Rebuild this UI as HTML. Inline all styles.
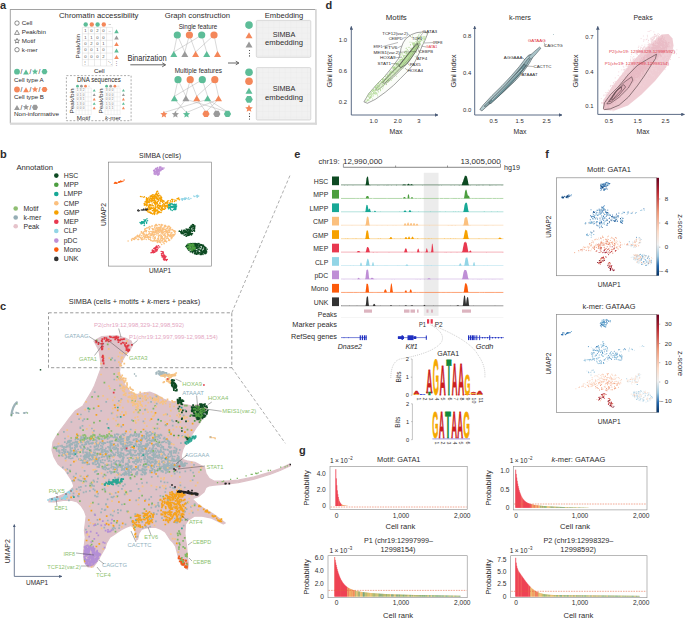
<!DOCTYPE html>
<html><head><meta charset="utf-8"><title>SIMBA figure</title>
<style>
html,body{margin:0;padding:0;background:#fff;}
body{width:685px;height:619px;overflow:hidden;}
svg{display:block;font-family:"Liberation Sans",sans-serif;}
</style></head><body>
<svg width="685" height="619" viewBox="0 0 685 619" fill="#2e2c2d">
<defs>
<marker id="ah" viewBox="0 0 10 10" refX="9" refY="5" markerWidth="4" markerHeight="4" orient="auto"><path d="M0 0L10 5L0 10z" fill="#4a5b78"/></marker>
<marker id="ahg" viewBox="0 0 10 10" refX="9" refY="5" markerWidth="4" markerHeight="4" orient="auto"><path d="M0 0L10 5L0 10z" fill="#555"/></marker>
<marker id="ahs" viewBox="0 0 10 10" refX="9" refY="5" markerWidth="5" markerHeight="5" orient="auto"><path d="M0 1L10 5L0 9z" fill="#333"/></marker>
<pattern id="grid" width="5.6" height="5.6" patternUnits="userSpaceOnUse"><path d="M5.6 0V5.6H0" fill="none" stroke="#e2e2e2" stroke-width="0.4"/></pattern>
</defs>
<text x="0.0" y="9.0" font-size="11" font-weight="bold">a</text>
<line x1="10.3" y1="9.5" x2="316.0" y2="9.5" stroke="#8a8a8a" stroke-width="0.8"/>
<line x1="10.3" y1="9.1" x2="10.3" y2="123.5" stroke="#8a8a8a" stroke-width="0.8"/>
<rect x="315.0" y="9.1" width="1.8" height="115.6" fill="#d8d8d8"/>
<rect x="10.0" y="122.6" width="306.8" height="2.2" fill="#d8d8d8"/>
<circle cx="17.0" cy="23.1" r="2.2" fill="none" stroke="#333" stroke-width="0.55"/>
<text x="21.8" y="25.2" font-size="6.2">Cell</text>
<polygon points="17.0,30.2 19.4,34.4 14.6,34.4" fill="none" stroke="#333" stroke-width="0.55" stroke-linejoin="round"/>
<text x="21.8" y="34.2" font-size="6.2">Peak/bin</text>
<polygon points="17.0,38.4 17.7,40.1 19.5,40.2 18.1,41.4 18.5,43.1 17.0,42.2 15.5,43.1 15.9,41.4 14.5,40.2 16.3,40.1" fill="none" stroke="#333" stroke-width="0.55" stroke-linejoin="round"/>
<text x="21.8" y="43.0" font-size="6.2">Motif</text>
<circle cx="17.0" cy="49.7" r="2.2" fill="none" stroke="#333" stroke-width="0.55"/>
<text x="21.8" y="51.8" font-size="6.2">k-mer</text>
<circle cx="17.0" cy="71.7" r="2.9" fill="#5dbd98"/>
<text x="20.6" y="74.3" font-size="6.5">/</text>
<polygon points="26.0,69.4 28.9,74.4 23.1,74.4" fill="#5dbd98"/>
<text x="29.6" y="74.3" font-size="6.5">/</text>
<polygon points="35.0,68.4 35.9,70.5 38.1,70.7 36.4,72.2 36.9,74.4 35.0,73.2 33.1,74.4 33.6,72.2 31.9,70.7 34.1,70.5" fill="#5dbd98"/>
<text x="38.6" y="74.3" font-size="6.5">/</text>
<polygon points="47.5,71.7 46.0,74.3 43.0,74.3 41.5,71.7 43.0,69.1 46.0,69.1" fill="#5dbd98"/>
<text x="14.0" y="81.6" font-size="6.2">Cell type A</text>
<circle cx="17.0" cy="89.5" r="2.9" fill="#f4875a"/>
<text x="20.6" y="92.1" font-size="6.5">/</text>
<polygon points="26.0,87.2 28.9,92.2 23.1,92.2" fill="#f4875a"/>
<text x="29.6" y="92.1" font-size="6.5">/</text>
<polygon points="35.0,86.2 35.9,88.3 38.1,88.5 36.4,90.0 36.9,92.2 35.0,91.0 33.1,92.2 33.6,90.0 31.9,88.5 34.1,88.3" fill="#f4875a"/>
<text x="38.6" y="92.1" font-size="6.5">/</text>
<polygon points="47.5,89.5 46.0,92.1 43.0,92.1 41.5,89.5 43.0,86.9 46.0,86.9" fill="#f4875a"/>
<text x="14.0" y="98.5" font-size="6.2">Cell type B</text>
<polygon points="17.0,105.0 19.9,110.0 14.1,110.0" fill="#9a9a9a"/>
<text x="20.6" y="109.9" font-size="6.5">/</text>
<polygon points="26.0,104.0 26.9,106.1 29.1,106.3 27.4,107.8 27.9,110.0 26.0,108.8 24.1,110.0 24.6,107.8 22.9,106.3 25.1,106.1" fill="#9a9a9a"/>
<text x="29.6" y="109.9" font-size="6.5">/</text>
<polygon points="38.0,107.3 36.5,109.9 33.5,109.9 32.0,107.3 33.5,104.7 36.5,104.7" fill="#9a9a9a"/>
<text x="14.0" y="116.1" font-size="6.2" textLength="45.0" lengthAdjust="spacingAndGlyphs">Non-informative</text>
<text x="59.0" y="17.5" font-size="8.1" textLength="79.5" lengthAdjust="spacingAndGlyphs">Chromatin accessibility</text>
<line x1="82.4" y1="27.4" x2="82.4" y2="66.0" stroke="#cfcfcf" stroke-width="0.4"/>
<line x1="88.4" y1="27.4" x2="88.4" y2="66.0" stroke="#cfcfcf" stroke-width="0.4"/>
<line x1="94.5" y1="27.4" x2="94.5" y2="66.0" stroke="#cfcfcf" stroke-width="0.4"/>
<line x1="100.5" y1="27.4" x2="100.5" y2="66.0" stroke="#cfcfcf" stroke-width="0.4"/>
<line x1="106.6" y1="27.4" x2="106.6" y2="66.0" stroke="#cfcfcf" stroke-width="0.4"/>
<line x1="112.6" y1="27.4" x2="112.6" y2="66.0" stroke="#cfcfcf" stroke-width="0.4"/>
<line x1="82.4" y1="27.4" x2="112.6" y2="27.4" stroke="#cfcfcf" stroke-width="0.4"/>
<line x1="82.4" y1="33.8" x2="112.6" y2="33.8" stroke="#cfcfcf" stroke-width="0.4"/>
<line x1="82.4" y1="40.3" x2="112.6" y2="40.3" stroke="#cfcfcf" stroke-width="0.4"/>
<line x1="82.4" y1="46.7" x2="112.6" y2="46.7" stroke="#cfcfcf" stroke-width="0.4"/>
<line x1="82.4" y1="53.1" x2="112.6" y2="53.1" stroke="#cfcfcf" stroke-width="0.4"/>
<line x1="82.4" y1="59.6" x2="112.6" y2="59.6" stroke="#cfcfcf" stroke-width="0.4"/>
<line x1="82.4" y1="66.0" x2="112.6" y2="66.0" stroke="#cfcfcf" stroke-width="0.4"/>
<text x="85.4" y="32.1" font-size="4.2" text-anchor="middle" fill="#555">1</text>
<text x="91.5" y="32.1" font-size="4.2" text-anchor="middle" fill="#555">0</text>
<text x="97.5" y="32.1" font-size="4.2" text-anchor="middle" fill="#555">2</text>
<text x="103.5" y="32.1" font-size="4.2" text-anchor="middle" fill="#555">0</text>
<text x="85.4" y="38.5" font-size="4.2" text-anchor="middle" fill="#555">1</text>
<text x="91.5" y="38.5" font-size="4.2" text-anchor="middle" fill="#555">1</text>
<text x="97.5" y="38.5" font-size="4.2" text-anchor="middle" fill="#555">0</text>
<text x="103.5" y="38.5" font-size="4.2" text-anchor="middle" fill="#555">0</text>
<text x="85.4" y="45.0" font-size="4.2" text-anchor="middle" fill="#555">0</text>
<text x="91.5" y="45.0" font-size="4.2" text-anchor="middle" fill="#555">2</text>
<text x="97.5" y="45.0" font-size="4.2" text-anchor="middle" fill="#555">0</text>
<text x="103.5" y="45.0" font-size="4.2" text-anchor="middle" fill="#555">1</text>
<text x="85.4" y="51.4" font-size="4.2" text-anchor="middle" fill="#555">0</text>
<text x="91.5" y="51.4" font-size="4.2" text-anchor="middle" fill="#555">0</text>
<text x="97.5" y="51.4" font-size="4.2" text-anchor="middle" fill="#555">1</text>
<text x="103.5" y="51.4" font-size="4.2" text-anchor="middle" fill="#555">0</text>
<text x="85.4" y="57.9" font-size="4.2" text-anchor="middle" fill="#555">0</text>
<text x="91.5" y="57.9" font-size="4.2" text-anchor="middle" fill="#555">0</text>
<text x="97.5" y="57.9" font-size="4.2" text-anchor="middle" fill="#555">0</text>
<text x="103.5" y="57.9" font-size="4.2" text-anchor="middle" fill="#555">2</text>
<text x="109.6" y="32.1" font-size="4.2" text-anchor="middle" fill="#777">–</text>
<text x="85.4" y="64.3" font-size="4.2" text-anchor="middle" fill="#777">⋮</text>
<text x="109.6" y="64.3" font-size="4.2" text-anchor="middle" fill="#777">⋱</text>
<circle cx="85.7" cy="24.5" r="2.2" fill="#5dbd98"/>
<circle cx="91.8" cy="24.5" r="2.2" fill="#f4875a"/>
<circle cx="97.6" cy="24.5" r="2.2" fill="#5dbd98"/>
<circle cx="103.8" cy="24.5" r="2.2" fill="#f4875a"/>
<line x1="108.5" y1="24.5" x2="111.0" y2="24.5" stroke="#888" stroke-width="0.4"/>
<polygon points="116.5,29.3 118.8,33.3 114.2,33.3" fill="#5dbd98"/>
<polygon points="116.5,35.6 118.8,39.6 114.2,39.6" fill="#9a9a9a"/>
<polygon points="116.5,42.1 118.8,46.1 114.2,46.1" fill="#f4875a"/>
<polygon points="116.5,48.5 118.8,52.5 114.2,52.5" fill="#5dbd98"/>
<polygon points="116.5,55.0 118.8,59.0 114.2,59.0" fill="#f4875a"/>
<text x="116.5" y="64.5" font-size="5" text-anchor="middle" fill="#777">⋮</text>
<text x="80.5" y="46.2" font-size="6.2" text-anchor="middle" textLength="24.5" lengthAdjust="spacingAndGlyphs" transform="rotate(-90 80.5 46.2)">Peak/bin</text>
<text x="99.3" y="72.6" font-size="6.2" text-anchor="middle">Cell</text>
<text x="127.4" y="60.7" font-size="8.2" textLength="39.2" lengthAdjust="spacingAndGlyphs">Binarization</text>
<line x1="130.3" y1="64.8" x2="165.3" y2="64.8" stroke="#555" stroke-width="0.9"/>
<path d="M162.2 62.8L165.6 64.8L162.2 66.8" fill="none" stroke="#555" stroke-width="0.9"/>
<rect x="66.4" y="75.6" width="64.7" height="45.1" fill="none" stroke="#777" stroke-width="0.6" stroke-dasharray="2,1.6"/>
<text x="98.8" y="81.8" font-size="6.4" text-anchor="middle" textLength="43.8" lengthAdjust="spacingAndGlyphs">DNA sequences</text>
<line x1="76.0" y1="88.0" x2="76.0" y2="114.6" stroke="#d5d5d5" stroke-width="0.3"/>
<line x1="79.1" y1="88.0" x2="79.1" y2="114.6" stroke="#d5d5d5" stroke-width="0.3"/>
<line x1="82.1" y1="88.0" x2="82.1" y2="114.6" stroke="#d5d5d5" stroke-width="0.3"/>
<line x1="85.2" y1="88.0" x2="85.2" y2="114.6" stroke="#d5d5d5" stroke-width="0.3"/>
<line x1="88.2" y1="88.0" x2="88.2" y2="114.6" stroke="#d5d5d5" stroke-width="0.3"/>
<line x1="91.3" y1="88.0" x2="91.3" y2="114.6" stroke="#d5d5d5" stroke-width="0.3"/>
<line x1="76.0" y1="88.0" x2="91.3" y2="88.0" stroke="#d5d5d5" stroke-width="0.3"/>
<line x1="76.0" y1="92.4" x2="91.3" y2="92.4" stroke="#d5d5d5" stroke-width="0.3"/>
<line x1="76.0" y1="96.9" x2="91.3" y2="96.9" stroke="#d5d5d5" stroke-width="0.3"/>
<line x1="76.0" y1="101.3" x2="91.3" y2="101.3" stroke="#d5d5d5" stroke-width="0.3"/>
<line x1="76.0" y1="105.7" x2="91.3" y2="105.7" stroke="#d5d5d5" stroke-width="0.3"/>
<line x1="76.0" y1="110.2" x2="91.3" y2="110.2" stroke="#d5d5d5" stroke-width="0.3"/>
<line x1="76.0" y1="114.6" x2="91.3" y2="114.6" stroke="#d5d5d5" stroke-width="0.3"/>
<text x="77.5" y="91.3" font-size="3.0" text-anchor="middle" fill="#777">1</text>
<text x="80.6" y="91.3" font-size="3.0" text-anchor="middle" fill="#777">3</text>
<text x="83.7" y="91.3" font-size="3.0" text-anchor="middle" fill="#777">2</text>
<text x="77.5" y="95.8" font-size="3.0" text-anchor="middle" fill="#777">0</text>
<text x="80.6" y="95.8" font-size="3.0" text-anchor="middle" fill="#777">1</text>
<text x="83.7" y="95.8" font-size="3.0" text-anchor="middle" fill="#777">0</text>
<text x="77.5" y="100.2" font-size="3.0" text-anchor="middle" fill="#777">0</text>
<text x="80.6" y="100.2" font-size="3.0" text-anchor="middle" fill="#777">3</text>
<text x="83.7" y="100.2" font-size="3.0" text-anchor="middle" fill="#777">1</text>
<text x="77.5" y="104.6" font-size="3.0" text-anchor="middle" fill="#777">1</text>
<text x="80.6" y="104.6" font-size="3.0" text-anchor="middle" fill="#777">3</text>
<text x="83.7" y="104.6" font-size="3.0" text-anchor="middle" fill="#777">0</text>
<text x="77.5" y="109.0" font-size="3.0" text-anchor="middle" fill="#777">0</text>
<text x="80.6" y="109.0" font-size="3.0" text-anchor="middle" fill="#777">0</text>
<text x="83.7" y="109.0" font-size="3.0" text-anchor="middle" fill="#777">0</text>
<circle cx="77.5" cy="86.2" r="1.4" fill="#5dbd98"/>
<circle cx="81.4" cy="86.2" r="1.4" fill="#9a9a9a"/>
<circle cx="85.5" cy="86.2" r="1.4" fill="#f4875a"/>
<line x1="88.0" y1="86.2" x2="90.0" y2="86.2" stroke="#999" stroke-width="0.3"/>
<polygon points="94.2,88.9 95.7,91.5 92.7,91.5" fill="#5dbd98"/>
<polygon points="94.2,93.3 95.7,96.0 92.7,96.0" fill="#9a9a9a"/>
<polygon points="94.2,97.8 95.7,100.4 92.7,100.4" fill="#f4875a"/>
<polygon points="94.2,102.2 95.7,104.8 92.7,104.8" fill="#5dbd98"/>
<polygon points="94.2,106.6 95.7,109.3 92.7,109.3" fill="#f4875a"/>
<line x1="105.0" y1="88.0" x2="105.0" y2="114.6" stroke="#d5d5d5" stroke-width="0.3"/>
<line x1="108.0" y1="88.0" x2="108.0" y2="114.6" stroke="#d5d5d5" stroke-width="0.3"/>
<line x1="111.1" y1="88.0" x2="111.1" y2="114.6" stroke="#d5d5d5" stroke-width="0.3"/>
<line x1="114.1" y1="88.0" x2="114.1" y2="114.6" stroke="#d5d5d5" stroke-width="0.3"/>
<line x1="117.2" y1="88.0" x2="117.2" y2="114.6" stroke="#d5d5d5" stroke-width="0.3"/>
<line x1="120.2" y1="88.0" x2="120.2" y2="114.6" stroke="#d5d5d5" stroke-width="0.3"/>
<line x1="105.0" y1="88.0" x2="120.2" y2="88.0" stroke="#d5d5d5" stroke-width="0.3"/>
<line x1="105.0" y1="92.4" x2="120.2" y2="92.4" stroke="#d5d5d5" stroke-width="0.3"/>
<line x1="105.0" y1="96.9" x2="120.2" y2="96.9" stroke="#d5d5d5" stroke-width="0.3"/>
<line x1="105.0" y1="101.3" x2="120.2" y2="101.3" stroke="#d5d5d5" stroke-width="0.3"/>
<line x1="105.0" y1="105.7" x2="120.2" y2="105.7" stroke="#d5d5d5" stroke-width="0.3"/>
<line x1="105.0" y1="110.2" x2="120.2" y2="110.2" stroke="#d5d5d5" stroke-width="0.3"/>
<line x1="105.0" y1="114.6" x2="120.2" y2="114.6" stroke="#d5d5d5" stroke-width="0.3"/>
<text x="106.5" y="91.3" font-size="3.0" text-anchor="middle" fill="#777">3</text>
<text x="109.6" y="91.3" font-size="3.0" text-anchor="middle" fill="#777">0</text>
<text x="112.6" y="91.3" font-size="3.0" text-anchor="middle" fill="#777">0</text>
<text x="106.5" y="95.8" font-size="3.0" text-anchor="middle" fill="#777">3</text>
<text x="109.6" y="95.8" font-size="3.0" text-anchor="middle" fill="#777">0</text>
<text x="112.6" y="95.8" font-size="3.0" text-anchor="middle" fill="#777">0</text>
<text x="106.5" y="100.2" font-size="3.0" text-anchor="middle" fill="#777">0</text>
<text x="109.6" y="100.2" font-size="3.0" text-anchor="middle" fill="#777">0</text>
<text x="112.6" y="100.2" font-size="3.0" text-anchor="middle" fill="#777">2</text>
<text x="106.5" y="104.6" font-size="3.0" text-anchor="middle" fill="#777">1</text>
<text x="109.6" y="104.6" font-size="3.0" text-anchor="middle" fill="#777">5</text>
<text x="112.6" y="104.6" font-size="3.0" text-anchor="middle" fill="#777">0</text>
<text x="106.5" y="109.0" font-size="3.0" text-anchor="middle" fill="#777">0</text>
<text x="109.6" y="109.0" font-size="3.0" text-anchor="middle" fill="#777">1</text>
<text x="112.6" y="109.0" font-size="3.0" text-anchor="middle" fill="#777">1</text>
<circle cx="106.6" cy="86.2" r="1.4" fill="#5dbd98"/>
<circle cx="110.7" cy="86.2" r="1.4" fill="#9a9a9a"/>
<circle cx="114.9" cy="86.2" r="1.4" fill="#f4875a"/>
<line x1="117.4" y1="86.2" x2="119.4" y2="86.2" stroke="#999" stroke-width="0.3"/>
<polygon points="123.4,88.9 124.9,91.5 121.9,91.5" fill="#5dbd98"/>
<polygon points="123.4,93.3 124.9,96.0 121.9,96.0" fill="#9a9a9a"/>
<polygon points="123.4,97.8 124.9,100.4 121.9,100.4" fill="#f4875a"/>
<polygon points="123.4,102.2 124.9,104.8 121.9,104.8" fill="#5dbd98"/>
<polygon points="123.4,106.6 124.9,109.3 121.9,109.3" fill="#f4875a"/>
<text x="73.8" y="101.0" font-size="6.2" text-anchor="middle" textLength="25.0" lengthAdjust="spacingAndGlyphs" transform="rotate(-90 73.8 101.0)">Peak/bin</text>
<text x="103.0" y="101.0" font-size="6.2" text-anchor="middle" textLength="25.0" lengthAdjust="spacingAndGlyphs" transform="rotate(-90 103.0 101.0)">Peak/bin</text>
<text x="83.5" y="119.8" font-size="6.2" text-anchor="middle">Motif</text>
<text x="113" y="119.8" font-size="6.2" text-anchor="middle"><tspan font-style="italic">k</tspan>-mer</text>
<text x="164.7" y="17.5" font-size="8.1" textLength="65.3" lengthAdjust="spacingAndGlyphs">Graph construction</text>
<text x="178.7" y="28.6" font-size="6.4" textLength="38.5" lengthAdjust="spacingAndGlyphs">Single feature</text>
<line x1="177.3" y1="35.0" x2="173.8" y2="52.0" stroke="#aaa" stroke-width="0.45"/>
<line x1="177.3" y1="35.0" x2="184.8" y2="52.0" stroke="#aaa" stroke-width="0.45"/>
<line x1="189.4" y1="35.0" x2="184.8" y2="52.0" stroke="#aaa" stroke-width="0.45"/>
<line x1="189.4" y1="35.0" x2="195.6" y2="52.0" stroke="#aaa" stroke-width="0.45"/>
<line x1="201.7" y1="35.0" x2="173.8" y2="52.0" stroke="#aaa" stroke-width="0.45"/>
<line x1="201.7" y1="35.0" x2="206.7" y2="52.0" stroke="#aaa" stroke-width="0.45"/>
<line x1="214.0" y1="35.0" x2="195.6" y2="52.0" stroke="#aaa" stroke-width="0.45"/>
<line x1="214.0" y1="35.0" x2="217.5" y2="52.0" stroke="#aaa" stroke-width="0.45"/>
<circle cx="177.3" cy="35.0" r="3.6" fill="#5dbd98"/>
<circle cx="189.4" cy="35.0" r="3.6" fill="#f4875a"/>
<circle cx="201.7" cy="35.0" r="3.6" fill="#5dbd98"/>
<circle cx="214.0" cy="35.0" r="3.6" fill="#f4875a"/>
<polygon points="173.8,51.0 177.3,57.0 170.3,57.0" fill="#5dbd98"/>
<polygon points="184.8,51.0 188.3,57.0 181.3,57.0" fill="#9a9a9a"/>
<polygon points="195.6,51.0 199.1,57.0 192.1,57.0" fill="#f4875a"/>
<polygon points="206.7,51.0 210.2,57.0 203.2,57.0" fill="#5dbd98"/>
<polygon points="217.5,51.0 221.0,57.0 214.0,57.0" fill="#f4875a"/>
<text x="174.7" y="72.5" font-size="6.4" textLength="47.3" lengthAdjust="spacingAndGlyphs">Multiple features</text>
<line x1="178.0" y1="79.7" x2="174.4" y2="96.3" stroke="#aaa" stroke-width="0.45"/>
<line x1="178.0" y1="79.7" x2="185.9" y2="96.3" stroke="#aaa" stroke-width="0.45"/>
<line x1="190.2" y1="79.7" x2="185.9" y2="96.3" stroke="#aaa" stroke-width="0.45"/>
<line x1="190.2" y1="79.7" x2="196.8" y2="96.3" stroke="#aaa" stroke-width="0.45"/>
<line x1="202.3" y1="79.7" x2="174.4" y2="96.3" stroke="#aaa" stroke-width="0.45"/>
<line x1="202.3" y1="79.7" x2="207.6" y2="96.3" stroke="#aaa" stroke-width="0.45"/>
<line x1="214.8" y1="79.7" x2="196.8" y2="96.3" stroke="#aaa" stroke-width="0.45"/>
<line x1="214.8" y1="79.7" x2="218.5" y2="96.3" stroke="#aaa" stroke-width="0.45"/>
<line x1="207.6" y1="99.3" x2="163.9" y2="112.5" stroke="#aaa" stroke-width="0.45"/>
<line x1="185.9" y1="99.3" x2="175.4" y2="112.5" stroke="#aaa" stroke-width="0.45"/>
<line x1="174.4" y1="99.3" x2="186.5" y2="112.5" stroke="#aaa" stroke-width="0.45"/>
<line x1="218.5" y1="99.3" x2="186.5" y2="112.5" stroke="#aaa" stroke-width="0.45"/>
<line x1="196.8" y1="99.3" x2="206.0" y2="111.9" stroke="#aaa" stroke-width="0.45"/>
<line x1="207.6" y1="99.3" x2="216.8" y2="111.9" stroke="#aaa" stroke-width="0.45"/>
<line x1="207.6" y1="99.3" x2="227.5" y2="111.9" stroke="#aaa" stroke-width="0.45"/>
<line x1="218.5" y1="99.3" x2="206.0" y2="111.9" stroke="#aaa" stroke-width="0.45"/>
<line x1="185.9" y1="99.3" x2="227.5" y2="111.9" stroke="#aaa" stroke-width="0.45"/>
<circle cx="178.0" cy="79.7" r="3.6" fill="#5dbd98"/>
<circle cx="190.2" cy="79.7" r="3.6" fill="#f4875a"/>
<circle cx="202.3" cy="79.7" r="3.6" fill="#5dbd98"/>
<circle cx="214.8" cy="79.7" r="3.6" fill="#f4875a"/>
<polygon points="174.4,95.3 177.9,101.3 170.9,101.3" fill="#5dbd98"/>
<polygon points="185.9,95.3 189.4,101.3 182.4,101.3" fill="#9a9a9a"/>
<polygon points="196.8,95.3 200.3,101.3 193.3,101.3" fill="#f4875a"/>
<polygon points="207.6,95.3 211.1,101.3 204.1,101.3" fill="#5dbd98"/>
<polygon points="218.5,95.3 222.0,101.3 215.0,101.3" fill="#f4875a"/>
<polygon points="163.9,110.7 164.9,113.1 167.5,113.3 165.5,115.0 166.1,117.6 163.9,116.2 161.7,117.6 162.3,115.0 160.3,113.3 162.9,113.1" fill="#f4875a"/>
<polygon points="175.4,110.7 176.4,113.1 179.0,113.3 177.0,115.0 177.6,117.6 175.4,116.2 173.2,117.6 173.8,115.0 171.8,113.3 174.4,113.1" fill="#9a9a9a"/>
<polygon points="186.5,110.7 187.5,113.1 190.1,113.3 188.1,115.0 188.7,117.6 186.5,116.2 184.3,117.6 184.9,115.0 182.9,113.3 185.5,113.1" fill="#5dbd98"/>
<polygon points="209.6,113.9 207.8,117.0 204.2,117.0 202.4,113.9 204.2,110.8 207.8,110.8" fill="#f4875a"/>
<polygon points="220.4,113.9 218.6,117.0 215.0,117.0 213.2,113.9 215.0,110.8 218.6,110.8" fill="#9a9a9a"/>
<polygon points="231.1,113.9 229.3,117.0 225.7,117.0 223.9,113.9 225.7,110.8 229.3,110.8" fill="#5dbd98"/>
<line x1="228.0" y1="63.0" x2="238.6" y2="63.0" stroke="#555" stroke-width="0.9"/>
<path d="M235.8 61.2L238.9 63.0L235.8 64.8" fill="none" stroke="#555" stroke-width="0.9"/>
<text x="264.8" y="17.5" font-size="8.1" textLength="38.5" lengthAdjust="spacingAndGlyphs">Embedding</text>
<rect x="256.3" y="20.4" width="54.5" height="36.9" rx="1.2" fill="#f1f1f1" stroke="#c4c4c4" stroke-width="0.6"/>
<rect x="256.6" y="20.7" width="53.9" height="36.3" fill="url(#grid)"/>
<rect x="256.3" y="67.6" width="54.5" height="52.4" rx="1.2" fill="#f1f1f1" stroke="#c4c4c4" stroke-width="0.6"/>
<rect x="256.6" y="67.9" width="53.9" height="51.8" fill="url(#grid)"/>
<text x="284.0" y="36.7" font-size="7.4" text-anchor="middle" textLength="22.5" lengthAdjust="spacingAndGlyphs">SIMBA</text>
<text x="284.0" y="45.3" font-size="7.4" text-anchor="middle" textLength="38.0" lengthAdjust="spacingAndGlyphs">embedding</text>
<text x="284.0" y="91.3" font-size="7.4" text-anchor="middle" textLength="22.5" lengthAdjust="spacingAndGlyphs">SIMBA</text>
<text x="284.0" y="99.9" font-size="7.4" text-anchor="middle" textLength="38.0" lengthAdjust="spacingAndGlyphs">embedding</text>
<circle cx="249.0" cy="25.1" r="3.8" fill="#5dbd98"/>
<polygon points="249.0,32.2 252.5,38.2 245.5,38.2" fill="#f4875a"/>
<polygon points="249.0,41.6 252.5,47.6 245.5,47.6" fill="#9a9a9a"/>
<circle cx="249.5" cy="50.5" r="0.55" fill="#333"/>
<circle cx="249.5" cy="53.2" r="0.55" fill="#333"/>
<circle cx="249.5" cy="55.9" r="0.55" fill="#333"/>
<circle cx="249.0" cy="72.3" r="3.8" fill="#5dbd98"/>
<circle cx="249.0" cy="81.3" r="3.8" fill="#f4875a"/>
<polygon points="249.0,87.8 252.5,93.8 245.5,93.8" fill="#5dbd98"/>
<polygon points="252.8,99.4 250.9,102.7 247.1,102.7 245.2,99.4 247.1,96.1 250.9,96.1" fill="#5dbd98"/>
<polygon points="249.0,104.6 250.1,107.1 252.8,107.4 250.7,109.2 251.4,111.8 249.0,110.4 246.6,111.8 247.3,109.2 245.2,107.4 247.9,107.1" fill="#f4875a"/>
<circle cx="249.5" cy="113.8" r="0.55" fill="#333"/>
<circle cx="249.5" cy="116.4" r="0.55" fill="#333"/>
<circle cx="249.5" cy="119.0" r="0.55" fill="#333"/>
<text x="0.0" y="157.6" font-size="11" font-weight="bold">b</text>
<text x="16.4" y="169.6" font-size="6.9" textLength="36.6" lengthAdjust="spacingAndGlyphs">Annotation</text>
<circle cx="56.3" cy="175.6" r="2.3" fill="#0d4a22"/>
<text x="63.7" y="178.0" font-size="6.9">HSC</text>
<circle cx="56.3" cy="184.8" r="2.3" fill="#4c9e3f"/>
<text x="63.7" y="187.2" font-size="6.9">MPP</text>
<circle cx="56.3" cy="194.0" r="2.3" fill="#17a896"/>
<text x="63.7" y="196.4" font-size="6.9">LMPP</text>
<circle cx="56.3" cy="203.3" r="2.3" fill="#fbc07e"/>
<text x="63.7" y="205.7" font-size="6.9">CMP</text>
<circle cx="56.3" cy="212.5" r="2.3" fill="#f6a100"/>
<text x="63.7" y="214.9" font-size="6.9">GMP</text>
<circle cx="56.3" cy="221.8" r="2.3" fill="#e8384f"/>
<text x="63.7" y="224.2" font-size="6.9">MEP</text>
<circle cx="56.3" cy="231.0" r="2.3" fill="#92d5e6"/>
<text x="63.7" y="233.4" font-size="6.9">CLP</text>
<circle cx="56.3" cy="240.6" r="2.3" fill="#bf8fd6"/>
<text x="63.7" y="243.0" font-size="6.9">pDC</text>
<circle cx="56.3" cy="249.6" r="2.3" fill="#fc5a0a"/>
<text x="63.7" y="252.0" font-size="6.9">Mono</text>
<circle cx="56.3" cy="258.9" r="2.3" fill="#333333"/>
<text x="63.7" y="261.3" font-size="6.9">UNK</text>
<circle cx="15.7" cy="208.5" r="2.3" fill="#8fbe72"/>
<text x="23.6" y="210.9" font-size="6.9">Motif</text>
<circle cx="15.7" cy="217.5" r="2.3" fill="#95adb5"/>
<text x="23.6" y="219.9" font-size="6.9">k-mer</text>
<circle cx="15.7" cy="226.3" r="2.3" fill="#e6c3cb"/>
<text x="23.6" y="228.7" font-size="6.9">Peak</text>
<text x="160.0" y="157.7" font-size="6.9" text-anchor="middle" textLength="42.0" lengthAdjust="spacingAndGlyphs">SIMBA (cells)</text>
<rect x="108.6" y="162.1" width="102.8" height="104.0" fill="none" stroke="#777" stroke-width="0.6"/>
<text x="160.0" y="273.0" font-size="6.9" text-anchor="middle" textLength="22.0" lengthAdjust="spacingAndGlyphs">UMAP1</text>
<text x="105.6" y="214.6" font-size="6.9" text-anchor="middle" textLength="23.0" lengthAdjust="spacingAndGlyphs" transform="rotate(-90 105.6 214.6)">UMAP2</text>
<path d="M157.1 167.9h0M160.7 167.1h0M159.4 170.0h0M154.2 171.4h0M154.0 170.6h0M158.2 174.4h0M159.9 170.3h0M162.9 169.2h0M156.9 174.3h0M155.5 172.1h0M160.5 170.0h0M159.5 167.1h0M161.0 170.6h0M157.0 172.1h0M158.5 169.3h0M156.2 172.0h0M161.5 169.2h0M158.1 173.8h0M155.2 171.2h0M154.0 172.9h0M159.9 170.9h0M158.7 172.9h0M154.2 173.2h0M162.5 169.2h0M157.8 172.9h0M153.8 170.9h0M154.2 173.9h0M157.8 174.9h0M154.5 170.8h0M156.6 170.5h0M157.5 175.0h0M164.0 167.9h0M155.5 168.7h0M156.1 171.1h0M160.0 169.0h0M153.6 170.5h0M157.6 171.9h0M159.2 172.4h0M160.9 167.0h0M157.8 170.3h0M154.7 172.6h0M154.7 170.0h0M160.3 167.9h0M156.3 169.8h0M157.5 167.6h0M158.6 171.1h0M157.3 169.0h0M162.6 168.0h0M159.3 167.9h0M156.4 170.0h0M155.4 173.9h0M159.4 174.0h0M157.2 168.6h0M156.0 171.5h0M156.4 173.1h0M156.0 168.6h0M155.7 168.4h0M154.5 172.8h0M155.5 174.1h0M157.2 174.2h0M161.5 168.1h0M155.2 174.4h0M157.4 171.8h0M158.3 174.9h0M162.6 168.5h0M156.3 169.3h0M156.2 172.1h0M156.4 170.5h0M157.4 170.9h0M159.0 171.6h0" stroke="#bf8fd6" stroke-width="1.5" stroke-linecap="round"/>
<path d="M119.4 182.1h0M116.1 182.9h0M114.7 183.0h0M119.1 182.4h0M119.4 181.8h0M119.4 182.3h0M121.1 181.5h0M121.8 181.3h0M119.5 181.9h0M120.3 181.9h0M119.1 182.0h0M123.0 181.2h0M120.1 181.7h0M115.3 183.3h0M114.3 183.3h0M120.7 180.9h0M115.0 182.4h0M115.8 182.3h0M116.2 182.7h0M119.4 182.1h0M114.8 183.1h0M117.2 182.9h0M121.6 181.7h0M118.5 182.3h0M119.9 181.9h0M124.1 180.0h0M114.6 183.2h0M121.7 181.7h0M118.6 181.9h0M116.7 183.4h0" stroke="#fc5a0a" stroke-width="1.3" stroke-linecap="round"/>
<path d="M159.2 207.3h0M162.4 200.6h0M161.0 209.8h0M156.1 198.5h0M158.8 212.8h0M158.1 196.0h0M152.2 197.6h0M157.3 194.5h0M163.6 203.7h0M148.9 201.8h0M157.2 210.6h0M154.4 202.6h0M153.1 210.5h0M162.9 205.7h0M154.7 198.7h0M145.7 208.3h0M167.4 206.6h0M151.4 196.1h0M151.7 201.4h0M148.0 201.1h0M170.1 203.6h0M152.2 198.9h0M156.6 202.5h0M149.2 202.5h0M146.2 200.0h0M152.0 195.9h0M159.6 203.1h0M164.1 206.3h0M154.3 198.2h0M163.4 205.9h0M168.0 205.5h0M147.5 203.0h0M157.4 210.6h0M159.6 212.0h0M162.3 207.1h0M147.4 199.0h0M146.6 210.6h0M158.9 205.5h0M160.7 206.8h0M165.4 208.5h0M157.4 203.3h0M157.2 199.5h0M156.8 206.9h0M164.6 205.3h0M162.0 207.1h0M157.8 201.5h0M156.4 193.1h0M155.9 196.8h0M149.5 204.4h0M147.6 203.0h0M166.0 202.6h0M167.8 207.4h0M150.0 212.1h0M156.0 197.6h0M147.6 198.6h0M152.3 210.7h0M153.9 199.8h0M153.5 200.7h0M146.5 210.6h0M151.5 213.0h0M150.5 196.7h0M157.6 194.8h0M153.9 213.6h0M160.9 212.5h0M169.3 203.6h0M163.6 201.2h0M164.2 205.9h0M156.6 198.6h0M151.8 208.2h0M161.6 197.5h0M158.9 199.8h0M149.4 212.3h0M157.2 195.6h0M156.0 193.6h0M150.2 196.5h0M159.2 211.9h0M155.0 203.0h0M154.0 198.5h0M157.4 205.6h0M151.1 196.3h0M154.6 201.1h0M154.4 212.8h0M157.9 206.9h0M161.3 208.9h0M156.2 203.7h0M150.1 212.7h0M161.3 197.6h0M161.0 207.3h0M158.0 204.4h0M154.3 195.7h0M151.9 201.4h0M169.8 205.9h0M150.1 196.2h0M157.3 206.7h0M155.1 196.5h0M152.9 200.5h0M165.4 208.3h0M157.5 195.2h0M149.8 208.8h0M151.8 213.4h0M157.2 194.8h0M149.8 200.4h0M147.7 199.8h0M161.8 199.4h0M153.9 198.3h0M151.3 198.8h0M153.4 210.3h0M145.1 201.8h0M153.9 212.7h0M149.0 199.1h0M154.9 210.0h0M153.0 196.8h0M169.7 205.3h0M150.9 207.7h0M152.3 196.9h0M168.6 205.7h0M150.1 201.8h0M154.2 196.3h0M155.4 202.2h0M165.5 208.2h0M160.2 198.2h0M152.4 199.0h0M149.1 208.6h0M144.7 203.7h0M152.6 214.1h0M146.4 202.4h0M163.0 201.1h0M150.1 200.4h0M160.6 206.7h0M159.1 199.3h0M150.5 196.2h0M147.9 211.8h0M159.4 198.2h0M154.5 214.4h0M157.5 195.8h0M165.7 206.2h0M156.6 210.2h0M170.2 204.4h0M150.8 209.2h0M159.9 205.3h0M149.7 199.2h0M150.7 204.8h0M152.2 195.2h0M165.3 203.6h0M154.5 203.6h0M148.2 207.2h0M154.9 197.1h0M152.1 213.5h0M152.2 204.0h0M153.4 200.4h0M153.6 195.0h0M155.3 210.2h0M154.8 211.8h0M156.3 194.2h0M144.2 203.7h0M161.1 212.4h0M146.2 205.4h0M153.8 202.5h0M157.9 212.8h0M146.7 202.2h0M156.9 191.5h0M168.3 205.3h0M154.7 210.9h0M149.7 200.0h0M157.8 199.6h0M144.9 203.9h0M160.0 203.6h0M160.8 197.7h0M155.2 204.4h0M155.3 206.3h0M155.9 200.9h0M144.4 205.3h0M157.0 195.9h0M164.5 209.2h0M156.2 194.6h0M156.6 192.8h0M147.2 200.7h0M146.2 201.0h0M157.6 191.2h0M163.7 209.2h0M157.6 191.5h0M157.4 199.4h0M157.1 213.6h0M157.4 212.7h0M157.5 198.0h0M148.3 209.4h0M146.9 203.2h0M161.0 199.0h0M167.4 203.8h0M159.5 211.8h0M160.8 199.8h0M153.5 208.9h0M155.8 194.5h0M159.7 206.4h0M160.5 200.8h0M157.7 212.1h0M146.6 198.9h0M149.8 204.5h0M159.7 195.2h0M160.7 201.8h0M146.3 205.8h0M154.7 196.6h0M159.0 198.8h0M161.3 201.0h0M150.5 212.3h0M144.9 203.2h0M154.8 196.0h0M144.1 203.7h0M149.2 205.0h0M157.5 205.9h0M152.1 197.5h0M165.0 207.7h0M164.0 201.6h0M163.9 201.2h0M152.9 208.5h0M158.8 200.8h0M165.1 203.0h0M150.9 205.9h0M150.8 196.0h0M150.2 212.4h0M160.9 207.1h0M156.5 210.7h0M155.6 207.9h0M159.2 197.7h0M149.5 205.4h0M162.5 205.7h0M162.7 208.2h0M145.5 204.6h0M153.6 210.2h0M161.0 210.3h0M160.9 197.2h0M152.4 200.5h0M151.4 207.7h0M153.7 198.0h0M166.9 205.3h0M155.6 209.1h0M153.2 207.4h0M158.3 195.5h0M157.1 209.7h0M148.8 202.3h0M153.2 210.5h0M150.8 213.3h0M151.4 195.4h0M162.7 202.4h0M146.7 205.7h0M145.9 209.4h0M162.7 209.4h0M160.8 198.9h0M154.6 199.8h0M154.0 211.8h0M150.1 201.5h0M158.2 208.6h0M164.2 206.0h0M153.2 198.2h0M148.0 210.8h0M161.7 208.3h0M148.4 200.9h0M164.7 204.3h0M147.2 201.5h0M148.9 197.6h0M150.5 198.2h0M157.9 194.1h0M152.7 194.8h0M146.5 199.6h0M163.7 200.8h0M149.1 205.8h0M154.6 209.5h0M162.6 202.4h0M160.9 201.5h0M147.6 204.9h0M154.7 208.3h0M159.3 208.5h0M155.2 195.8h0M164.8 207.3h0M166.9 206.8h0M161.2 201.3h0M152.2 205.5h0M146.4 200.4h0M165.0 207.6h0M160.8 196.3h0M155.2 201.3h0M160.6 200.2h0M148.7 206.2h0M157.0 214.0h0M144.8 203.5h0M148.1 209.3h0M169.3 202.9h0M146.5 204.2h0M158.4 207.7h0M157.7 205.8h0M166.2 202.9h0M154.9 213.4h0M149.5 206.9h0M154.4 208.8h0M151.2 200.0h0M155.2 207.3h0M153.3 196.7h0M149.8 208.3h0M169.3 203.1h0M149.7 209.8h0M154.4 195.4h0M147.3 209.2h0M165.7 205.7h0M156.5 203.9h0M153.3 205.8h0M156.5 197.4h0M158.6 193.3h0M154.0 196.4h0M155.3 194.7h0M151.4 196.2h0M151.9 201.9h0M155.4 205.8h0M161.6 199.0h0M147.6 210.5h0M150.1 209.2h0M148.3 212.0h0M160.3 209.3h0M149.1 207.1h0M158.2 208.3h0M155.7 211.8h0M158.8 196.7h0M157.1 191.6h0M156.4 193.7h0M157.1 202.4h0M158.4 211.3h0M156.5 203.9h0M161.8 210.7h0M153.9 200.4h0M161.0 205.7h0M144.5 205.1h0M174.9 200.0h0M178.8 199.0h0M179.4 199.7h0M172.4 201.8h0M167.6 201.7h0M176.1 200.7h0M168.2 200.8h0M167.7 201.1h0M170.9 201.9h0M178.7 197.9h0M167.7 202.3h0M171.6 199.6h0M162.4 201.2h0M172.5 201.0h0M162.8 204.7h0M172.2 199.4h0M177.5 198.6h0M172.9 199.5h0M174.5 201.4h0M170.3 200.8h0M166.6 202.6h0M178.0 198.7h0M177.0 198.7h0M166.4 202.8h0M166.7 202.2h0M146.4 198.1h0M142.0 196.8h0M144.4 196.8h0M140.5 196.6h0M146.4 197.8h0M143.8 197.3h0" stroke="#f6a100" stroke-width="1.5" stroke-linecap="round"/>
<path d="M170.3 204.4h0M174.5 204.2h0M176.2 204.2h0M168.5 208.7h0M170.5 208.9h0M175.3 208.7h0M176.0 208.8h0M169.1 208.1h0M174.7 206.8h0M174.2 209.5h0M169.1 205.6h0M174.9 204.5h0M176.1 207.0h0M168.9 206.1h0M173.5 206.6h0M174.4 204.4h0M175.5 206.0h0M174.1 208.1h0M172.1 206.2h0M175.4 207.6h0M171.0 203.7h0M175.8 205.8h0M175.8 207.8h0M171.1 206.5h0M176.3 206.1h0M174.5 207.9h0M170.7 206.5h0M173.6 209.5h0M175.8 209.5h0M176.1 207.6h0M170.8 209.8h0M175.6 208.5h0M176.6 205.9h0M169.1 207.5h0M175.5 204.8h0M170.5 207.9h0M174.4 206.8h0M170.2 205.2h0M175.1 209.3h0M172.5 203.9h0M175.6 209.2h0M170.4 207.7h0M173.0 206.9h0M173.6 204.7h0M170.1 204.6h0M174.6 206.0h0M173.4 206.3h0M173.0 204.4h0M171.7 204.1h0M174.0 209.3h0M169.7 207.8h0M171.4 207.2h0M172.7 207.6h0M170.7 209.2h0M172.2 210.5h0M175.2 209.5h0M168.7 204.8h0M168.8 207.5h0M176.2 206.8h0M168.9 207.8h0" stroke="#17a896" stroke-width="1.5" stroke-linecap="round"/>
<path d="M188.7 199.1h0M184.5 198.3h0M196.5 195.6h0M189.2 199.2h0M197.4 196.2h0M184.4 199.6h0M196.0 196.2h0M193.8 195.9h0M197.6 196.2h0M194.3 196.5h0M185.1 197.9h0M182.5 199.5h0M182.7 199.1h0M185.5 199.4h0M181.1 199.1h0M182.0 199.2h0M197.3 195.3h0M183.0 199.1h0M196.8 195.5h0M187.9 198.9h0M188.6 197.6h0M185.5 199.1h0M190.9 198.5h0M185.1 198.8h0M185.8 198.1h0M183.2 198.9h0M197.2 197.4h0M182.6 198.8h0M184.0 198.8h0M185.4 199.1h0M198.7 196.0h0M182.3 200.4h0M181.9 198.8h0M198.2 196.2h0M186.6 198.3h0" stroke="#92d5e6" stroke-width="1.4" stroke-linecap="round"/>
<path d="M146.3 209.2h0M142.3 209.8h0M143.8 210.0h0M145.8 209.1h0M138.5 211.0h0M142.6 210.2h0M143.8 208.8h0M143.8 209.9h0M144.8 209.9h0M137.8 210.3h0M147.1 208.8h0M137.7 210.5h0M147.0 209.5h0M146.4 209.5h0M141.2 210.1h0M142.4 210.1h0M138.2 209.7h0M146.6 210.0h0M141.4 209.9h0M147.6 209.1h0M142.3 209.8h0M137.6 210.7h0M139.4 210.7h0M146.6 209.4h0M145.1 209.6h0M143.4 209.4h0M145.9 210.1h0M145.5 209.6h0M142.3 209.9h0M138.2 210.7h0" stroke="#333333" stroke-width="1.3" stroke-linecap="round"/>
<path d="M144.5 225.1h0M140.8 222.9h0M145.8 219.8h0M142.8 221.7h0M146.6 222.5h0M146.1 221.1h0M140.0 222.5h0M141.6 221.7h0M144.9 221.3h0M143.2 222.4h0M147.0 218.8h0M144.9 220.6h0M145.3 220.6h0M144.1 225.6h0M144.8 220.4h0M143.9 221.8h0M147.6 220.7h0M142.1 223.5h0M140.5 223.1h0M141.8 222.1h0M144.0 219.7h0M142.0 221.6h0M140.3 222.7h0M146.6 223.2h0M144.3 223.5h0M141.2 223.9h0M143.4 222.7h0M144.7 222.1h0M141.4 222.4h0M142.8 223.0h0" stroke="#17a896" stroke-width="1.4" stroke-linecap="round"/>
<path d="M170.5 228.7h0M154.7 234.0h0M171.0 232.9h0M148.7 239.2h0M144.2 237.9h0M157.8 241.6h0M168.4 234.6h0M164.2 239.4h0M165.2 233.7h0M166.5 238.6h0M165.6 236.0h0M155.5 232.5h0M166.5 242.1h0M157.4 231.7h0M149.3 233.3h0M163.3 229.8h0M146.2 235.4h0M145.8 230.4h0M166.7 241.6h0M151.8 233.0h0M156.0 225.5h0M173.5 230.5h0M155.2 234.2h0M152.7 234.6h0M161.4 231.9h0M144.4 236.2h0M160.9 234.8h0M146.7 235.5h0M148.7 236.9h0M153.4 240.9h0M152.5 226.0h0M171.9 232.5h0M152.4 234.3h0M158.5 236.4h0M158.9 224.5h0M141.8 238.3h0M169.5 236.0h0M160.5 227.8h0M151.7 235.3h0M139.7 237.3h0M155.7 232.3h0M165.2 225.9h0M153.0 241.1h0M157.7 240.7h0M165.8 230.5h0M163.0 231.1h0M156.1 231.0h0M149.2 231.8h0M148.7 236.8h0M168.2 230.1h0M163.1 228.3h0M151.0 240.4h0M155.0 226.0h0M153.6 231.8h0M160.3 230.9h0M134.0 238.6h0M169.1 226.3h0M167.6 227.0h0M144.2 238.9h0M152.1 228.4h0M149.4 226.4h0M162.5 229.1h0M172.5 236.1h0M145.0 228.8h0M157.4 228.1h0M152.5 235.1h0M145.8 237.6h0M155.3 230.2h0M142.5 237.7h0M144.6 234.2h0M132.5 238.8h0M160.3 231.1h0M147.3 237.6h0M162.1 228.9h0M169.7 231.1h0M158.5 227.5h0M163.9 238.7h0M141.6 231.7h0M159.0 227.4h0M169.4 235.7h0M163.0 229.0h0M148.4 238.1h0M169.1 240.1h0M170.1 236.5h0M131.7 240.4h0M164.7 225.4h0M161.9 232.0h0M164.6 241.2h0M174.9 232.6h0M164.2 241.2h0M158.4 233.2h0M148.1 234.5h0M162.3 240.7h0M139.5 235.2h0M154.1 228.9h0M147.2 227.9h0M162.5 237.8h0M152.6 233.0h0M174.4 231.1h0M154.3 239.7h0M134.7 237.7h0M156.9 233.4h0M165.6 241.2h0M136.1 238.5h0M142.7 233.6h0M148.4 227.6h0M159.7 228.9h0M169.4 229.9h0M135.5 237.1h0M168.9 239.4h0M168.6 230.4h0M145.0 235.3h0M155.3 236.9h0M168.3 238.6h0M151.5 234.2h0M156.0 225.3h0M161.5 227.1h0M148.7 227.7h0M166.7 232.6h0M140.6 237.6h0M152.6 232.5h0M143.5 232.9h0M160.4 241.1h0M141.2 233.0h0M155.1 231.0h0M142.7 233.4h0M160.9 236.5h0M141.3 235.7h0M175.2 233.8h0M159.4 230.0h0M161.1 233.1h0M145.2 235.9h0M147.5 234.9h0M155.2 232.0h0M172.0 235.2h0M153.4 228.9h0M151.3 235.4h0M137.7 235.8h0M156.4 225.3h0M154.4 238.8h0M165.1 226.0h0M166.0 226.5h0M162.5 232.6h0M171.9 236.8h0M171.1 235.6h0M134.6 239.4h0M161.1 241.1h0M164.1 243.7h0M157.2 225.7h0M154.3 240.6h0M160.9 229.0h0M169.3 235.9h0M131.7 240.6h0M140.9 238.2h0M171.2 235.0h0M161.6 240.8h0M161.1 231.9h0M150.6 227.0h0M169.7 232.0h0M171.1 236.6h0M156.4 224.5h0M150.1 235.8h0M146.0 231.1h0M160.7 229.4h0M140.1 234.2h0M139.5 235.7h0M154.9 240.0h0M158.7 237.1h0M144.7 229.6h0M141.7 239.8h0M164.2 234.4h0M158.8 231.0h0M154.4 232.2h0M150.8 231.4h0M149.4 233.1h0M155.4 230.0h0M163.5 235.3h0M174.4 230.8h0M173.6 236.0h0M172.5 229.5h0M162.4 228.2h0M146.6 227.9h0M157.1 241.9h0M159.5 227.8h0M157.0 225.3h0M171.2 237.2h0M142.8 239.5h0M159.5 232.2h0M161.1 230.8h0M143.2 234.1h0M156.9 229.1h0M173.8 235.6h0M157.7 239.0h0M165.6 225.5h0M168.1 232.6h0M153.8 236.1h0M154.7 237.6h0M157.1 230.6h0M164.3 229.1h0M162.7 239.8h0M166.1 230.2h0M149.4 229.5h0M150.6 237.5h0M166.0 231.3h0M165.1 225.5h0M154.7 227.5h0M174.6 231.4h0M164.1 243.2h0M166.2 228.8h0M158.8 230.9h0M167.4 233.4h0M131.5 239.2h0M165.2 237.2h0M137.1 235.7h0M170.9 229.3h0M164.8 241.1h0M134.3 238.1h0M156.9 233.2h0M170.6 227.5h0M133.7 239.2h0M161.3 225.5h0M163.0 242.3h0M161.6 224.4h0M152.1 228.5h0M135.2 238.1h0M133.6 239.3h0M151.8 226.0h0M144.2 234.1h0M173.5 231.0h0M147.1 235.4h0M161.5 237.5h0M154.1 235.3h0M161.7 244.4h0M171.2 238.8h0M146.6 230.4h0M146.0 231.8h0M139.1 236.6h0M145.4 228.7h0M169.6 240.2h0M161.9 230.5h0M159.4 235.3h0M170.1 234.4h0M138.1 237.0h0M164.4 231.6h0M162.8 232.0h0M153.2 236.6h0M161.0 230.4h0M158.5 235.1h0M137.5 236.6h0M150.4 238.9h0M152.9 233.7h0M173.9 234.8h0M153.0 234.8h0M168.0 228.7h0M149.8 237.2h0M168.2 226.2h0M167.5 234.7h0M161.9 233.1h0M150.7 240.5h0M165.2 226.8h0M161.1 231.4h0M152.9 228.7h0M145.1 230.8h0M163.1 229.4h0M158.9 241.8h0M166.9 236.7h0M148.8 231.4h0M162.8 229.9h0M147.0 237.4h0M167.9 231.1h0M145.9 235.9h0M145.2 237.7h0M165.1 231.7h0M153.1 234.1h0M149.9 233.4h0M169.4 232.4h0M148.7 234.0h0M152.4 241.1h0M160.6 239.3h0M161.1 235.4h0M165.7 239.9h0M164.9 235.6h0M162.7 233.9h0M147.6 236.0h0M143.2 234.6h0M170.4 235.4h0M152.4 232.5h0M170.3 229.1h0M153.7 231.5h0M150.0 234.0h0M156.1 231.4h0M167.4 227.9h0M173.5 235.4h0M153.5 232.3h0M155.2 230.5h0M141.0 238.7h0M167.5 236.2h0M159.0 224.7h0M156.8 227.4h0M173.7 235.5h0M167.4 234.2h0M160.8 237.9h0M169.3 226.7h0M147.4 237.6h0M161.4 226.9h0M156.1 230.4h0M154.9 226.9h0M173.1 230.5h0M169.5 226.8h0M145.6 237.2h0M137.5 235.2h0M163.6 232.7h0M161.1 226.0h0M168.8 226.2h0M174.5 234.8h0M164.8 234.1h0M156.9 235.1h0M169.7 228.4h0M159.9 224.7h0M143.2 233.1h0M138.7 239.4h0M154.9 225.6h0M154.5 240.3h0M156.8 233.4h0M144.2 231.6h0M160.2 227.1h0M171.1 233.8h0M151.6 235.0h0M152.2 231.4h0M151.2 240.4h0M155.4 238.2h0M137.8 239.5h0M152.7 229.8h0M155.9 228.6h0M156.7 240.2h0M162.7 224.9h0M138.7 236.3h0M157.9 238.3h0M168.1 230.9h0M167.9 233.4h0M174.6 232.3h0M138.6 239.2h0M161.1 226.8h0M150.8 234.2h0M164.8 237.1h0M136.2 236.9h0M169.7 240.3h0M164.5 226.5h0M169.0 240.6h0M156.5 232.8h0M168.6 240.2h0M171.0 230.0h0M149.6 228.6h0M161.4 238.7h0M167.0 238.1h0M159.7 241.3h0M143.5 236.2h0M169.2 240.4h0M168.0 232.5h0M157.2 233.3h0M158.0 229.8h0M162.2 233.0h0M160.1 240.7h0M128.1 241.1h0M175.5 231.3h0M157.5 242.6h0M146.3 234.2h0M168.9 227.1h0M170.5 234.5h0M172.2 237.7h0M144.7 237.6h0M158.6 231.6h0M153.0 238.0h0M172.9 234.2h0M161.3 235.4h0M149.1 239.5h0M155.8 224.6h0M146.2 239.5h0M159.1 229.6h0M165.4 229.8h0M154.1 232.5h0M167.6 238.0h0M162.7 238.3h0M155.7 241.1h0M167.0 231.0h0M164.1 227.2h0M141.3 231.7h0M142.5 232.9h0M146.3 231.8h0M158.9 240.1h0M165.1 233.6h0M154.8 237.8h0M164.9 229.5h0M153.3 229.7h0M158.5 229.1h0M168.7 235.6h0M164.9 238.0h0M158.7 238.3h0M166.0 232.0h0M143.6 231.9h0M167.6 231.0h0M153.5 234.7h0M160.6 242.7h0M160.5 235.9h0M146.8 235.8h0M166.7 241.4h0M165.0 234.2h0M164.4 241.0h0M159.5 242.2h0M132.7 238.5h0M162.3 236.6h0M157.2 241.1h0M167.4 231.2h0M162.1 225.1h0M169.3 230.5h0M154.6 240.7h0M158.5 230.8h0M143.1 235.7h0M167.8 235.0h0M158.5 239.0h0" stroke="#fbc07e" stroke-width="1.5" stroke-linecap="round"/>
<path d="M188.1 229.0h0M186.8 231.3h0M194.8 228.1h0M185.8 232.5h0M190.3 229.7h0M181.1 233.1h0M186.9 229.5h0M181.2 232.7h0M187.7 232.7h0M190.5 232.9h0M190.5 231.8h0M180.6 231.8h0M184.0 235.1h0M192.0 229.7h0M186.1 236.2h0M186.2 234.2h0M187.7 230.3h0M190.7 228.8h0M181.5 231.3h0M192.5 233.7h0M193.5 230.6h0M188.8 234.9h0M186.3 231.9h0M193.8 228.8h0M179.5 231.3h0M185.8 231.3h0M189.0 232.8h0M186.1 229.0h0M189.7 232.8h0M181.9 232.1h0M190.0 229.9h0M191.7 234.2h0M189.0 233.2h0M181.6 232.3h0M194.0 227.3h0M191.2 225.4h0M187.6 234.2h0M186.6 231.7h0M188.3 233.9h0M190.7 234.5h0M192.8 225.4h0M191.3 225.9h0M190.0 231.4h0M186.9 229.7h0M184.9 231.6h0M189.2 235.3h0M190.7 233.9h0M189.8 234.5h0M185.3 234.8h0M185.5 232.8h0M191.1 227.5h0M183.5 233.5h0M191.5 235.0h0M191.8 230.6h0M183.3 231.8h0M184.2 230.7h0M194.9 226.1h0M187.1 232.1h0M187.3 235.6h0M184.9 235.3h0M189.9 232.6h0M191.0 233.3h0M188.2 232.1h0M188.3 232.6h0M182.5 233.5h0M190.0 229.6h0M194.3 228.3h0M192.5 224.5h0M192.4 226.9h0M189.6 227.5h0M193.8 226.1h0M189.4 231.3h0M189.3 231.1h0M184.2 232.9h0M182.1 233.8h0M191.3 226.9h0M189.1 229.9h0M193.2 224.7h0M189.5 234.3h0M185.9 232.8h0M184.1 229.9h0M194.4 230.9h0M190.9 231.0h0M193.0 225.5h0M194.5 230.5h0M193.1 226.7h0M194.1 229.8h0M181.3 232.2h0M189.3 230.4h0M190.9 230.7h0M181.8 230.2h0M188.5 232.1h0M192.9 228.6h0M193.8 226.3h0M181.7 231.4h0M193.7 225.1h0M181.1 233.3h0M188.1 235.6h0M184.8 232.4h0M186.8 235.7h0M186.4 236.2h0M192.5 226.6h0M183.8 232.3h0M187.7 232.8h0M187.0 231.2h0M193.5 224.8h0M188.1 229.6h0M185.0 235.0h0M189.5 234.6h0M194.7 227.4h0M194.5 229.1h0M185.2 230.6h0M189.3 230.4h0M189.4 231.3h0M194.8 226.5h0M190.0 227.2h0M187.0 232.4h0M188.8 229.9h0M189.6 233.9h0M189.8 232.8h0M194.7 226.7h0M193.7 227.0h0M190.8 228.5h0M189.5 233.5h0M179.1 231.2h0M194.5 231.2h0M184.0 232.7h0M191.3 234.3h0M189.1 231.9h0M181.2 233.5h0M192.3 231.5h0M190.6 227.4h0M180.8 232.6h0M182.4 232.8h0M195.0 225.9h0M183.6 230.5h0M188.8 232.6h0M182.4 233.8h0M190.7 228.3h0M194.2 231.0h0M190.0 228.8h0M190.4 226.9h0M191.9 233.9h0M179.4 231.3h0M181.1 232.8h0M192.0 233.8h0M189.5 231.0h0M187.2 233.0h0M189.1 232.6h0M188.6 235.1h0" stroke="#0d4a22" stroke-width="1.5" stroke-linecap="round"/>
<path d="M189.8 246.2h0M199.9 245.6h0M188.8 245.2h0M202.3 252.8h0M201.1 254.5h0M202.8 246.2h0M192.3 251.4h0M196.6 244.2h0M205.9 253.4h0M195.5 244.8h0M187.9 248.7h0M196.8 246.9h0M201.1 249.0h0M186.9 247.2h0M196.0 245.5h0M200.1 245.1h0M192.3 248.3h0M201.0 252.1h0M193.5 248.0h0M199.0 243.6h0M195.4 250.4h0M188.2 248.2h0M199.0 246.1h0M202.3 247.8h0M187.2 247.3h0M186.4 245.9h0M188.9 249.0h0M194.7 246.6h0M188.0 245.4h0M191.0 251.7h0M205.0 253.8h0M198.6 245.9h0M195.6 251.4h0M192.8 245.4h0M190.9 248.2h0M204.2 246.4h0M192.8 244.7h0M194.5 252.7h0M204.3 249.6h0M198.7 253.7h0M204.0 252.7h0M191.2 246.9h0M193.6 246.8h0M193.7 243.7h0M194.4 250.4h0M204.9 251.9h0M201.4 251.9h0M203.2 245.5h0M199.8 247.1h0M197.2 246.6h0M203.4 246.7h0M203.9 253.1h0M206.0 251.7h0M200.2 250.6h0M197.4 248.1h0M192.8 252.2h0M202.6 253.3h0M190.0 246.6h0M190.8 243.6h0M202.9 245.2h0M201.7 244.8h0M195.5 247.4h0M203.0 254.4h0M192.1 250.3h0M205.0 248.3h0M205.1 251.6h0M198.0 243.6h0M198.3 252.8h0M196.7 248.4h0M194.5 253.5h0M200.0 244.9h0M193.3 246.9h0M206.5 251.1h0M194.8 251.4h0M194.8 243.4h0M196.9 252.7h0M202.7 246.8h0M190.2 251.7h0M203.0 245.1h0M194.9 247.1h0M201.0 254.1h0M189.8 246.1h0M192.6 251.6h0M189.4 249.2h0M196.3 250.8h0M205.4 249.3h0M202.1 253.3h0M196.4 253.7h0M196.6 254.1h0M197.7 244.1h0M199.2 252.5h0M194.7 249.9h0M191.0 245.8h0M194.6 248.8h0M195.6 243.4h0M201.1 251.8h0M190.5 245.5h0M196.7 244.5h0M198.6 253.8h0M189.8 249.7h0M201.2 251.8h0M201.0 251.3h0M206.1 247.9h0M202.9 250.9h0M188.4 248.1h0M192.7 252.0h0M190.7 244.8h0M188.9 247.5h0M198.9 246.1h0M188.9 245.1h0M187.2 244.7h0M192.3 248.7h0M189.4 248.4h0M196.0 254.3h0M195.7 244.8h0M198.4 244.1h0M200.8 254.6h0M194.2 246.8h0M194.7 246.8h0M200.5 247.3h0M204.0 251.5h0M193.1 250.3h0M205.6 247.4h0M194.8 246.1h0M197.5 250.7h0M201.5 254.4h0M188.5 246.9h0M204.1 252.3h0M198.3 250.9h0M197.4 247.4h0M189.3 243.7h0M205.1 252.5h0M185.9 246.4h0M195.9 248.6h0M193.0 249.0h0M205.8 250.4h0M195.8 246.5h0M193.8 250.0h0M202.6 245.6h0M193.5 247.2h0M197.2 245.8h0M192.6 252.7h0M188.5 245.2h0M186.6 245.6h0M201.5 251.4h0M197.5 254.0h0M194.9 244.7h0M201.8 253.2h0M193.8 243.5h0M204.6 251.9h0M200.9 250.3h0M187.8 244.3h0M189.3 250.0h0M200.1 254.6h0M194.9 247.2h0M190.9 245.2h0M200.9 244.5h0M189.3 244.2h0M193.1 251.7h0M195.0 252.3h0M198.0 248.0h0M204.7 249.9h0M192.7 247.3h0M206.1 253.2h0M205.5 249.4h0M188.5 244.5h0M193.8 251.1h0M202.6 248.8h0M194.4 250.8h0M197.9 251.5h0M198.9 246.3h0M193.6 245.7h0M205.2 252.4h0M202.7 252.7h0M192.3 251.9h0M191.1 250.0h0M196.1 245.8h0M205.8 251.9h0M198.0 253.8h0M198.2 247.7h0M191.4 243.7h0M204.5 247.9h0M201.3 245.5h0M201.4 250.5h0M187.5 248.6h0M201.2 245.0h0M199.7 245.8h0M194.7 249.5h0M203.1 251.9h0M195.4 253.3h0M195.7 243.8h0M207.1 249.2h0M199.4 247.1h0M195.6 248.2h0M201.2 251.5h0M189.4 244.0h0M189.4 248.6h0M192.7 244.4h0M205.8 248.3h0M202.6 245.5h0M205.3 250.1h0M206.7 252.1h0M199.2 249.1h0M204.2 247.9h0M203.1 250.9h0M201.7 245.2h0M195.5 252.7h0M197.5 247.4h0M189.0 244.0h0M195.7 248.5h0M191.2 247.0h0M197.5 252.0h0M198.3 244.3h0M204.8 247.0h0M188.4 249.7h0M197.4 246.3h0M188.0 245.9h0M199.2 249.4h0M206.2 251.0h0M199.3 249.2h0M204.3 250.8h0M193.3 250.0h0M197.5 244.9h0M196.5 243.8h0M203.8 250.8h0M200.4 254.1h0M194.5 253.8h0M198.3 252.8h0M196.7 246.4h0M191.3 244.2h0M193.3 250.7h0M199.7 244.3h0M201.3 249.3h0M190.9 244.1h0M188.8 244.2h0M198.3 252.5h0M188.8 248.7h0M198.0 249.4h0M194.4 249.2h0M194.6 245.3h0M202.0 245.4h0M203.5 245.3h0M187.4 248.3h0M193.9 246.5h0M202.2 245.1h0M200.1 252.9h0M195.3 248.7h0M205.7 250.0h0M187.1 246.5h0M194.7 246.2h0M196.6 254.2h0M190.7 244.2h0M192.0 246.4h0M205.4 251.3h0M194.8 244.4h0M204.0 250.5h0M188.8 250.2h0M192.7 243.6h0M201.7 251.4h0M196.6 244.4h0" stroke="#0d4a22" stroke-width="1.5" stroke-linecap="round"/>
<path d="M192.4 246.6h0M192.3 244.1h0M188.2 246.4h0M189.3 245.4h0M192.4 245.1h0M189.9 248.5h0M190.2 244.6h0M187.1 247.1h0M190.7 244.9h0M192.4 247.1h0M193.7 245.6h0M190.6 244.5h0M190.7 244.4h0M192.6 248.5h0M191.6 250.6h0M193.6 244.3h0M189.2 243.9h0M191.6 248.7h0M189.4 248.5h0M189.6 248.7h0M194.2 248.1h0M192.8 244.3h0M189.7 248.4h0M189.5 249.8h0M194.6 249.2h0M194.2 247.8h0M195.2 248.2h0M195.0 247.6h0M188.0 247.2h0M190.7 245.9h0M189.6 247.2h0M191.6 245.1h0M188.7 247.1h0M190.9 246.5h0M192.4 244.8h0M191.1 245.5h0M193.3 248.6h0M193.4 247.2h0M190.9 246.2h0M188.9 246.4h0M192.8 249.4h0M190.7 248.8h0M188.1 246.8h0M189.5 245.7h0M189.5 249.0h0M193.0 245.0h0M188.3 249.2h0M192.3 248.4h0M192.1 248.5h0M189.5 243.7h0M195.1 247.3h0M193.7 245.1h0M189.3 244.3h0M193.6 248.8h0M190.7 246.2h0M188.7 247.0h0M192.8 250.0h0M190.3 246.5h0M187.9 244.6h0M194.1 245.9h0" stroke="#4c9e3f" stroke-width="1.5" stroke-linecap="round"/>
<path d="M158.2 248.1h0M151.0 252.8h0M154.5 248.3h0M156.2 247.1h0M153.8 251.5h0M153.4 250.8h0M156.6 246.5h0M156.4 247.4h0M151.9 252.4h0M159.7 246.9h0M156.1 249.9h0M153.3 250.5h0M156.3 249.3h0M153.7 252.8h0M152.3 252.4h0M152.4 250.0h0M152.7 251.7h0M152.2 250.3h0M155.7 248.2h0M158.5 245.7h0M152.6 251.5h0M153.8 248.6h0M155.3 247.4h0M157.4 249.4h0M155.3 249.2h0M153.8 252.4h0M152.0 252.6h0M156.5 249.8h0M155.6 247.7h0M153.3 252.3h0M157.0 250.7h0M154.6 248.4h0M152.3 251.8h0M154.7 252.2h0M153.8 251.3h0M157.1 249.2h0M157.3 247.1h0M156.8 246.0h0M156.4 246.3h0M155.3 247.6h0M155.0 250.3h0M157.2 249.6h0M156.0 246.8h0M154.6 252.1h0M155.9 251.5h0" stroke="#e8384f" stroke-width="1.5" stroke-linecap="round"/>
<path d="M163.5 255.7h0M164.1 259.9h0M166.0 256.6h0M161.2 251.6h0M161.9 254.0h0M164.9 257.5h0M162.4 253.2h0M164.6 256.3h0M166.4 260.4h0M163.4 253.1h0M163.4 258.8h0M164.6 259.4h0M161.4 253.8h0M163.6 257.1h0M162.4 255.6h0M164.9 257.4h0M167.3 259.4h0M165.9 259.7h0M164.0 258.2h0M161.5 255.3h0M162.1 257.1h0M162.2 256.0h0M164.8 255.6h0M164.6 260.0h0M165.1 257.9h0M163.5 256.0h0M164.9 258.8h0M162.6 251.7h0M162.6 251.7h0M163.0 255.8h0M163.5 259.4h0M163.2 251.9h0M166.0 259.4h0M163.7 254.2h0M164.6 255.6h0M164.0 259.2h0M162.1 255.2h0M165.8 256.9h0M164.2 257.1h0M162.6 256.9h0" stroke="#e8384f" stroke-width="1.5" stroke-linecap="round"/>
<text x="0.0" y="309.5" font-size="11" font-weight="bold">c</text>
<text x="68.8" y="303.7" font-size="6.9" textLength="131.5" lengthAdjust="spacingAndGlyphs">SIMBA (cells + motifs + <tspan font-style="italic">k</tspan>-mers + peaks)</text>
<path d="M93.9 341.0L101.9 336.6L109.2 336.1L117.2 335.8L125.3 338.0L131.1 341.0L132.6 345.3L129.6 350.4L125.3 355.5L122.3 360.7L120.1 366.5L119.4 372.3L121.6 379.6L125.3 385.5L129.6 391.3L135.5 395.0L140.0 393.7L149.7 392.1L156.2 394.5L164.2 399.4L172.3 402.6L177.2 401.0L182.0 404.2L191.7 405.8L201.4 404.2L207.0 407.5L206.2 414.0L202.2 418.8L199.8 422.8L195.7 428.5L191.7 435.0L188.5 439.8L185.2 444.6L182.8 449.5L181.2 455.9L182.0 459.2L186.8 460.8L194.9 462.4L199.6 464.9L204.5 467.3L206.0 473.7L209.3 478.5L214.0 481.0L226.0 481.2L238.2 480.2L254.2 476.9L270.3 472.1L280.0 468.5L289.6 464.0L290.5 465.8L280.0 470.5L270.3 474.3L254.2 479.1L238.2 482.6L226.0 484.2L214.0 485.2L209.3 485.8L206.0 487.4L204.0 492.0L198.1 496.8L192.3 498.8L198.1 504.6L204.0 508.4L213.6 514.3L225.3 523.0L223.3 524.0L211.7 518.1L202.0 516.2L194.3 516.2L188.4 520.0L185.5 524.2L184.9 533.4L185.6 540.0L186.5 545.3L187.5 556.9L188.4 564.7L187.5 569.5L184.6 566.6L178.8 558.8L175.7 546.5L173.1 542.6L170.4 539.9L167.8 536.0L165.2 532.0L161.2 529.4L156.0 527.4L150.7 527.4L145.5 528.1L141.5 529.4L138.9 533.4L137.6 539.3L136.3 540.0L135.6 533.4L134.3 528.1L131.0 525.5L125.8 527.4L121.8 529.4L117.9 532.0L113.9 534.7L110.0 537.3L106.6 542.9L104.9 548.2L101.3 554.4L97.8 560.6L93.3 566.9L88.0 566.9L84.4 562.4L83.5 553.5L84.4 544.6L85.3 537.5L84.4 530.4L85.3 523.3L86.2 516.2L84.4 510.9L80.9 505.5L77.3 502.0L72.0 500.5L63.1 500.5L54.2 502.0L48.9 502.0L48.9 499.3L57.8 496.7L66.7 493.1L72.9 487.8L73.8 486.0L72.0 480.7L68.4 475.3L64.9 470.0L58.0 464.0L54.0 457.0L52.0 450.0L53.0 442.0L57.0 435.0L60.4 430.0L65.0 424.0L69.2 418.4L75.0 411.0L82.9 405.9L87.3 398.6L91.7 391.3L94.6 385.5L96.8 379.6L99.0 373.8L101.2 368.0L100.4 359.2L99.0 350.4L96.0 344.6Z" fill="#dec2c8" stroke="#dec2c8" stroke-width="1.2" stroke-linejoin="round"/>
<rect x="48.5" y="312.8" width="183.3" height="54.9" fill="none" stroke="#707070" stroke-width="0.7" stroke-dasharray="3.2,2.2"/>
<line x1="231.8" y1="312.8" x2="290.5" y2="174.2" stroke="#777" stroke-width="0.6" stroke-dasharray="3.2,2.2"/>
<line x1="231.8" y1="367.7" x2="285.3" y2="443.3" stroke="#777" stroke-width="0.6" stroke-dasharray="3.2,2.2"/>
<path d="M135.5 459.4h0M163.6 452.1h0M71.0 444.5h0M146.7 463.8h0M80.6 459.9h0M139.4 460.6h0M56.8 450.9h0M96.2 457.9h0M97.8 436.8h0M141.1 443.9h0M156.8 444.8h0M125.0 467.4h0M101.9 439.1h0M105.3 453.6h0M107.9 436.5h0M122.0 444.5h0M110.6 441.3h0M138.0 468.5h0M105.1 465.0h0M59.5 451.2h0M167.6 440.1h0M111.3 465.3h0M89.9 437.9h0M121.5 450.1h0M84.9 456.2h0M111.8 472.2h0M93.4 457.4h0M146.3 433.8h0M93.2 463.2h0M56.5 447.9h0M70.5 452.3h0M121.3 437.2h0M160.7 449.8h0M86.7 441.8h0M150.5 435.4h0M176.8 449.4h0M131.7 469.8h0M144.2 457.4h0M147.7 443.5h0M118.6 439.4h0M110.8 443.7h0M130.1 444.5h0M89.7 459.9h0M118.4 441.3h0M68.9 453.9h0M119.5 463.4h0M102.6 449.6h0M170.0 443.3h0M133.5 440.2h0M159.3 456.1h0M76.8 442.7h0M134.1 439.7h0M114.1 463.1h0M67.6 452.4h0M138.4 461.9h0M109.2 447.9h0M144.5 464.3h0M138.5 449.1h0M128.0 454.2h0M179.4 466.0h0M163.1 441.8h0M150.6 463.2h0M168.3 443.0h0M156.4 452.4h0M94.6 447.6h0M157.9 468.9h0M163.8 461.1h0M76.1 438.0h0M127.8 440.5h0M93.3 443.0h0M110.6 448.1h0M129.7 453.7h0M86.0 443.9h0M159.2 462.3h0M125.5 467.6h0M74.1 455.3h0M88.6 449.0h0M128.5 466.1h0M135.7 458.0h0M173.8 467.6h0M127.7 445.7h0M174.6 447.7h0M67.3 446.0h0M145.8 472.9h0M137.9 460.8h0M175.9 466.0h0M111.9 451.8h0M152.8 445.3h0M159.2 442.2h0M142.9 471.2h0M118.1 446.0h0M111.9 466.7h0M136.1 438.8h0M63.9 451.4h0M107.8 469.2h0M155.4 457.4h0M84.9 444.7h0M117.9 448.8h0M137.9 453.7h0M96.0 458.3h0M109.0 468.6h0M144.7 474.5h0M162.8 457.4h0M103.9 442.8h0M134.7 433.9h0M124.5 447.9h0M118.0 449.2h0M158.0 457.9h0M69.1 458.0h0M152.6 433.1h0M168.2 460.9h0M161.4 471.3h0M86.2 457.0h0M103.3 444.3h0M153.0 458.7h0M97.1 455.4h0M174.7 456.5h0M172.8 456.5h0M113.8 455.9h0M135.0 452.5h0M136.5 455.0h0M145.6 473.6h0M138.3 467.0h0M85.0 448.2h0M83.4 462.7h0M122.7 458.3h0M96.3 457.4h0M178.1 466.1h0M121.1 448.4h0M99.0 467.2h0M76.7 456.1h0M118.1 473.1h0M105.6 455.7h0M96.8 438.0h0M71.4 444.7h0M145.1 457.1h0M119.9 437.4h0M160.7 467.9h0M159.3 441.3h0M161.4 435.4h0M153.6 465.8h0M136.4 468.5h0M94.8 461.8h0M143.0 469.2h0M127.7 443.4h0M86.7 455.4h0M169.6 441.9h0M144.6 461.3h0M153.6 444.8h0M66.8 443.7h0M154.3 452.0h0M160.0 438.2h0M67.8 446.7h0M64.8 442.1h0M140.3 470.3h0M107.2 451.2h0M58.0 446.3h0M146.9 466.3h0M123.1 462.5h0M70.5 448.3h0M92.1 443.7h0M150.1 440.6h0M96.3 443.7h0M166.3 459.7h0M116.5 448.1h0M112.5 456.5h0M166.1 442.5h0M119.3 465.6h0M74.4 450.5h0M103.7 468.8h0M170.0 447.9h0M150.3 472.5h0M139.8 444.8h0M120.9 443.9h0M112.0 452.1h0M174.4 452.5h0M173.7 459.8h0M167.4 449.6h0M164.2 467.9h0M102.6 468.3h0M114.9 449.5h0M149.0 435.0h0M102.8 449.7h0M128.9 471.1h0M176.9 459.5h0M101.5 435.8h0M62.9 454.3h0M129.8 451.1h0M99.6 449.8h0M130.8 455.4h0M109.4 442.3h0M95.0 453.2h0M127.2 440.3h0M99.0 466.2h0M169.6 441.6h0M155.4 450.9h0M123.9 455.0h0M140.8 462.0h0M160.6 444.6h0M62.7 455.9h0M139.1 441.1h0M59.7 452.9h0M135.3 443.6h0M111.9 441.5h0M78.2 439.2h0M160.0 451.4h0M147.0 446.6h0M158.9 457.8h0M139.0 448.7h0M127.0 439.6h0M180.6 461.2h0M123.2 459.7h0M67.0 446.0h0M166.9 466.2h0M147.4 444.6h0M84.2 462.7h0M92.8 463.5h0M99.5 465.2h0M128.5 467.7h0M124.9 448.5h0M154.1 445.2h0M125.5 465.0h0M154.3 440.8h0M87.7 461.0h0M153.3 459.6h0M111.6 464.0h0M141.0 440.3h0M123.6 457.9h0M148.7 439.9h0M94.4 446.4h0M66.5 446.7h0M148.8 457.0h0M86.7 454.2h0M151.5 462.3h0M126.9 442.5h0M95.7 439.9h0M109.9 471.4h0M171.0 443.3h0M101.7 436.4h0M77.4 442.3h0M129.2 451.1h0M93.7 454.7h0M154.6 463.6h0M156.9 456.3h0M115.8 445.8h0M133.1 435.4h0M85.0 455.1h0M162.4 446.8h0M118.8 460.9h0M79.0 459.2h0M122.7 438.9h0M157.3 435.3h0M135.0 469.7h0M70.5 440.8h0M153.4 452.2h0M125.0 473.4h0M154.6 464.7h0M132.1 435.5h0M155.9 463.5h0M95.3 461.8h0M107.4 464.8h0M104.0 467.1h0M115.3 467.6h0M93.1 455.5h0M142.0 450.1h0M145.5 463.7h0M174.1 450.7h0M131.4 467.7h0M183.3 464.3h0M81.3 437.6h0M170.7 460.9h0M129.8 436.9h0M163.4 463.9h0M118.1 453.1h0M72.9 454.1h0M158.3 436.9h0M167.9 449.9h0M88.6 441.8h0M113.8 460.1h0M128.1 471.1h0M120.5 454.1h0M94.7 436.6h0M173.7 452.8h0M168.2 462.4h0M148.9 465.1h0M93.2 463.8h0M80.8 456.0h0M131.4 465.9h0M75.8 446.5h0M161.2 467.2h0M148.1 464.5h0M138.3 466.1h0M121.1 456.3h0M173.7 460.2h0M139.3 457.5h0M118.2 465.1h0M128.4 436.8h0M109.4 450.0h0M110.2 456.2h0M101.0 448.6h0M109.5 447.7h0M105.4 451.2h0M130.9 447.5h0M91.2 451.9h0M170.0 468.6h0M85.3 442.5h0M144.8 466.9h0M115.1 448.4h0M166.3 469.6h0M68.9 457.7h0M182.1 463.2h0M113.7 437.5h0M140.5 452.3h0M134.2 435.5h0M130.5 449.9h0M148.9 436.5h0M83.8 446.4h0M128.5 445.6h0M111.1 467.6h0M132.8 436.0h0M107.4 459.0h0M137.0 446.4h0M126.9 438.7h0M93.8 458.8h0M171.1 454.2h0M87.1 457.4h0M74.3 442.8h0M111.0 471.9h0M75.5 439.7h0M71.1 440.6h0M97.2 448.8h0M152.8 449.2h0M115.8 448.8h0M154.6 471.6h0M122.3 461.7h0M103.6 443.2h0M100.7 462.4h0M113.9 454.7h0M80.9 439.0h0M97.7 461.7h0M146.4 450.5h0M125.5 445.7h0M86.3 444.1h0M90.4 446.6h0M156.8 466.5h0M144.8 470.8h0M139.0 436.1h0M87.6 454.8h0M160.9 457.4h0M109.9 441.9h0M181.6 464.9h0M138.9 447.0h0M169.6 444.4h0M137.6 461.7h0M90.7 443.3h0M99.5 439.4h0M86.2 438.4h0M135.8 460.6h0M120.4 439.1h0M76.6 441.9h0M120.8 452.4h0M126.0 463.7h0M170.2 452.1h0M72.6 458.1h0M155.6 436.8h0M143.6 435.9h0M143.2 466.7h0M107.1 438.0h0M139.7 445.4h0M106.3 436.7h0M104.1 455.8h0M125.8 449.2h0M158.0 435.0h0M153.5 455.1h0M156.4 456.8h0M69.3 442.5h0M95.9 449.3h0M124.0 435.5h0M145.8 466.8h0M157.5 470.6h0M95.3 437.5h0M153.0 462.2h0M102.3 446.4h0M113.9 467.5h0M98.2 445.5h0M120.7 464.6h0M168.8 446.9h0M144.1 449.2h0M166.0 465.2h0M126.2 447.3h0M158.1 444.7h0M159.3 454.8h0M126.0 455.3h0M107.3 456.1h0M141.4 459.8h0M158.9 462.2h0M155.3 437.9h0M123.1 465.7h0M74.3 454.7h0M171.1 464.6h0M105.7 452.6h0M155.7 461.6h0M93.5 463.9h0M117.3 466.9h0M143.0 451.3h0M127.2 467.2h0M122.8 474.2h0M146.8 453.0h0M164.5 437.7h0M97.9 463.1h0M161.0 447.8h0M95.8 442.7h0M172.2 468.7h0M126.6 451.0h0M94.1 458.1h0M178.3 463.7h0M70.1 446.6h0M70.4 450.0h0M122.7 444.5h0M141.6 456.2h0M131.7 444.5h0M149.5 462.0h0M146.9 452.2h0M114.3 443.9h0M59.2 452.0h0M134.1 439.4h0M165.8 470.6h0M165.0 467.7h0M117.5 438.9h0M89.2 464.2h0M54.8 446.9h0M99.4 457.9h0M96.8 444.7h0M130.6 468.2h0M62.2 455.4h0M123.5 474.1h0M126.9 447.2h0M129.1 473.0h0M56.4 449.7h0M101.7 457.2h0M84.8 462.9h0M138.8 435.3h0M144.5 446.7h0M113.6 466.8h0M123.2 443.4h0M121.4 475.2h0M148.9 461.1h0M163.6 449.4h0M126.7 469.2h0M128.7 437.6h0M173.9 450.8h0M78.1 449.5h0M130.9 450.3h0M146.7 436.9h0M166.0 470.7h0M152.1 458.0h0M110.1 441.7h0M130.4 475.1h0M144.3 435.8h0M83.0 450.8h0M95.1 452.4h0M75.1 449.1h0M145.0 445.6h0M157.5 439.3h0M112.9 472.3h0M141.1 447.7h0M70.7 458.5h0M152.6 452.3h0M115.4 461.9h0M133.2 450.0h0M78.2 451.9h0M125.5 471.3h0M96.7 441.0h0M136.0 464.2h0M86.2 462.1h0M176.0 450.6h0M138.8 470.0h0M80.4 446.5h0M93.8 452.4h0M150.8 459.4h0M174.9 461.1h0M58.8 450.4h0M136.2 440.1h0M165.3 449.6h0M134.6 455.4h0M92.9 458.4h0M159.1 435.9h0M155.3 448.6h0M122.1 450.0h0M149.6 462.5h0M162.0 461.3h0M136.0 445.1h0M98.3 446.7h0M171.4 467.7h0M159.2 466.5h0M156.9 436.4h0M163.5 468.3h0M121.1 441.6h0M154.2 467.1h0M129.5 475.4h0M154.7 472.7h0M151.6 441.2h0M96.2 446.4h0M110.5 436.8h0M145.2 454.4h0M153.7 446.1h0M107.7 464.5h0M145.3 470.9h0M149.8 456.8h0M107.1 456.5h0M94.5 436.5h0M149.1 458.7h0M161.4 458.9h0M83.6 456.4h0M105.3 443.1h0M136.2 473.0h0M76.4 442.9h0M93.3 455.3h0M116.6 471.9h0M129.1 459.7h0M130.1 466.3h0M82.9 460.6h0M87.7 448.2h0M87.8 442.0h0M96.2 449.7h0M100.8 445.6h0M150.0 453.2h0M171.1 451.6h0M119.1 456.3h0M69.3 445.4h0M134.4 461.3h0M135.7 458.9h0M76.3 446.6h0M160.5 468.5h0M87.8 456.8h0M141.5 441.5h0M103.6 435.5h0M157.6 439.3h0M71.7 443.5h0M137.2 459.7h0M122.2 469.4h0M151.8 440.4h0M123.5 438.6h0M85.4 437.6h0M64.0 446.8h0M169.2 460.5h0M130.9 454.8h0M127.6 458.1h0M85.2 457.5h0M122.9 446.3h0M109.0 455.3h0M154.0 455.2h0M147.2 459.7h0M152.8 440.7h0M127.9 450.8h0M82.7 462.9h0M117.6 450.2h0M145.9 463.6h0M158.0 442.9h0M141.0 453.3h0M176.3 451.1h0M115.1 455.0h0M116.9 434.2h0M76.3 451.0h0M99.3 453.5h0M122.9 448.5h0M126.7 474.7h0M90.6 446.8h0M95.5 464.4h0M118.1 466.8h0M80.8 447.6h0M105.9 448.3h0M128.8 474.4h0M137.4 457.8h0M161.7 446.0h0M123.5 457.2h0M102.6 459.9h0M101.9 443.4h0M89.2 452.9h0M63.8 449.6h0M155.8 463.1h0M157.1 436.3h0M169.7 447.1h0M159.8 452.2h0M169.9 452.5h0M87.5 437.8h0M128.6 469.8h0M73.6 452.6h0M114.9 435.9h0M148.1 453.9h0M133.2 469.7h0M178.0 457.8h0M75.4 441.8h0M71.8 454.0h0M129.7 451.7h0M115.1 437.3h0M147.3 455.2h0M104.5 451.2h0M87.4 464.5h0M119.8 474.5h0M169.5 451.3h0M67.6 451.5h0M121.3 466.4h0M78.2 443.6h0M133.4 435.3h0M151.6 450.1h0M168.1 441.2h0M63.9 448.5h0M147.2 432.5h0M121.1 455.3h0M66.7 457.1h0M112.0 445.7h0M162.0 462.1h0M136.8 474.6h0M153.1 452.3h0M69.4 440.7h0M70.9 458.5h0M135.1 469.6h0M170.6 456.3h0M132.9 458.6h0M154.2 454.3h0M68.8 441.0h0M138.9 434.6h0M67.9 442.3h0M157.5 455.6h0M129.5 441.7h0M127.5 469.5h0M101.9 450.6h0M129.1 475.4h0M137.0 439.2h0M129.7 445.5h0M115.5 463.1h0M94.8 458.0h0M160.7 452.0h0M135.9 444.0h0M87.3 454.0h0M123.2 441.1h0M153.5 453.5h0M100.2 442.4h0M142.3 446.2h0M111.4 461.7h0M74.8 447.4h0M156.3 461.6h0M130.1 435.6h0M82.2 442.5h0M128.5 472.6h0M126.1 472.3h0M115.0 454.3h0M90.6 451.9h0M175.8 452.9h0M54.3 446.9h0M79.7 459.1h0M120.2 452.4h0M174.5 465.3h0M145.1 457.9h0M138.8 453.5h0M58.7 451.3h0M162.6 458.1h0M171.6 455.5h0M137.9 467.3h0M65.4 451.9h0M159.3 446.4h0M145.6 431.3h0M178.0 458.8h0M128.9 439.2h0M97.2 437.7h0M139.4 460.1h0M171.6 465.6h0M124.6 473.1h0M118.0 434.7h0M145.5 438.8h0M171.3 453.2h0M96.4 460.8h0M146.3 451.7h0M89.8 449.9h0M146.9 441.3h0M74.5 452.8h0M139.5 434.0h0M117.2 470.1h0M155.0 433.2h0M145.4 458.9h0M116.7 460.9h0M121.8 439.2h0M144.4 436.8h0M127.9 454.0h0M146.3 453.2h0M103.9 455.8h0M56.9 446.8h0M172.0 460.4h0M138.6 458.2h0M150.4 443.0h0M162.5 455.4h0M152.4 468.8h0M87.1 449.5h0M167.8 461.9h0M117.7 455.5h0M100.5 461.9h0M123.5 453.4h0M87.6 441.0h0M141.1 446.3h0M120.9 435.7h0M119.2 474.1h0M153.1 447.4h0M177.6 460.1h0M104.6 450.1h0M133.1 454.7h0M155.2 460.1h0M139.2 434.3h0M101.3 452.3h0M136.6 433.8h0M127.0 464.2h0M147.2 455.6h0M161.2 467.3h0M135.8 461.1h0M77.2 446.2h0M155.6 444.1h0M62.0 445.7h0M100.6 448.5h0M165.1 455.0h0M136.0 450.8h0M90.0 454.6h0M116.2 437.4h0M73.0 453.8h0M157.8 450.4h0M73.0 442.7h0M108.8 465.0h0M110.6 449.8h0M106.3 454.4h0M125.3 446.8h0M147.8 432.8h0M142.0 447.4h0M110.3 445.3h0M123.3 443.6h0M141.1 449.5h0M146.1 444.1h0M113.4 456.1h0M147.4 460.4h0M77.9 439.3h0M140.1 446.3h0M85.9 439.2h0M129.2 442.3h0M159.3 461.4h0M109.7 458.4h0M139.4 450.8h0M65.9 447.4h0M137.1 435.0h0M154.6 469.9h0M102.5 447.7h0M120.7 442.4h0M143.3 453.9h0M167.6 458.7h0M134.6 450.6h0M109.2 437.6h0M125.3 443.4h0M128.7 470.4h0M92.2 457.0h0M81.2 460.1h0M126.1 445.7h0M64.4 452.9h0M122.0 467.8h0M80.4 439.3h0M84.2 459.5h0M146.1 453.4h0M68.7 452.3h0M176.3 448.6h0M126.4 449.9h0M168.8 457.1h0M99.1 443.8h0M163.3 448.0h0M132.4 455.9h0M149.6 438.3h0M139.0 458.6h0M178.5 453.0h0M162.6 452.4h0M82.2 449.3h0M82.5 462.6h0M134.3 463.0h0M142.8 448.9h0M170.2 468.1h0M153.3 458.0h0M142.3 468.8h0M158.3 451.5h0M105.4 466.8h0M139.1 455.3h0M83.3 437.0h0M152.0 461.5h0M107.4 457.8h0M125.9 473.7h0M120.0 455.3h0M114.1 449.5h0M143.7 436.0h0M144.0 472.8h0M152.9 455.4h0M66.0 455.3h0M168.4 470.0h0M158.9 452.6h0M165.6 439.4h0M97.6 454.1h0M148.5 451.2h0M104.9 449.9h0M83.1 452.7h0M145.8 447.3h0M140.1 453.2h0M91.4 455.6h0M89.3 454.0h0M76.7 444.8h0M171.6 451.0h0M84.3 457.9h0M68.7 454.4h0M138.2 435.0h0M125.3 444.9h0M150.8 458.7h0M172.2 458.3h0M77.8 439.3h0M145.5 467.5h0M62.1 449.8h0M90.8 452.0h0M167.4 456.2h0M150.7 465.4h0M90.1 458.8h0M102.8 452.3h0M123.0 461.0h0M74.9 445.1h0M153.1 438.3h0M70.1 447.1h0M65.0 452.2h0M99.0 464.2h0M118.1 474.4h0M163.7 438.7h0M127.4 454.7h0M76.1 445.4h0M82.6 439.8h0M133.8 445.6h0M153.8 456.8h0M164.1 453.8h0M136.2 441.7h0M144.5 449.3h0M147.8 457.3h0M72.2 444.5h0M136.1 455.5h0M146.9 445.8h0M116.0 452.5h0M151.4 434.3h0M120.3 442.7h0M130.6 442.7h0M80.8 441.4h0M170.3 447.4h0M168.4 464.1h0M89.0 455.9h0M136.0 436.1h0M121.5 453.3h0M141.2 444.0h0M172.3 459.0h0M169.0 444.7h0M146.5 469.7h0M162.8 442.2h0M158.2 461.9h0M114.5 471.6h0M178.6 456.8h0M149.5 461.2h0M106.0 453.4h0M120.0 440.7h0M164.0 462.4h0M143.5 454.0h0M128.5 461.0h0M114.8 434.5h0M157.7 470.1h0M102.3 451.3h0M177.6 455.5h0M142.5 436.0h0M142.2 439.6h0M146.4 445.3h0M122.5 434.4h0M162.3 466.4h0M129.5 462.1h0M98.2 436.7h0M96.3 464.3h0M127.2 437.1h0M85.3 452.4h0M112.5 437.0h0M151.4 466.8h0M95.0 455.4h0M94.3 450.0h0M95.0 460.3h0M168.7 462.0h0M148.0 453.8h0M131.8 466.4h0M155.0 461.3h0M62.1 452.5h0M88.9 458.4h0M105.6 451.5h0M123.9 457.5h0M169.7 443.7h0M89.7 439.3h0M87.0 452.3h0M142.6 438.0h0M70.0 445.9h0M158.6 469.0h0M138.6 444.5h0M160.6 434.7h0M152.0 433.1h0M141.4 441.4h0M116.0 440.5h0M167.3 459.4h0M143.8 459.0h0M155.3 454.2h0M130.8 453.2h0M152.2 455.0h0M90.1 454.2h0M121.7 470.2h0M147.5 440.4h0M120.1 457.3h0M129.3 451.7h0M120.2 462.0h0M168.5 454.2h0M155.9 461.6h0M69.5 442.7h0M94.8 446.9h0M117.8 444.3h0M183.7 464.0h0M102.3 462.5h0M135.8 474.1h0M158.5 445.4h0M108.0 446.8h0M114.3 463.8h0M153.6 438.9h0M80.1 446.3h0M77.0 452.4h0M107.4 442.1h0M143.2 445.8h0M152.0 470.5h0M92.2 442.9h0M144.5 437.6h0M179.7 460.4h0M125.3 433.3h0M90.8 450.1h0M130.9 434.5h0M180.3 464.6h0M159.6 464.7h0M77.4 441.9h0M156.6 443.9h0M72.3 448.2h0M158.7 435.4h0M156.5 455.5h0M157.8 446.1h0M148.0 453.8h0M153.3 439.9h0M90.3 440.5h0M164.6 462.6h0M59.0 452.0h0M147.4 461.8h0M137.2 462.3h0M170.7 447.3h0M121.5 460.3h0M174.3 460.2h0M121.0 465.6h0M125.1 449.6h0M97.6 448.7h0M82.8 445.0h0M151.1 470.8h0M113.3 469.1h0M70.3 454.2h0M150.8 466.1h0M104.3 438.6h0M178.9 458.4h0M138.9 446.6h0M68.7 456.7h0M140.2 465.0h0M128.1 464.9h0M129.5 457.9h0M145.7 463.7h0M140.7 442.5h0M117.3 465.6h0M137.3 471.9h0M123.4 434.3h0M108.5 461.1h0M120.3 466.8h0M81.2 437.5h0M82.5 449.8h0M145.9 473.2h0M126.6 473.9h0M109.5 460.6h0M159.1 436.2h0M93.0 454.7h0M116.2 447.8h0M125.7 474.2h0M155.1 436.0h0M124.1 447.1h0M181.0 462.8h0M132.5 442.5h0M110.8 454.7h0M103.2 456.4h0M65.7 449.9h0M119.8 464.9h0M159.6 464.1h0M103.6 463.0h0M80.0 458.8h0M76.8 446.8h0M150.0 431.9h0M133.9 468.8h0M176.3 451.2h0M155.5 460.2h0M154.9 437.7h0M64.8 454.5h0M132.8 461.9h0M77.3 456.6h0M141.5 450.8h0M108.4 452.0h0M90.4 438.8h0M170.9 447.3h0M167.8 456.3h0M146.5 451.2h0M85.7 456.4h0M98.1 449.9h0M124.5 475.2h0M122.4 456.4h0M117.1 465.3h0M173.8 459.1h0M144.4 455.7h0M71.0 451.7h0M71.6 450.6h0M83.7 440.8h0M136.8 472.6h0M129.7 452.9h0M99.7 454.5h0M159.4 466.8h0M117.9 453.5h0M117.9 451.4h0M106.8 453.3h0M121.5 438.6h0M79.0 452.5h0M116.8 440.8h0M69.9 441.9h0M149.6 456.9h0M71.0 443.9h0M152.0 452.3h0M80.9 442.4h0M78.9 459.3h0M131.3 454.3h0M154.6 454.8h0M94.9 461.1h0M117.2 437.3h0M151.1 450.4h0M163.1 461.1h0M178.7 457.1h0M131.4 474.8h0M158.4 446.2h0M175.3 460.8h0M177.4 458.3h0M151.0 457.8h0M150.6 451.3h0M70.2 456.2h0M88.4 442.8h0M167.9 458.8h0M151.3 467.8h0M110.8 451.3h0M110.2 447.1h0M155.2 470.8h0M92.7 463.0h0M143.1 465.9h0M147.5 445.4h0M152.8 469.0h0M110.5 443.3h0M103.1 454.8h0M122.5 444.2h0M147.3 462.3h0M105.5 469.6h0M122.0 441.2h0M139.3 453.9h0M124.0 468.8h0M137.4 473.3h0M142.6 472.2h0M152.2 448.6h0M122.1 466.2h0M61.5 455.3h0M127.9 463.3h0M98.5 458.3h0M149.7 448.2h0M142.6 471.7h0M102.0 454.7h0M116.9 468.7h0M89.1 443.9h0M105.0 460.4h0M119.4 463.9h0M104.1 456.7h0M130.3 451.7h0M97.8 460.2h0M76.6 452.8h0M89.2 456.4h0M143.5 454.3h0M151.5 459.0h0M116.9 465.2h0M164.5 441.3h0M161.2 451.1h0M113.1 453.4h0M102.4 441.4h0M144.0 459.2h0M92.1 457.0h0M83.2 438.7h0M111.8 443.8h0M149.4 519.2h0M65.0 438.5h0M70.7 465.1h0M73.7 476.6h0M105.9 504.4h0M113.9 496.5h0M73.5 493.4h0M178.7 519.2h0M74.6 451.6h0M181.3 501.5h0M161.7 442.3h0M141.6 438.2h0M158.1 510.7h0M100.1 436.3h0M141.9 470.4h0M101.1 512.3h0M190.6 470.3h0M85.9 529.7h0M114.9 477.6h0M98.5 504.1h0M192.6 480.1h0M174.7 473.6h0M114.1 511.4h0M190.9 507.0h0M153.7 513.8h0M183.7 525.6h0M129.4 472.4h0M104.7 436.0h0M194.0 464.9h0M185.5 437.5h0M105.4 509.7h0M149.2 499.3h0M123.3 444.6h0M171.4 507.6h0M121.9 488.8h0M167.5 482.5h0M121.6 481.5h0M158.1 505.1h0M101.9 509.0h0M107.6 499.3h0M107.8 520.5h0M186.6 509.1h0M108.4 469.0h0M115.7 492.8h0M185.0 442.0h0M179.8 489.8h0M194.7 504.0h0M155.6 506.8h0M114.0 447.1h0M174.7 518.5h0M156.0 456.5h0M124.9 484.4h0M106.0 482.0h0M119.1 528.2h0M142.8 527.8h0M163.0 471.8h0M138.6 488.9h0M158.6 464.3h0M149.9 470.7h0M164.5 482.4h0M94.2 436.4h0M180.4 485.3h0M145.5 514.1h0M179.7 472.3h0M193.2 472.7h0M156.7 514.2h0M105.8 475.5h0M106.3 468.2h0M112.7 515.7h0M165.7 488.6h0M144.9 464.2h0M162.0 518.2h0M108.5 482.9h0M85.6 459.6h0M174.3 496.4h0M117.6 496.2h0M80.9 436.4h0M105.0 490.1h0M80.9 486.9h0M100.5 460.7h0M158.6 469.9h0M158.9 506.5h0M107.6 439.0h0M173.0 487.8h0M136.2 500.4h0M131.8 521.3h0M141.3 474.3h0M182.0 520.2h0M138.5 436.9h0M142.3 474.7h0M135.3 514.1h0M98.5 459.6h0M60.2 446.0h0M92.5 485.7h0M95.5 471.1h0M144.6 469.3h0M148.8 450.1h0M156.3 448.6h0M61.7 498.9h0M151.7 451.1h0M112.3 441.2h0M67.3 469.1h0M177.9 521.5h0M160.4 495.9h0M136.8 484.0h0M146.8 482.7h0M110.7 514.7h0M97.1 474.1h0M150.1 526.6h0M103.2 476.7h0M111.3 455.7h0M104.7 510.2h0M81.3 480.9h0M94.8 490.3h0M163.3 446.9h0M123.1 453.6h0M145.5 499.7h0M86.0 457.7h0M97.4 466.9h0M180.0 518.2h0M165.8 473.0h0M119.0 454.9h0M119.4 525.4h0M67.8 473.1h0M97.2 481.8h0M127.0 511.3h0M156.0 506.0h0M91.8 459.6h0M138.7 440.6h0M186.2 503.7h0M124.1 470.0h0M163.2 447.0h0M68.9 500.4h0M120.8 510.4h0M112.6 528.3h0M177.2 466.2h0M130.1 491.2h0M118.1 512.9h0M153.7 512.9h0M90.4 483.5h0M131.1 490.9h0M117.7 450.9h0M174.7 488.3h0M158.7 505.5h0M142.2 521.9h0M62.8 467.3h0M77.9 495.8h0M85.7 438.7h0M74.1 452.4h0M130.6 478.8h0M120.0 437.1h0M129.0 459.8h0M67.8 441.3h0M76.1 473.7h0M78.3 479.6h0M177.6 466.4h0M66.8 497.1h0M160.9 481.4h0M179.8 449.8h0M155.9 521.3h0M180.6 515.8h0M116.1 484.1h0M173.8 471.7h0M90.7 438.9h0M83.6 449.2h0M185.1 465.1h0M104.3 527.6h0M151.7 476.8h0M69.8 470.3h0M95.7 525.2h0M113.9 527.4h0M92.8 440.5h0M180.9 443.1h0M165.3 492.0h0M94.7 514.4h0M115.1 528.5h0M133.1 524.7h0M185.3 471.4h0M151.8 504.4h0M146.7 438.2h0M151.3 507.6h0M82.1 444.9h0M113.1 529.6h0M157.8 476.3h0M80.6 476.1h0M140.0 517.0h0M179.9 466.5h0M58.3 498.5h0M151.2 496.9h0M167.4 512.3h0M142.6 513.2h0M148.3 444.9h0M78.6 496.3h0M97.8 524.1h0M94.1 481.7h0M125.5 524.4h0M97.5 519.9h0M156.3 489.5h0M187.5 519.1h0M159.9 487.3h0M146.1 399.8h0M145.0 409.2h0M109.2 428.7h0M172.7 425.7h0M117.5 417.0h0M140.1 398.2h0M71.4 422.0h0M82.5 425.9h0M151.1 401.8h0M182.2 435.9h0M147.0 435.3h0M167.2 414.4h0M170.4 433.5h0M152.5 398.4h0M107.1 423.9h0M106.2 401.8h0M118.9 400.8h0M121.4 399.1h0M156.7 403.7h0M143.4 421.4h0M82.8 420.7h0M131.9 420.2h0M80.9 414.5h0M172.0 420.3h0M89.1 408.7h0M183.3 464.6h0M172.2 466.5h0M163.8 467.4h0M166.4 468.2h0M163.6 466.5h0M164.4 469.3h0M164.3 467.3h0M176.2 460.6h0M174.7 466.3h0M179.1 468.4h0M167.5 471.9h0M167.2 466.2h0M161.9 470.8h0M178.3 461.8h0M160.0 469.8h0M162.6 471.0h0M186.9 463.5h0M167.3 466.1h0M160.9 468.3h0M177.7 462.7h0M163.9 465.8h0M173.4 461.2h0M164.5 464.9h0M167.8 467.1h0M178.3 460.7h0M181.6 461.9h0M167.9 464.9h0M171.1 466.3h0M173.2 467.3h0M169.5 468.7h0M172.0 467.8h0M172.8 465.4h0M169.1 467.8h0M182.2 466.1h0M167.2 463.8h0M185.0 463.1h0M172.9 467.0h0M165.5 470.2h0M183.7 466.5h0M174.4 464.2h0M166.5 469.1h0M169.7 462.9h0M166.8 470.0h0M165.4 466.8h0M167.5 468.6h0M174.7 465.9h0M169.3 465.7h0M164.5 469.4h0M176.6 466.9h0M172.3 468.6h0M177.3 464.7h0M167.1 466.9h0M167.5 466.6h0M164.9 468.2h0M183.9 465.1h0M170.7 467.7h0M180.9 464.5h0M166.7 466.7h0M176.7 465.9h0M172.5 463.3h0M79.6 480.3h0M111.5 497.2h0M98.0 493.6h0M76.6 489.2h0M89.8 490.8h0M87.8 475.6h0M86.1 491.7h0M112.7 497.4h0M94.8 472.0h0M118.5 477.7h0M113.1 484.7h0M96.6 470.9h0M83.6 492.4h0M97.6 496.5h0M118.4 486.0h0M129.0 470.1h0M94.1 486.0h0M73.2 496.1h0M79.0 487.4h0M86.3 481.5h0M97.9 478.7h0M80.3 490.0h0M107.6 472.4h0M128.4 473.2h0M83.4 478.4h0M91.9 484.7h0M124.2 473.0h0M104.5 488.7h0M85.5 480.7h0M96.7 496.6h0M116.6 484.4h0M74.1 480.7h0M119.0 483.0h0M93.4 489.2h0M72.4 489.4h0M111.1 473.4h0M95.0 495.7h0M85.7 485.9h0M90.7 486.6h0M93.5 480.3h0" stroke="#9db2b8" stroke-width="1.71" stroke-linecap="square"/>
<path d="M113.1 481.2h0M120.9 481.3h0M117.3 479.8h0M114.6 480.5h0M121.8 481.2h0M110.7 482.6h0M116.1 479.5h0M116.6 480.8h0M118.9 482.5h0M112.5 482.3h0M104.9 485.2h0M113.1 484.5h0M108.9 483.1h0M110.9 483.1h0M121.5 481.6h0M120.3 482.0h0M121.5 478.9h0M110.3 482.0h0M115.2 480.2h0M116.6 483.3h0M123.2 479.2h0M104.6 484.6h0M109.4 484.1h0M115.8 481.7h0M110.9 482.2h0M113.2 479.9h0M111.9 484.2h0M117.3 482.5h0M117.7 479.7h0M115.7 482.4h0M118.1 479.3h0M121.0 479.9h0M118.0 481.3h0M112.5 482.0h0M117.9 479.6h0M121.5 481.0h0M121.3 479.6h0M106.4 482.9h0M108.7 481.8h0M107.9 483.9h0M118.0 482.6h0M113.9 480.7h0M105.2 483.8h0M117.0 483.2h0M114.0 481.9h0" stroke="#2aa593" stroke-width="1.71" stroke-linecap="square"/>
<path d="M186.6 444.0h0M190.6 438.4h0M194.0 437.0h0M188.3 442.8h0M187.7 441.7h0M195.6 436.1h0M192.9 437.1h0M189.5 442.0h0M194.3 438.7h0M188.4 439.0h0M191.2 441.0h0M188.9 440.8h0M191.0 439.3h0M186.4 441.7h0M185.5 443.2h0M189.0 438.8h0M191.7 438.7h0M191.5 440.1h0M195.7 436.9h0M193.9 437.0h0M193.2 437.3h0M185.4 442.9h0M188.5 440.0h0M193.5 436.3h0M192.3 438.5h0M189.2 440.4h0M192.4 436.9h0M187.5 441.8h0M192.1 438.3h0M192.8 436.7h0M187.7 441.8h0M189.7 441.6h0M188.0 439.3h0M194.9 438.2h0M189.3 439.9h0" stroke="#2aa593" stroke-width="1.71" stroke-linecap="square"/>
<path d="M75.4 454.1h0M181.9 528.4h0M73.9 497.1h0M134.1 446.5h0M158.3 419.6h0M143.2 455.1h0M165.4 458.6h0M120.7 416.9h0M108.8 481.3h0M108.4 427.9h0M117.8 407.5h0M181.6 407.7h0M88.2 408.3h0M136.1 520.0h0" stroke="#2aa593" stroke-width="1.71" stroke-linecap="square"/>
<path d="M115.4 440.5h0M185.0 405.6h0M115.5 531.7h0M98.3 396.3h0M90.1 485.6h0M185.2 436.6h0M70.2 471.3h0M159.9 468.6h0M92.1 396.9h0M104.5 474.7h0M84.2 447.0h0M140.0 410.2h0M143.8 464.7h0M114.2 374.0h0M134.7 476.4h0M144.3 517.5h0M194.1 476.0h0M178.3 466.5h0M117.4 376.9h0M124.5 504.1h0M107.7 344.3h0M116.1 464.4h0M130.7 517.6h0M84.7 559.8h0M142.1 495.6h0M133.3 420.8h0M111.4 431.0h0M186.8 405.6h0M157.3 470.5h0M94.1 549.8h0M89.6 409.1h0M79.9 501.2h0M157.4 424.0h0M102.3 466.6h0M84.6 438.1h0M179.1 411.1h0M83.1 430.1h0M169.4 471.9h0M119.4 378.5h0M92.5 541.2h0M90.5 546.1h0M174.5 471.2h0M96.8 340.3h0M93.4 555.4h0M118.2 424.6h0M155.2 405.8h0M138.5 412.4h0M107.1 340.7h0M54.0 447.9h0M145.9 464.2h0M107.0 465.0h0M114.1 520.9h0M119.9 465.2h0M130.4 477.9h0M180.1 415.3h0M200.7 469.9h0M102.5 489.5h0M163.2 496.5h0M154.6 428.5h0M161.0 420.9h0M93.7 408.4h0M107.6 435.8h0M135.1 432.1h0M134.9 527.2h0M131.0 457.8h0M104.4 382.6h0M114.4 471.8h0M120.0 483.5h0M116.7 522.7h0M135.1 400.9h0M165.7 425.2h0M89.0 554.1h0M57.9 434.4h0M117.1 496.5h0M91.7 482.7h0M91.6 544.5h0M141.0 431.9h0M83.7 481.7h0M59.0 455.6h0M94.6 435.1h0M144.5 509.2h0M155.2 439.8h0M102.4 484.1h0M132.0 474.7h0M153.2 450.9h0M126.3 492.6h0M97.3 453.7h0M135.9 410.0h0M77.7 435.7h0M116.1 439.4h0M89.7 450.5h0M152.1 503.3h0M55.9 448.5h0M154.6 434.7h0M141.3 479.2h0M159.4 442.5h0M150.2 515.9h0M110.9 359.6h0M92.9 502.7h0M169.5 432.1h0M187.5 429.6h0M188.0 502.3h0M111.2 450.7h0M132.3 400.7h0M194.6 505.3h0M183.1 540.9h0M98.2 473.8h0M114.5 389.9h0M153.4 408.7h0M86.1 548.1h0M109.3 456.7h0M99.8 420.8h0M125.9 491.9h0M94.0 422.7h0M128.1 511.6h0M156.5 441.5h0M87.5 419.1h0M105.3 491.6h0M185.6 519.9h0M80.2 452.2h0" stroke="#7fb865" stroke-width="1.71" stroke-linecap="square"/>
<path d="M110.7 435.3h0M94.0 436.9h0M83.1 435.3h0M90.9 436.3h0M90.0 438.6h0M105.2 437.5h0M109.1 433.8h0M119.9 437.0h0M93.2 434.7h0M76.0 437.5h0M104.9 437.8h0M85.3 435.5h0M85.7 436.4h0M106.9 434.8h0M102.6 436.6h0M91.7 436.0h0M84.2 439.9h0M111.9 435.9h0M93.4 438.4h0M104.2 435.8h0M89.6 437.7h0M106.5 437.1h0M71.2 438.0h0M84.6 434.9h0M101.4 436.0h0M99.7 434.7h0M93.7 439.6h0M99.5 438.6h0M80.2 440.6h0M93.6 436.1h0M93.9 439.8h0M98.3 437.7h0M82.3 439.8h0M87.5 438.3h0M94.3 437.0h0M92.9 436.8h0M92.2 437.7h0M76.9 438.1h0M76.0 437.9h0M98.4 438.6h0" stroke="#8fbe72" stroke-width="1.71" stroke-linecap="square"/>
<path d="M171.3 433.0h0M109.3 358.1h0M82.8 483.0h0M106.7 464.0h0M154.2 415.7h0M106.8 506.0h0M125.1 440.5h0M122.9 407.7h0M75.9 460.6h0M158.9 461.0h0M127.3 494.1h0M138.1 499.9h0M109.3 431.8h0M103.1 395.9h0M172.7 538.6h0M93.3 469.8h0M163.7 462.3h0M66.8 498.1h0M159.4 428.7h0M121.9 412.0h0M85.2 409.6h0M185.4 427.2h0M136.9 526.6h0M180.1 415.8h0M178.7 487.6h0M158.2 465.2h0M103.2 548.8h0M63.6 454.9h0M118.4 356.5h0M148.7 521.1h0M169.5 461.6h0M94.8 443.7h0M109.7 493.2h0M107.7 485.8h0M139.7 491.0h0M94.3 458.5h0M101.5 473.4h0M82.4 467.5h0M79.2 442.2h0M91.0 487.4h0M170.8 534.2h0M135.2 420.8h0M94.7 456.9h0M165.8 414.3h0M142.6 401.1h0M161.4 454.1h0M98.1 443.0h0M111.6 494.0h0M117.2 474.8h0M128.5 512.4h0M172.4 509.0h0M113.4 457.1h0M65.8 469.8h0M197.7 482.7h0M163.6 479.5h0M83.9 477.2h0M86.1 401.9h0M192.2 505.8h0M116.5 425.9h0M95.2 524.2h0M139.9 396.8h0M156.6 435.4h0M116.2 497.0h0M107.5 399.2h0M189.2 498.5h0M92.4 565.1h0M129.5 458.5h0M78.3 452.3h0M167.7 467.9h0M164.2 477.9h0M186.8 417.3h0M121.8 526.9h0M89.6 425.5h0M181.2 489.1h0M125.9 343.6h0M168.4 435.4h0M86.8 428.8h0M92.6 482.4h0M116.7 379.8h0M65.7 460.7h0M104.1 455.2h0M154.5 525.4h0M119.6 474.0h0M101.6 528.3h0M125.1 490.7h0M163.7 414.8h0M58.5 443.6h0M191.7 467.0h0M146.0 516.1h0M198.0 509.9h0M91.0 503.5h0M170.0 416.2h0M76.6 491.3h0M67.2 453.8h0M92.7 432.3h0M151.4 485.7h0M188.6 502.1h0M190.6 480.9h0M165.6 486.0h0M109.9 388.4h0M187.7 434.7h0M79.9 435.5h0M108.7 348.8h0M183.1 436.8h0M185.3 548.9h0M182.9 507.0h0M137.9 457.6h0M161.0 478.3h0M189.3 513.7h0M94.4 430.0h0M87.6 534.9h0M96.5 492.6h0M148.3 467.1h0M79.8 459.2h0M87.1 533.7h0M80.4 418.2h0M140.2 403.2h0M154.9 399.2h0M198.4 415.7h0M195.6 485.7h0M191.7 511.0h0M109.0 386.2h0M188.0 492.7h0M104.1 356.5h0M91.5 566.8h0M93.3 523.8h0M164.1 488.0h0M178.4 552.2h0M200.7 413.0h0M93.5 460.8h0M170.8 410.7h0M175.5 515.7h0M142.6 486.4h0M171.6 443.9h0M106.5 522.6h0M102.1 484.2h0M89.7 506.3h0M93.9 437.1h0M154.5 504.9h0M127.0 341.1h0M104.6 478.2h0M90.4 522.8h0M82.9 441.7h0M152.9 432.1h0M153.2 519.1h0M179.9 476.9h0M67.2 430.1h0M95.3 469.5h0M178.4 401.8h0M79.8 475.6h0M175.1 539.0h0M108.1 419.4h0M158.6 462.1h0M101.0 374.5h0M84.6 460.7h0M91.3 452.5h0M127.8 400.7h0M68.2 436.4h0M133.4 526.4h0M138.4 419.8h0M204.5 408.9h0M125.0 443.6h0M180.3 482.5h0M135.3 458.4h0M188.1 421.2h0M201.4 467.7h0M173.7 444.5h0M188.1 436.7h0M112.9 510.7h0M124.6 437.5h0M178.0 437.7h0M81.4 449.9h0M97.4 399.2h0M169.8 420.3h0M146.9 409.7h0M170.1 502.1h0M171.6 475.9h0M112.0 501.1h0M101.1 363.6h0M199.0 472.2h0M126.1 353.2h0M132.9 405.4h0M138.6 504.5h0M129.9 431.9h0M119.3 424.7h0M162.7 485.9h0M156.6 486.9h0M191.7 462.5h0M121.0 400.1h0M113.0 524.9h0M125.6 380.7h0M126.5 386.7h0M135.8 398.7h0M132.6 398.3h0M141.3 404.9h0M130.2 387.3h0M122.7 378.4h0M126.5 387.5h0M128.7 389.0h0M136.3 407.0h0M118.6 374.2h0M134.1 403.2h0M133.5 393.2h0M137.9 405.4h0M127.0 387.4h0M118.4 373.9h0M128.7 388.7h0M123.8 378.7h0M137.9 406.3h0M123.7 380.8h0M122.0 379.7h0M124.3 387.4h0M124.7 381.9h0M119.4 375.3h0M126.6 386.9h0M119.5 377.8h0M122.0 379.7h0M132.3 397.6h0M131.9 399.4h0M124.6 394.1h0M142.2 406.3h0M119.3 372.8h0M125.7 378.6h0M131.5 402.5h0M140.5 405.2h0M135.2 404.3h0M123.5 390.8h0M140.2 401.9h0M130.4 397.5h0M132.6 402.0h0M128.3 397.0h0M133.4 403.5h0M124.7 389.3h0M121.0 377.2h0M134.6 400.7h0M134.4 394.7h0M124.4 382.3h0M136.8 403.9h0M123.3 386.3h0M138.1 405.9h0M125.8 393.3h0M135.7 394.3h0M127.0 383.1h0M136.3 407.4h0M123.2 387.6h0M136.2 397.0h0M129.1 397.4h0M121.3 384.6h0M119.8 384.4h0M120.7 388.4h0M119.8 379.6h0M138.0 408.6h0M122.8 388.1h0M122.2 375.4h0M131.6 392.1h0M136.2 396.7h0M137.2 407.9h0M136.3 403.5h0M122.7 379.3h0M123.7 378.2h0M131.2 392.7h0M137.6 403.8h0M134.9 404.7h0M121.3 376.9h0M121.4 385.4h0M129.6 396.3h0M138.2 401.6h0M133.0 390.2h0M126.2 387.5h0M130.9 389.0h0M132.0 389.5h0M127.1 384.9h0M124.2 391.7h0M131.9 395.6h0M133.2 401.5h0M122.7 390.4h0M118.4 373.3h0M134.5 398.2h0M134.1 393.6h0M134.0 396.0h0M122.2 361.4h0M121.5 357.0h0M121.3 365.7h0M122.5 357.3h0M121.2 358.8h0M120.1 365.3h0M124.3 363.6h0M119.9 352.7h0M122.3 353.6h0M120.3 363.8h0M121.5 358.0h0M118.9 362.2h0M145.2 399.3h0M161.5 402.1h0M142.7 398.4h0M165.6 403.4h0M164.0 401.8h0M172.6 401.9h0M147.7 398.3h0M167.5 399.4h0M155.3 394.8h0M145.3 396.2h0M172.1 400.9h0M163.5 401.9h0M158.4 400.6h0M165.9 401.2h0M144.6 396.6h0M170.0 404.3h0M153.4 400.0h0M151.0 398.3h0M145.6 397.4h0M155.1 399.8h0M156.0 400.4h0M153.8 398.1h0M163.0 400.6h0M138.9 395.9h0M158.1 401.7h0M161.0 402.5h0M145.7 395.9h0M140.2 392.4h0M174.5 401.8h0M154.6 402.4h0M153.0 399.8h0M158.5 396.9h0M145.7 399.8h0M147.6 393.9h0M160.0 403.0h0M162.9 403.8h0M162.2 398.3h0M157.4 399.5h0M158.6 398.6h0M142.1 396.2h0M177.4 404.7h0M126.0 413.9h0M135.5 429.8h0M157.1 395.8h0M134.6 396.2h0M148.0 412.1h0M135.1 417.6h0M144.5 423.2h0M161.6 401.8h0M129.2 393.1h0M181.5 412.3h0M173.4 429.6h0M118.7 426.2h0M113.5 418.6h0M169.9 406.6h0M177.0 421.1h0M148.3 402.7h0M123.6 394.9h0M151.5 411.9h0M125.7 412.2h0M117.8 403.5h0M160.8 397.7h0M150.2 397.1h0M180.0 426.9h0M183.0 418.3h0M114.7 397.3h0M119.7 405.2h0M180.4 422.0h0M135.8 422.8h0M112.8 412.7h0M140.4 394.9h0M179.1 417.0h0M184.7 416.3h0M157.3 396.8h0M146.8 426.1h0M152.8 416.3h0M145.6 405.6h0M112.9 400.3h0M125.6 395.5h0M116.0 420.7h0M184.7 418.5h0M174.0 406.5h0M133.8 412.0h0M128.3 401.8h0M165.0 422.0h0M183.8 416.9h0M137.6 409.8h0M154.8 414.5h0M179.0 413.5h0M182.2 410.2h0M144.6 393.1h0M135.7 410.3h0M112.8 408.7h0M120.5 402.2h0M176.5 426.8h0M120.4 414.3h0M147.5 394.0h0M133.7 412.3h0M143.0 413.6h0M116.8 415.3h0M156.6 399.2h0M153.4 427.5h0M177.1 415.4h0M150.0 420.5h0M145.1 418.9h0M139.2 413.1h0M165.6 414.2h0M156.0 406.6h0M137.6 416.9h0M144.6 408.8h0" stroke="#f6c283" stroke-width="1.71" stroke-linecap="square"/>
<path d="M173.6 499.6h0M178.5 519.0h0M169.9 511.4h0M176.6 511.0h0M179.3 503.2h0M176.4 510.8h0M184.5 511.7h0M179.1 501.6h0M181.9 494.3h0M183.7 506.2h0M175.1 512.8h0M177.9 497.5h0M176.6 499.7h0M173.3 497.4h0M171.0 494.5h0M173.2 493.6h0M177.0 522.5h0M174.8 504.4h0M172.7 516.6h0M180.3 520.8h0M177.5 501.9h0M171.3 497.7h0M168.1 499.9h0M172.3 517.2h0M176.2 495.2h0M179.9 496.8h0M180.9 495.6h0M183.6 500.3h0M170.1 494.4h0M173.5 503.0h0M181.1 492.4h0M172.5 495.8h0M185.6 503.2h0M180.2 505.2h0M170.1 500.4h0M172.8 498.3h0M181.9 493.0h0M173.7 514.2h0M178.3 511.5h0M169.8 496.7h0M170.0 492.5h0M177.9 493.1h0M171.7 494.8h0M176.3 514.7h0M168.5 502.5h0M176.7 499.9h0M180.5 506.9h0M178.9 501.0h0M175.4 508.1h0M174.4 504.7h0M180.7 518.3h0M172.1 492.5h0M170.5 506.5h0M181.3 514.2h0M172.0 491.8h0M175.6 500.9h0M176.8 515.5h0M180.5 507.2h0M174.8 521.5h0M182.0 508.9h0M181.4 508.2h0M172.4 494.2h0M177.6 518.7h0M177.0 506.0h0M172.7 493.9h0M176.0 506.5h0M167.2 504.1h0M170.0 512.9h0M178.7 496.8h0M175.2 504.0h0M169.6 503.1h0M185.4 507.9h0M174.0 507.0h0M179.8 493.4h0M173.6 494.0h0M182.7 496.3h0M176.6 513.5h0M174.6 495.5h0M175.2 520.9h0M176.8 519.1h0M175.5 498.2h0M183.0 493.6h0M179.8 499.7h0M183.0 495.2h0M184.4 494.9h0M179.2 507.6h0M177.9 520.5h0M177.4 516.7h0M180.4 505.6h0M183.7 514.7h0M180.4 495.5h0M182.6 513.6h0M168.0 497.2h0M181.3 515.3h0M179.9 502.2h0M184.8 495.0h0M170.6 504.6h0M171.2 514.3h0M182.7 514.5h0M172.5 509.1h0M172.3 508.1h0M176.6 495.0h0M182.9 516.8h0M181.6 493.0h0M170.7 514.7h0M182.2 510.4h0M184.7 504.1h0M170.5 505.7h0M172.0 502.6h0M181.6 500.7h0M180.3 509.6h0M183.3 511.4h0M183.0 511.1h0M174.5 496.5h0M181.1 499.7h0M179.3 511.6h0M172.6 498.3h0M178.9 510.9h0M170.3 513.5h0M180.8 508.8h0M176.6 507.7h0M174.7 496.7h0M176.8 504.0h0M178.4 492.7h0M176.7 494.2h0M176.7 517.0h0M179.5 505.4h0M183.4 506.1h0M174.0 503.1h0M173.6 499.1h0M176.4 504.2h0M181.0 506.6h0M169.2 498.8h0M177.2 512.0h0M178.7 514.6h0M173.2 515.3h0M177.7 498.4h0M182.3 517.2h0M177.8 498.1h0M171.9 518.4h0M171.5 506.0h0M177.0 490.6h0M168.2 496.6h0M181.9 515.9h0M182.0 509.4h0M183.4 514.3h0M180.3 491.4h0M184.8 499.6h0M175.3 507.3h0M177.1 508.8h0M176.5 493.2h0M176.1 496.2h0M174.6 513.7h0M181.1 495.3h0M178.6 496.1h0M178.2 498.2h0M179.6 521.9h0M180.6 519.9h0M166.9 503.4h0M172.4 496.3h0M182.3 493.4h0M178.6 494.7h0M179.1 494.3h0M171.3 504.9h0M177.0 493.8h0M179.4 512.6h0M177.7 502.7h0M176.9 507.9h0M170.8 502.6h0M177.9 502.5h0M175.1 494.6h0M184.2 494.6h0M177.3 521.2h0M181.4 509.5h0M171.7 512.2h0M182.1 496.8h0M170.6 503.6h0M178.0 519.4h0M177.8 498.8h0M180.5 495.0h0M177.5 509.1h0M175.3 508.3h0M169.8 496.9h0M177.7 503.3h0M176.0 520.2h0M175.3 514.6h0M169.8 502.7h0M172.0 500.0h0M167.4 502.2h0M181.7 508.0h0M183.9 510.4h0M178.9 504.1h0M182.7 504.8h0M168.8 497.4h0M169.6 510.7h0M179.6 505.4h0M179.0 503.9h0M177.8 491.3h0M174.2 522.1h0M177.5 501.2h0M165.6 506.9h0M169.9 520.4h0M162.7 514.7h0M163.6 505.0h0M169.6 505.2h0M171.0 509.1h0M165.8 508.4h0M163.7 498.3h0M171.0 518.9h0M166.3 516.6h0M170.0 514.7h0M161.3 514.1h0M170.5 508.7h0M165.1 514.0h0M162.3 501.0h0M161.4 514.6h0M161.9 503.5h0M168.3 498.1h0M164.5 513.2h0M170.1 499.9h0M166.7 512.8h0M166.6 512.5h0M164.6 501.4h0M168.0 521.1h0M168.2 514.4h0M166.9 519.6h0M166.1 519.3h0M162.4 506.2h0M166.5 512.5h0M170.2 508.1h0M170.8 515.9h0M164.8 513.1h0M165.8 495.4h0M163.6 520.1h0M162.0 505.0h0M165.4 498.4h0M169.7 498.9h0M166.5 502.4h0M167.8 497.6h0M165.9 520.3h0M160.2 500.0h0M168.0 501.5h0M165.9 516.6h0M167.2 496.0h0M160.6 499.7h0M167.6 500.1h0M169.4 518.1h0M169.3 519.8h0M164.6 516.4h0M165.3 524.5h0M169.4 508.0h0M168.5 512.1h0M162.7 502.0h0M168.4 522.4h0M167.5 517.5h0M167.6 498.5h0M163.1 512.0h0M169.0 507.0h0M168.3 504.4h0M163.8 499.2h0M165.0 512.0h0M168.3 505.7h0M169.8 514.7h0M165.3 514.5h0M168.2 504.2h0M162.3 514.3h0M166.8 495.5h0M161.9 507.4h0M161.1 510.3h0M164.7 503.2h0M148.5 524.0h0M133.5 521.3h0M153.7 514.4h0M136.9 516.2h0M137.6 519.5h0M146.0 515.1h0M138.7 525.1h0M138.5 526.3h0M137.3 519.7h0M148.0 520.3h0M149.5 511.9h0M146.0 514.0h0M147.7 513.4h0M132.7 520.9h0M138.8 516.5h0M151.1 520.7h0M134.6 523.3h0M147.9 520.8h0M146.3 511.1h0M138.6 515.7h0M141.5 519.7h0M134.5 523.1h0M139.2 525.4h0M148.1 517.1h0M135.7 524.3h0M141.2 520.4h0M147.3 513.9h0M150.1 521.6h0M147.0 522.7h0M138.5 515.2h0M140.2 525.4h0M145.1 515.3h0M151.9 519.8h0M148.2 516.6h0M146.8 517.7h0M143.5 513.4h0M140.1 517.9h0M148.3 513.0h0M136.4 522.2h0M142.4 526.8h0M139.8 519.8h0M151.2 513.6h0M138.3 520.6h0M147.3 522.3h0M138.8 516.5h0M140.3 515.5h0M136.6 519.4h0M135.3 516.2h0M143.6 516.2h0M138.5 518.4h0M147.2 514.9h0M140.3 527.1h0M146.0 518.5h0M136.7 524.9h0M152.5 514.6h0M150.7 517.1h0M137.3 514.6h0M136.5 525.7h0M152.9 516.1h0M149.6 515.7h0M144.8 513.7h0M152.0 519.8h0M145.0 525.1h0M143.5 519.3h0M147.7 519.0h0M144.7 515.7h0M144.8 519.7h0M133.6 525.3h0M153.0 517.2h0M145.8 523.0h0M149.5 523.6h0M150.0 516.4h0M149.5 521.3h0M153.1 516.2h0M145.6 526.4h0M148.7 523.2h0M139.0 522.4h0M132.7 522.5h0M138.1 520.4h0M150.9 521.2h0M73.9 461.6h0M86.8 476.5h0M96.4 546.5h0M184.9 432.2h0M107.6 507.0h0M166.2 457.7h0M123.9 415.1h0M99.8 519.4h0M117.3 520.9h0M96.4 414.8h0M151.8 443.7h0M84.7 478.8h0M156.1 474.0h0M118.9 502.0h0M73.8 450.7h0M142.1 435.7h0M87.3 462.6h0M86.6 540.5h0M136.9 441.3h0M167.2 423.9h0M118.3 492.0h0M76.9 434.3h0M143.5 429.5h0M77.1 437.5h0M71.1 497.4h0M114.6 405.2h0M91.4 510.6h0M96.4 459.1h0M192.6 423.7h0M73.9 480.3h0M100.4 454.2h0M115.2 407.5h0M117.7 410.4h0M91.2 438.6h0M105.8 454.1h0M152.3 522.3h0M169.3 430.1h0M155.5 412.8h0M152.9 437.6h0M176.8 543.4h0M122.7 523.3h0M148.9 504.7h0M106.7 516.2h0M75.4 477.9h0M151.8 472.5h0M85.1 561.3h0M97.1 491.7h0M126.1 431.4h0M187.1 554.7h0M191.5 430.2h0M77.6 414.2h0M106.5 523.8h0M113.5 525.9h0M99.3 543.9h0M123.2 424.8h0M135.9 466.9h0M174.6 465.0h0M151.4 419.2h0M126.7 468.8h0M144.9 500.9h0M92.8 549.6h0M129.7 500.1h0M166.9 439.0h0M171.0 434.1h0M182.3 508.8h0M191.9 494.5h0M180.5 409.7h0M79.0 494.0h0M151.8 465.6h0M88.8 520.0h0M141.0 440.2h0M102.6 441.0h0M132.3 447.2h0M133.9 447.9h0M92.9 561.3h0M113.8 444.6h0M108.7 524.7h0M98.5 406.2h0M145.6 448.7h0M115.0 469.5h0M207.0 511.8h0M215.4 516.2h0M203.7 509.4h0M213.4 516.6h0M207.5 511.7h0M221.0 521.5h0M218.0 520.2h0M208.9 512.6h0M205.4 511.6h0M219.2 520.7h0M214.0 516.4h0M212.4 515.7h0M212.5 516.0h0M219.4 521.2h0M209.6 512.5h0M207.2 510.4h0M221.4 521.4h0M199.4 505.6h0M198.9 506.3h0M220.1 520.3h0M214.7 516.2h0M221.4 519.1h0M216.7 518.3h0M200.6 506.5h0M205.9 510.8h0M135.6 536.9h0M135.5 533.7h0M134.7 529.8h0M135.0 534.6h0M133.9 528.4h0" stroke="#f5a21c" stroke-width="1.71" stroke-linecap="square"/>
<path d="M165.7 425.5h0M183.6 415.4h0M69.5 444.7h0M131.1 472.1h0M130.8 442.4h0M124.7 494.3h0M101.2 410.8h0M149.5 442.8h0M63.9 431.9h0M72.5 480.8h0M62.3 446.9h0M146.8 433.4h0M123.1 485.9h0M158.2 502.8h0M114.3 379.5h0M142.1 483.0h0M65.5 458.3h0M139.1 497.9h0M91.9 428.5h0M145.8 526.9h0M112.2 358.1h0M88.9 411.3h0M109.9 494.2h0M173.1 421.5h0M118.5 434.5h0M109.0 479.6h0M184.8 465.6h0M80.4 428.2h0M120.0 385.6h0M192.8 512.7h0M94.7 392.1h0M93.9 430.9h0M151.4 518.5h0M80.3 427.4h0M121.4 426.7h0M170.3 487.2h0M184.7 487.5h0M137.4 536.7h0M121.9 504.5h0M157.4 428.3h0M130.7 429.5h0M185.2 409.9h0M88.8 526.2h0M156.5 396.4h0M204.8 413.8h0M177.1 471.6h0M84.3 419.1h0M145.0 409.8h0M112.9 448.2h0M185.1 511.5h0M175.6 522.3h0M177.1 522.5h0M84.6 470.9h0M117.9 509.9h0M111.7 413.4h0M168.1 500.0h0M106.1 504.3h0M90.7 455.2h0M79.1 419.1h0M114.9 360.3h0" stroke="#9db2b8" stroke-width="1.71" stroke-linecap="square"/>
<path d="M183.9 492.6h0M189.2 492.0h0M184.1 492.3h0M195.8 493.0h0M195.8 494.4h0M178.9 492.0h0M179.4 491.4h0M181.3 491.4h0M196.6 494.8h0M179.3 491.4h0M178.7 491.6h0M187.8 492.2h0M180.4 492.2h0M197.6 493.9h0M184.2 492.5h0M183.7 492.1h0M197.5 493.8h0M185.4 491.9h0M180.9 491.4h0M193.5 493.7h0M187.2 492.6h0M187.6 492.2h0M197.7 494.1h0M196.1 493.5h0M181.5 491.3h0M187.6 493.2h0M196.7 493.9h0M189.8 492.4h0M183.9 492.9h0M197.1 493.7h0M183.7 491.9h0M188.3 490.9h0M180.1 492.1h0M190.5 493.1h0M179.3 491.6h0M177.8 491.9h0M186.5 492.7h0M192.4 493.6h0M191.7 492.7h0M185.6 492.1h0M192.7 493.9h0M183.6 491.7h0M185.8 492.7h0M195.0 494.0h0M184.6 492.2h0M194.8 493.2h0M197.4 495.0h0M182.7 491.5h0M178.7 491.5h0M194.5 493.1h0M186.6 492.7h0M181.3 491.2h0M183.5 492.1h0M191.4 493.8h0M178.8 491.1h0M195.7 494.0h0M184.6 491.9h0M180.6 491.0h0M193.7 493.9h0M189.9 493.6h0M179.7 491.8h0M180.5 491.9h0M188.9 492.7h0M188.9 493.4h0M180.8 491.6h0M196.7 493.7h0M193.4 493.3h0M195.8 494.6h0M187.1 492.2h0M185.9 492.4h0M172.0 485.0h0M175.0 487.0h0M192.0 490.5h0M225.3 483.7h0M229.3 483.7h0M174.0 469.0h0M175.5 470.0h0" stroke="#222" stroke-width="1.71" stroke-linecap="square"/>
<path d="M99.7 554.0h0M92.4 551.4h0M95.0 559.8h0M86.3 552.0h0M91.7 550.5h0M85.8 548.3h0M97.5 554.0h0M88.7 550.4h0M89.4 557.9h0M96.2 554.2h0M96.2 557.3h0M90.0 547.5h0M86.6 560.0h0M87.1 552.8h0M91.5 558.6h0M92.8 559.3h0M94.6 554.2h0M92.4 552.5h0M98.2 556.7h0M91.7 560.0h0M99.0 555.5h0M86.7 563.3h0M94.2 550.5h0M88.3 548.6h0M93.0 560.4h0M97.3 559.5h0M89.5 564.8h0M92.4 561.5h0M85.5 551.6h0M96.9 559.7h0M95.9 559.9h0M84.7 550.2h0M89.1 555.7h0M85.6 554.2h0M86.4 552.2h0M89.9 547.4h0M87.4 564.2h0M90.9 565.3h0M89.2 556.2h0M93.0 553.7h0M97.5 555.9h0M89.9 563.2h0M94.2 561.2h0M92.6 553.7h0M92.1 549.3h0M90.7 561.9h0M93.2 559.1h0M88.1 561.6h0M88.5 553.6h0M97.2 550.6h0M86.8 560.7h0M88.9 550.9h0M90.0 561.7h0M94.8 553.3h0M95.6 562.4h0M87.3 563.6h0M92.9 558.7h0M92.0 560.3h0M84.3 553.4h0M93.2 554.7h0M92.6 563.0h0M85.9 560.5h0M88.8 546.8h0M91.9 547.8h0M91.8 548.6h0M91.6 547.9h0M91.5 558.0h0M98.4 553.0h0M85.4 554.2h0M94.6 552.8h0M96.4 551.7h0M91.1 556.4h0M90.5 549.0h0M86.8 554.0h0M93.9 560.9h0M92.0 562.1h0M96.9 554.3h0M86.3 563.1h0M88.2 564.4h0M90.5 557.0h0M91.6 561.4h0M90.0 556.0h0M87.9 552.3h0M85.9 550.6h0M88.7 559.8h0M86.5 548.3h0M96.9 558.1h0M85.5 555.0h0M93.4 562.9h0M85.2 546.5h0M85.6 552.8h0M84.7 557.7h0M87.1 549.8h0M89.5 550.3h0M89.0 549.8h0M89.8 557.7h0M93.6 560.7h0M93.7 551.7h0M87.6 553.8h0M93.2 560.0h0M92.0 565.0h0M85.4 558.9h0M86.0 554.1h0M86.2 551.5h0M84.9 556.6h0M85.6 550.2h0M97.2 551.3h0M93.8 563.6h0M94.8 562.6h0M87.9 563.6h0M85.8 563.5h0M87.8 561.6h0M86.2 555.8h0M93.8 557.0h0M92.9 550.1h0M97.6 554.2h0M88.4 561.6h0M84.4 556.9h0M84.6 558.4h0M86.3 561.7h0M92.1 556.1h0M84.6 551.0h0M90.2 557.8h0M87.0 553.9h0M87.4 564.9h0M92.0 562.9h0M88.3 557.9h0M96.7 552.4h0M88.6 546.8h0M94.7 553.8h0M87.4 551.9h0M89.4 547.7h0M87.7 552.8h0M87.6 563.2h0M97.6 558.5h0M93.4 564.4h0M95.4 558.9h0M99.9 554.8h0M96.3 555.1h0M88.3 549.3h0M85.7 546.6h0M89.1 554.5h0M87.3 559.8h0M93.3 561.2h0M89.4 557.4h0M91.6 549.0h0M89.6 565.6h0M96.5 557.6h0M92.2 559.0h0M93.2 550.8h0M87.2 549.7h0M91.4 548.8h0M87.0 551.6h0M90.3 564.0h0M92.9 555.6h0M94.6 548.8h0M90.3 554.5h0M85.1 551.6h0M93.7 558.0h0M88.5 546.6h0M93.7 548.3h0M89.4 561.6h0M98.5 558.5h0M84.6 550.9h0M90.4 554.4h0M93.7 549.0h0M90.8 547.5h0M92.6 557.4h0M84.7 556.7h0M94.7 560.6h0M93.5 552.7h0M92.7 559.4h0M91.4 560.8h0M96.7 561.2h0M91.4 548.1h0M87.0 551.4h0M89.3 548.2h0M93.1 549.3h0M90.1 561.1h0M98.2 553.4h0M93.6 552.1h0M87.3 559.8h0M85.0 559.0h0M87.9 549.0h0M94.5 553.4h0M85.0 548.2h0M97.4 553.4h0M97.3 558.3h0M94.2 550.2h0M89.5 559.2h0M87.9 545.7h0M95.0 559.9h0M87.0 555.2h0M88.7 547.8h0M86.4 545.9h0M91.3 547.9h0M84.5 547.0h0M96.0 558.9h0M89.9 562.3h0M84.8 554.0h0M86.5 555.3h0M90.0 546.5h0M94.0 554.0h0M93.5 555.8h0M93.7 551.9h0M97.9 556.2h0M88.0 557.6h0M97.2 555.7h0M89.5 556.7h0M99.1 553.8h0M91.1 556.2h0M87.1 555.5h0M86.2 549.3h0M90.2 564.3h0M94.4 551.0h0M94.8 556.0h0M92.7 553.2h0M91.6 562.6h0M91.4 556.7h0M93.9 556.3h0M86.8 531.9h0M89.3 549.8h0M102.8 521.1h0M100.2 554.3h0M107.8 531.9h0M94.3 538.9h0M95.7 558.8h0M112.0 519.7h0M110.5 531.3h0M91.3 542.0h0M95.2 524.4h0M111.3 523.2h0M86.4 532.7h0M96.7 533.2h0M87.9 550.9h0M105.2 524.8h0M94.1 525.4h0M104.8 543.0h0M95.1 515.2h0M93.1 546.7h0M89.2 536.7h0M105.6 530.6h0M87.5 545.4h0M103.2 542.4h0M109.4 531.7h0M98.3 535.4h0M108.0 529.9h0M90.7 531.6h0M89.2 551.8h0M111.6 530.2h0M101.3 525.4h0M84.0 554.1h0M93.3 552.0h0M104.5 547.7h0M93.0 556.4h0" stroke="#b48fd6" stroke-width="1.71" stroke-linecap="square"/>
<path d="M178.9 558.5h0M186.7 563.4h0M178.7 558.0h0M186.8 566.9h0M182.3 564.8h0M180.8 558.7h0M182.9 562.5h0M181.3 561.4h0M187.0 566.0h0M185.3 566.7h0M182.2 560.7h0M182.1 562.2h0M180.5 558.8h0M181.1 558.9h0M184.3 563.7h0M185.4 566.1h0M184.2 563.1h0M182.8 560.6h0M181.1 560.5h0M183.1 562.0h0M183.5 565.0h0M184.1 563.9h0M182.5 562.2h0M182.8 560.7h0M181.4 563.8h0M183.6 563.2h0M179.1 556.4h0M183.2 559.8h0M185.4 560.4h0M178.5 558.1h0M185.0 567.2h0M179.7 561.4h0M183.0 564.6h0M185.6 560.8h0M181.1 562.7h0M184.3 563.5h0M180.1 561.5h0M187.0 567.6h0M178.6 558.3h0M185.9 567.7h0M186.2 560.7h0M181.9 560.1h0M186.2 566.3h0M183.3 563.3h0M182.6 563.9h0" stroke="#f05a1c" stroke-width="1.71" stroke-linecap="square"/>
<path d="M179.0 547.1h0M185.7 556.1h0M180.3 534.3h0M183.1 561.2h0M186.9 553.5h0M179.6 533.1h0M177.6 533.4h0M185.4 554.6h0M181.1 560.1h0M187.1 564.3h0M181.8 557.9h0M178.9 549.0h0M186.5 555.2h0M184.7 537.8h0M187.0 556.6h0M181.8 560.1h0M179.3 543.1h0M179.0 531.2h0M178.0 535.4h0M183.2 546.9h0M184.9 548.1h0M179.8 544.6h0M183.0 562.3h0M181.6 559.9h0M177.7 539.6h0" stroke="#7fb865" stroke-width="1.71" stroke-linecap="square"/>
<path d="M127.9 345.6h0M113.0 337.5h0M116.4 336.5h0M121.1 343.6h0M106.4 338.0h0M104.4 338.9h0M115.2 339.4h0M102.7 343.6h0M111.0 337.2h0M108.7 339.5h0M124.3 339.0h0M109.8 336.7h0M114.3 337.5h0M107.1 340.2h0M118.1 339.8h0M104.5 337.8h0M126.2 343.2h0M101.7 340.9h0M119.0 340.2h0M121.0 339.4h0M123.5 339.1h0M122.7 342.6h0M117.8 337.3h0M114.0 337.3h0M108.6 341.3h0M120.1 340.3h0M96.3 341.9h0M106.9 340.2h0M98.5 342.8h0M118.1 337.7h0M106.9 339.3h0M115.0 337.1h0M110.7 340.6h0M117.7 339.8h0M118.5 342.1h0M122.1 339.5h0M105.9 341.0h0M96.1 341.1h0M98.4 344.1h0M106.6 340.0h0M102.3 339.2h0M116.7 338.2h0M131.8 344.9h0M102.1 341.3h0M128.6 345.3h0M123.9 343.0h0M101.5 343.9h0M116.0 338.0h0M96.2 342.4h0M118.2 337.4h0M103.6 363.2h0M103.0 359.6h0M103.7 363.6h0M102.6 346.7h0M102.0 349.3h0M102.3 357.2h0M102.6 357.2h0M101.6 347.7h0M101.9 349.5h0M102.4 348.9h0M103.4 360.9h0M103.0 356.3h0M102.8 355.7h0M103.4 358.3h0M102.7 360.8h0M101.9 346.3h0M102.8 346.5h0M101.8 347.2h0M126.7 349.1h0M126.4 350.1h0M127.7 349.2h0M124.9 344.8h0M128.2 351.3h0M129.2 349.5h0M129.3 350.5h0M127.2 346.0h0M127.5 347.0h0M127.8 350.4h0M125.4 346.2h0M126.2 347.7h0" stroke="#e03a44" stroke-width="1.71" stroke-linecap="square"/>
<path d="M113.7 392.7h0M179.5 466.4h0M126.6 448.4h0" stroke="#e03a44" stroke-width="1.71" stroke-linecap="square"/>
<path d="M50.2 499.0h0M48.0 500.0h0M64.9 497.1h0M65.4 499.2h0M64.9 495.9h0M53.1 499.7h0M58.1 498.8h0M56.6 499.3h0M56.1 499.8h0M57.9 499.0h0M55.2 499.1h0M64.1 497.0h0M61.8 498.2h0M55.1 500.3h0M64.3 496.9h0M51.3 499.1h0M52.6 499.9h0M66.6 497.0h0M65.2 497.1h0M53.9 499.1h0M51.4 501.2h0M63.8 497.4h0M64.2 497.2h0M54.9 498.1h0M63.9 498.3h0M66.1 495.1h0M69.9 493.3h0M68.7 492.3h0M72.2 490.3h0M67.5 492.5h0M66.4 495.4h0M69.1 491.8h0M66.4 494.7h0" stroke="#92d5e6" stroke-width="1.71" stroke-linecap="square"/>
<path d="M52.0 499.0h0M57.0 497.0h0M66.0 494.0h0M71.0 491.0h0" stroke="#222" stroke-width="1.1700000000000002" stroke-linecap="square"/>
<path d="M256.3 473.5h0M217.5 482.6h0M237.3 478.3h0M222.2 481.6h0M246.1 475.8h0M268.3 470.5h0M255.6 473.2h0M270.5 470.3h0M285.1 466.8h0M258.2 472.9h0M280.7 467.2h0M252.2 474.4h0M223.6 481.1h0M256.9 473.6h0M261.0 471.4h0M287.3 465.9h0M251.2 474.4h0M230.6 479.3h0" stroke="#7fb865" stroke-width="1.26" stroke-linecap="square"/>
<path d="M290.3 464.5h0M226.0 483.5h0" stroke="#222" stroke-width="1.4400000000000002" stroke-linecap="square"/>
<path d="M199.0 417.4h0M193.2 409.1h0M198.9 413.5h0M192.3 410.8h0M197.9 415.1h0M196.9 412.0h0M199.3 409.2h0M201.6 405.7h0M194.7 408.8h0M192.1 409.1h0M196.2 408.9h0M205.3 412.7h0M203.5 417.0h0M197.6 416.9h0M193.1 415.4h0M202.9 412.8h0M201.6 411.2h0M198.6 411.3h0M201.5 417.5h0M197.0 412.7h0M197.9 406.3h0M194.3 415.8h0M198.7 408.4h0M199.6 418.9h0M202.2 409.5h0M207.1 407.5h0M193.1 415.6h0M204.7 416.6h0M198.0 414.7h0M195.0 407.9h0M207.1 412.6h0M203.2 409.5h0M198.1 418.8h0M194.0 410.3h0M195.9 415.3h0M193.2 411.1h0M191.7 410.6h0M194.7 410.3h0M202.6 414.7h0M196.6 409.0h0M198.4 407.7h0M202.5 414.2h0M196.3 408.1h0M204.0 405.0h0M194.9 416.0h0M206.5 406.1h0M207.0 411.9h0M193.6 412.5h0M195.3 414.2h0M201.9 417.3h0M202.6 415.5h0M199.7 419.0h0M195.0 413.6h0M200.5 410.5h0M199.7 406.9h0M198.4 413.3h0M203.9 415.2h0M193.2 407.0h0M199.5 416.2h0M196.1 415.7h0M195.3 408.5h0M205.5 406.7h0M205.4 412.6h0M191.9 411.3h0M200.4 405.6h0M197.7 411.5h0M199.3 418.7h0M197.9 418.3h0M196.3 415.8h0M194.1 413.1h0M203.8 417.1h0M196.5 417.6h0M200.4 407.1h0M203.4 410.6h0M195.3 414.0h0M205.5 415.7h0M203.2 404.5h0M199.1 408.3h0M200.3 414.5h0M196.6 408.2h0M198.5 408.2h0M194.7 407.2h0M199.6 418.1h0M202.5 418.3h0M206.6 406.7h0M201.9 409.4h0M194.3 408.0h0M202.2 405.7h0M205.0 404.0h0M194.0 413.0h0M198.8 415.5h0M201.2 415.6h0M204.5 405.3h0M204.3 409.8h0M206.8 413.9h0M200.0 404.2h0M199.5 409.8h0M198.7 409.2h0M205.5 409.6h0M193.1 407.6h0M205.3 412.0h0M197.3 418.0h0M207.7 410.4h0M193.8 408.8h0M203.2 408.8h0M202.2 417.5h0M199.1 414.2h0M198.8 412.2h0M199.0 410.3h0M201.0 410.0h0M196.4 410.4h0M204.4 406.1h0M199.3 407.3h0M197.2 419.4h0M203.2 407.4h0M203.6 411.8h0M193.1 405.2h0M192.2 408.2h0M198.3 419.5h0M206.2 412.6h0M202.5 413.7h0M204.9 409.6h0M202.2 407.1h0M195.2 407.9h0M198.2 408.4h0M201.4 404.2h0M196.7 413.5h0M204.6 416.5h0M198.6 413.8h0M202.5 416.6h0M177.8 401.0h0M178.0 402.3h0M182.4 400.2h0M178.1 403.5h0M177.6 400.5h0M181.1 403.0h0M181.7 404.2h0M177.9 403.0h0M178.9 402.0h0M178.2 400.5h0M179.6 400.3h0M179.4 398.1h0M181.8 401.7h0M181.6 400.3h0M181.2 400.8h0M183.4 401.2h0M180.1 402.3h0M178.6 403.2h0M181.1 400.9h0M180.1 399.4h0M180.1 397.9h0M177.5 399.5h0M178.5 400.5h0M182.3 404.5h0M181.2 404.0h0M179.7 398.6h0M182.1 400.6h0M180.3 398.8h0M178.0 400.7h0M179.4 399.1h0M174.7 384.9h0M176.4 386.2h0M172.1 380.9h0M175.3 387.2h0M172.6 386.4h0M173.5 383.0h0M174.1 387.7h0M175.1 383.7h0M175.0 384.1h0M175.2 385.7h0M173.9 390.1h0M172.6 380.7h0M171.5 381.5h0M175.2 388.0h0M172.5 385.5h0M172.6 385.6h0M174.7 387.0h0M173.3 387.0h0M174.7 386.5h0M171.9 385.2h0M175.2 385.6h0M173.9 383.2h0M173.8 388.6h0M172.5 382.0h0M171.8 385.3h0M175.2 386.3h0M174.0 382.5h0M173.7 388.5h0M172.5 380.2h0M176.3 385.7h0M182.9 410.4h0M181.8 419.2h0M176.4 421.0h0M186.2 411.3h0M187.7 438.3h0M181.9 412.4h0M186.4 437.6h0M179.5 406.7h0M187.3 439.4h0M181.9 431.0h0M191.7 407.1h0M186.0 421.3h0M178.3 408.7h0M182.1 418.4h0" stroke="#0d4a22" stroke-width="1.71" stroke-linecap="square"/>
<path d="M204.4 409.3h0M198.6 407.0h0M193.7 408.8h0M201.3 412.9h0M196.5 414.5h0M201.4 416.2h0M198.9 414.5h0M198.5 416.2h0M200.4 411.8h0M197.5 407.0h0M196.1 416.3h0M204.0 411.3h0M195.8 414.1h0M196.2 410.0h0M194.4 411.6h0M203.3 408.9h0M203.6 408.4h0M198.6 413.6h0M197.3 410.1h0M202.1 415.4h0M202.5 408.5h0M200.1 409.3h0M201.9 410.4h0M202.1 412.6h0M197.3 409.1h0M199.0 406.8h0M196.1 413.3h0M199.3 409.2h0M195.1 408.6h0M197.8 406.8h0M197.9 407.2h0M200.8 417.5h0M198.3 413.9h0M199.7 416.4h0M197.2 415.7h0M198.2 407.8h0M200.6 411.1h0M196.1 416.0h0M201.0 413.7h0M203.4 408.4h0M189.6 437.5h0M178.4 422.3h0M174.0 435.5h0M200.4 420.3h0M198.2 410.3h0M196.1 406.2h0M181.8 428.2h0M199.5 422.2h0M194.7 420.9h0M191.2 415.0h0M178.6 435.5h0M190.3 416.2h0" stroke="#4d9a3f" stroke-width="1.71" stroke-linecap="square"/>
<path d="M159.6 372.8h0M162.8 371.9h0M161.8 372.9h0M160.9 373.0h0M159.7 375.0h0M160.3 374.7h0M159.8 373.5h0M164.7 373.1h0M165.9 375.5h0M158.9 373.8h0M156.8 372.7h0M163.6 375.5h0M164.8 375.4h0M156.2 373.8h0M160.9 372.2h0M166.4 372.8h0M163.8 372.7h0M160.5 372.9h0M163.8 375.3h0M161.0 372.1h0M160.1 373.0h0M162.3 373.6h0M166.7 375.3h0M161.1 375.2h0M164.5 373.7h0M162.7 372.1h0M162.0 374.2h0M158.5 371.4h0M162.4 374.7h0M162.9 375.4h0M160.1 373.4h0M163.6 372.2h0M162.5 373.8h0M156.8 372.4h0M164.8 376.0h0M156.2 372.8h0M162.6 373.2h0M159.1 371.9h0M159.8 371.3h0M159.4 371.3h0M168.0 374.5h0M162.4 372.7h0M165.1 372.8h0M167.4 375.6h0M158.7 373.8h0M158.7 371.2h0M164.2 375.0h0M162.3 374.8h0M161.5 373.8h0M164.7 375.3h0M168.9 374.4h0M156.2 373.5h0M158.8 373.9h0M166.9 374.3h0M158.5 373.8h0" stroke="#a4b8be" stroke-width="1.71" stroke-linecap="square"/>
<path d="M162.7 375.6h0M164.1 375.0h0M175.4 375.2h0M168.3 376.3h0M161.2 375.8h0M169.3 375.4h0M171.8 374.8h0M166.1 375.3h0M161.1 375.9h0M173.4 375.7h0M162.5 375.7h0M174.8 375.7h0M169.4 374.6h0M166.1 375.2h0M162.8 375.3h0M162.8 375.6h0M172.7 375.7h0M165.0 374.5h0M170.4 375.0h0M167.7 375.3h0M173.2 374.7h0M169.2 378.2h0M170.4 377.3h0M164.2 381.8h0M167.5 379.5h0M176.2 373.0h0M167.7 380.5h0M171.2 376.6h0M173.9 374.9h0M168.5 379.8h0M167.3 381.1h0M171.7 376.2h0M175.0 374.1h0M170.7 377.3h0M169.0 378.9h0M163.3 382.5h0M172.5 375.9h0M173.8 374.5h0M166.9 381.0h0M169.4 377.3h0M169.7 381.7h0M168.3 381.4h0M167.1 379.1h0M170.8 381.1h0M170.1 382.8h0M164.9 377.0h0M167.6 379.8h0M163.2 376.2h0M170.7 383.1h0M167.2 379.5h0M171.9 383.3h0M168.6 381.6h0M166.5 379.6h0M169.3 382.3h0" stroke="#f6c283" stroke-width="1.71" stroke-linecap="square"/>
<path d="M167.7 379.0h0M203.9 385.0h0" stroke="#e03a44" stroke-width="1.71" stroke-linecap="square"/>
<path d="M171.8 383.1h0M174.5 385.1h0M172.3 381.4h0M174.6 384.6h0M174.6 384.8h0M174.2 380.4h0M175.5 390.6h0M171.8 380.2h0M172.5 381.6h0M172.4 384.3h0M176.2 386.8h0M175.5 385.6h0M176.8 390.3h0M176.9 389.6h0M174.5 384.4h0M171.7 382.8h0M171.7 380.4h0M175.9 385.7h0M172.6 381.9h0M175.4 385.1h0M172.5 386.0h0M175.7 384.7h0M176.6 390.5h0M172.3 382.1h0M171.6 383.2h0M171.7 384.0h0M172.6 382.1h0M172.5 382.2h0M176.8 390.5h0M175.6 390.5h0M176.5 390.6h0M175.9 387.7h0M172.6 380.1h0M173.2 382.8h0M174.3 383.8h0" stroke="#0d4a22" stroke-width="1.71" stroke-linecap="square"/>
<path d="M16.8 402.3Q12.5 406 11.3 415.5" fill="none" stroke="#9db2b8" stroke-width="2.2" stroke-linecap="round"/>
<path d="M18.1 413.4h0M16.2 413.0h0M26.2 412.5h0M16.1 412.5h0M24.7 413.2h0M13.1 413.3h0M18.1 412.9h0M23.6 413.0h0M12.6 413.1h0M24.6 412.7h0M16.8 412.6h0M18.7 413.4h0" stroke="#9db2b8" stroke-width="1.35" stroke-linecap="square"/>
<path d="M11.5 415.0h0M17.0 404.0h0M27.5 413.0h0" stroke="#5a9a4a" stroke-width="1.1700000000000002" stroke-linecap="square"/>
<path d="M40.5 369.8h0" stroke="#0d4a22" stroke-width="1.4400000000000002" stroke-linecap="square"/>
<path d="M211.5 437.6h0M215.0 437.8h0M213.1 437.7h0M209.9 436.9h0M215.2 438.7h0M211.1 436.8h0M210.1 437.5h0M214.5 437.9h0" stroke="#f6c283" stroke-width="1.26" stroke-linecap="square"/>
<path d="M210.5 437.0h0" stroke="#9db2b8" stroke-width="1.26" stroke-linecap="square"/>
<path d="M134.5 374.0h0M136.0 376.0h0" stroke="#9db2b8" stroke-width="1.26" stroke-linecap="square"/>
<text x="94.0" y="326.9" font-size="5.6" textLength="90.0" lengthAdjust="spacingAndGlyphs" fill="#e4a6bf">P2(chr19:12,998,329-12,998,592)</text>
<text x="129.0" y="338.5" font-size="5.6" textLength="88.8" lengthAdjust="spacingAndGlyphs" fill="#e4a6bf">P1(chr19:12,997,999-12,998,154)</text>
<text x="64.6" y="337.8" font-size="5.6" textLength="24.2" lengthAdjust="spacingAndGlyphs" fill="#8fb1c0">GATAAG</text>
<text x="79.0" y="361.0" font-size="5.6" textLength="18.0" lengthAdjust="spacingAndGlyphs" fill="#8cbf6e">GATA1</text>
<text x="129.0" y="360.3" font-size="5.6" textLength="18.7" lengthAdjust="spacingAndGlyphs" fill="#8cbf6e">GATA3</text>
<text x="182.2" y="386.0" font-size="5.6" textLength="19.8" lengthAdjust="spacingAndGlyphs" fill="#8cbf6e">HOXA9</text>
<text x="182.2" y="395.0" font-size="5.6" textLength="21.8" lengthAdjust="spacingAndGlyphs" fill="#8fb1c0">ATAAAT</text>
<text x="207.9" y="400.0" font-size="5.6" textLength="20.4" lengthAdjust="spacingAndGlyphs" fill="#8cbf6e">HOXA4</text>
<text x="222.3" y="413.3" font-size="5.6" textLength="34.0" lengthAdjust="spacingAndGlyphs" fill="#8cbf6e">MEIS1(var.2)</text>
<text x="185.0" y="457.0" font-size="5.6" textLength="24.3" lengthAdjust="spacingAndGlyphs" fill="#8fb1c0">AGGAAA</text>
<text x="206.4" y="468.6" font-size="5.6" textLength="17.0" lengthAdjust="spacingAndGlyphs" fill="#8cbf6e">STAT1</text>
<text x="48.8" y="492.5" font-size="5.6" textLength="16.0" lengthAdjust="spacingAndGlyphs" fill="#8cbf6e">PAX5</text>
<text x="54.6" y="510.3" font-size="5.6" textLength="13.1" lengthAdjust="spacingAndGlyphs" fill="#8cbf6e">EBF1</text>
<text x="188.9" y="523.6" font-size="5.6" textLength="13.7" lengthAdjust="spacingAndGlyphs" fill="#8cbf6e">ATF4</text>
<text x="144.2" y="538.5" font-size="5.6" textLength="14.0" lengthAdjust="spacingAndGlyphs" fill="#8cbf6e">ETV6</text>
<text x="127.6" y="546.7" font-size="5.6" textLength="23.9" lengthAdjust="spacingAndGlyphs" fill="#8fb1c0">CACTTC</text>
<text x="192.4" y="544.0" font-size="5.6" textLength="18.7" lengthAdjust="spacingAndGlyphs" fill="#8cbf6e">CEBPD</text>
<text x="193.0" y="563.6" font-size="5.6" textLength="18.1" lengthAdjust="spacingAndGlyphs" fill="#8cbf6e">CEBPB</text>
<text x="63.4" y="556.0" font-size="5.6" textLength="11.6" lengthAdjust="spacingAndGlyphs" fill="#8cbf6e">IRF8</text>
<text x="101.9" y="567.4" font-size="5.6" textLength="25.1" lengthAdjust="spacingAndGlyphs" fill="#8fb1c0">CAGCTG</text>
<text x="47.3" y="569.4" font-size="5.6" textLength="33.6" lengthAdjust="spacingAndGlyphs" fill="#8cbf6e">TCF12(var.2)</text>
<text x="96.0" y="577.3" font-size="5.6" textLength="14.7" lengthAdjust="spacingAndGlyphs" fill="#8cbf6e">TCF4</text>
<line x1="118.7" y1="328.5" x2="121.0" y2="337.0" stroke="#333" stroke-width="0.4"/>
<line x1="137.5" y1="340.5" x2="132.0" y2="345.0" stroke="#333" stroke-width="0.4"/>
<line x1="89.0" y1="336.5" x2="101.0" y2="344.0" stroke="#333" stroke-width="0.4"/>
<line x1="94.5" y1="355.5" x2="104.0" y2="343.0" stroke="#333" stroke-width="0.4"/>
<line x1="128.0" y1="356.0" x2="109.0" y2="341.0" stroke="#333" stroke-width="0.4"/>
<line x1="181.5" y1="381.7" x2="175.6" y2="379.0" stroke="#333" stroke-width="0.4"/>
<line x1="196.6" y1="395.5" x2="198.0" y2="411.0" stroke="#333" stroke-width="0.4"/>
<line x1="211.8" y1="402.0" x2="207.8" y2="404.7" stroke="#333" stroke-width="0.4"/>
<line x1="221.6" y1="411.3" x2="207.8" y2="409.3" stroke="#333" stroke-width="0.4"/>
<line x1="187.0" y1="455.0" x2="176.0" y2="464.0" stroke="#333" stroke-width="0.4"/>
<line x1="205.0" y1="466.0" x2="178.0" y2="469.0" stroke="#333" stroke-width="0.4"/>
<line x1="55.0" y1="493.0" x2="58.0" y2="494.0" stroke="#333" stroke-width="0.4"/>
<line x1="57.0" y1="506.0" x2="56.0" y2="499.0" stroke="#333" stroke-width="0.4"/>
<line x1="188.0" y1="521.0" x2="182.0" y2="516.0" stroke="#333" stroke-width="0.4"/>
<line x1="151.0" y1="535.0" x2="148.0" y2="527.0" stroke="#333" stroke-width="0.4"/>
<line x1="136.0" y1="542.0" x2="131.0" y2="531.0" stroke="#333" stroke-width="0.4"/>
<line x1="192.0" y1="542.0" x2="188.0" y2="545.0" stroke="#333" stroke-width="0.4"/>
<line x1="192.0" y1="561.0" x2="189.0" y2="558.0" stroke="#333" stroke-width="0.4"/>
<line x1="76.0" y1="553.0" x2="94.0" y2="555.0" stroke="#333" stroke-width="0.4"/>
<line x1="104.0" y1="564.0" x2="99.0" y2="560.0" stroke="#333" stroke-width="0.4"/>
<line x1="81.0" y1="566.0" x2="89.0" y2="566.0" stroke="#333" stroke-width="0.4"/>
<line x1="101.0" y1="572.0" x2="97.0" y2="567.0" stroke="#333" stroke-width="0.4"/>
<line x1="14.3" y1="576.4" x2="14.3" y2="524.5" stroke="#4a5b78" stroke-width="0.8" marker-end="url(#ah)"/>
<line x1="14.3" y1="576.4" x2="62.0" y2="576.4" stroke="#4a5b78" stroke-width="0.8" marker-end="url(#ah)"/>
<text x="10.0" y="551.2" font-size="6.9" text-anchor="middle" textLength="24.0" lengthAdjust="spacingAndGlyphs" transform="rotate(-90 10.0 551.2)">UMAP2</text>
<text x="26.0" y="585.2" font-size="6.9" textLength="22.2" lengthAdjust="spacingAndGlyphs">UMAP1</text>
<text x="325.6" y="9.2" font-size="11" font-weight="bold">d</text>
<line x1="351.3" y1="115.0" x2="351.3" y2="26.4" stroke="#4a5b78" stroke-width="0.9" marker-end="url(#ah)"/>
<line x1="351.3" y1="115.0" x2="438.0" y2="115.0" stroke="#4a5b78" stroke-width="0.9" marker-end="url(#ah)"/>
<text x="396.3" y="19.9" font-size="6.9" text-anchor="middle" textLength="21.0" lengthAdjust="spacingAndGlyphs">Motifs</text>
<text x="347.0" y="42.4" font-size="5.9" text-anchor="end">1.0</text>
<text x="347.0" y="72.9" font-size="5.9" text-anchor="end">0.6</text>
<text x="347.0" y="103.5" font-size="5.9" text-anchor="end">0.2</text>
<text x="373.7" y="123.2" font-size="5.9" text-anchor="middle">1.0</text>
<text x="397.8" y="123.2" font-size="5.9" text-anchor="middle">2.0</text>
<text x="419.0" y="123.2" font-size="5.9" text-anchor="middle">3</text>
<text x="396.0" y="134.0" font-size="6.9" text-anchor="middle">Max</text>
<text x="331.5" y="71.0" font-size="6.9" text-anchor="middle" textLength="33.0" lengthAdjust="spacingAndGlyphs" transform="rotate(-90 331.5 71.0)">Gini index</text>
<path d="M363.9 101.9L368.7 93.7L377.0 84.1L385.2 75.8L390.7 69.0L394.8 63.5L399.0 58.0L400.3 52.5L401.0 48.4L403.1 42.9L405.8 38.7L411.3 34.6L416.8 32.6L423.7 31.9L427.8 33.2L425.1 40.1L422.3 45.6L418.9 53.8L414.1 63.5L407.2 71.7L400.3 78.6L393.5 85.4L385.2 92.3L375.6 99.2L367.4 103.3Z" fill="#fbfdf9" stroke="#333" stroke-width="0.45"/>
<path d="M375.6 89.6L382.5 81.3L390.7 73.1L399.0 64.8L405.8 56.6L411.3 49.7L415.4 44.2L418.2 41.5L419.8 42.9L418.2 47.0L414.1 53.8L408.6 62.1L401.7 69.0L393.5 77.2L385.2 84.1L377.7 90.2Z" fill="#e2f0d6" stroke="#333" stroke-width="0.4"/>
<path d="M403.0 55.4h0M380.2 82.9h0M402.3 63.0h0M388.5 75.4h0M388.0 75.7h0M410.0 53.7h0M411.4 48.3h0M425.1 36.6h0M401.1 57.8h0M403.5 57.0h0M383.2 80.4h0M409.0 57.1h0M421.5 36.6h0M376.9 87.8h0M378.5 89.1h0M423.6 39.9h0M382.6 81.3h0M418.1 43.4h0M413.3 42.9h0M414.5 44.5h0M410.2 49.3h0M397.8 62.3h0M416.8 43.3h0M397.3 64.9h0M386.5 81.7h0M380.5 90.7h0M404.2 60.2h0M412.2 48.6h0M398.4 69.1h0M412.9 50.1h0M410.4 54.0h0M395.7 69.6h0M397.4 63.2h0M394.9 69.4h0M371.5 97.0h0M420.4 37.8h0M414.2 51.6h0M401.1 63.0h0M412.2 54.0h0M394.0 74.8h0M408.7 52.4h0M369.5 94.9h0M400.3 60.6h0M393.4 68.8h0M384.5 81.5h0M386.3 79.4h0M406.3 62.1h0M369.5 98.7h0M403.3 60.0h0M404.4 57.3h0M420.7 44.8h0M404.4 57.8h0M380.3 81.2h0M396.4 68.1h0M402.6 62.2h0M370.7 92.9h0M383.7 80.2h0M391.7 72.7h0M410.2 51.3h0M375.8 85.6h0M420.6 44.2h0M387.8 78.8h0M385.0 82.1h0M396.7 76.3h0M388.3 75.4h0M374.9 91.4h0M382.5 79.5h0M369.9 97.8h0M416.5 43.4h0M381.8 87.4h0M395.2 70.9h0M382.2 84.5h0M390.0 72.5h0M414.2 43.2h0M419.7 41.5h0M427.2 34.0h0M392.4 67.2h0M409.9 53.9h0M370.3 94.5h0M386.9 80.6h0M400.9 59.5h0M373.0 96.3h0M369.0 100.3h0M387.3 74.8h0M394.5 67.7h0M424.4 39.3h0M384.2 84.5h0M417.1 44.0h0M409.7 47.4h0M402.8 53.9h0M398.3 64.0h0M396.2 67.6h0M400.7 54.6h0M370.1 96.5h0M418.0 44.0h0M382.7 85.0h0M407.0 59.1h0M389.9 71.1h0M393.1 71.0h0M421.6 40.2h0M422.4 38.3h0M413.6 46.4h0M384.5 82.1h0M407.0 50.1h0M405.1 51.7h0M378.3 90.0h0M415.5 50.3h0M413.9 45.9h0M374.1 90.2h0M413.0 44.2h0M388.6 76.1h0M394.7 73.1h0M403.5 55.8h0M368.1 96.6h0M406.5 48.2h0M404.5 55.8h0M418.0 38.2h0M390.2 72.6h0M378.9 83.4h0M412.0 49.7h0M394.4 66.4h0M389.0 81.2h0M389.2 75.9h0M373.4 95.1h0M380.7 89.9h0M396.2 70.9h0M406.8 54.3h0M381.4 87.2h0M398.4 66.2h0M379.4 86.5h0M413.3 45.1h0M386.8 77.5h0M414.5 44.7h0M387.7 77.2h0M408.5 54.0h0M408.7 55.9h0M376.1 94.1h0M375.8 93.1h0M378.0 85.5h0M402.4 58.7h0M413.6 48.8h0M409.8 54.5h0M420.8 36.5h0M388.0 82.4h0M418.6 35.2h0M387.8 79.9h0M420.2 33.5h0M401.3 59.9h0M375.3 88.4h0M416.6 38.6h0M371.9 94.9h0M371.1 97.4h0M409.2 58.4h0M413.1 54.2h0M378.1 85.7h0M410.2 51.8h0M367.7 95.5h0M368.8 93.6h0M370.2 97.2h0M413.9 45.6h0M404.4 60.0h0M410.8 48.5h0M411.4 56.9h0M413.5 49.3h0M412.9 50.3h0M388.4 78.5h0M374.1 91.9h0M424.7 39.1h0M398.4 64.1h0M386.3 84.0h0M395.2 69.3h0M371.1 96.0h0M413.4 43.8h0M404.4 59.0h0M375.6 87.7h0M382.7 88.7h0M412.9 43.8h0M400.9 68.0h0M418.8 36.6h0M420.1 43.5h0M397.5 66.5h0M402.2 61.5h0M389.5 73.9h0M372.5 99.0h0M416.4 42.6h0M403.4 63.1h0M396.0 65.3h0M412.4 36.0h0M423.8 38.6h0M417.4 41.8h0M399.9 65.3h0M371.7 90.9h0M375.1 94.2h0M421.6 39.3h0M415.5 41.8h0M377.6 86.0h0M423.0 36.4h0M424.8 38.9h0M424.2 36.9h0M369.4 93.0h0M396.8 67.2h0M383.6 86.8h0M377.6 95.8h0M375.8 92.3h0M423.4 41.8h0M390.0 79.0h0M369.8 97.4h0M400.0 66.9h0M390.9 71.0h0M410.0 58.6h0M413.4 47.9h0M394.2 67.5h0M402.2 59.7h0M400.2 60.1h0M418.4 48.3h0M371.7 94.1h0M404.6 52.3h0M410.4 53.2h0M399.8 59.7h0M385.8 76.6h0M394.4 67.6h0M388.5 80.3h0M385.2 79.8h0M419.8 39.2h0M399.9 63.0h0M405.0 60.1h0M390.6 72.9h0M377.3 94.1h0M377.5 84.0h0M381.5 82.9h0M385.7 78.9h0M419.3 45.0h0M407.3 53.9h0M406.8 56.8h0M386.0 79.4h0M407.4 53.3h0M388.2 74.0h0M397.7 71.1h0M403.1 68.1h0M397.9 64.2h0M396.7 63.8h0M394.9 68.2h0M413.6 49.2h0M398.0 64.1h0M395.1 63.7h0M387.7 75.5h0M400.8 60.3h0M406.3 51.4h0M373.0 90.0h0M418.3 43.7h0M377.5 86.3h0M395.9 69.2h0M390.3 75.6h0M419.7 40.7h0M410.9 52.4h0M402.0 59.3h0M398.9 66.3h0M370.3 97.4h0M419.7 47.1h0M403.0 58.0h0M371.7 95.6h0M399.9 65.1h0M408.2 55.1h0M399.2 64.4h0M400.8 55.7h0M389.0 80.6h0M410.0 59.9h0M391.9 70.6h0M375.9 87.0h0M396.9 63.1h0M412.7 49.4h0M381.9 79.4h0M413.0 51.8h0M396.4 70.3h0M375.0 92.6h0M390.1 78.8h0M393.7 72.3h0M400.9 61.9h0M390.3 76.6h0M405.1 57.4h0M404.3 55.8h0M382.5 81.3h0M369.3 98.4h0M419.1 47.3h0M395.4 66.9h0M377.1 85.7h0M385.5 79.3h0M368.1 100.0h0M412.8 44.0h0M367.9 100.8h0M419.7 41.4h0M403.7 61.9h0M396.2 65.5h0M378.9 88.0h0M382.0 82.1h0M397.3 65.7h0M404.1 61.3h0M401.9 54.0h0M405.7 51.3h0M379.6 81.8h0M386.4 84.6h0M421.1 40.8h0M370.8 94.0h0M415.7 48.4h0M401.7 52.9h0M406.2 53.3h0M366.5 101.6h0M373.0 90.9h0M417.6 47.5h0M414.4 47.8h0M413.9 49.3h0M422.8 38.7h0M374.7 87.8h0M404.0 62.8h0M417.9 40.7h0M386.0 78.9h0M370.1 97.7h0M372.8 89.6h0M404.3 59.0h0M394.3 73.0h0M389.7 73.6h0M396.5 67.4h0M401.5 59.6h0M424.0 37.2h0M376.1 88.2h0M400.9 64.8h0M372.5 91.5h0M376.4 90.0h0M383.2 82.9h0M405.0 62.1h0M416.7 46.8h0M373.4 92.8h0M417.1 38.0h0M410.5 44.6h0M374.8 90.3h0M399.6 60.9h0M383.8 79.0h0M416.1 48.4h0M417.8 46.8h0M380.6 88.8h0M413.6 45.3h0M376.1 86.7h0M392.2 78.7h0M379.0 84.3h0M407.0 51.1h0M379.6 85.3h0M408.3 47.4h0M378.7 92.0h0M389.2 78.1h0M401.5 64.7h0M403.6 62.5h0M402.7 66.5h0M385.8 75.2h0M393.4 72.0h0M393.0 72.6h0M388.0 80.4h0M406.6 56.5h0M419.7 38.0h0M379.7 89.2h0M373.5 93.0h0M425.5 38.1h0M369.3 94.8h0M372.8 94.3h0M419.8 42.5h0M405.1 55.9h0M378.1 88.2h0M381.5 81.6h0M396.6 64.0h0M366.7 97.6h0M408.3 50.7h0M376.0 88.0h0M391.8 71.6h0M367.9 99.7h0M396.4 64.8h0M422.2 40.4h0M387.6 79.0h0M393.5 69.3h0M410.4 44.9h0M417.4 45.0h0M395.9 63.4h0M371.1 93.5h0M388.1 81.1h0M392.4 69.0h0M393.4 67.5h0M374.7 93.4h0M376.8 93.2h0M416.0 46.6h0M372.9 91.5h0M368.3 96.9h0M375.7 90.3h0M406.6 52.8h0M385.7 78.9h0M405.7 53.8h0M400.4 61.8h0M393.5 72.6h0M406.0 48.4h0M414.9 39.4h0M374.7 86.8h0M400.0 66.7h0M417.3 36.7h0M413.4 51.1h0M414.5 43.2h0M390.6 72.3h0M383.4 77.9h0M376.6 93.1h0M396.4 63.4h0M388.6 77.3h0M395.9 69.1h0M383.0 80.8h0M382.5 79.2h0M412.8 51.2h0M419.1 34.9h0M394.1 67.1h0M407.7 56.7h0M377.1 85.0h0M412.9 43.2h0M378.0 83.4h0M383.6 80.4h0M373.0 93.5h0M399.5 61.8h0M379.8 85.5h0M418.6 41.6h0M408.5 59.6h0M419.8 39.1h0M418.3 42.9h0M405.2 51.2h0M397.3 66.4h0M403.6 56.4h0M408.4 52.9h0M404.5 52.8h0M407.4 49.5h0M386.6 84.2h0M392.9 71.9h0M376.0 87.3h0M402.6 58.1h0M368.6 95.8h0M403.2 64.9h0M408.1 60.0h0M406.0 58.6h0M407.0 55.3h0M418.4 46.1h0M402.3 59.5h0M408.7 52.6h0M412.6 49.3h0M374.9 93.4h0M423.3 42.4h0M373.8 93.0h0M417.2 39.9h0M398.7 62.2h0M394.1 69.2h0M409.9 55.8h0M377.1 89.1h0M392.1 72.4h0M390.8 73.9h0M373.4 90.0h0M376.2 87.3h0M410.0 42.2h0M401.7 60.0h0M419.3 43.3h0M413.7 44.9h0M388.4 75.9h0M387.9 75.3h0M381.6 82.7h0M391.2 80.5h0M418.8 38.5h0M405.3 59.3h0M365.5 101.2h0M372.0 90.4h0M385.1 76.3h0M406.4 56.0h0M395.6 72.9h0M411.7 52.4h0M371.5 92.4h0M416.4 44.3h0M387.1 80.1h0M386.3 77.2h0M420.5 41.5h0M373.6 90.4h0M384.1 81.0h0M406.1 58.6h0M420.6 40.9h0M383.2 80.0h0M388.4 75.4h0M389.9 73.7h0M407.1 52.8h0M375.9 87.1h0M370.8 96.2h0M397.8 70.0h0M390.8 75.5h0M415.4 43.7h0M409.0 60.2h0M423.0 37.6h0M377.9 87.6h0M383.5 85.5h0M414.3 48.1h0M412.0 42.4h0M368.1 99.6h0M396.7 64.2h0M378.1 91.6h0M394.5 68.7h0M388.2 79.5h0M373.9 89.8h0M395.1 68.3h0M396.1 67.7h0M393.5 66.9h0M394.4 64.3h0M408.5 56.5h0M379.3 88.4h0M405.2 55.4h0M380.5 90.0h0M370.3 98.2h0M414.7 48.2h0M387.4 78.3h0M378.4 83.8h0M406.8 53.6h0M420.3 37.6h0M412.7 48.9h0M415.2 56.7h0M411.6 51.6h0M398.4 61.6h0M416.7 41.1h0M383.4 82.1h0M417.4 38.5h0M412.2 53.6h0M416.2 52.6h0M401.0 69.2h0M392.8 67.9h0M367.5 100.6h0M382.8 78.7h0M390.2 71.6h0M393.8 68.5h0M392.8 71.8h0M366.8 100.0h0M404.4 52.6h0M414.5 43.1h0M375.8 90.6h0M414.6 46.4h0M425.0 38.2h0" stroke="#a9d58a" stroke-width="0.8" stroke-linecap="round"/>
<path d="M382.5 82.7L390.7 73.8L399.0 65.5L405.8 57.3L411.3 50.4L416.1 44.2L417.9 43.3L417.5 45.6L413.4 52.5L407.9 60.0L401.0 67.6L392.8 75.8L384.5 83.4Z" fill="#cfe7bb" fill-opacity="0.5" stroke="#333" stroke-width="0.45"/>
<path d="M399.0 66.2L403.1 60.7L408.6 53.8L414.1 47.0L417.5 44.2L418.9 45.6L416.1 51.1L411.3 58.0L405.8 64.8L401.0 67.6Z" fill="#a6d486" fill-opacity="0.6" stroke="#333" stroke-width="0.5"/>
<text x="382.3" y="34.6" font-size="4.3" textLength="25.7" lengthAdjust="spacingAndGlyphs">TCF12(var.2)</text>
<text x="388.7" y="39.6" font-size="4.3" textLength="14.0" lengthAdjust="spacingAndGlyphs">CEBPD</text>
<text x="422.6" y="33.0" font-size="4.3" textLength="14.6" lengthAdjust="spacingAndGlyphs">GATA3</text>
<text x="412.0" y="39.6" font-size="4.3" textLength="10.0" lengthAdjust="spacingAndGlyphs">TCF4</text>
<text x="433.0" y="43.7" font-size="4.3" textLength="9.4" lengthAdjust="spacingAndGlyphs">IRF8</text>
<text x="426.0" y="48.1" font-size="4.3" textLength="11.2" lengthAdjust="spacingAndGlyphs" fill="#e0303a">GATA1</text>
<text x="373.5" y="47.8" font-size="4.3" textLength="8.8" lengthAdjust="spacingAndGlyphs">ERF1</text>
<text x="384.6" y="49.0" font-size="4.3" textLength="12.8" lengthAdjust="spacingAndGlyphs">ETV6</text>
<text x="373.5" y="53.6" font-size="4.3" textLength="26.3" lengthAdjust="spacingAndGlyphs">MEIS1(var.2)</text>
<text x="419.0" y="53.0" font-size="4.3" textLength="14.0" lengthAdjust="spacingAndGlyphs">CEBPB</text>
<text x="380.0" y="58.9" font-size="4.3" textLength="15.7" lengthAdjust="spacingAndGlyphs">HOXA9</text>
<text x="416.7" y="59.5" font-size="4.3" textLength="10.5" lengthAdjust="spacingAndGlyphs">ATF4</text>
<text x="377.6" y="64.7" font-size="4.3" textLength="13.4" lengthAdjust="spacingAndGlyphs">STAT1</text>
<text x="409.7" y="65.9" font-size="4.3" textLength="11.1" lengthAdjust="spacingAndGlyphs">PAX5</text>
<text x="407.4" y="71.7" font-size="4.3" textLength="15.7" lengthAdjust="spacingAndGlyphs">HOXA4</text>
<line x1="408.2" y1="33.8" x2="411.5" y2="37.5" stroke="#333" stroke-width="0.35"/>
<line x1="402.9" y1="38.3" x2="406.5" y2="37.0" stroke="#333" stroke-width="0.35"/>
<line x1="422.6" y1="33.2" x2="416.8" y2="41.4" stroke="#333" stroke-width="0.35"/>
<line x1="382.5" y1="46.6" x2="398.0" y2="42.5" stroke="#333" stroke-width="0.35"/>
<line x1="397.6" y1="47.8" x2="401.5" y2="46.0" stroke="#333" stroke-width="0.35"/>
<line x1="399.9" y1="52.2" x2="416.5" y2="51.5" stroke="#333" stroke-width="0.35"/>
<line x1="395.8" y1="57.8" x2="402.0" y2="57.0" stroke="#333" stroke-width="0.35"/>
<line x1="391.2" y1="63.5" x2="399.2" y2="64.1" stroke="#333" stroke-width="0.35"/>
<line x1="409.5" y1="65.2" x2="407.4" y2="63.3" stroke="#333" stroke-width="0.35"/>
<line x1="407.3" y1="70.4" x2="405.0" y2="68.0" stroke="#333" stroke-width="0.35"/>
<line x1="419.0" y1="52.0" x2="418.5" y2="49.5" stroke="#333" stroke-width="0.35"/>
<line x1="426.0" y1="47.0" x2="421.5" y2="46.0" stroke="#333" stroke-width="0.35"/>
<line x1="433.0" y1="42.6" x2="424.0" y2="43.0" stroke="#333" stroke-width="0.35"/>
<line x1="416.7" y1="58.3" x2="417.0" y2="55.5" stroke="#333" stroke-width="0.35"/>
<line x1="474.7" y1="115.0" x2="474.7" y2="26.2" stroke="#4a5b78" stroke-width="0.9" marker-end="url(#ah)"/>
<line x1="474.7" y1="115.0" x2="562.0" y2="115.0" stroke="#4a5b78" stroke-width="0.9" marker-end="url(#ah)"/>
<text x="519.9" y="19.6" font-size="6.9" text-anchor="middle" textLength="22.0" lengthAdjust="spacingAndGlyphs">k-mers</text>
<text x="471.2" y="38.0" font-size="5.9" text-anchor="end">0.8</text>
<text x="471.2" y="75.0" font-size="5.9" text-anchor="end">0.4</text>
<text x="471.2" y="111.8" font-size="5.9" text-anchor="end">0.0</text>
<text x="493.7" y="123.2" font-size="5.9" text-anchor="middle">0.5</text>
<text x="519.7" y="123.2" font-size="5.9" text-anchor="middle">1.5</text>
<text x="546.7" y="123.2" font-size="5.9" text-anchor="middle">2.5</text>
<text x="520.0" y="134.0" font-size="6.9" text-anchor="middle">Max</text>
<text x="455.5" y="71.0" font-size="6.9" text-anchor="middle" textLength="33.0" lengthAdjust="spacingAndGlyphs" transform="rotate(-90 455.5 71.0)">Gini index</text>
<path d="M479.8 109.5L483.0 105.2L492.0 95.5L502.2 85.5L511.3 75.8L519.2 66.7L524.8 59.3L528.7 55.0L531.6 54.3L532.8 57.0L529.4 63.3L523.3 71.9L514.7 81.4L504.5 91.0L494.3 100.0L486.4 106.8L481.9 110.9Z" fill="#b3cacd" stroke="#2f3b40" stroke-width="0.5"/>
<path d="M528.7 56.6L535.0 50.9L539.5 47.1L540.9 48.2L536.2 53.8L531.0 59.3Z" fill="#a9c3c8" stroke="#2f3b40" stroke-width="0.45"/>
<path d="M484.1 106.3L494.3 96.2L505.6 84.8L514.7 74.7L522.6 65.6L528.2 58.4L530.0 59.3L524.8 67.9L516.5 77.4L506.7 87.8L496.1 97.7L486.4 106.3Z" fill="#91afb4" stroke="#2f3b40" stroke-width="0.45"/>
<path d="M488.6 102.9L498.8 92.8L509.0 81.9L518.1 71.9L524.2 64.0L526.0 65.6L519.6 74.2L510.6 84.2L500.6 94.6L490.9 103.6Z" fill="#6f949a" stroke="#2f3b40" stroke-width="0.45"/>
<line x1="492.0" y1="100.0" x2="522.0" y2="69.0" stroke="#e6eff0" stroke-width="0.6"/>
<text x="545.6" y="42.0" font-size="4.4" text-anchor="end" fill="#e0303a">GATAAG</text>
<text x="544.0" y="47.0" font-size="4.4">CAGCTG</text>
<text x="522.4" y="58.5" font-size="4.4" text-anchor="end">AGGAAA</text>
<text x="533.5" y="67.5" font-size="4.4">CACTTC</text>
<text x="521.5" y="75.5" font-size="4.4">ATAAAT</text>
<line x1="544.0" y1="42.5" x2="546.0" y2="47.0" stroke="#333" stroke-width="0.35"/>
<line x1="522.4" y1="57.5" x2="525.0" y2="60.0" stroke="#333" stroke-width="0.35"/>
<line x1="533.5" y1="66.5" x2="526.0" y2="66.0" stroke="#333" stroke-width="0.35"/>
<line x1="521.5" y1="74.5" x2="520.0" y2="72.0" stroke="#333" stroke-width="0.35"/>
<path d="M553.5 34.5h0" stroke="#9bb8bd" stroke-width="0.9" stroke-linecap="round"/>
<line x1="597.8" y1="114.4" x2="597.8" y2="26.4" stroke="#4a5b78" stroke-width="0.9" marker-end="url(#ah)"/>
<line x1="597.8" y1="114.4" x2="684.5" y2="114.4" stroke="#4a5b78" stroke-width="0.9" marker-end="url(#ah)"/>
<text x="643.0" y="19.7" font-size="6.9" text-anchor="middle" textLength="19.2" lengthAdjust="spacingAndGlyphs">Peaks</text>
<text x="593.5" y="38.6" font-size="5.9" text-anchor="end">0.7</text>
<text x="593.5" y="73.6" font-size="5.9" text-anchor="end">0.4</text>
<text x="593.5" y="108.1" font-size="5.9" text-anchor="end">0.1</text>
<text x="608.9" y="123.2" font-size="5.9" text-anchor="middle">0.5</text>
<text x="637.6" y="123.2" font-size="5.9" text-anchor="middle">1.5</text>
<text x="665.5" y="123.2" font-size="5.9" text-anchor="middle">2.5</text>
<text x="643.0" y="134.0" font-size="6.9" text-anchor="middle">Max</text>
<text x="578.0" y="71.0" font-size="6.9" text-anchor="middle" textLength="33.0" lengthAdjust="spacingAndGlyphs" transform="rotate(-90 578.0 71.0)">Gini index</text>
<path d="M603 110L603.5 100L612 86.5L623 73L634.5 59.5L646 48L655 40L661.7 34.5L668.5 34L672.5 38.5L673.5 45.5L672 54L666 67.5L655 81L641.5 94.5L628 105.5L614.5 110.5Z" fill="#efccd3"/>
<path d="M650.3 47.6h0M631.6 73.3h0M624.8 70.1h0M638.1 60.1h0M611.4 92.5h0M644.8 79.0h0M608.3 90.2h0M610.6 96.7h0M626.7 88.1h0M642.6 49.6h0M655.0 45.6h0M637.0 77.9h0M632.3 58.0h0M629.6 93.9h0M616.0 89.4h0M640.1 53.9h0M618.7 84.9h0M618.5 99.5h0M614.2 93.0h0M633.8 85.0h0M609.2 95.8h0M637.4 58.2h0M631.0 84.1h0M637.6 79.3h0M659.7 62.0h0M627.1 76.7h0M618.0 84.9h0M628.6 90.8h0M650.8 73.4h0M660.2 56.6h0M620.4 84.0h0M679.0 57.5h0M660.8 59.8h0M629.1 82.3h0M618.0 84.8h0M646.3 68.9h0M637.3 54.3h0M625.4 93.1h0M622.4 73.2h0M618.1 98.5h0M644.9 83.7h0M643.6 54.6h0M646.8 70.3h0M634.1 85.9h0M671.2 48.9h0M626.8 90.5h0M666.1 51.0h0M626.7 91.2h0M619.7 97.3h0M629.6 71.2h0M619.9 98.9h0M645.3 52.4h0M632.1 83.3h0M617.6 97.0h0M636.1 68.0h0M627.9 70.2h0M650.2 69.0h0M631.2 65.7h0M624.0 92.6h0M630.3 86.2h0M652.4 39.7h0M640.8 79.3h0M622.3 80.9h0M620.0 87.5h0M662.4 55.9h0M612.2 102.0h0M614.9 107.6h0M615.6 107.4h0M632.3 92.8h0M627.0 81.4h0M652.1 37.3h0M662.1 61.7h0M671.7 50.5h0M629.8 71.1h0M609.6 108.5h0M643.4 74.6h0M626.7 68.9h0M636.9 58.7h0M609.0 95.2h0M658.9 64.5h0M624.6 98.1h0M636.1 63.6h0M610.3 102.6h0M631.6 67.0h0M634.3 62.5h0M651.3 74.4h0M655.2 64.0h0M621.4 94.5h0M624.1 93.4h0M652.1 64.5h0M648.0 73.0h0M635.1 64.8h0M630.0 69.9h0M647.7 74.9h0M655.9 63.4h0M656.7 70.9h0M615.2 77.9h0M623.7 98.6h0M611.7 104.7h0M628.4 66.3h0M635.1 67.6h0M640.9 47.1h0M639.9 50.5h0M608.6 105.3h0M628.4 74.8h0M639.1 78.6h0M631.7 86.9h0M623.6 74.1h0M667.5 50.5h0M624.3 77.6h0M638.9 52.0h0M631.5 86.6h0M613.1 91.2h0M662.9 62.1h0M658.2 36.6h0M620.1 97.7h0M620.6 78.1h0M628.3 66.5h0M666.6 55.7h0M608.1 94.9h0M618.6 83.7h0M649.8 66.7h0M608.9 96.7h0M640.2 78.8h0M653.5 63.2h0M634.5 87.1h0M622.8 96.1h0M665.2 52.4h0M655.3 68.6h0M626.1 92.5h0M649.1 71.2h0M623.4 82.0h0M652.2 47.6h0M618.9 101.6h0M651.8 41.5h0M638.4 78.1h0M636.7 80.4h0M640.2 57.5h0M664.9 50.3h0M649.7 66.4h0M606.4 100.7h0M655.4 70.4h0M642.4 77.5h0M633.7 61.2h0M651.2 41.9h0M616.2 99.2h0M623.9 95.5h0M631.6 90.1h0M641.9 51.7h0M630.8 61.0h0M616.3 97.8h0M631.9 92.9h0M613.6 92.4h0M614.4 93.2h0M627.9 72.2h0M618.9 98.7h0M646.4 54.8h0M621.6 95.7h0M630.4 66.3h0M640.0 58.4h0M644.5 46.8h0M653.7 68.8h0M629.1 75.2h0M658.5 59.7h0M626.6 90.8h0M647.3 35.3h0M650.9 66.6h0M645.1 71.7h0M639.4 60.8h0M618.8 71.9h0M647.2 49.6h0M606.7 96.8h0M631.5 64.5h0M603.9 95.8h0M609.3 104.5h0M638.8 62.0h0M666.9 57.2h0M626.5 92.3h0M618.8 97.5h0M632.4 69.5h0M625.9 93.3h0M614.6 86.4h0M626.2 68.6h0M631.3 87.2h0M639.8 60.2h0M627.1 93.5h0M615.5 100.2h0M656.9 58.6h0M601.6 102.8h0M634.0 70.4h0M611.3 104.4h0M651.9 68.3h0M634.7 66.3h0M654.9 54.7h0M656.1 36.0h0M640.9 58.4h0M640.8 54.3h0M637.1 77.9h0M652.7 75.9h0M624.6 73.2h0M621.4 80.4h0M629.5 68.1h0M664.5 59.9h0M614.8 104.2h0M647.1 39.0h0M654.1 43.4h0M640.2 83.8h0M648.4 48.2h0M638.2 80.7h0M607.5 92.4h0M668.2 52.2h0M655.9 65.5h0M642.7 70.6h0M666.0 53.7h0M640.2 58.9h0M651.2 44.2h0M630.4 87.2h0M626.3 91.7h0M623.2 66.3h0M662.1 55.7h0M627.7 74.4h0M656.4 36.0h0M647.5 47.4h0M626.4 90.0h0M627.6 75.9h0M659.5 59.4h0M627.8 76.1h0M647.5 72.7h0M645.9 73.7h0M667.3 49.2h0M644.4 53.0h0M640.7 53.2h0M663.4 55.3h0M661.5 55.6h0M646.0 47.0h0M606.4 95.0h0M655.6 63.2h0M661.4 64.2h0M636.6 78.0h0M626.9 76.3h0M654.1 49.0h0M658.1 35.7h0M648.7 44.8h0M649.0 68.9h0M611.0 96.3h0M635.6 83.9h0M629.7 69.7h0M604.0 99.8h0M608.3 97.2h0M628.2 87.3h0M650.8 59.6h0M608.0 92.7h0M673.0 50.5h0M626.1 77.3h0M651.5 64.8h0M658.5 63.9h0M639.2 55.7h0M625.9 94.3h0M645.7 48.2h0M669.1 58.8h0M623.0 82.3h0M636.7 79.6h0M656.9 62.1h0M614.9 88.8h0M630.9 66.7h0M668.0 48.3h0M649.5 69.3h0M651.1 40.8h0M649.6 78.6h0M626.7 91.8h0M654.0 64.5h0M642.7 75.0h0M643.6 76.8h0M611.2 95.7h0M636.5 64.1h0M628.4 74.5h0M643.5 49.6h0M655.5 59.3h0M644.1 75.1h0M620.4 79.5h0M651.6 45.8h0M656.5 70.1h0M670.2 52.3h0M664.4 64.6h0M654.9 64.5h0M610.4 106.8h0M639.0 80.8h0M629.4 66.2h0M648.3 45.1h0M617.5 100.2h0M638.9 79.4h0M658.7 40.0h0M626.8 73.8h0M608.3 106.2h0M643.8 56.8h0M623.4 74.7h0M644.9 39.9h0M672.5 48.9h0M622.1 96.9h0M641.8 58.5h0M646.9 75.1h0M640.4 51.7h0M653.9 38.1h0M639.0 60.1h0M618.0 87.9h0M602.0 103.5h0M627.0 93.1h0M648.4 40.3h0M637.6 82.3h0M639.2 51.5h0M652.4 37.9h0M670.3 45.2h0M637.7 64.9h0M605.2 100.3h0M652.9 41.9h0M632.2 60.9h0M612.5 107.6h0M643.5 57.2h0M630.3 69.0h0M665.8 55.1h0M653.8 63.9h0M638.4 64.6h0M639.4 59.3h0M623.2 94.2h0M624.8 92.5h0M668.8 55.4h0M653.5 42.1h0M650.9 30.6h0M642.6 74.1h0M619.9 83.1h0M612.0 89.1h0M673.2 49.6h0M633.1 83.5h0M611.9 85.6h0M657.6 63.3h0M660.1 59.3h0M630.3 88.9h0M612.0 104.5h0M637.5 80.4h0M613.4 108.2h0M619.2 98.2h0M616.7 82.9h0M643.1 58.0h0M619.0 83.8h0M667.3 57.9h0M665.4 53.1h0M645.7 74.2h0M625.0 78.4h0M650.9 39.4h0M644.3 55.5h0M632.0 69.0h0M641.2 58.9h0M657.7 34.9h0M633.9 83.4h0M650.7 38.3h0M645.6 53.8h0M628.9 66.7h0M630.5 68.3h0M624.9 72.4h0M643.6 53.8h0M630.3 84.3h0M625.4 94.9h0M661.9 55.2h0M646.9 78.7h0M623.9 73.2h0M619.5 99.4h0M632.3 63.7h0M619.3 77.1h0M670.1 45.3h0M637.7 79.1h0M629.1 90.1h0M629.5 94.7h0M674.5 53.2h0M610.3 86.3h0M624.3 77.7h0M651.8 39.4h0M638.7 64.5h0M624.6 78.9h0M611.1 97.7h0M623.4 69.8h0M626.0 66.0h0M640.8 58.1h0M650.3 64.6h0M628.7 89.0h0M614.1 93.7h0M662.2 56.5h0M628.8 87.2h0M633.4 59.5h0M605.5 98.6h0M634.6 87.7h0M649.1 43.5h0M638.9 46.2h0M657.3 38.4h0M614.4 99.5h0M655.0 34.4h0M609.8 93.6h0M643.3 85.8h0M603.9 104.6h0M661.9 62.2h0M634.7 65.7h0M615.2 90.6h0M634.7 81.9h0M641.4 77.8h0M635.5 61.7h0M616.0 86.8h0M606.3 95.8h0M649.1 44.3h0M656.6 38.5h0M639.7 58.0h0M650.4 45.3h0M651.8 45.2h0M674.5 52.1h0M613.6 91.0h0M664.2 52.8h0M640.9 79.6h0M615.6 84.7h0M661.6 60.9h0M639.7 79.0h0M626.3 72.3h0M633.9 84.8h0M652.5 63.4h0M629.1 67.8h0M664.3 54.9h0M619.0 85.8h0M609.5 107.3h0M669.8 57.7h0M649.3 73.8h0M663.1 56.3h0M639.7 82.1h0M608.3 106.5h0M653.1 40.6h0M612.7 92.8h0M642.1 55.0h0M646.4 72.7h0M613.2 106.0h0M622.8 93.3h0M609.9 95.5h0M628.2 94.7h0M622.0 85.3h0M636.0 60.2h0M670.6 51.9h0M605.3 101.0h0M622.5 80.5h0M650.9 46.1h0M617.5 87.0h0M615.6 100.8h0M642.3 53.5h0M624.7 82.0h0M612.4 94.1h0M613.6 106.6h0M640.8 80.6h0M637.7 85.1h0M651.9 46.0h0M633.9 60.6h0M642.2 50.5h0M661.0 58.4h0M632.8 68.1h0M603.5 103.5h0M655.9 58.9h0M628.8 75.5h0M631.6 88.3h0M621.0 97.3h0M633.5 69.0h0M630.9 56.8h0M645.2 51.5h0M648.2 72.4h0M653.7 38.7h0M636.1 78.5h0M621.6 78.0h0M651.3 46.0h0M623.0 63.5h0M632.8 67.0h0M671.2 47.1h0M609.7 108.6h0M636.1 63.3h0M610.6 108.2h0M632.4 66.7h0M667.4 48.1h0M620.2 82.1h0M666.2 50.4h0M627.0 75.2h0M615.4 102.8h0M625.6 92.6h0M641.0 63.0h0M621.1 98.4h0M606.5 97.6h0M625.5 94.2h0M626.0 75.4h0M613.8 100.5h0M644.6 71.5h0M628.2 87.0h0M642.3 54.5h0M607.6 95.2h0M622.5 74.8h0M637.9 57.5h0M626.9 66.0h0M662.1 66.8h0M639.5 77.0h0M617.5 103.4h0M621.7 94.7h0M645.1 71.5h0M657.6 38.0h0M643.7 48.2h0M659.1 37.1h0M656.1 61.7h0M622.4 78.3h0M656.7 37.8h0M624.9 70.0h0M653.7 44.7h0M616.3 87.2h0M630.7 90.1h0M672.1 51.7h0M617.3 84.6h0M607.3 99.2h0M671.3 49.8h0M619.6 81.8h0M642.8 56.0h0M634.9 68.7h0M634.7 63.1h0M639.1 61.3h0M638.3 62.0h0M642.7 56.5h0M610.0 93.5h0M647.7 68.8h0M641.8 56.9h0M644.3 51.8h0M646.3 74.8h0M648.1 71.9h0M673.9 51.0h0M662.8 61.8h0M642.9 51.9h0M611.4 105.0h0M664.6 53.9h0M629.3 64.5h0M621.9 95.5h0M610.6 91.4h0M608.8 97.6h0M603.5 103.9h0M645.1 81.9h0M640.2 75.3h0M642.3 58.3h0M634.0 58.3h0M655.7 63.6h0M657.0 66.2h0M639.7 80.7h0M637.0 88.0h0M606.4 99.5h0M668.0 53.7h0M651.9 69.8h0M623.4 80.8h0M656.5 64.0h0M638.4 57.7h0M649.4 66.6h0M619.0 84.0h0M626.1 74.7h0M626.5 75.3h0M654.8 41.0h0M658.9 36.1h0M639.9 78.2h0M622.0 84.1h0M647.3 51.5h0M676.9 49.8h0M638.5 82.3h0M618.3 101.6h0M619.7 102.7h0M616.9 82.2h0M625.1 74.3h0M645.1 75.3h0M613.5 85.4h0M637.6 61.7h0M632.3 86.4h0M631.9 69.5h0M658.4 66.1h0M615.2 87.9h0M640.9 53.0h0M627.4 97.4h0M626.8 89.7h0M648.7 69.3h0M605.7 98.5h0M632.5 64.7h0M644.7 77.0h0M650.2 72.1h0M643.3 36.0h0M650.8 47.6h0M643.6 47.9h0M655.9 43.2h0M615.0 104.3h0M642.3 49.6h0M609.7 96.5h0M641.8 47.7h0M633.4 86.6h0M610.3 96.5h0M628.0 74.1h0M642.5 58.2h0M609.0 97.2h0M619.1 82.8h0M654.4 77.1h0M639.2 76.4h0M624.8 90.2h0M638.4 52.5h0M613.8 91.9h0M654.0 75.1h0M611.3 90.5h0M630.9 67.6h0M615.5 100.4h0M619.8 80.0h0M638.3 47.5h0M651.7 66.9h0M653.1 75.3h0M629.4 87.4h0M612.8 102.9h0M620.3 97.4h0M623.9 67.2h0M639.9 75.0h0M639.8 57.1h0M647.9 69.3h0M624.0 78.2h0M651.9 47.1h0M669.8 48.6h0M619.4 98.3h0M643.5 56.0h0M655.7 36.4h0M661.5 58.4h0M616.1 103.3h0M651.3 48.3h0M651.2 75.7h0M648.1 65.5h0M644.9 45.0h0M609.6 96.4h0M630.5 66.7h0M621.9 79.1h0M620.1 86.1h0M642.6 56.6h0M652.3 68.3h0M642.0 45.3h0M638.6 59.2h0M621.6 93.3h0M669.6 51.0h0M609.0 98.9h0M657.9 39.1h0M618.8 100.0h0M637.7 58.1h0M652.4 63.5h0M637.1 84.9h0M612.4 85.5h0M645.0 72.5h0M637.6 67.8h0M640.7 76.9h0M641.8 80.6h0M640.8 73.2h0M644.0 46.8h0M626.9 71.9h0M610.8 91.6h0M646.3 79.2h0M645.5 51.6h0M617.5 81.5h0M639.6 55.3h0M619.4 97.3h0M640.9 84.9h0M661.2 55.8h0M635.8 66.7h0M640.3 76.8h0M628.3 92.4h0M631.3 68.2h0M657.2 61.4h0M649.8 48.3h0M605.8 92.6h0M657.3 62.9h0M624.9 76.8h0M627.2 91.9h0M641.1 81.5h0M627.1 73.2h0M632.0 86.6h0M658.5 74.2h0M654.6 36.8h0M656.6 59.8h0M648.1 42.2h0M636.3 78.4h0M631.8 68.9h0M620.8 95.9h0M623.6 76.5h0M639.3 59.7h0M652.6 40.0h0M671.4 52.2h0M665.7 59.4h0M616.8 90.9h0M606.1 100.4h0M647.0 73.3h0M634.8 51.0h0M619.3 82.0h0M622.5 82.4h0M627.0 90.0h0M634.5 63.6h0M630.9 67.9h0M648.9 67.3h0M628.1 95.7h0M656.9 60.6h0M658.4 57.1h0M611.0 106.3h0M615.3 86.0h0M633.9 67.8h0M645.0 77.9h0M646.7 73.7h0M630.6 92.9h0M658.6 61.4h0M666.8 47.8h0M608.0 97.0h0M645.4 53.1h0M612.5 86.2h0M629.2 72.4h0M630.2 72.2h0M613.2 91.0h0M670.4 49.8h0M621.8 78.3h0M624.6 91.7h0M610.9 92.7h0M626.1 73.6h0M639.3 57.1h0M613.8 102.9h0M634.0 66.8h0M642.1 73.1h0M638.3 77.7h0M613.1 111.0h0M626.7 98.1h0M610.8 95.7h0M662.7 60.9h0M643.7 41.3h0M645.3 48.1h0M658.3 59.9h0M621.5 81.4h0M622.1 77.8h0M638.4 51.3h0M657.4 65.6h0M614.2 102.3h0M624.2 78.1h0M621.0 82.8h0M622.4 77.3h0M658.3 71.3h0M668.6 49.8h0M644.8 55.4h0M665.5 51.6h0M641.5 72.2h0M614.8 102.2h0M654.5 60.4h0M611.3 99.3h0M628.8 90.7h0M635.2 63.4h0M653.1 65.6h0M637.0 87.8h0M644.9 50.6h0M668.0 48.9h0M610.7 90.7h0M623.1 81.4h0M670.5 49.6h0M653.6 39.7h0M645.8 52.1h0M647.7 70.2h0M606.7 93.1h0M621.5 82.0h0M618.4 85.3h0M676.5 53.8h0M628.7 89.0h0M621.7 95.4h0M643.2 76.3h0M629.2 75.2h0M608.2 104.8h0M629.2 88.2h0M634.8 58.8h0M622.2 77.5h0M642.5 53.6h0M655.1 43.5h0M641.4 51.0h0M655.7 44.7h0M647.2 44.9h0M669.3 52.2h0M653.6 62.0h0M622.6 94.6h0M631.9 87.7h0M664.8 54.8h0M665.5 65.1h0M624.0 79.4h0M620.7 92.9h0M645.8 51.2h0M649.9 73.0h0M633.1 59.6h0M614.5 84.6h0M603.9 100.6h0M618.7 102.1h0M639.3 57.5h0M617.4 106.4h0M648.2 72.6h0M649.7 44.1h0M645.0 49.8h0M649.9 50.6h0M657.3 63.5h0M646.6 47.9h0M614.0 103.3h0M659.8 60.9h0M624.1 76.1h0M630.5 59.2h0M644.1 71.5h0M651.5 66.8h0M637.1 59.1h0M643.2 56.1h0M619.4 99.7h0M648.4 40.6h0M640.1 77.6h0M640.3 49.2h0M643.7 55.3h0M630.4 60.4h0M648.6 50.6h0M633.4 80.2h0M656.7 44.3h0M665.5 58.5h0M671.9 48.0h0M659.8 54.9h0M647.6 50.3h0M666.8 54.7h0M652.7 61.1h0M632.9 69.1h0M642.1 74.0h0M650.2 47.2h0M653.4 65.4h0M618.2 75.5h0M634.7 83.2h0M616.5 102.2h0M612.5 109.1h0M651.9 40.2h0M661.3 55.6h0M622.1 96.4h0M646.8 52.6h0M617.6 102.2h0M648.2 71.7h0M667.2 54.4h0M641.1 38.6h0M621.0 98.2h0M621.0 97.4h0M641.3 76.9h0M611.4 107.2h0M647.1 75.8h0M642.9 72.2h0M619.3 84.8h0M608.8 97.0h0M638.3 80.8h0M665.9 54.8h0M651.4 38.3h0M641.7 79.2h0M629.6 64.6h0M668.1 48.0h0M651.9 65.3h0M624.2 69.9h0M635.8 81.7h0M659.0 58.3h0M616.8 86.3h0M659.6 58.4h0M636.3 80.0h0M635.5 63.3h0M628.6 65.3h0M648.1 67.9h0M608.7 97.0h0M651.5 44.7h0M638.5 55.6h0M654.9 63.8h0M641.2 59.3h0M642.6 48.5h0M671.1 52.2h0M609.7 96.3h0M636.9 54.1h0M616.6 100.3h0M639.2 77.8h0M639.7 51.4h0M640.1 78.1h0M622.9 94.6h0M633.1 60.4h0M618.2 85.6h0M625.6 89.0h0M623.5 78.3h0M636.0 77.6h0M613.6 92.2h0M644.0 47.6h0M610.6 95.2h0M638.5 55.6h0M654.8 68.9h0M649.9 45.1h0M625.3 74.7h0M624.3 90.4h0M625.9 89.1h0M641.3 78.4h0M647.8 78.3h0M611.3 94.1h0M619.0 86.9h0M654.5 34.3h0M669.7 49.9h0M632.3 67.0h0M661.9 67.3h0M611.8 92.5h0M603.1 102.4h0M651.7 70.0h0M661.9 59.7h0M602.1 102.6h0M624.7 100.4h0M623.2 77.0h0M656.0 61.4h0M663.0 51.1h0M631.1 61.9h0M649.6 46.1h0M617.7 89.3h0M645.1 48.8h0M632.9 86.2h0M646.2 76.9h0M605.5 98.4h0M627.3 93.6h0M609.8 107.5h0M640.6 73.1h0M621.1 95.8h0M629.3 67.8h0M656.5 60.1h0M619.6 97.7h0M639.8 84.8h0M656.0 63.0h0M627.9 71.1h0M617.5 96.8h0M616.1 89.1h0M643.6 73.4h0M625.9 70.0h0M642.3 56.2h0M661.5 54.1h0M657.8 57.3h0M613.8 102.4h0M618.7 99.3h0M661.2 62.7h0M622.8 79.3h0M624.3 73.2h0M631.5 67.8h0M659.3 34.5h0M648.5 71.0h0M650.8 43.9h0M625.1 90.0h0M636.6 60.1h0M647.4 36.8h0M642.7 71.4h0M628.2 66.2h0M611.4 93.0h0M646.6 39.6h0M628.6 75.2h0M670.5 44.3h0M663.2 62.4h0M639.9 85.4h0M652.3 43.5h0M628.1 86.0h0M624.2 78.4h0M639.5 60.2h0M645.3 52.3h0M615.4 101.6h0M646.7 71.8h0M645.5 68.9h0M618.5 103.8h0M631.5 69.0h0M610.2 90.3h0M620.0 101.0h0M615.3 86.3h0M613.5 82.7h0M604.7 103.7h0M621.8 79.2h0M649.2 70.0h0M658.9 61.9h0M649.0 44.6h0M617.9 102.6h0M670.6 57.0h0M633.6 85.5h0M615.7 86.6h0M643.8 86.2h0M641.9 73.7h0M672.6 47.1h0M633.4 86.6h0M632.5 71.1h0M621.8 69.9h0M650.9 45.4h0M648.7 54.4h0M623.8 76.5h0M645.5 48.5h0M612.1 106.0h0M640.9 61.3h0M616.1 87.9h0M604.2 104.0h0M637.9 58.2h0M636.6 53.3h0M640.6 73.7h0M637.0 85.9h0M653.4 64.6h0M615.0 84.0h0M652.7 65.4h0M644.5 71.6h0M618.4 81.2h0M627.5 83.7h0M613.0 89.0h0M654.2 65.9h0M668.1 55.0h0M644.6 71.7h0M640.5 48.2h0M624.6 96.4h0M624.2 72.0h0M621.1 83.7h0M661.6 53.5h0M627.4 73.6h0M643.2 79.9h0M641.1 74.6h0M631.8 86.5h0M613.3 83.0h0M604.0 95.0h0M636.4 80.6h0M641.3 75.7h0M632.4 88.2h0M641.0 77.7h0M640.6 80.2h0M654.0 61.0h0M632.6 87.4h0M635.6 63.8h0M660.6 67.0h0M633.8 56.5h0M619.3 84.9h0M635.1 64.6h0M660.2 58.5h0M614.3 105.8h0M647.5 52.5h0M667.4 57.3h0M658.3 36.5h0M617.7 86.1h0M643.7 39.9h0M642.9 75.3h0M625.7 75.2h0M642.6 53.5h0M607.3 96.7h0M648.4 67.9h0M653.8 64.2h0M651.5 42.6h0M661.8 68.0h0M648.1 53.1h0M648.7 67.8h0M631.4 66.6h0M653.7 66.1h0M609.9 107.4h0M652.6 70.6h0M638.8 76.9h0M659.7 58.2h0M626.6 64.8h0M648.0 46.7h0M647.7 67.5h0M644.4 73.7h0M660.5 56.5h0M640.9 88.3h0M605.3 95.0h0M629.2 89.1h0M627.3 75.9h0M623.0 81.8h0M623.3 96.4h0M629.3 86.9h0M638.4 49.6h0M652.9 72.0h0M667.5 59.3h0M645.9 49.3h0M660.6 60.6h0M610.4 85.7h0M630.9 87.3h0M617.4 83.1h0M624.9 69.3h0M604.7 101.4h0M635.4 67.2h0M639.1 58.2h0M624.4 80.1h0M650.8 65.3h0M634.9 90.3h0M628.0 63.6h0M615.0 81.8h0M644.5 74.9h0M638.1 77.8h0M618.4 99.3h0M619.5 100.3h0M621.6 78.6h0M646.2 75.1h0M634.1 85.9h0M646.5 68.9h0M627.4 72.2h0M649.3 31.3h0M649.1 44.8h0M617.2 85.1h0M628.1 90.5h0M654.4 66.0h0M632.1 86.8h0M634.7 88.5h0M662.4 60.5h0M665.0 69.6h0M627.1 94.9h0M629.1 91.4h0M617.4 88.1h0M605.6 99.8h0M609.5 91.7h0M618.8 84.1h0M619.9 83.7h0M628.1 75.5h0M609.4 103.4h0M643.6 79.5h0M649.0 50.0h0M656.3 41.1h0M654.9 65.5h0M625.2 75.0h0M654.0 36.1h0M624.9 92.7h0M627.9 86.4h0M624.0 83.2h0M652.1 50.6h0M660.3 56.0h0M658.1 33.5h0M620.7 93.5h0M653.9 37.9h0M650.9 45.7h0M670.4 59.4h0M649.9 66.4h0M639.3 61.3h0M638.6 56.7h0M654.4 38.1h0M650.8 73.3h0M666.5 57.2h0M616.6 82.1h0M613.8 101.4h0M612.1 104.9h0M666.0 48.1h0M607.1 97.2h0M625.2 90.2h0M648.1 31.5h0M640.7 55.4h0M655.1 36.3h0M639.5 57.4h0M655.8 34.9h0M641.4 58.8h0M614.5 98.2h0M635.2 69.7h0M647.7 71.2h0M611.5 88.3h0M605.9 97.5h0M645.7 51.2h0M613.8 87.5h0M620.5 93.8h0M657.1 41.3h0M636.7 80.2h0M642.1 72.4h0M633.9 87.3h0M640.0 62.7h0M605.1 103.5h0M631.7 88.3h0M633.4 84.1h0M610.7 89.4h0M659.2 65.3h0M619.8 101.8h0M666.7 54.0h0M647.0 48.4h0M633.1 87.1h0M653.2 36.8h0M628.6 86.6h0M634.7 63.8h0M627.9 66.6h0M652.3 40.9h0M637.6 58.1h0M624.5 96.6h0M675.0 52.1h0M668.4 50.9h0M609.7 108.2h0M639.2 59.2h0M643.0 56.7h0M626.3 76.4h0M629.5 63.3h0M662.1 51.8h0M654.5 66.8h0M630.6 69.8h0M646.5 74.9h0M658.0 37.5h0M648.5 68.4h0M621.2 86.6h0M604.5 99.2h0M639.7 55.9h0M655.8 60.0h0M610.7 94.6h0M654.1 37.8h0M651.3 68.5h0M656.8 35.8h0M631.6 54.3h0M635.2 53.0h0M669.0 44.9h0M646.8 49.7h0M644.1 53.8h0M627.2 68.0h0M625.5 72.0h0M654.7 37.1h0M639.5 80.3h0M653.9 31.9h0M641.6 56.6h0M661.3 57.4h0M636.2 59.4h0M645.7 54.0h0M622.8 95.4h0M654.3 65.6h0M663.4 55.1h0M634.4 83.4h0M610.8 105.9h0M663.3 56.1h0M620.3 79.3h0M638.0 77.0h0M638.2 49.6h0M604.6 99.2h0M633.3 69.9h0M625.8 75.1h0M641.7 74.6h0M609.2 98.8h0M651.1 48.6h0M613.1 94.0h0M634.6 81.7h0M611.7 105.7h0M652.4 65.7h0M644.2 71.3h0M657.2 53.9h0M636.6 77.6h0M632.3 67.8h0M641.1 59.6h0M652.0 43.4h0M618.1 96.9h0M611.0 89.8h0M647.8 48.8h0M615.5 81.9h0M614.3 102.7h0M663.8 55.7h0M631.0 84.5h0M650.7 49.2h0M654.4 34.8h0M610.6 110.0h0M671.1 49.4h0M601.2 98.6h0M658.3 57.5h0M641.5 84.0h0M610.5 92.3h0M623.2 95.6h0M652.3 64.2h0M651.9 68.2h0M666.9 52.3h0M672.6 53.3h0M642.2 79.5h0M612.5 91.2h0M641.6 71.7h0M620.7 98.1h0M628.4 98.3h0M631.1 73.5h0M656.5 68.8h0M637.3 52.7h0M612.3 93.6h0M607.1 94.8h0M635.1 83.4h0M668.8 47.7h0M626.1 77.1h0M624.2 72.1h0M641.3 54.6h0M613.7 103.1h0M622.0 76.6h0M609.7 92.5h0M623.5 80.9h0M653.4 68.4h0" stroke="#f1d3d9" stroke-width="1.0" stroke-linecap="round"/>
<path d="M632.8 75.2h0M618.7 89.0h0M619.9 90.2h0M615.0 98.9h0M628.0 81.2h0M651.1 49.0h0M610.5 102.5h0M628.0 75.9h0M612.6 101.7h0M641.6 58.0h0M656.8 49.7h0M625.6 85.1h0M605.6 101.6h0M609.6 103.1h0M612.8 103.7h0M622.6 81.6h0M658.7 38.3h0M641.7 66.5h0M617.4 89.0h0M656.2 54.5h0M634.4 76.0h0M638.5 67.4h0M633.9 68.8h0M664.9 46.0h0M627.7 78.4h0M611.2 101.4h0M658.3 47.1h0M664.1 39.9h0M622.1 79.6h0M659.6 52.5h0M666.2 44.4h0M640.7 66.1h0M662.1 45.6h0M616.8 97.8h0M661.0 45.1h0M666.2 49.3h0M645.3 59.2h0M653.8 48.3h0M653.8 51.2h0M621.4 91.9h0M645.8 62.6h0M616.0 94.4h0M644.0 58.7h0M620.3 95.6h0M662.2 48.9h0M661.1 42.7h0M630.7 73.3h0M664.9 45.9h0M663.2 47.0h0M651.2 55.8h0M660.4 43.6h0M653.3 61.2h0M617.3 89.5h0M626.0 84.0h0M615.5 95.0h0M626.9 79.2h0M631.6 75.5h0M663.9 38.9h0M661.4 56.1h0M641.1 64.0h0M657.1 51.5h0M664.3 37.7h0M617.3 92.7h0M654.2 51.7h0M623.6 84.5h0M619.6 91.2h0M644.1 62.6h0M636.6 72.0h0M629.4 80.6h0M610.7 97.7h0M640.9 65.3h0M627.4 85.6h0M651.9 47.5h0M643.3 63.2h0M623.1 93.3h0M619.4 97.9h0M651.0 54.9h0M658.0 42.8h0M662.6 41.2h0M615.7 97.7h0M631.0 75.7h0M647.4 57.7h0M660.1 39.5h0M636.7 71.4h0M614.8 94.4h0M641.8 70.1h0M613.3 105.1h0M632.9 75.5h0M648.4 56.3h0M618.4 87.7h0M640.4 75.4h0M645.9 69.0h0M638.1 71.1h0M637.1 67.9h0M633.7 76.0h0M656.0 53.7h0M606.1 100.1h0M658.3 43.0h0M628.0 85.1h0M665.2 47.9h0M620.6 89.0h0M612.1 95.6h0M632.7 74.9h0M646.0 60.7h0M615.5 89.7h0M651.4 51.4h0M661.6 49.3h0M615.7 94.0h0M658.5 39.6h0M607.9 107.9h0M648.3 64.9h0M660.4 40.4h0M641.0 68.7h0M617.4 96.0h0M641.7 63.6h0M641.4 67.1h0M661.1 42.8h0M623.4 89.1h0M652.7 48.7h0M609.9 97.5h0M635.8 74.2h0M644.6 55.7h0M629.5 81.1h0M656.1 53.6h0M638.0 68.2h0M662.1 47.8h0M648.4 65.1h0M605.3 106.7h0M637.0 70.4h0M648.5 65.0h0M621.2 84.7h0M614.9 94.1h0M629.8 77.3h0M658.2 55.7h0M657.6 56.1h0M647.2 55.4h0M644.8 68.3h0M642.4 68.5h0M617.8 95.0h0M624.6 85.1h0M653.1 54.8h0M638.5 64.4h0M606.9 100.9h0M620.7 84.8h0M638.3 71.1h0M625.1 87.0h0M653.1 52.8h0M654.3 51.3h0M660.7 44.6h0M636.3 66.3h0M625.6 86.3h0M651.6 57.7h0M651.4 61.9h0M655.4 57.8h0M636.3 74.7h0M662.1 35.7h0M646.5 57.8h0M649.0 63.7h0M650.5 58.3h0M611.6 98.8h0M612.0 97.3h0M643.9 64.3h0M607.9 99.4h0M635.6 69.4h0M647.1 65.8h0M626.7 82.7h0M626.6 84.2h0M638.2 68.7h0M631.1 83.0h0M660.2 40.9h0M640.4 72.0h0M612.9 106.1h0M623.7 90.7h0M617.1 97.8h0M639.7 73.0h0M635.6 70.4h0M630.0 79.7h0M657.8 55.6h0M656.5 48.9h0M655.3 48.3h0M649.0 63.3h0M654.8 52.4h0M657.9 53.4h0M617.9 97.1h0M632.1 73.6h0M654.7 55.2h0M635.0 71.9h0M659.4 41.3h0M629.1 87.1h0M653.9 47.5h0M632.5 72.6h0M643.8 67.3h0M665.0 41.0h0M655.0 57.4h0M625.2 88.2h0M654.1 49.8h0M612.9 94.4h0M616.3 92.4h0M631.6 76.8h0M616.6 92.4h0M612.4 102.1h0M644.9 62.7h0M648.3 66.6h0M643.5 64.7h0M637.1 67.5h0M652.2 58.1h0M651.3 54.3h0M643.2 63.6h0M641.4 61.3h0M633.2 68.0h0M619.1 93.3h0M626.3 77.0h0M622.7 86.8h0M609.5 101.2h0M643.2 60.8h0M630.8 77.5h0M612.8 100.2h0M633.8 73.9h0M634.1 78.0h0M614.4 92.7h0M615.2 92.6h0M623.7 83.4h0M646.1 60.8h0M660.0 54.4h0M659.1 39.2h0M621.1 90.3h0M612.4 101.7h0M649.3 49.1h0M618.1 87.4h0M615.9 94.5h0M641.8 67.3h0M631.5 77.9h0M642.0 61.5h0M647.8 58.7h0M618.9 88.1h0M627.9 79.7h0M625.6 86.6h0M659.7 47.7h0M627.8 80.1h0M634.8 79.3h0M627.3 84.4h0M640.3 71.5h0M659.8 42.9h0M638.0 75.7h0M624.6 87.7h0M648.8 64.8h0M635.2 68.3h0M646.2 67.3h0M652.5 59.4h0M633.2 71.7h0M659.7 53.0h0M642.8 68.3h0M625.1 83.4h0M609.4 100.3h0M643.8 64.2h0M615.4 96.5h0M645.7 59.9h0M615.5 98.0h0M648.0 56.4h0M666.8 48.3h0M616.6 95.0h0M608.2 106.9h0M640.1 61.2h0M636.2 71.2h0M613.2 98.3h0M623.2 89.2h0M654.2 48.4h0M610.8 102.6h0M651.8 61.9h0M617.1 91.5h0M626.4 84.6h0M643.1 71.9h0M642.5 74.3h0M644.6 64.4h0M642.6 71.3h0M645.9 60.7h0M659.6 42.4h0M657.2 42.0h0M639.0 68.4h0M629.1 78.6h0M608.9 101.2h0M658.3 44.4h0M652.4 57.2h0M635.3 77.0h0M608.7 106.1h0M644.2 68.3h0M639.1 64.7h0M638.7 67.7h0M657.9 57.5h0M637.8 76.1h0M658.2 43.4h0M627.8 82.7h0M612.2 101.1h0M638.1 70.8h0M615.6 96.1h0M620.7 92.1h0M651.4 57.2h0M609.3 104.3h0M633.7 70.7h0M625.0 87.6h0M634.1 81.0h0M663.2 41.9h0M666.7 45.6h0M639.9 63.2h0M666.1 42.6h0M606.2 103.0h0M632.7 77.7h0M626.6 79.3h0M608.8 100.6h0M608.7 101.5h0M652.3 58.0h0M652.9 60.2h0M642.7 68.5h0M640.7 73.0h0M640.8 70.1h0M628.5 80.4h0M662.9 49.6h0M627.8 79.6h0M649.1 62.0h0M638.2 75.0h0M628.2 81.4h0M664.7 50.7h0M638.5 74.6h0M668.0 46.9h0M634.2 77.1h0M630.4 81.7h0M647.5 68.4h0M612.3 97.8h0M658.2 48.2h0M640.0 67.1h0M646.3 63.1h0M654.6 54.8h0M609.0 103.1h0M647.0 62.7h0M662.1 47.9h0M643.6 64.9h0M664.0 47.5h0M611.8 102.9h0M640.8 60.9h0M619.6 89.9h0M652.2 62.9h0M656.8 54.9h0M644.5 61.0h0M661.4 41.1h0M645.2 62.9h0M615.9 96.7h0M649.5 47.2h0M659.9 44.8h0M642.0 70.4h0M636.7 71.8h0M651.7 52.5h0M630.4 77.9h0M654.2 44.9h0M633.1 80.7h0M608.4 103.1h0M657.0 50.0h0M610.5 95.0h0M610.3 96.2h0M630.7 78.1h0M649.0 53.0h0M617.9 97.0h0M648.1 58.1h0M661.0 44.0h0M658.5 52.8h0M648.4 57.7h0M645.2 62.6h0M658.0 54.1h0M650.4 60.4h0M612.8 99.3h0M652.8 51.5h0M652.7 50.8h0M620.0 94.2h0M658.5 47.1h0M660.1 47.2h0M630.3 79.8h0M618.5 92.8h0M659.0 38.9h0M642.6 71.1h0M648.3 52.4h0M642.5 68.5h0M646.0 54.2h0M661.3 50.3h0M607.0 105.4h0M661.7 44.2h0M655.4 55.9h0M647.9 64.7h0M610.9 100.5h0M656.3 58.8h0M611.8 97.0h0M662.6 47.3h0M640.6 69.1h0M623.0 85.9h0M620.0 93.6h0M626.6 87.5h0M640.0 64.5h0M613.5 94.7h0M621.9 93.9h0M647.1 55.6h0M657.5 46.2h0M664.3 48.2h0M663.4 47.2h0M651.6 55.1h0M661.5 51.3h0M624.5 89.1h0M640.1 67.9h0M665.7 40.8h0M605.2 106.5h0M663.4 48.7h0M622.6 85.3h0M637.1 67.2h0M637.5 66.0h0M628.0 73.9h0M639.3 69.5h0M661.9 43.3h0M617.6 89.2h0M652.2 57.2h0M626.3 78.7h0M632.5 73.6h0M631.9 75.0h0M625.9 86.5h0M661.9 38.4h0M623.0 81.8h0M659.0 39.3h0M626.4 83.2h0M607.6 105.8h0M667.5 46.8h0M665.3 46.0h0M660.9 50.2h0M656.6 47.3h0M626.9 85.5h0M638.2 66.6h0M630.8 76.1h0M631.2 79.9h0M619.8 95.5h0M614.1 100.2h0M641.6 67.1h0M621.2 85.0h0M650.0 65.8h0M644.3 56.7h0M660.1 44.7h0M650.9 60.0h0M627.9 79.8h0M639.7 63.0h0M605.4 105.6h0M636.0 69.9h0M626.6 78.5h0M632.9 72.4h0M658.3 49.1h0M604.9 104.1h0M654.8 47.5h0M638.5 72.1h0M646.7 56.4h0M623.0 87.1h0M631.6 77.8h0M654.0 54.7h0M646.6 63.5h0M650.4 53.4h0M611.4 100.9h0M662.4 49.0h0M657.1 58.0h0M653.0 45.0h0M643.7 61.6h0M661.6 49.2h0M652.0 52.8h0M650.8 50.5h0M615.7 92.7h0M659.1 38.0h0M666.7 45.0h0M644.5 60.6h0M644.2 60.2h0M636.8 74.3h0M606.0 101.4h0M637.8 71.5h0M619.6 96.5h0M633.5 76.3h0M640.5 67.1h0M633.3 68.4h0M637.4 70.0h0M653.5 47.2h0M631.6 76.8h0M625.5 88.5h0M651.7 52.0h0M650.7 65.9h0M661.3 39.8h0M609.1 104.0h0M655.3 52.4h0M616.1 91.2h0M649.5 62.7h0M633.0 75.2h0M613.5 99.2h0M623.4 86.6h0M665.6 47.7h0M658.8 54.8h0M637.1 67.5h0M621.5 84.8h0M638.5 67.4h0M608.7 105.5h0M651.4 54.2h0M643.0 61.2h0M612.6 97.8h0M625.2 90.0h0M663.2 53.5h0M608.0 104.8h0M651.8 51.9h0M651.1 50.9h0M643.4 58.2h0M625.1 87.4h0M664.7 49.1h0M615.7 101.8h0M667.2 46.2h0M642.8 59.5h0M663.7 47.8h0M630.6 81.3h0M621.2 89.4h0M612.7 99.5h0M645.7 68.2h0M609.7 98.6h0M643.4 57.3h0M662.2 41.4h0M625.9 80.1h0M644.7 65.0h0M652.0 49.0h0M614.3 98.2h0M634.3 67.1h0M639.8 68.3h0M613.7 101.8h0M633.8 70.3h0M657.8 52.1h0M630.1 72.7h0M645.1 67.3h0M612.0 99.7h0M629.7 78.9h0M626.5 80.0h0M647.4 55.5h0M618.4 91.4h0M647.1 65.3h0M650.8 54.1h0M638.7 73.4h0M637.0 71.5h0M625.6 88.5h0M625.0 86.9h0M648.3 52.1h0M663.2 42.3h0M630.4 85.2h0M657.9 48.2h0M645.7 66.8h0M631.8 75.0h0M653.2 45.4h0M621.4 88.7h0M660.7 56.1h0M639.9 72.8h0M652.4 52.7h0M624.1 86.0h0M665.5 50.3h0M633.3 79.8h0M663.9 50.7h0M659.8 43.6h0M662.7 47.5h0M635.5 70.7h0M656.2 46.5h0M608.4 104.8h0M666.0 43.3h0M637.6 77.4h0M642.7 69.5h0M648.5 54.7h0M639.1 78.1h0M647.3 57.1h0M618.6 90.8h0M611.3 95.0h0M657.6 45.4h0M623.2 87.5h0M637.3 71.6h0M626.3 82.4h0M618.0 92.2h0M660.9 45.0h0M638.6 71.9h0M647.5 66.4h0M605.7 101.0h0M628.7 79.1h0M648.2 59.2h0M611.8 98.7h0M657.1 52.8h0M658.0 50.9h0M613.1 95.6h0M629.2 77.1h0M621.6 90.7h0M640.7 72.1h0M632.2 79.5h0M625.2 84.0h0M650.3 50.5h0M658.5 49.6h0M612.8 97.4h0M610.0 100.7h0M644.3 63.1h0M650.7 61.1h0M624.4 91.1h0M625.6 89.3h0M636.6 68.8h0M660.4 45.1h0M610.8 99.8h0M643.6 71.7h0M626.6 86.7h0M667.0 43.6h0M643.0 61.7h0M637.0 67.8h0M662.2 40.2h0M654.0 51.8h0M624.5 85.8h0M657.0 52.1h0M637.6 71.1h0M623.2 93.6h0M617.6 90.2h0M652.1 59.8h0M658.6 42.9h0M657.7 46.6h0M626.8 81.7h0M623.6 84.4h0M660.3 49.5h0M618.8 94.7h0M648.5 57.7h0M636.3 73.4h0M659.6 46.9h0M626.1 88.2h0M618.0 89.6h0M628.2 79.4h0M622.8 90.7h0M624.7 79.4h0M638.9 66.7h0M627.9 87.5h0M651.7 62.0h0M653.1 57.2h0M661.3 52.6h0M610.0 104.2h0M647.7 52.0h0M643.3 64.8h0M645.2 57.5h0M657.4 41.8h0M650.4 63.7h0M614.8 95.6h0M630.5 79.0h0M641.8 59.0h0M613.1 92.7h0M636.9 65.5h0M653.6 48.5h0M636.5 80.3h0M611.0 95.2h0M620.5 95.3h0M642.6 63.4h0M656.5 51.4h0M637.8 70.8h0M617.9 89.5h0M646.4 55.8h0M632.1 83.2h0M628.3 85.0h0M644.0 57.5h0M614.3 97.2h0M616.1 90.5h0M615.0 95.8h0M608.3 104.3h0M630.8 78.4h0M652.5 55.2h0M656.9 54.5h0M641.8 68.9h0M664.6 45.2h0M669.2 42.8h0M651.4 58.9h0M627.9 74.4h0M649.0 58.1h0M638.0 72.8h0M640.5 70.9h0M662.4 42.5h0M650.9 64.8h0M640.3 73.7h0M650.0 54.4h0M613.7 95.3h0M638.5 68.7h0M634.3 74.0h0M610.8 101.9h0M638.4 64.7h0M645.6 59.9h0M661.3 38.9h0M622.7 82.6h0M656.1 42.3h0M666.0 44.9h0M639.7 75.1h0M661.1 44.9h0M635.2 72.2h0M623.9 80.3h0M603.8 103.6h0M628.4 77.5h0M650.6 51.3h0M633.3 70.7h0M624.4 84.5h0M637.8 73.4h0M612.6 100.8h0M649.7 49.2h0M666.6 45.1h0M639.5 72.9h0M638.2 71.9h0M610.7 101.9h0M666.1 47.7h0M617.7 94.8h0M626.1 84.4h0M605.9 104.2h0M656.3 46.7h0M648.9 47.8h0M614.7 98.1h0M606.0 105.5h0M637.6 76.3h0M618.2 88.5h0M633.3 77.2h0M623.1 91.0h0M612.5 98.0h0M652.8 47.2h0M634.4 78.2h0M641.9 67.9h0M658.5 47.0h0M653.5 48.4h0M655.2 53.5h0M655.1 45.4h0M621.8 87.7h0M643.5 59.2h0M631.6 80.6h0M619.7 94.0h0M655.0 49.4h0M631.1 74.5h0M614.0 95.9h0M647.2 59.2h0M610.0 101.0h0M649.2 52.6h0M605.6 107.9h0M638.9 71.9h0M660.7 48.0h0M630.7 79.2h0M648.1 55.7h0M634.0 73.0h0M632.1 69.5h0M658.6 51.3h0M644.3 66.0h0M613.0 94.1h0M624.1 85.1h0M646.6 63.3h0M635.0 70.6h0M658.8 40.9h0M611.4 97.5h0M628.7 81.0h0M628.1 83.5h0M650.0 56.5h0M654.4 51.3h0M642.3 69.2h0M659.2 42.0h0M649.4 62.4h0M647.9 56.5h0M636.6 69.2h0M619.6 91.7h0M612.2 98.4h0M608.9 99.5h0M616.9 99.6h0M614.4 94.6h0M655.5 47.2h0M651.1 48.7h0M635.9 77.7h0M628.5 83.6h0M616.8 98.1h0M639.8 64.8h0M655.1 48.3h0M646.6 63.3h0M659.7 51.7h0M666.2 45.7h0M633.4 74.3h0M663.9 47.1h0M640.3 67.9h0M618.1 91.8h0M648.1 59.3h0M655.8 52.1h0M617.4 90.0h0M608.1 106.4h0M655.1 48.1h0M628.1 82.8h0M617.9 92.8h0M649.6 60.0h0M638.7 76.2h0M631.4 81.2h0M649.7 49.3h0M636.3 71.9h0M648.1 57.1h0M626.2 78.3h0M617.7 94.9h0M658.2 45.3h0M662.7 45.1h0M628.9 75.6h0M649.9 53.2h0M645.0 69.3h0M624.0 82.5h0M641.6 69.0h0M618.4 91.2h0M631.8 80.7h0M635.7 75.5h0M663.0 44.8h0M629.0 79.5h0M633.4 68.9h0M624.4 84.9h0M613.6 92.3h0M657.0 54.6h0M645.9 61.0h0M628.0 75.1h0M654.8 50.7h0M642.4 63.6h0M610.1 100.5h0M643.0 67.1h0M646.9 57.2h0M663.4 50.0h0M660.9 49.6h0M628.9 76.5h0M662.8 50.2h0M655.4 43.5h0M612.8 101.3h0M647.0 56.1h0M653.2 52.5h0M663.3 45.2h0M652.1 52.6h0M662.9 47.7h0M639.9 69.1h0M639.1 65.9h0M634.3 67.5h0M639.9 70.2h0M633.6 75.9h0M614.7 96.9h0M623.4 90.6h0M609.1 103.8h0M654.8 49.8h0M638.8 68.7h0M625.1 90.9h0M638.0 73.5h0M614.9 99.4h0M644.5 63.9h0M609.9 102.8h0M641.2 61.2h0M627.4 86.7h0M658.5 40.3h0M621.5 89.0h0M620.3 90.3h0M660.1 54.1h0M607.9 102.8h0M648.1 51.1h0M631.0 78.3h0M653.5 46.1h0M648.1 58.7h0M623.9 83.4h0M612.7 96.8h0M657.0 51.9h0M640.7 72.2h0M632.9 71.0h0M629.6 81.0h0M643.6 65.5h0M661.1 49.5h0M660.2 41.4h0M610.2 98.2h0M635.3 77.4h0M648.6 55.3h0M626.8 78.5h0M615.0 96.4h0M630.0 76.7h0M626.0 88.5h0M656.8 56.3h0M642.6 69.5h0M631.7 77.6h0M620.2 84.6h0M616.7 99.6h0M626.3 79.5h0M611.7 102.9h0M661.7 40.2h0M620.0 90.8h0M619.2 85.9h0M654.0 55.4h0M639.2 71.1h0M619.7 84.2h0M606.4 101.9h0M652.6 47.6h0M627.9 77.3h0M661.7 43.5h0M661.6 41.5h0M650.9 47.7h0M628.7 80.6h0M631.6 74.5h0M666.6 47.1h0M653.3 51.7h0M634.0 72.8h0M618.1 97.0h0M665.2 44.1h0M642.5 73.5h0M622.3 83.5h0M655.5 45.3h0M622.3 89.6h0M647.1 55.4h0M612.1 99.9h0M653.0 56.0h0M626.4 81.0h0M618.7 88.1h0M633.6 75.2h0M638.3 72.7h0M666.7 45.2h0M655.8 48.0h0M618.6 85.5h0M639.4 74.0h0M642.8 72.0h0M637.5 71.8h0M667.9 44.6h0M623.0 88.9h0M657.2 45.7h0M627.9 79.2h0M659.6 41.7h0M642.6 74.1h0M613.3 98.0h0M638.3 76.1h0M648.8 55.3h0M641.4 71.3h0M635.6 74.0h0M636.0 71.3h0M608.6 101.0h0M642.8 68.3h0M609.5 103.2h0M624.5 86.4h0M656.8 46.2h0M648.4 57.3h0M660.7 43.7h0M632.6 74.7h0M633.5 66.3h0M619.0 95.6h0M608.4 101.2h0M663.7 44.2h0M634.8 71.7h0M636.4 67.5h0M610.8 100.1h0M641.2 70.1h0M660.0 45.6h0M651.3 54.0h0M643.9 60.3h0M654.9 45.6h0M655.2 47.1h0M664.9 47.1h0M608.6 101.5h0M661.4 43.3h0M617.7 93.4h0M645.0 59.4h0M645.2 61.6h0M625.1 85.0h0M653.9 51.0h0M652.1 44.6h0M654.5 56.7h0M623.7 85.5h0M645.9 63.5h0M647.7 64.1h0M626.1 80.0h0M650.7 57.5h0M638.4 66.9h0M634.8 77.4h0M646.6 62.5h0M658.1 40.6h0M644.1 64.7h0M640.0 66.8h0M631.7 77.5h0M654.2 48.0h0M643.1 59.5h0M649.2 60.5h0M647.6 58.6h0M606.0 101.5h0M637.6 67.9h0M612.4 93.2h0M652.4 55.6h0M654.9 51.9h0M639.3 66.7h0M654.0 53.5h0M655.6 41.6h0M648.4 63.6h0M641.6 76.2h0M620.3 92.8h0M625.5 83.0h0M647.8 55.6h0M618.5 92.4h0M635.4 70.4h0M651.8 53.0h0M618.6 94.1h0M608.5 99.7h0M638.6 64.5h0M615.6 93.3h0M636.2 74.3h0M650.9 58.7h0M649.2 56.5h0M631.7 87.0h0M661.5 38.1h0M623.4 85.4h0M662.7 48.4h0M632.8 80.5h0M657.8 43.3h0M662.6 36.5h0M659.8 41.7h0M621.6 84.9h0M665.5 43.6h0M647.8 61.1h0M625.9 84.1h0M658.2 46.6h0M629.5 81.3h0M655.6 53.5h0M643.4 58.8h0M643.9 62.7h0M658.7 47.1h0M663.8 48.2h0M626.4 79.7h0M657.2 49.6h0M652.5 57.6h0M668.2 43.0h0M657.9 46.8h0M620.0 87.9h0M611.9 96.2h0M647.3 52.5h0M627.2 82.9h0M637.4 67.6h0M618.3 92.7h0M642.9 67.5h0M635.0 80.2h0M634.4 75.5h0M612.0 95.9h0M650.4 52.6h0M641.1 68.9h0M632.6 82.4h0M626.0 83.7h0M647.6 61.3h0M635.7 69.0h0M623.9 83.5h0M608.8 103.5h0M654.1 55.9h0M625.2 86.9h0M612.8 93.6h0M616.9 89.6h0M629.7 78.7h0M630.5 78.2h0M607.2 104.8h0M619.7 90.8h0M651.1 48.2h0M652.9 56.6h0M658.1 52.3h0M639.1 69.3h0M641.8 62.7h0M634.2 75.5h0M652.9 48.0h0M654.6 63.5h0M617.0 95.7h0M651.7 57.0h0M640.3 61.6h0M630.0 77.8h0M626.1 86.3h0M659.1 46.6h0M649.9 57.0h0M643.9 63.6h0M630.7 76.9h0M652.4 59.6h0M638.4 67.6h0M632.3 72.0h0M633.4 68.8h0M657.7 55.2h0M660.5 55.2h0M626.6 78.4h0M636.2 71.4h0M657.7 51.7h0M613.8 101.5h0M619.4 92.3h0M659.6 42.0h0M608.8 102.0h0M618.6 96.5h0M644.5 67.9h0M636.6 76.9h0M612.8 97.7h0M657.6 47.5h0M627.6 83.2h0M613.3 97.2h0M610.4 99.7h0M651.0 64.1h0M608.5 102.8h0M652.0 59.9h0M613.1 97.6h0M647.4 58.8h0M665.2 42.2h0M647.7 64.3h0M622.1 88.4h0M619.3 91.0h0M624.6 80.7h0M647.1 66.8h0M663.2 43.6h0M635.4 73.3h0M648.6 54.2h0M632.0 77.5h0M652.7 50.1h0M633.7 69.2h0M634.5 71.1h0M616.2 93.7h0M629.0 76.0h0M630.4 82.7h0M650.3 61.4h0M638.9 73.4h0M639.4 66.7h0M619.1 93.3h0M642.0 60.9h0M628.6 85.7h0M651.0 52.3h0M622.9 88.5h0M649.1 55.8h0M626.1 87.5h0M645.3 55.5h0M652.5 52.5h0M611.7 100.7h0M666.4 50.0h0M646.9 63.9h0M650.6 55.3h0M651.6 52.9h0M654.3 54.2h0M655.0 46.6h0M611.3 102.3h0M609.1 102.9h0M662.0 44.0h0M659.9 40.1h0M614.7 96.3h0M622.8 81.8h0M661.2 45.7h0M608.4 100.3h0M616.5 91.9h0M632.9 77.5h0M643.2 58.7h0M652.4 53.5h0M650.2 63.9h0M630.9 77.8h0M635.8 70.2h0M662.4 44.1h0M652.4 48.7h0M625.3 88.0h0M640.4 73.9h0M633.7 78.9h0M628.1 78.9h0M632.1 78.9h0M663.5 42.7h0M663.0 45.7h0M625.5 78.7h0M627.1 80.2h0M639.5 61.0h0M611.3 102.1h0M642.2 68.8h0M654.8 55.0h0M614.2 98.9h0M615.7 100.6h0M653.9 43.2h0M616.8 92.6h0M644.0 65.2h0M632.4 70.0h0M644.1 74.5h0M656.2 45.1h0M622.5 85.2h0M644.1 62.5h0M644.2 66.0h0M655.4 51.9h0M668.4 42.5h0M651.7 61.7h0M640.8 62.4h0M637.8 65.4h0M632.4 76.4h0M620.2 87.0h0M638.6 73.2h0M627.2 84.8h0M625.0 87.4h0M659.5 43.2h0M619.5 96.5h0M622.8 82.1h0M611.0 100.2h0M666.5 42.8h0M628.1 80.4h0M630.5 75.5h0M648.4 57.1h0M612.9 97.2h0M644.7 64.2h0M647.6 54.0h0M643.0 65.5h0M664.0 48.5h0M658.8 54.0h0M642.1 64.5h0M662.4 46.5h0M637.3 66.2h0M615.1 93.4h0M654.0 50.2h0M666.1 50.6h0M611.4 100.6h0M656.5 49.6h0M626.6 78.8h0M639.6 64.3h0M649.7 64.1h0M625.5 79.5h0M656.3 58.1h0M654.8 46.8h0M640.6 74.0h0M660.8 55.3h0M606.6 103.2h0M662.2 41.3h0M647.9 64.9h0M641.5 63.8h0M664.0 45.0h0M634.0 79.6h0M631.0 76.3h0M645.8 67.5h0M608.0 103.3h0M623.2 91.9h0M617.6 91.8h0M633.1 72.7h0M635.5 70.3h0M642.3 69.6h0M614.0 93.4h0M612.0 93.4h0M650.0 64.9h0M647.3 58.1h0M621.0 89.9h0M662.5 52.8h0M628.7 85.5h0M609.8 103.7h0M662.5 46.6h0M657.3 50.0h0M652.4 51.0h0M636.6 71.7h0M641.2 69.2h0M612.7 101.9h0M648.8 58.3h0M644.3 65.6h0M642.6 63.3h0M620.5 91.1h0M616.2 95.4h0M665.3 42.4h0M613.7 98.4h0M635.4 66.6h0M619.0 88.0h0M622.7 89.3h0M617.2 90.3h0M655.5 48.5h0M608.6 104.9h0M630.7 73.6h0M614.7 95.3h0M659.1 44.1h0M612.4 95.5h0M623.2 82.3h0M618.3 86.3h0M630.8 84.7h0M631.4 76.9h0M630.8 81.1h0M644.2 58.7h0M647.1 57.4h0M636.3 74.3h0M663.1 52.1h0M632.9 75.2h0M634.7 75.2h0M629.7 74.4h0M650.1 56.7h0M655.5 55.3h0M660.5 44.9h0M628.5 81.0h0M655.7 50.8h0M656.1 45.4h0M639.5 69.9h0M637.1 70.6h0M631.2 82.6h0M623.6 85.9h0M648.3 58.7h0M652.7 50.4h0M639.8 75.9h0M657.8 55.0h0M618.0 93.5h0M653.0 58.7h0M666.1 47.1h0M621.6 88.3h0M659.7 41.7h0M623.7 86.6h0M654.7 54.5h0M655.8 47.6h0M615.1 97.9h0M653.4 56.0h0M618.5 90.1h0M634.6 75.9h0M621.4 91.6h0M621.2 87.4h0M645.7 61.5h0M627.6 86.1h0M660.0 43.4h0M664.8 48.5h0M652.8 58.4h0M655.9 43.1h0M643.7 60.7h0M643.8 64.7h0M651.4 58.9h0M654.1 53.7h0M650.5 59.8h0M664.2 42.3h0M652.5 60.5h0M660.2 51.1h0M640.2 66.1h0M625.5 83.3h0M647.3 55.4h0M653.2 46.0h0M622.6 85.2h0M651.7 50.4h0M607.6 103.1h0M611.2 95.8h0M623.0 83.8h0M629.9 81.5h0M613.4 98.9h0M649.4 55.1h0M634.5 71.1h0M625.1 88.0h0M650.8 60.2h0M621.8 90.6h0M616.0 97.5h0M657.0 59.2h0M618.7 88.6h0M612.7 99.7h0M638.0 73.1h0M622.3 85.3h0M626.2 76.4h0M633.5 82.2h0M626.2 83.8h0M613.6 92.3h0M609.0 101.9h0M653.8 50.2h0M609.9 98.4h0M632.0 80.0h0M613.4 95.1h0M623.6 89.1h0M657.2 43.4h0M649.9 56.0h0M654.0 56.9h0M668.2 44.6h0M635.4 71.8h0M667.8 46.7h0M657.9 54.2h0M628.5 86.1h0M611.4 97.1h0M613.0 102.2h0M666.8 46.6h0M645.3 59.2h0M642.5 66.9h0M646.3 68.4h0M609.7 104.6h0M637.5 75.2h0M653.6 50.2h0M624.2 84.1h0M642.9 61.0h0M623.9 85.2h0M634.5 69.3h0M644.1 59.4h0M641.7 69.1h0M627.7 75.0h0M659.8 49.7h0M648.4 58.5h0M622.7 86.6h0M613.4 93.5h0M643.0 59.3h0M616.2 92.7h0M625.5 83.2h0M654.4 45.4h0M633.4 78.9h0M619.8 95.5h0M643.8 70.0h0M650.1 53.1h0M649.7 59.1h0M620.5 91.6h0M623.6 89.5h0M663.7 44.1h0M615.8 98.3h0M652.9 59.7h0M632.4 77.5h0M646.0 67.1h0M640.0 59.1h0M631.9 81.9h0M647.3 56.1h0M630.8 72.0h0M621.2 83.8h0M623.4 83.2h0M637.9 67.2h0M637.0 73.4h0M658.6 43.9h0M642.9 59.3h0M652.7 55.5h0M625.4 87.5h0M633.2 77.0h0M654.7 54.1h0M615.8 98.8h0M622.1 89.6h0M610.0 100.1h0M653.1 48.0h0M644.2 67.2h0M643.3 73.0h0M622.0 91.0h0M633.5 81.2h0M662.0 45.8h0M629.4 76.2h0M631.4 80.4h0M613.6 96.1h0M653.2 44.5h0M655.4 45.5h0M650.2 52.5h0M656.1 45.3h0M640.9 60.3h0M654.3 50.2h0M616.8 94.8h0M658.1 45.3h0M665.8 46.8h0M625.6 84.1h0M634.2 77.0h0M656.1 55.9h0M611.9 102.0h0M657.5 53.2h0M649.3 58.4h0M659.8 47.0h0M614.0 96.2h0M621.0 91.2h0M648.3 60.0h0M647.4 63.0h0M646.9 64.6h0M610.9 103.3h0M618.4 96.7h0M657.7 52.4h0M630.2 74.9h0M663.6 41.6h0M608.8 102.3h0M643.9 63.1h0M656.6 58.0h0M656.9 47.9h0M637.6 65.2h0M653.5 61.9h0M646.7 63.0h0M634.6 76.3h0M658.4 44.6h0M662.6 43.8h0M665.8 43.3h0M631.8 73.6h0M620.9 87.3h0M622.6 86.5h0M639.5 64.8h0M639.9 67.0h0M664.3 49.5h0M648.4 54.9h0M625.4 77.5h0M661.8 43.9h0M641.8 67.1h0M624.1 85.4h0M633.2 69.0h0M647.0 62.4h0M663.6 52.0h0M658.3 47.4h0M609.8 100.8h0M618.2 91.0h0M643.3 59.1h0M653.6 55.6h0M633.0 74.2h0M615.5 102.8h0M625.7 84.0h0M660.3 47.9h0M653.8 54.0h0M644.8 66.9h0M616.3 92.2h0M640.9 63.9h0M631.8 76.0h0M608.2 105.9h0M651.2 53.9h0M649.0 62.6h0M664.9 47.0h0M658.1 48.8h0M654.8 53.2h0M648.3 63.2h0M661.3 48.8h0M614.9 98.3h0M628.2 82.5h0M650.5 52.6h0M605.2 106.0h0M666.1 49.3h0M625.7 78.3h0M631.9 80.1h0M660.8 38.4h0M621.3 92.1h0M611.3 104.2h0M638.7 74.3h0M650.2 54.6h0M615.5 90.8h0M625.1 80.6h0M618.5 89.9h0M650.4 53.1h0M649.8 60.5h0M615.0 95.4h0M648.8 61.3h0M615.8 93.1h0M652.6 52.9h0M657.2 48.3h0M619.2 85.6h0M658.7 45.9h0M641.7 62.6h0M619.3 91.4h0M651.7 55.0h0M653.5 58.7h0M619.7 86.7h0M636.5 67.1h0M648.3 57.5h0M643.8 68.2h0M645.2 57.0h0M621.7 89.5h0M626.1 79.9h0M663.4 39.9h0M659.8 46.5h0M648.0 51.1h0M649.6 59.0h0M630.5 74.1h0M635.1 76.5h0M649.8 54.9h0M628.2 78.1h0M634.2 71.1h0M649.7 60.6h0M636.4 77.3h0M612.7 97.7h0M657.4 47.9h0M625.7 86.6h0M635.8 72.3h0M657.5 55.4h0M608.7 102.3h0M652.1 56.5h0M667.4 45.8h0M612.8 100.3h0M652.7 54.8h0M648.5 53.7h0M636.9 69.5h0M623.3 84.6h0M605.6 104.7h0M654.2 52.5h0M603.6 102.9h0M659.3 48.0h0M653.5 45.1h0M609.6 102.5h0M655.4 45.6h0M659.5 45.7h0M645.4 69.6h0M662.2 52.1h0M654.8 60.9h0M648.6 66.6h0M623.7 82.9h0M606.2 104.0h0M655.2 45.8h0M658.5 47.6h0M612.1 101.1h0M648.5 64.7h0M655.0 45.0h0M622.0 89.5h0M642.7 64.5h0M662.3 37.9h0M656.5 48.9h0M642.9 57.0h0M610.9 99.6h0M634.4 70.7h0M624.1 80.5h0M630.4 80.1h0M614.3 102.1h0M652.1 49.2h0M648.9 52.9h0M633.5 72.1h0M664.7 47.8h0M636.2 75.0h0M660.5 47.4h0M653.2 49.8h0M664.0 42.7h0M634.6 74.4h0M643.7 70.9h0M653.3 43.9h0M633.0 75.6h0M658.7 41.0h0M658.5 45.8h0M660.8 44.6h0M625.7 81.2h0M655.5 55.2h0M651.4 61.7h0M624.3 84.1h0M638.5 76.4h0M606.4 103.8h0M665.3 40.7h0M636.7 68.1h0M646.6 61.0h0M610.3 101.6h0M623.2 91.1h0M619.7 93.6h0M620.8 82.7h0M662.3 47.8h0M614.5 94.9h0M656.9 53.2h0M618.8 86.3h0M638.1 74.6h0M667.4 45.1h0M614.8 96.9h0M647.7 65.8h0M659.7 42.9h0M647.8 52.0h0M636.7 70.4h0M666.1 43.1h0M615.6 86.7h0M619.0 89.6h0M659.4 49.5h0M666.9 45.5h0M629.6 85.7h0M649.8 61.1h0M640.4 66.7h0M614.0 96.1h0M642.7 60.1h0M653.9 59.5h0M621.5 92.8h0M652.5 60.5h0M650.7 50.6h0M608.8 99.1h0M666.3 41.9h0M649.6 51.5h0M626.1 84.4h0M624.7 88.2h0M610.6 97.8h0M649.3 50.9h0M660.4 39.2h0M639.2 77.6h0M612.2 104.7h0M617.9 88.4h0M637.5 71.9h0M650.6 57.8h0M643.3 68.4h0M624.0 90.5h0M618.6 87.6h0M644.6 58.3h0M608.2 102.1h0M658.6 53.1h0M612.9 100.1h0M607.4 102.8h0M650.0 51.8h0M633.8 72.8h0M620.1 92.2h0M605.9 103.6h0M611.5 101.9h0M650.6 62.1h0M630.3 82.4h0M608.7 104.9h0M644.5 58.9h0M666.4 47.9h0M624.1 85.4h0M631.8 75.6h0M641.9 66.6h0M630.0 78.4h0M636.9 70.6h0M658.3 53.7h0M614.3 97.4h0M612.1 97.6h0M654.1 48.0h0M647.2 62.4h0M660.3 54.9h0M669.1 46.0h0M634.2 79.1h0M652.1 59.5h0M625.1 85.6h0M609.6 99.7h0M650.4 53.2h0M652.7 52.1h0M608.9 107.7h0M610.7 101.7h0M648.6 63.5h0M628.3 76.0h0M610.7 104.1h0M634.5 78.9h0M635.8 70.9h0M649.4 55.1h0M662.4 52.1h0M663.4 45.9h0M646.8 66.6h0M657.3 50.1h0M630.2 77.0h0M652.5 52.4h0M627.0 86.1h0M648.5 60.0h0M613.5 101.3h0M660.1 48.1h0M661.0 48.8h0M658.2 56.4h0M665.7 47.4h0M648.2 65.7h0M661.9 48.2h0M624.4 87.6h0M648.8 57.8h0M617.2 94.9h0M609.3 99.9h0M620.7 97.1h0M660.5 52.2h0M660.6 51.3h0M647.9 54.0h0M612.6 95.4h0M626.4 83.2h0M605.9 100.9h0M622.7 84.7h0M617.1 96.6h0M666.8 45.3h0M647.7 50.5h0M643.9 58.0h0M655.4 48.3h0M631.7 77.2h0M636.4 74.1h0M616.5 97.8h0M649.3 57.5h0M653.0 50.1h0M619.9 88.8h0M610.9 101.7h0M647.3 54.6h0M615.9 100.2h0M618.2 97.9h0M639.5 66.7h0M660.6 42.4h0M621.3 89.8h0M640.1 72.8h0M662.3 37.6h0M619.4 92.6h0M632.6 75.5h0M654.8 53.7h0M630.5 82.3h0M649.2 54.0h0M631.5 78.1h0M619.0 91.9h0M631.4 71.4h0M657.5 47.4h0M654.4 59.7h0M647.6 64.0h0M662.2 48.4h0M616.9 93.0h0M614.6 92.5h0M658.6 52.5h0M629.7 74.8h0M649.5 60.4h0M643.1 66.8h0M655.9 45.2h0" stroke="#e9bcc6" stroke-width="1.1" stroke-linecap="round"/>
<path d="M603.4 108.5L604.5 102.8L610.2 94.9L619.2 85.9L628.3 74.6L637.3 65.5L646.4 59.9L654.3 55.4L656.5 54.2L655.4 58.8L650.9 65.5L645.2 74.6L637.3 85.9L628.3 97.2L619.2 105.1L610.2 108.9L604.5 109.6Z" fill="#e7b7c2" fill-opacity="0.45" stroke="#3a2a2e" stroke-width="0.55"/>
<path d="M606.8 104.0L614.7 92.7L623.8 82.5L631.7 76.8L632.8 80.2L628.3 88.1L619.2 97.2L610.2 103.5Z" fill="#dba3b0" fill-opacity="0.3" stroke="#3a2a2e" stroke-width="0.5"/>
<path d="M609.1 101.7L615.8 91.5L623.8 84.7L625.6 87.0L619.2 94.9L611.3 101.2Z" fill="#dba3b0" fill-opacity="0.3" stroke="#3a2a2e" stroke-width="0.5"/>
<path d="M611.3 99.4L617.0 90.4L621.5 87.0L621.5 89.9L615.8 96.0L612.9 99.4Z" fill="#dba3b0" fill-opacity="0.3" stroke="#3a2a2e" stroke-width="0.5"/>
<text x="609.0" y="52.5" font-size="4.4" textLength="66.0" lengthAdjust="spacingAndGlyphs" fill="#e0404e">P2(chr19: 12998329-12998592)</text>
<text x="604.7" y="64.5" font-size="4.4" textLength="64.3" lengthAdjust="spacingAndGlyphs" fill="#e0404e">P1(chr19: 12997999-12998154)</text>
<text x="294.2" y="158.4" font-size="11" font-weight="bold">e</text>
<text x="318.5" y="163.7" font-size="6.9" textLength="21.0" lengthAdjust="spacingAndGlyphs">chr19:</text>
<text x="343.0" y="163.7" font-size="6.9" textLength="39.5" lengthAdjust="spacingAndGlyphs">12,990,000</text>
<text x="460.4" y="163.7" font-size="6.9" textLength="40.3" lengthAdjust="spacingAndGlyphs">13,005,000</text>
<text x="504.0" y="170.0" font-size="6.9" textLength="16.0" lengthAdjust="spacingAndGlyphs">hg19</text>
<line x1="343.4" y1="167.3" x2="500.5" y2="167.3" stroke="#555" stroke-width="0.7"/>
<line x1="343.4" y1="167.3" x2="343.4" y2="163.8" stroke="#555" stroke-width="0.6"/>
<line x1="395.6" y1="167.3" x2="395.6" y2="165.5" stroke="#555" stroke-width="0.6"/>
<line x1="447.5" y1="167.3" x2="447.5" y2="165.5" stroke="#555" stroke-width="0.6"/>
<line x1="500.5" y1="167.3" x2="500.5" y2="163.8" stroke="#555" stroke-width="0.6"/>
<rect x="423.8" y="172.8" width="14.7" height="143.0" fill="#ececec"/>
<text x="328.3" y="183.9" font-size="6.9" text-anchor="end">HSC</text>
<rect x="332.0" y="176.5" width="7.0" height="8.7" fill="#0d4a22"/>
<line x1="341.0" y1="184.9" x2="503.4" y2="184.9" stroke="#2f5e3c" stroke-width="0.6"/>
<path d="M341 185.2L341.0 185.20L341.5 185.20L342.0 185.20L342.5 185.20L343.0 185.20L343.5 185.20L344.0 185.20L344.5 184.94L345.0 185.20L345.5 185.20L346.0 185.20L346.5 185.20L347.0 185.20L347.5 185.11L348.0 185.20L348.5 185.20L349.0 185.20L349.5 185.20L350.0 185.20L350.5 185.20L351.0 185.20L351.5 185.20L352.0 185.20L352.5 185.20L353.0 184.96L353.5 185.20L354.0 185.20L354.5 185.20L355.0 185.20L355.5 185.20L356.0 185.20L356.5 185.20L357.0 185.20L357.5 185.20L358.0 185.20L358.5 185.14L359.0 185.20L359.5 185.20L360.0 185.20L360.5 185.20L361.0 185.20L361.5 185.20L362.0 185.20L362.5 185.20L363.0 185.20L363.5 185.20L364.0 185.20L364.5 185.20L365.0 185.20L365.5 185.11L366.0 182.88L366.5 178.35L367.0 177.15L367.5 176.60L368.0 176.51L368.5 180.36L369.0 184.04L369.5 185.07L370.0 185.20L370.5 185.03L371.0 185.20L371.5 185.20L372.0 185.20L372.5 185.20L373.0 185.20L373.5 185.20L374.0 185.20L374.5 185.20L375.0 185.20L375.5 185.20L376.0 185.20L376.5 185.20L377.0 185.20L377.5 184.89L378.0 185.20L378.5 185.20L379.0 184.96L379.5 185.20L380.0 185.20L380.5 185.20L381.0 185.20L381.5 185.20L382.0 185.20L382.5 185.20L383.0 185.20L383.5 185.20L384.0 184.88L384.5 185.20L385.0 185.20L385.5 185.20L386.0 185.20L386.5 184.92L387.0 185.20L387.5 185.20L388.0 184.87L388.5 185.20L389.0 185.20L389.5 185.20L390.0 185.20L390.5 185.20L391.0 185.20L391.5 184.99L392.0 185.20L392.5 185.20L393.0 185.20L393.5 185.20L394.0 185.20L394.5 185.20L395.0 185.20L395.5 185.20L396.0 185.20L396.5 184.86L397.0 185.20L397.5 185.20L398.0 185.20L398.5 185.20L399.0 185.20L399.5 185.20L400.0 185.20L400.5 185.20L401.0 185.20L401.5 185.20L402.0 185.17L402.5 184.92L403.0 184.41L403.5 184.45L404.0 184.42L404.5 184.50L405.0 184.54L405.5 184.59L406.0 185.17L406.5 185.20L407.0 185.19L407.5 184.47L408.0 183.91L408.5 183.64L409.0 183.87L409.5 184.64L410.0 185.18L410.5 184.77L411.0 184.17L411.5 184.18L412.0 184.19L412.5 184.81L413.0 185.19L413.5 184.98L414.0 185.20L414.5 185.20L415.0 185.20L415.5 185.20L416.0 185.20L416.5 185.20L417.0 185.20L417.5 185.20L418.0 185.20L418.5 185.20L419.0 185.20L419.5 185.20L420.0 185.20L420.5 185.20L421.0 185.20L421.5 185.20L422.0 185.20L422.5 185.08L423.0 185.20L423.5 185.20L424.0 185.20L424.5 185.20L425.0 185.20L425.5 185.20L426.0 185.20L426.5 185.20L427.0 185.20L427.5 185.20L428.0 185.20L428.5 185.20L429.0 185.20L429.5 185.20L430.0 185.14L430.5 185.20L431.0 185.20L431.5 185.20L432.0 185.20L432.5 185.20L433.0 185.20L433.5 185.20L434.0 185.20L434.5 185.20L435.0 185.20L435.5 185.20L436.0 185.20L436.5 185.20L437.0 185.20L437.5 185.20L438.0 185.20L438.5 185.20L439.0 185.07L439.5 185.20L440.0 185.20L440.5 185.20L441.0 185.20L441.5 185.02L442.0 185.20L442.5 185.20L443.0 185.20L443.5 185.20L444.0 185.20L444.5 185.20L445.0 185.20L445.5 185.20L446.0 185.20L446.5 185.20L447.0 185.20L447.5 185.20L448.0 185.20L448.5 185.20L449.0 185.20L449.5 185.20L450.0 185.20L450.5 185.20L451.0 185.12L451.5 185.20L452.0 185.20L452.5 185.20L453.0 185.20L453.5 185.20L454.0 185.20L454.5 184.88L455.0 185.20L455.5 185.20L456.0 185.20L456.5 185.20L457.0 185.20L457.5 185.20L458.0 185.20L458.5 185.20L459.0 185.10L459.5 185.11L460.0 185.20L460.5 185.20L461.0 185.20L461.5 185.18L462.0 184.20L462.5 182.35L463.0 181.71L463.5 179.67L464.0 178.60L464.5 177.01L465.0 175.54L465.5 175.71L466.0 176.28L466.5 175.63L467.0 177.06L467.5 178.99L468.0 181.47L468.5 184.17L469.0 185.10L469.5 185.20L470.0 185.20L470.5 184.99L471.0 185.20L471.5 185.20L472.0 185.20L472.5 185.20L473.0 185.20L473.5 185.20L474.0 185.20L474.5 185.20L475.0 185.20L475.5 185.20L476.0 185.20L476.5 185.04L477.0 185.12L477.5 185.20L478.0 185.20L478.5 185.20L479.0 184.87L479.5 185.20L480.0 185.20L480.5 185.20L481.0 185.20L481.5 185.20L482.0 185.14L482.5 185.20L483.0 184.85L483.5 185.20L484.0 185.20L484.5 185.20L485.0 185.20L485.5 185.20L486.0 185.20L486.5 185.20L487.0 185.20L487.5 185.20L488.0 185.20L488.5 185.20L489.0 185.20L489.5 184.87L490.0 185.20L490.5 184.95L491.0 185.20L491.5 185.20L492.0 185.02L492.5 185.20L493.0 185.20L493.5 185.20L494.0 185.20L494.5 185.20L495.0 185.20L495.5 185.17L496.0 184.99L496.5 185.20L497.0 185.20L497.5 185.20L498.0 185.20L498.5 185.20L499.0 185.20L499.5 185.20L500.0 185.20L500.5 185.20L501.0 185.20L501.5 185.20L502.0 184.90L502.5 185.20L503.0 185.20L503.4 185.2Z" fill="#0d4a22"/>
<text x="328.3" y="197.3" font-size="6.9" text-anchor="end">MPP</text>
<rect x="332.0" y="189.9" width="7.0" height="8.7" fill="#4c9e3f"/>
<line x1="341.0" y1="198.4" x2="503.4" y2="198.4" stroke="#bfe0b5" stroke-width="0.6"/>
<path d="M341 198.6L341.0 198.63L341.5 198.63L342.0 198.63L342.5 198.63L343.0 198.63L343.5 198.63L344.0 198.63L344.5 198.63L345.0 198.63L345.5 198.63L346.0 198.63L346.5 198.63L347.0 198.63L347.5 198.63L348.0 198.63L348.5 198.63L349.0 198.63L349.5 198.63L350.0 198.63L350.5 198.63L351.0 198.63L351.5 198.63L352.0 198.63L352.5 198.63L353.0 198.63L353.5 198.63L354.0 198.63L354.5 198.63L355.0 198.63L355.5 198.63L356.0 198.38L356.5 198.63L357.0 198.63L357.5 198.63L358.0 198.63L358.5 198.63L359.0 198.63L359.5 198.61L360.0 198.63L360.5 198.63L361.0 198.63L361.5 198.63L362.0 198.63L362.5 198.63L363.0 198.63L363.5 198.63L364.0 198.56L364.5 198.63L365.0 198.63L365.5 198.43L366.0 197.38L366.5 196.32L367.0 195.90L367.5 195.88L368.0 195.91L368.5 196.59L369.0 197.88L369.5 198.57L370.0 198.63L370.5 198.63L371.0 198.63L371.5 198.63L372.0 198.63L372.5 198.45L373.0 198.62L373.5 198.63L374.0 198.63L374.5 198.63L375.0 198.63L375.5 198.63L376.0 198.63L376.5 198.63L377.0 198.63L377.5 198.63L378.0 198.63L378.5 198.63L379.0 198.63L379.5 198.63L380.0 198.63L380.5 198.63L381.0 198.63L381.5 198.63L382.0 198.63L382.5 198.63L383.0 198.63L383.5 198.63L384.0 198.63L384.5 198.63L385.0 198.63L385.5 198.63L386.0 198.63L386.5 198.63L387.0 198.37L387.5 198.63L388.0 198.63L388.5 198.63L389.0 198.63L389.5 198.63L390.0 198.63L390.5 198.63L391.0 198.63L391.5 198.63L392.0 198.63L392.5 198.63L393.0 198.63L393.5 198.63L394.0 198.63L394.5 198.63L395.0 198.63L395.5 198.63L396.0 198.63L396.5 198.63L397.0 198.63L397.5 198.63L398.0 198.63L398.5 198.63L399.0 198.63L399.5 198.63L400.0 198.63L400.5 198.63L401.0 198.63L401.5 198.63L402.0 198.63L402.5 198.57L403.0 198.45L403.5 197.58L404.0 197.06L404.5 196.96L405.0 196.97L405.5 197.66L406.0 198.49L406.5 198.63L407.0 198.63L407.5 198.25L408.0 194.44L408.5 194.19L409.0 194.90L409.5 198.26L410.0 198.63L410.5 198.49L411.0 198.11L411.5 197.29L412.0 197.10L412.5 197.26L413.0 198.11L413.5 198.48L414.0 198.63L414.5 198.32L415.0 198.63L415.5 198.63L416.0 198.63L416.5 198.63L417.0 198.63L417.5 198.31L418.0 198.63L418.5 198.63L419.0 198.61L419.5 198.63L420.0 198.63L420.5 198.63L421.0 198.63L421.5 198.61L422.0 198.33L422.5 198.63L423.0 198.63L423.5 198.63L424.0 198.63L424.5 198.63L425.0 198.63L425.5 198.63L426.0 198.63L426.5 198.63L427.0 198.63L427.5 198.63L428.0 198.63L428.5 198.63L429.0 198.63L429.5 198.63L430.0 198.63L430.5 198.63L431.0 198.63L431.5 198.63L432.0 198.63L432.5 198.63L433.0 198.63L433.5 198.63L434.0 198.63L434.5 198.63L435.0 198.63L435.5 198.63L436.0 198.63L436.5 198.63L437.0 198.63L437.5 198.63L438.0 198.63L438.5 198.63L439.0 198.48L439.5 198.45L440.0 198.63L440.5 198.63L441.0 198.63L441.5 198.63L442.0 198.63L442.5 198.63L443.0 198.63L443.5 198.40L444.0 198.63L444.5 198.63L445.0 198.63L445.5 198.63L446.0 198.63L446.5 198.63L447.0 198.63L447.5 198.63L448.0 198.63L448.5 198.63L449.0 198.63L449.5 198.29L450.0 198.63L450.5 198.32L451.0 198.63L451.5 198.63L452.0 198.48L452.5 198.63L453.0 198.63L453.5 198.63L454.0 198.63L454.5 198.63L455.0 198.63L455.5 198.63L456.0 198.63L456.5 198.63L457.0 198.63L457.5 198.39L458.0 198.63L458.5 198.63L459.0 198.63L459.5 198.63L460.0 198.63L460.5 198.54L461.0 198.58L461.5 198.63L462.0 198.63L462.5 198.60L463.0 198.63L463.5 198.63L464.0 198.28L464.5 195.27L465.0 191.48L465.5 190.28L466.0 189.57L466.5 190.04L467.0 191.89L467.5 194.21L468.0 195.71L468.5 195.73L469.0 195.86L469.5 197.61L470.0 198.61L470.5 198.63L471.0 198.63L471.5 198.47L472.0 198.63L472.5 198.63L473.0 198.63L473.5 198.63L474.0 198.36L474.5 198.35L475.0 198.63L475.5 198.63L476.0 198.63L476.5 198.63L477.0 198.63L477.5 198.63L478.0 198.31L478.5 198.63L479.0 198.63L479.5 198.63L480.0 198.63L480.5 198.63L481.0 198.63L481.5 198.63L482.0 198.63L482.5 198.63L483.0 198.63L483.5 198.63L484.0 198.63L484.5 198.63L485.0 198.63L485.5 198.63L486.0 198.46L486.5 198.63L487.0 198.63L487.5 198.63L488.0 198.63L488.5 198.63L489.0 198.63L489.5 198.63L490.0 198.63L490.5 198.63L491.0 198.63L491.5 198.63L492.0 198.44L492.5 198.56L493.0 198.63L493.5 198.63L494.0 198.63L494.5 198.63L495.0 198.63L495.5 198.63L496.0 198.63L496.5 198.49L497.0 198.63L497.5 198.63L498.0 198.63L498.5 198.63L499.0 198.60L499.5 198.63L500.0 198.63L500.5 198.63L501.0 198.63L501.5 198.63L502.0 198.63L502.5 198.63L503.0 198.63L503.4 198.6Z" fill="#4c9e3f"/>
<text x="328.3" y="210.8" font-size="6.9" text-anchor="end">LMPP</text>
<rect x="332.0" y="203.4" width="7.0" height="8.7" fill="#17a896"/>
<line x1="341.0" y1="211.8" x2="503.4" y2="211.8" stroke="#7fcfc4" stroke-width="0.6"/>
<path d="M341 212.1L341.0 212.06L341.5 212.06L342.0 212.06L342.5 212.06L343.0 212.00L343.5 212.06L344.0 212.06L344.5 212.06L345.0 212.06L345.5 212.06L346.0 212.06L346.5 212.06L347.0 212.06L347.5 212.06L348.0 212.06L348.5 212.06L349.0 212.06L349.5 212.06L350.0 212.06L350.5 212.06L351.0 212.06L351.5 212.06L352.0 212.06L352.5 212.06L353.0 212.06L353.5 212.06L354.0 212.06L354.5 212.06L355.0 211.99L355.5 212.06L356.0 212.06L356.5 212.06L357.0 212.06L357.5 212.06L358.0 212.06L358.5 212.06L359.0 212.06L359.5 212.06L360.0 212.06L360.5 212.06L361.0 212.06L361.5 211.90L362.0 212.06L362.5 212.06L363.0 211.73L363.5 212.06L364.0 211.71L364.5 212.06L365.0 212.06L365.5 211.21L366.0 207.28L366.5 204.77L367.0 204.89L367.5 204.91L368.0 207.33L368.5 209.94L369.0 208.75L369.5 208.84L370.0 208.83L370.5 210.96L371.0 212.04L371.5 212.06L372.0 212.06L372.5 211.83L373.0 212.06L373.5 211.90L374.0 211.94L374.5 210.84L375.0 210.67L375.5 210.95L376.0 211.95L376.5 212.06L377.0 212.06L377.5 212.06L378.0 212.06L378.5 212.06L379.0 212.06L379.5 212.06L380.0 212.06L380.5 211.84L381.0 212.06L381.5 212.06L382.0 212.06L382.5 212.06L383.0 212.06L383.5 212.06L384.0 212.06L384.5 212.06L385.0 212.06L385.5 212.06L386.0 212.06L386.5 212.06L387.0 212.06L387.5 212.06L388.0 212.06L388.5 212.06L389.0 212.06L389.5 212.06L390.0 212.06L390.5 212.06L391.0 212.06L391.5 212.06L392.0 212.06L392.5 212.06L393.0 212.06L393.5 212.06L394.0 212.06L394.5 212.06L395.0 212.06L395.5 212.06L396.0 212.06L396.5 212.06L397.0 212.06L397.5 212.06L398.0 212.06L398.5 212.06L399.0 212.06L399.5 211.84L400.0 212.06L400.5 212.06L401.0 212.06L401.5 212.06L402.0 212.06L402.5 212.06L403.0 212.06L403.5 211.93L404.0 211.13L404.5 210.43L405.0 210.49L405.5 210.48L406.0 211.04L406.5 211.93L407.0 212.06L407.5 212.06L408.0 212.06L408.5 212.05L409.0 211.29L409.5 210.01L410.0 210.18L410.5 210.23L411.0 211.30L411.5 212.05L412.0 212.06L412.5 211.79L413.0 212.06L413.5 212.02L414.0 212.06L414.5 212.06L415.0 212.06L415.5 212.06L416.0 212.06L416.5 212.06L417.0 212.06L417.5 212.06L418.0 212.06L418.5 211.84L419.0 212.06L419.5 212.06L420.0 212.06L420.5 212.06L421.0 212.06L421.5 212.06L422.0 212.06L422.5 212.06L423.0 212.06L423.5 212.06L424.0 212.06L424.5 212.06L425.0 212.06L425.5 212.06L426.0 212.06L426.5 212.06L427.0 212.06L427.5 212.06L428.0 212.06L428.5 212.06L429.0 212.06L429.5 212.06L430.0 212.06L430.5 211.78L431.0 212.06L431.5 212.06L432.0 212.06L432.5 212.06L433.0 212.06L433.5 212.06L434.0 212.06L434.5 212.06L435.0 211.88L435.5 212.06L436.0 212.06L436.5 212.06L437.0 212.06L437.5 212.06L438.0 212.06L438.5 212.06L439.0 212.06L439.5 212.06L440.0 211.76L440.5 212.06L441.0 212.02L441.5 212.06L442.0 212.06L442.5 212.06L443.0 212.06L443.5 212.06L444.0 212.06L444.5 212.06L445.0 212.00L445.5 211.74L446.0 211.96L446.5 212.06L447.0 212.06L447.5 212.06L448.0 212.06L448.5 211.91L449.0 212.06L449.5 212.06L450.0 212.06L450.5 212.06L451.0 212.06L451.5 212.06L452.0 212.06L452.5 212.06L453.0 212.06L453.5 211.77L454.0 212.06L454.5 212.06L455.0 212.06L455.5 211.74L456.0 212.01L456.5 212.06L457.0 212.02L457.5 212.06L458.0 212.06L458.5 211.75L459.0 212.06L459.5 212.06L460.0 212.06L460.5 212.06L461.0 212.06L461.5 212.02L462.0 212.06L462.5 212.06L463.0 212.01L463.5 211.31L464.0 208.70L464.5 205.17L465.0 203.81L465.5 203.06L466.0 202.62L466.5 202.85L467.0 203.24L467.5 205.53L468.0 208.67L468.5 211.31L469.0 212.00L469.5 212.06L470.0 212.06L470.5 212.06L471.0 212.06L471.5 212.06L472.0 212.06L472.5 212.06L473.0 212.06L473.5 212.06L474.0 212.06L474.5 212.06L475.0 212.06L475.5 212.06L476.0 212.06L476.5 212.06L477.0 212.06L477.5 212.06L478.0 212.06L478.5 212.06L479.0 212.06L479.5 212.06L480.0 212.06L480.5 212.06L481.0 212.06L481.5 212.06L482.0 212.06L482.5 212.06L483.0 212.06L483.5 212.06L484.0 211.83L484.5 211.78L485.0 212.06L485.5 212.06L486.0 212.06L486.5 212.06L487.0 212.06L487.5 212.06L488.0 212.06L488.5 212.06L489.0 212.06L489.5 212.06L490.0 212.06L490.5 212.06L491.0 212.06L491.5 211.73L492.0 212.06L492.5 212.06L493.0 212.06L493.5 211.88L494.0 212.06L494.5 212.06L495.0 212.06L495.5 211.91L496.0 212.06L496.5 212.06L497.0 212.06L497.5 211.78L498.0 212.06L498.5 212.06L499.0 212.06L499.5 212.06L500.0 212.06L500.5 212.06L501.0 212.06L501.5 212.06L502.0 212.06L502.5 212.06L503.0 212.06L503.4 212.1Z" fill="#17a896"/>
<text x="328.3" y="224.2" font-size="6.9" text-anchor="end">CMP</text>
<rect x="332.0" y="216.8" width="7.0" height="8.7" fill="#fbc07e"/>
<line x1="341.0" y1="225.2" x2="503.4" y2="225.2" stroke="#fbd4a8" stroke-width="0.6"/>
<path d="M341 225.5L341.0 225.49L341.5 225.49L342.0 225.21L342.5 225.49L343.0 225.49L343.5 225.49L344.0 225.49L344.5 225.49L345.0 225.49L345.5 225.49L346.0 225.49L346.5 225.49L347.0 225.49L347.5 225.49L348.0 225.49L348.5 225.49L349.0 225.49L349.5 225.49L350.0 225.49L350.5 225.49L351.0 225.49L351.5 225.49L352.0 225.24L352.5 225.49L353.0 225.49L353.5 225.49L354.0 225.49L354.5 225.49L355.0 225.49L355.5 225.49L356.0 225.49L356.5 225.49L357.0 225.49L357.5 225.49L358.0 225.49L358.5 225.49L359.0 225.49L359.5 225.49L360.0 225.49L360.5 225.49L361.0 225.49L361.5 225.27L362.0 225.42L362.5 225.49L363.0 225.14L363.5 225.49L364.0 225.49L364.5 225.49L365.0 225.17L365.5 225.07L366.0 222.95L366.5 219.09L367.0 216.96L367.5 216.21L368.0 217.21L368.5 217.20L369.0 221.24L369.5 224.78L370.0 225.48L370.5 225.49L371.0 225.49L371.5 225.49L372.0 225.49L372.5 225.49L373.0 225.49L373.5 225.49L374.0 225.49L374.5 225.49L375.0 225.49L375.5 225.49L376.0 225.49L376.5 225.49L377.0 225.35L377.5 225.49L378.0 225.49L378.5 225.49L379.0 225.49L379.5 225.49L380.0 225.49L380.5 225.49L381.0 225.49L381.5 225.49L382.0 225.33L382.5 225.49L383.0 225.49L383.5 225.42L384.0 225.49L384.5 225.49L385.0 225.49L385.5 225.49L386.0 225.49L386.5 225.45L387.0 225.49L387.5 225.21L388.0 225.49L388.5 225.49L389.0 225.49L389.5 225.49L390.0 225.49L390.5 225.49L391.0 225.49L391.5 225.49L392.0 225.49L392.5 225.49L393.0 225.28L393.5 225.49L394.0 225.49L394.5 225.49L395.0 225.49L395.5 225.49L396.0 225.21L396.5 225.49L397.0 225.49L397.5 225.49L398.0 225.49L398.5 225.49L399.0 225.49L399.5 225.49L400.0 225.49L400.5 225.49L401.0 225.49L401.5 225.49L402.0 225.49L402.5 225.49L403.0 225.49L403.5 225.48L404.0 224.63L404.5 223.46L405.0 223.16L405.5 223.19L406.0 224.58L406.5 225.46L407.0 224.51L407.5 223.06L408.0 222.58L408.5 222.47L409.0 224.41L409.5 225.46L410.0 224.57L410.5 223.15L411.0 222.92L411.5 223.02L412.0 224.51L412.5 225.46L413.0 224.63L413.5 223.18L414.0 222.98L414.5 223.34L415.0 224.59L415.5 225.46L416.0 224.85L416.5 223.72L417.0 223.64L417.5 223.83L418.0 224.83L418.5 225.48L419.0 225.49L419.5 225.49L420.0 225.49L420.5 225.49L421.0 225.49L421.5 225.49L422.0 225.49L422.5 225.49L423.0 225.49L423.5 225.49L424.0 225.49L424.5 225.49L425.0 225.49L425.5 225.49L426.0 225.49L426.5 225.49L427.0 225.49L427.5 225.49L428.0 225.49L428.5 225.49L429.0 225.49L429.5 225.37L430.0 225.49L430.5 225.49L431.0 225.49L431.5 225.49L432.0 225.49L432.5 225.49L433.0 225.49L433.5 225.49L434.0 225.49L434.5 225.45L435.0 225.49L435.5 225.49L436.0 225.44L436.5 225.44L437.0 225.49L437.5 225.49L438.0 225.49L438.5 225.49L439.0 225.49L439.5 225.49L440.0 225.49L440.5 225.49L441.0 225.49L441.5 225.49L442.0 225.49L442.5 225.49L443.0 225.49L443.5 225.49L444.0 225.49L444.5 225.49L445.0 225.49L445.5 225.49L446.0 225.49L446.5 225.49L447.0 225.49L447.5 225.49L448.0 225.25L448.5 225.34L449.0 225.49L449.5 225.49L450.0 225.17L450.5 225.49L451.0 225.49L451.5 225.22L452.0 225.33L452.5 225.32L453.0 225.49L453.5 225.49L454.0 225.49L454.5 225.49L455.0 225.15L455.5 225.37L456.0 225.49L456.5 225.49L457.0 225.49L457.5 225.49L458.0 225.49L458.5 225.49L459.0 225.49L459.5 225.49L460.0 225.49L460.5 225.49L461.0 225.49L461.5 225.49L462.0 225.49L462.5 225.26L463.0 225.44L463.5 224.72L464.0 222.45L464.5 218.66L465.0 217.80L465.5 217.33L466.0 217.20L466.5 217.15L467.0 216.93L467.5 219.14L468.0 221.83L468.5 224.79L469.0 225.43L469.5 225.29L470.0 225.49L470.5 225.34L471.0 225.49L471.5 225.49L472.0 225.49L472.5 225.49L473.0 225.49L473.5 225.49L474.0 225.49L474.5 225.49L475.0 225.49L475.5 225.49L476.0 225.49L476.5 225.49L477.0 225.49L477.5 225.49L478.0 225.49L478.5 225.49L479.0 225.49L479.5 225.49L480.0 225.49L480.5 225.49L481.0 225.49L481.5 225.49L482.0 225.48L482.5 225.49L483.0 225.49L483.5 225.49L484.0 225.49L484.5 225.20L485.0 225.49L485.5 225.20L486.0 225.49L486.5 225.33L487.0 225.49L487.5 225.49L488.0 225.17L488.5 225.49L489.0 225.49L489.5 225.49L490.0 225.49L490.5 225.49L491.0 225.49L491.5 225.49L492.0 225.41L492.5 225.49L493.0 225.22L493.5 225.49L494.0 225.49L494.5 225.49L495.0 225.49L495.5 225.49L496.0 225.49L496.5 225.49L497.0 225.49L497.5 225.49L498.0 225.49L498.5 225.49L499.0 225.49L499.5 225.49L500.0 225.49L500.5 225.49L501.0 225.49L501.5 225.49L502.0 225.49L502.5 225.49L503.0 225.49L503.4 225.5Z" fill="#fbc07e"/>
<text x="328.3" y="237.6" font-size="6.9" text-anchor="end">GMP</text>
<rect x="332.0" y="230.2" width="7.0" height="8.7" fill="#f6a100"/>
<line x1="341.0" y1="238.7" x2="503.4" y2="238.7" stroke="#f8c46a" stroke-width="0.6"/>
<path d="M341 238.9L341.0 238.92L341.5 238.92L342.0 238.92L342.5 238.92L343.0 238.92L343.5 238.92L344.0 238.92L344.5 238.92L345.0 238.92L345.5 238.69L346.0 238.92L346.5 238.92L347.0 238.92L347.5 238.67L348.0 238.69L348.5 238.92L349.0 238.92L349.5 238.92L350.0 238.92L350.5 238.92L351.0 238.92L351.5 238.92L352.0 238.92L352.5 238.92L353.0 238.70L353.5 238.92L354.0 238.92L354.5 238.92L355.0 238.92L355.5 238.69L356.0 238.92L356.5 238.75L357.0 238.92L357.5 238.92L358.0 238.92L358.5 238.92L359.0 238.92L359.5 238.92L360.0 238.92L360.5 238.92L361.0 238.84L361.5 238.92L362.0 238.92L362.5 238.92L363.0 238.92L363.5 238.92L364.0 238.92L364.5 238.92L365.0 238.89L365.5 237.93L366.0 234.01L366.5 231.03L367.0 230.33L367.5 230.41L368.0 230.71L368.5 233.56L369.0 237.42L369.5 238.84L370.0 238.92L370.5 238.92L371.0 238.92L371.5 238.92L372.0 238.92L372.5 238.92L373.0 238.92L373.5 238.92L374.0 238.92L374.5 238.92L375.0 238.92L375.5 238.92L376.0 238.92L376.5 238.92L377.0 238.92L377.5 238.92L378.0 238.75L378.5 238.68L379.0 238.92L379.5 238.92L380.0 238.92L380.5 238.61L381.0 238.92L381.5 238.92L382.0 238.92L382.5 238.92L383.0 238.92L383.5 238.92L384.0 238.92L384.5 238.92L385.0 238.92L385.5 238.92L386.0 238.92L386.5 238.92L387.0 238.92L387.5 238.92L388.0 238.92L388.5 238.92L389.0 238.82L389.5 238.87L390.0 237.75L390.5 237.03L391.0 236.90L391.5 237.07L392.0 238.43L392.5 238.92L393.0 238.92L393.5 238.92L394.0 238.92L394.5 238.81L395.0 238.92L395.5 238.92L396.0 238.92L396.5 238.92L397.0 238.92L397.5 238.92L398.0 238.92L398.5 238.92L399.0 238.92L399.5 238.92L400.0 238.92L400.5 238.75L401.0 238.92L401.5 238.92L402.0 238.92L402.5 238.92L403.0 238.92L403.5 238.92L404.0 238.92L404.5 238.91L405.0 238.18L405.5 237.04L406.0 236.92L406.5 237.16L407.0 238.17L407.5 238.89L408.0 238.13L408.5 236.97L409.0 236.56L409.5 236.71L410.0 238.15L410.5 238.91L411.0 238.91L411.5 238.17L412.0 236.86L412.5 236.63L413.0 236.84L413.5 238.05L414.0 238.91L414.5 238.92L415.0 238.63L415.5 238.92L416.0 238.92L416.5 238.92L417.0 238.92L417.5 238.60L418.0 238.58L418.5 238.92L419.0 238.92L419.5 238.92L420.0 238.92L420.5 238.92L421.0 238.92L421.5 238.92L422.0 238.65L422.5 238.92L423.0 238.92L423.5 238.92L424.0 238.87L424.5 238.92L425.0 238.92L425.5 238.76L426.0 238.92L426.5 238.92L427.0 238.92L427.5 238.92L428.0 238.72L428.5 238.92L429.0 238.57L429.5 238.92L430.0 238.92L430.5 238.92L431.0 238.92L431.5 238.79L432.0 238.92L432.5 238.92L433.0 238.92L433.5 238.92L434.0 238.92L434.5 238.92L435.0 238.92L435.5 238.92L436.0 238.92L436.5 238.92L437.0 238.92L437.5 238.92L438.0 238.92L438.5 238.92L439.0 238.92L439.5 238.92L440.0 238.92L440.5 238.92L441.0 238.92L441.5 238.92L442.0 238.92L442.5 238.92L443.0 238.92L443.5 238.92L444.0 238.92L444.5 238.58L445.0 238.92L445.5 238.92L446.0 238.92L446.5 238.92L447.0 238.92L447.5 238.92L448.0 238.64L448.5 238.92L449.0 238.92L449.5 238.92L450.0 238.92L450.5 238.60L451.0 238.92L451.5 238.92L452.0 238.92L452.5 238.92L453.0 238.92L453.5 238.68L454.0 238.92L454.5 238.92L455.0 238.92L455.5 238.73L456.0 238.92L456.5 238.92L457.0 238.92L457.5 238.92L458.0 238.92L458.5 238.92L459.0 238.92L459.5 238.92L460.0 238.92L460.5 238.92L461.0 238.92L461.5 238.92L462.0 238.92L462.5 238.92L463.0 238.64L463.5 238.17L464.0 235.76L464.5 232.99L465.0 230.66L465.5 229.30L466.0 230.72L466.5 230.18L467.0 230.11L467.5 232.83L468.0 235.72L468.5 238.17L469.0 238.86L469.5 238.92L470.0 238.92L470.5 238.92L471.0 238.92L471.5 238.92L472.0 238.92L472.5 238.92L473.0 238.92L473.5 238.92L474.0 238.92L474.5 238.92L475.0 238.92L475.5 238.92L476.0 238.92L476.5 238.92L477.0 238.92L477.5 238.92L478.0 238.92L478.5 238.92L479.0 238.61L479.5 238.92L480.0 238.92L480.5 238.92L481.0 238.92L481.5 238.92L482.0 238.92L482.5 238.92L483.0 238.92L483.5 238.92L484.0 238.92L484.5 238.92L485.0 238.92L485.5 238.92L486.0 238.66L486.5 238.92L487.0 238.92L487.5 238.92L488.0 238.92L488.5 238.92L489.0 238.89L489.5 238.92L490.0 238.92L490.5 238.92L491.0 238.92L491.5 238.92L492.0 238.92L492.5 238.92L493.0 238.92L493.5 238.92L494.0 238.92L494.5 238.92L495.0 238.92L495.5 238.92L496.0 238.92L496.5 238.92L497.0 238.92L497.5 238.92L498.0 238.92L498.5 238.79L499.0 238.09L499.5 237.59L500.0 237.43L500.5 237.64L501.0 238.13L501.5 238.80L502.0 238.92L502.5 238.92L503.0 238.92L503.4 238.9Z" fill="#f6a100"/>
<text x="328.3" y="251.0" font-size="6.9" text-anchor="end">MEP</text>
<rect x="332.0" y="243.7" width="7.0" height="8.7" fill="#e8384f"/>
<line x1="341.0" y1="252.1" x2="503.4" y2="252.1" stroke="#ee7d8b" stroke-width="0.6"/>
<path d="M341 252.3L341.0 252.35L341.5 252.30L342.0 252.35L342.5 252.35L343.0 252.35L343.5 252.35L344.0 252.35L344.5 252.35L345.0 252.35L345.5 252.35L346.0 252.35L346.5 252.35L347.0 252.35L347.5 252.35L348.0 252.35L348.5 252.35L349.0 252.35L349.5 252.35L350.0 252.35L350.5 252.35L351.0 252.35L351.5 252.35L352.0 252.35L352.5 252.35L353.0 252.35L353.5 252.35L354.0 252.35L354.5 252.35L355.0 252.35L355.5 252.35L356.0 252.35L356.5 252.32L357.0 251.95L357.5 251.32L358.0 251.05L358.5 251.07L359.0 251.06L359.5 251.20L360.0 251.68L360.5 252.25L361.0 252.35L361.5 252.34L362.0 252.35L362.5 252.35L363.0 252.35L363.5 252.35L364.0 252.35L364.5 252.35L365.0 252.20L365.5 252.28L366.0 251.31L366.5 249.06L367.0 247.18L367.5 247.05L368.0 247.11L368.5 247.83L369.0 248.40L369.5 251.04L370.0 252.20L370.5 252.35L371.0 252.35L371.5 252.35L372.0 252.35L372.5 252.35L373.0 252.07L373.5 252.09L374.0 252.35L374.5 252.35L375.0 252.35L375.5 252.35L376.0 252.35L376.5 252.35L377.0 252.10L377.5 252.35L378.0 252.35L378.5 252.35L379.0 252.33L379.5 252.35L380.0 252.35L380.5 252.35L381.0 252.35L381.5 252.35L382.0 252.35L382.5 252.35L383.0 252.35L383.5 252.35L384.0 252.35L384.5 252.35L385.0 252.35L385.5 252.35L386.0 252.35L386.5 252.35L387.0 252.35L387.5 252.35L388.0 252.35L388.5 252.35L389.0 252.11L389.5 252.35L390.0 252.35L390.5 252.35L391.0 252.35L391.5 252.35L392.0 252.35L392.5 252.35L393.0 252.21L393.5 252.35L394.0 252.35L394.5 252.35L395.0 252.35L395.5 252.35L396.0 252.35L396.5 252.35L397.0 252.35L397.5 252.28L398.0 252.35L398.5 252.35L399.0 252.35L399.5 252.35L400.0 252.35L400.5 252.35L401.0 252.35L401.5 252.14L402.0 252.30L402.5 252.35L403.0 252.35L403.5 252.35L404.0 252.25L404.5 250.90L405.0 249.14L405.5 248.22L406.0 248.49L406.5 248.76L407.0 250.65L407.5 252.15L408.0 252.35L408.5 252.35L409.0 252.35L409.5 252.35L410.0 252.35L410.5 252.35L411.0 252.35L411.5 252.35L412.0 252.10L412.5 252.35L413.0 252.35L413.5 252.30L414.0 252.35L414.5 252.35L415.0 252.35L415.5 252.35L416.0 252.35L416.5 252.35L417.0 252.20L417.5 249.77L418.0 248.66L418.5 248.46L419.0 250.29L419.5 252.30L420.0 252.35L420.5 252.35L421.0 252.35L421.5 252.01L422.0 252.35L422.5 252.35L423.0 252.35L423.5 252.35L424.0 252.19L424.5 252.35L425.0 252.35L425.5 252.02L426.0 250.90L426.5 248.32L427.0 248.61L427.5 250.20L428.0 252.33L428.5 252.35L429.0 252.35L429.5 252.35L430.0 252.10L430.5 252.35L431.0 252.34L431.5 249.24L432.0 243.55L432.5 243.94L433.0 247.11L433.5 252.29L434.0 252.35L434.5 252.13L435.0 252.35L435.5 252.35L436.0 252.35L436.5 252.35L437.0 252.35L437.5 252.35L438.0 252.35L438.5 252.35L439.0 252.35L439.5 252.35L440.0 252.35L440.5 252.35L441.0 252.35L441.5 252.35L442.0 252.35L442.5 252.35L443.0 252.35L443.5 252.35L444.0 252.35L444.5 252.19L445.0 252.02L445.5 252.35L446.0 252.35L446.5 252.08L447.0 252.35L447.5 252.35L448.0 252.35L448.5 252.35L449.0 252.35L449.5 252.26L450.0 252.35L450.5 252.35L451.0 252.09L451.5 252.35L452.0 252.35L452.5 252.17L453.0 252.35L453.5 252.35L454.0 252.35L454.5 252.35L455.0 252.35L455.5 252.35L456.0 252.35L456.5 252.35L457.0 252.09L457.5 252.27L458.0 252.35L458.5 252.35L459.0 252.35L459.5 252.35L460.0 252.35L460.5 252.23L461.0 252.35L461.5 252.02L462.0 252.08L462.5 250.86L463.0 247.75L463.5 245.49L464.0 242.85L464.5 242.61L465.0 241.85L465.5 241.85L466.0 242.98L466.5 242.21L467.0 244.70L467.5 247.36L468.0 250.27L468.5 251.91L469.0 252.21L469.5 251.16L470.0 250.66L470.5 250.49L471.0 250.84L471.5 252.13L472.0 252.35L472.5 252.35L473.0 252.35L473.5 252.35L474.0 252.35L474.5 252.35L475.0 252.35L475.5 252.35L476.0 252.35L476.5 252.35L477.0 252.35L477.5 252.35L478.0 252.35L478.5 252.35L479.0 252.35L479.5 252.35L480.0 252.35L480.5 252.35L481.0 252.35L481.5 252.35L482.0 252.35L482.5 252.35L483.0 252.35L483.5 252.35L484.0 252.35L484.5 252.35L485.0 252.35L485.5 252.35L486.0 252.35L486.5 252.04L487.0 252.35L487.5 252.35L488.0 252.35L488.5 252.35L489.0 252.35L489.5 252.35L490.0 252.35L490.5 252.35L491.0 252.35L491.5 252.31L492.0 252.35L492.5 252.35L493.0 252.35L493.5 252.35L494.0 252.35L494.5 252.35L495.0 252.35L495.5 252.35L496.0 252.35L496.5 252.35L497.0 252.35L497.5 252.35L498.0 252.35L498.5 252.35L499.0 252.35L499.5 252.35L500.0 252.35L500.5 252.33L501.0 252.35L501.5 252.35L502.0 252.35L502.5 252.35L503.0 252.08L503.4 252.3Z" fill="#e8384f"/>
<text x="328.3" y="264.5" font-size="6.9" text-anchor="end">CLP</text>
<rect x="332.0" y="257.1" width="7.0" height="8.7" fill="#92d5e6"/>
<line x1="341.0" y1="265.5" x2="503.4" y2="265.5" stroke="#b9e3ee" stroke-width="0.6"/>
<path d="M341 265.8L341.0 265.78L341.5 265.67L342.0 265.78L342.5 265.78L343.0 265.78L343.5 265.78L344.0 265.78L344.5 265.78L345.0 265.78L345.5 265.78L346.0 265.78L346.5 265.75L347.0 265.78L347.5 265.78L348.0 265.78L348.5 265.78L349.0 265.78L349.5 265.78L350.0 265.78L350.5 265.47L351.0 265.78L351.5 265.78L352.0 265.78L352.5 265.78L353.0 265.78L353.5 265.45L354.0 265.78L354.5 265.78L355.0 265.78L355.5 265.78L356.0 265.78L356.5 265.78L357.0 265.78L357.5 265.78L358.0 265.78L358.5 265.78L359.0 265.78L359.5 265.78L360.0 265.51L360.5 263.05L361.0 262.38L361.5 263.09L362.0 265.52L362.5 265.78L363.0 265.78L363.5 265.78L364.0 265.78L364.5 265.78L365.0 265.78L365.5 265.75L366.0 264.96L366.5 262.24L367.0 259.95L367.5 258.83L368.0 258.80L368.5 259.70L369.0 261.52L369.5 264.63L370.0 265.72L370.5 265.78L371.0 265.78L371.5 265.78L372.0 265.47L372.5 262.65L373.0 261.97L373.5 262.64L374.0 265.48L374.5 265.78L375.0 265.78L375.5 265.77L376.0 265.78L376.5 265.78L377.0 265.78L377.5 265.50L378.0 265.78L378.5 265.78L379.0 265.78L379.5 265.78L380.0 265.78L380.5 265.78L381.0 265.78L381.5 265.78L382.0 265.78L382.5 265.78L383.0 265.78L383.5 265.76L384.0 265.78L384.5 265.78L385.0 265.49L385.5 265.78L386.0 265.78L386.5 265.78L387.0 265.58L387.5 265.78L388.0 265.78L388.5 265.78L389.0 265.78L389.5 265.78L390.0 265.78L390.5 265.78L391.0 265.78L391.5 265.78L392.0 265.78L392.5 265.78L393.0 265.78L393.5 265.78L394.0 265.78L394.5 265.72L395.0 265.78L395.5 265.78L396.0 265.78L396.5 265.78L397.0 265.78L397.5 265.45L398.0 265.78L398.5 265.78L399.0 265.56L399.5 265.71L400.0 265.78L400.5 265.78L401.0 265.78L401.5 265.78L402.0 265.78L402.5 265.78L403.0 265.78L403.5 265.78L404.0 265.78L404.5 265.78L405.0 265.78L405.5 265.58L406.0 265.28L406.5 264.17L407.0 264.40L407.5 264.44L408.0 265.27L408.5 265.77L409.0 265.78L409.5 265.78L410.0 265.78L410.5 265.78L411.0 265.78L411.5 265.78L412.0 265.78L412.5 265.78L413.0 265.78L413.5 265.78L414.0 265.78L414.5 265.78L415.0 265.78L415.5 265.78L416.0 265.78L416.5 265.78L417.0 265.69L417.5 265.78L418.0 265.78L418.5 265.78L419.0 265.78L419.5 265.78L420.0 265.78L420.5 265.78L421.0 265.45L421.5 265.78L422.0 265.78L422.5 265.78L423.0 265.78L423.5 265.78L424.0 265.78L424.5 265.78L425.0 265.78L425.5 265.78L426.0 265.78L426.5 265.78L427.0 265.61L427.5 265.78L428.0 265.44L428.5 265.78L429.0 265.78L429.5 265.78L430.0 265.67L430.5 265.78L431.0 265.50L431.5 265.49L432.0 265.76L432.5 265.78L433.0 265.78L433.5 265.78L434.0 265.78L434.5 265.78L435.0 265.78L435.5 265.78L436.0 265.78L436.5 265.78L437.0 265.78L437.5 265.78L438.0 265.78L438.5 265.78L439.0 265.78L439.5 265.78L440.0 265.78L440.5 265.78L441.0 265.78L441.5 265.78L442.0 265.78L442.5 265.63L443.0 265.69L443.5 265.65L444.0 265.78L444.5 265.78L445.0 265.78L445.5 265.78L446.0 265.78L446.5 265.78L447.0 265.78L447.5 265.78L448.0 265.78L448.5 265.78L449.0 265.69L449.5 265.78L450.0 265.78L450.5 265.78L451.0 265.78L451.5 265.78L452.0 265.78L452.5 265.78L453.0 265.78L453.5 265.78L454.0 265.78L454.5 265.53L455.0 265.78L455.5 265.78L456.0 265.70L456.5 265.78L457.0 265.78L457.5 265.78L458.0 265.78L458.5 265.78L459.0 265.57L459.5 264.15L460.0 263.30L460.5 263.52L461.0 263.83L461.5 265.47L462.0 265.78L462.5 265.78L463.0 265.78L463.5 265.78L464.0 265.67L464.5 264.49L465.0 261.59L465.5 258.57L466.0 257.55L466.5 258.09L467.0 256.85L467.5 258.24L468.0 260.37L468.5 263.53L469.0 265.20L469.5 265.77L470.0 265.78L470.5 265.78L471.0 265.78L471.5 265.78L472.0 265.78L472.5 265.78L473.0 265.44L473.5 262.64L474.0 262.20L474.5 262.35L475.0 265.48L475.5 265.78L476.0 265.78L476.5 265.78L477.0 265.78L477.5 265.78L478.0 265.78L478.5 265.78L479.0 265.78L479.5 265.78L480.0 265.78L480.5 265.78L481.0 265.65L481.5 265.78L482.0 265.78L482.5 265.78L483.0 265.78L483.5 265.78L484.0 265.61L484.5 265.78L485.0 265.66L485.5 265.78L486.0 265.78L486.5 265.78L487.0 265.78L487.5 265.54L488.0 265.78L488.5 265.66L489.0 265.78L489.5 265.78L490.0 265.78L490.5 265.78L491.0 265.78L491.5 265.78L492.0 265.78L492.5 265.78L493.0 265.78L493.5 265.78L494.0 265.78L494.5 265.66L495.0 265.78L495.5 265.78L496.0 265.78L496.5 265.78L497.0 265.68L497.5 265.78L498.0 265.78L498.5 265.78L499.0 265.78L499.5 265.78L500.0 265.78L500.5 265.78L501.0 265.78L501.5 265.78L502.0 265.78L502.5 265.78L503.0 265.78L503.4 265.8Z" fill="#92d5e6"/>
<text x="328.3" y="277.9" font-size="6.9" text-anchor="end">pDC</text>
<rect x="332.0" y="270.5" width="7.0" height="8.7" fill="#bf8fd6"/>
<line x1="341.0" y1="279.0" x2="503.4" y2="279.0" stroke="#cfb0e2" stroke-width="0.6"/>
<path d="M341 279.2L341.0 279.21L341.5 279.21L342.0 279.21L342.5 279.21L343.0 279.21L343.5 279.21L344.0 278.97L344.5 279.21L345.0 279.21L345.5 279.21L346.0 279.21L346.5 279.21L347.0 279.21L347.5 279.21L348.0 279.21L348.5 279.21L349.0 279.21L349.5 279.21L350.0 279.21L350.5 279.21L351.0 279.21L351.5 279.21L352.0 279.21L352.5 279.21L353.0 278.90L353.5 279.21L354.0 279.21L354.5 279.16L355.0 278.89L355.5 279.21L356.0 279.21L356.5 279.21L357.0 279.21L357.5 278.91L358.0 277.96L358.5 277.74L359.0 277.95L359.5 278.51L360.0 279.18L360.5 279.07L361.0 279.21L361.5 279.21L362.0 279.21L362.5 279.21L363.0 279.21L363.5 279.21L364.0 279.21L364.5 279.21L365.0 279.17L365.5 278.01L366.0 273.36L366.5 269.82L367.0 270.04L367.5 269.52L368.0 269.46L368.5 272.29L369.0 277.39L369.5 278.84L370.0 279.15L370.5 278.66L371.0 278.02L371.5 277.81L372.0 277.93L372.5 277.81L373.0 278.05L373.5 278.71L374.0 278.82L374.5 279.21L375.0 279.21L375.5 279.21L376.0 278.92L376.5 279.21L377.0 279.21L377.5 279.21L378.0 279.21L378.5 279.21L379.0 279.21L379.5 279.21L380.0 279.21L380.5 279.21L381.0 279.21L381.5 279.21L382.0 279.21L382.5 279.21L383.0 279.21L383.5 279.21L384.0 279.21L384.5 279.21L385.0 279.21L385.5 279.21L386.0 279.21L386.5 279.21L387.0 279.21L387.5 279.21L388.0 279.21L388.5 279.21L389.0 279.21L389.5 279.21L390.0 279.21L390.5 279.21L391.0 279.21L391.5 279.21L392.0 279.09L392.5 279.21L393.0 279.21L393.5 279.21L394.0 279.21L394.5 279.04L395.0 279.21L395.5 279.15L396.0 279.21L396.5 279.21L397.0 279.21L397.5 279.21L398.0 279.21L398.5 279.21L399.0 279.21L399.5 279.21L400.0 279.21L400.5 279.21L401.0 279.21L401.5 279.21L402.0 279.21L402.5 279.21L403.0 279.21L403.5 279.21L404.0 279.21L404.5 279.21L405.0 279.21L405.5 279.21L406.0 279.21L406.5 279.17L407.0 279.21L407.5 279.21L408.0 279.18L408.5 279.21L409.0 279.21L409.5 279.21L410.0 279.21L410.5 279.21L411.0 279.21L411.5 279.21L412.0 279.21L412.5 279.21L413.0 279.21L413.5 279.21L414.0 279.21L414.5 279.21L415.0 279.21L415.5 279.21L416.0 278.94L416.5 279.21L417.0 279.21L417.5 279.03L418.0 279.21L418.5 279.21L419.0 279.21L419.5 279.21L420.0 278.94L420.5 278.98L421.0 279.21L421.5 279.21L422.0 279.21L422.5 279.21L423.0 279.21L423.5 279.21L424.0 279.21L424.5 278.89L425.0 279.21L425.5 279.21L426.0 279.21L426.5 279.21L427.0 279.17L427.5 278.89L428.0 278.41L428.5 278.33L429.0 278.23L429.5 278.27L430.0 278.43L430.5 278.89L431.0 279.17L431.5 279.21L432.0 279.21L432.5 279.21L433.0 279.21L433.5 279.21L434.0 279.21L434.5 279.21L435.0 279.21L435.5 279.21L436.0 279.21L436.5 279.21L437.0 279.21L437.5 279.21L438.0 278.91L438.5 279.21L439.0 279.21L439.5 279.21L440.0 279.21L440.5 279.21L441.0 279.21L441.5 279.21L442.0 279.21L442.5 279.21L443.0 279.21L443.5 279.21L444.0 279.21L444.5 279.21L445.0 279.17L445.5 279.21L446.0 279.21L446.5 279.21L447.0 279.21L447.5 279.21L448.0 279.21L448.5 279.21L449.0 279.21L449.5 279.21L450.0 279.21L450.5 279.21L451.0 279.21L451.5 279.21L452.0 279.21L452.5 279.21L453.0 279.21L453.5 279.21L454.0 279.21L454.5 279.21L455.0 279.21L455.5 279.21L456.0 279.21L456.5 279.21L457.0 279.21L457.5 279.21L458.0 279.21L458.5 279.21L459.0 279.21L459.5 279.21L460.0 279.21L460.5 279.21L461.0 279.21L461.5 279.19L462.0 278.97L462.5 277.72L463.0 274.96L463.5 272.19L464.0 271.00L464.5 269.74L465.0 270.08L465.5 269.94L466.0 269.96L466.5 270.86L467.0 272.32L467.5 274.39L468.0 277.49L468.5 278.80L469.0 279.18L469.5 279.21L470.0 279.21L470.5 279.21L471.0 279.21L471.5 279.21L472.0 279.21L472.5 279.21L473.0 278.97L473.5 279.19L474.0 279.21L474.5 279.21L475.0 279.21L475.5 279.21L476.0 279.21L476.5 279.21L477.0 279.21L477.5 278.96L478.0 279.21L478.5 279.21L479.0 278.89L479.5 279.21L480.0 279.08L480.5 279.21L481.0 279.21L481.5 279.11L482.0 279.21L482.5 279.21L483.0 279.21L483.5 279.21L484.0 279.21L484.5 279.21L485.0 279.21L485.5 279.21L486.0 278.98L486.5 279.21L487.0 279.21L487.5 279.21L488.0 279.21L488.5 279.21L489.0 278.88L489.5 279.21L490.0 279.21L490.5 279.21L491.0 279.21L491.5 279.21L492.0 278.97L492.5 279.21L493.0 279.07L493.5 279.21L494.0 279.21L494.5 279.21L495.0 278.92L495.5 279.21L496.0 279.15L496.5 279.21L497.0 279.21L497.5 279.21L498.0 279.21L498.5 279.21L499.0 279.21L499.5 279.21L500.0 278.88L500.5 279.21L501.0 279.21L501.5 279.21L502.0 279.21L502.5 279.21L503.0 279.21L503.4 279.2Z" fill="#bf8fd6"/>
<text x="328.3" y="291.3" font-size="6.9" text-anchor="end">Mono</text>
<rect x="332.0" y="283.9" width="7.0" height="8.7" fill="#fc5a0a"/>
<line x1="341.0" y1="292.4" x2="503.4" y2="292.4" stroke="#fb8f5a" stroke-width="0.6"/>
<path d="M341 292.6L341.0 292.51L341.5 292.64L342.0 292.64L342.5 292.64L343.0 292.64L343.5 292.64L344.0 292.64L344.5 292.64L345.0 292.64L345.5 292.64L346.0 292.45L346.5 292.64L347.0 292.64L347.5 292.64L348.0 292.64L348.5 292.64L349.0 292.64L349.5 292.64L350.0 292.64L350.5 292.64L351.0 292.64L351.5 292.64L352.0 292.64L352.5 292.64L353.0 292.64L353.5 292.62L354.0 292.64L354.5 292.64L355.0 292.64L355.5 292.64L356.0 292.64L356.5 292.64L357.0 292.64L357.5 292.64L358.0 292.54L358.5 292.64L359.0 292.64L359.5 292.60L360.0 292.64L360.5 292.64L361.0 292.64L361.5 292.64L362.0 292.64L362.5 292.64L363.0 292.64L363.5 292.64L364.0 292.64L364.5 292.64L365.0 292.63L365.5 292.00L366.0 288.42L366.5 283.84L367.0 283.84L367.5 283.69L368.0 284.32L368.5 286.84L369.0 291.66L369.5 292.62L370.0 292.64L370.5 292.64L371.0 292.64L371.5 292.64L372.0 292.64L372.5 292.64L373.0 292.64L373.5 292.64L374.0 292.39L374.5 292.64L375.0 292.64L375.5 292.63L376.0 292.62L376.5 292.64L377.0 292.64L377.5 292.64L378.0 292.64L378.5 292.64L379.0 292.64L379.5 292.64L380.0 292.64L380.5 292.64L381.0 292.64L381.5 292.64L382.0 292.64L382.5 292.64L383.0 292.64L383.5 292.63L384.0 292.09L384.5 290.15L385.0 289.48L385.5 289.29L386.0 289.67L386.5 290.92L387.0 292.50L387.5 292.64L388.0 292.64L388.5 292.64L389.0 292.64L389.5 292.64L390.0 292.00L390.5 287.39L391.0 283.72L391.5 283.17L392.0 285.23L392.5 289.59L393.0 292.55L393.5 292.64L394.0 292.64L394.5 292.64L395.0 292.49L395.5 292.64L396.0 292.64L396.5 292.64L397.0 292.64L397.5 292.64L398.0 292.64L398.5 292.64L399.0 292.64L399.5 292.64L400.0 292.64L400.5 292.64L401.0 292.64L401.5 292.64L402.0 292.64L402.5 292.64L403.0 292.64L403.5 292.64L404.0 292.43L404.5 292.51L405.0 291.08L405.5 290.44L406.0 290.19L406.5 290.74L407.0 292.33L407.5 292.64L408.0 292.64L408.5 292.64L409.0 292.64L409.5 292.25L410.0 290.16L410.5 289.22L411.0 289.42L411.5 290.51L412.0 292.46L412.5 292.64L413.0 292.33L413.5 292.64L414.0 292.64L414.5 292.64L415.0 292.64L415.5 292.64L416.0 292.64L416.5 292.56L417.0 292.64L417.5 292.64L418.0 292.42L418.5 292.64L419.0 292.40L419.5 292.64L420.0 292.64L420.5 292.64L421.0 292.64L421.5 292.64L422.0 292.64L422.5 292.64L423.0 292.64L423.5 292.64L424.0 292.48L424.5 292.64L425.0 292.64L425.5 292.64L426.0 292.64L426.5 292.64L427.0 292.64L427.5 292.64L428.0 292.64L428.5 292.64L429.0 292.64L429.5 292.64L430.0 292.64L430.5 292.64L431.0 292.64L431.5 292.64L432.0 292.64L432.5 292.64L433.0 292.64L433.5 292.64L434.0 292.64L434.5 292.64L435.0 292.64L435.5 292.64L436.0 292.64L436.5 292.64L437.0 292.64L437.5 292.64L438.0 292.64L438.5 292.64L439.0 292.64L439.5 292.64L440.0 292.64L440.5 292.64L441.0 292.51L441.5 292.64L442.0 292.64L442.5 292.64L443.0 292.64L443.5 292.64L444.0 292.64L444.5 292.64L445.0 292.64L445.5 292.64L446.0 292.31L446.5 292.64L447.0 292.64L447.5 292.64L448.0 292.64L448.5 292.64L449.0 292.64L449.5 292.64L450.0 292.64L450.5 292.64L451.0 292.46L451.5 292.64L452.0 292.64L452.5 292.64L453.0 292.64L453.5 292.64L454.0 292.64L454.5 292.64L455.0 292.64L455.5 292.64L456.0 292.64L456.5 292.64L457.0 292.64L457.5 292.64L458.0 292.64L458.5 292.64L459.0 292.64L459.5 292.64L460.0 292.64L460.5 292.64L461.0 292.64L461.5 292.64L462.0 292.64L462.5 292.59L463.0 292.64L463.5 292.43L464.0 290.63L464.5 287.07L465.0 283.99L465.5 283.18L466.0 283.11L466.5 283.96L467.0 284.86L467.5 286.81L468.0 290.69L468.5 292.42L469.0 292.64L469.5 292.64L470.0 292.64L470.5 292.64L471.0 292.64L471.5 292.64L472.0 292.64L472.5 292.64L473.0 292.64L473.5 292.64L474.0 292.64L474.5 292.64L475.0 292.64L475.5 292.64L476.0 292.64L476.5 292.64L477.0 292.64L477.5 292.64L478.0 292.64L478.5 292.64L479.0 292.64L479.5 292.52L480.0 292.54L480.5 292.64L481.0 292.64L481.5 292.64L482.0 292.54L482.5 292.64L483.0 292.64L483.5 292.64L484.0 292.64L484.5 292.37L485.0 292.64L485.5 292.64L486.0 292.64L486.5 292.64L487.0 292.64L487.5 292.64L488.0 292.64L488.5 292.64L489.0 292.64L489.5 292.64L490.0 292.64L490.5 292.64L491.0 292.64L491.5 292.64L492.0 292.64L492.5 292.64L493.0 292.64L493.5 292.64L494.0 292.64L494.5 292.64L495.0 292.50L495.5 292.64L496.0 292.64L496.5 292.64L497.0 292.64L497.5 292.64L498.0 292.64L498.5 292.64L499.0 292.64L499.5 292.64L500.0 292.64L500.5 292.64L501.0 292.64L501.5 292.64L502.0 292.64L502.5 292.64L503.0 292.64L503.4 292.6Z" fill="#fc5a0a"/>
<text x="328.3" y="304.8" font-size="6.9" text-anchor="end">UNK</text>
<rect x="332.0" y="297.4" width="7.0" height="8.7" fill="#333333"/>
<line x1="341.0" y1="305.8" x2="503.4" y2="305.8" stroke="#9a9a9a" stroke-width="1.0"/>
<path d="M341 306.1L341.0 306.07L341.5 305.78L342.0 306.07L342.5 306.07L343.0 306.07L343.5 306.07L344.0 306.07L344.5 306.07L345.0 306.07L345.5 306.07L346.0 306.07L346.5 306.07L347.0 306.07L347.5 306.07L348.0 306.07L348.5 306.07L349.0 306.07L349.5 305.82L350.0 306.07L350.5 306.07L351.0 306.07L351.5 306.07L352.0 306.05L352.5 306.07L353.0 306.07L353.5 306.07L354.0 306.07L354.5 306.07L355.0 306.07L355.5 306.07L356.0 306.07L356.5 306.07L357.0 305.87L357.5 306.07L358.0 306.07L358.5 306.07L359.0 306.07L359.5 306.07L360.0 306.07L360.5 306.07L361.0 306.07L361.5 306.07L362.0 306.07L362.5 306.07L363.0 306.07L363.5 306.07L364.0 306.07L364.5 306.07L365.0 306.07L365.5 306.00L366.0 303.65L366.5 298.04L367.0 296.54L367.5 296.60L368.0 296.41L368.5 302.46L369.0 305.90L369.5 306.07L370.0 306.07L370.5 306.07L371.0 306.07L371.5 306.07L372.0 306.07L372.5 306.07L373.0 305.79L373.5 304.13L374.0 303.70L374.5 303.89L375.0 304.50L375.5 305.94L376.0 306.07L376.5 306.07L377.0 306.07L377.5 306.07L378.0 306.07L378.5 305.95L379.0 306.07L379.5 306.07L380.0 306.07L380.5 305.87L381.0 306.07L381.5 306.07L382.0 306.07L382.5 306.07L383.0 306.07L383.5 306.07L384.0 306.07L384.5 306.07L385.0 306.07L385.5 305.91L386.0 306.07L386.5 306.07L387.0 306.07L387.5 306.07L388.0 305.91L388.5 306.02L389.0 306.07L389.5 306.07L390.0 305.99L390.5 305.32L391.0 305.20L391.5 305.26L392.0 305.99L392.5 306.07L393.0 306.07L393.5 306.07L394.0 306.07L394.5 306.03L395.0 305.92L395.5 306.07L396.0 306.07L396.5 306.07L397.0 306.07L397.5 306.07L398.0 306.07L398.5 306.07L399.0 306.07L399.5 305.86L400.0 306.07L400.5 306.07L401.0 306.07L401.5 306.07L402.0 306.07L402.5 306.07L403.0 306.07L403.5 306.07L404.0 306.07L404.5 305.90L405.0 305.73L405.5 305.13L406.0 305.14L406.5 305.54L407.0 306.06L407.5 306.07L408.0 306.07L408.5 306.07L409.0 306.07L409.5 306.07L410.0 306.07L410.5 305.85L411.0 305.99L411.5 305.25L412.0 305.14L412.5 305.23L413.0 305.99L413.5 305.90L414.0 306.07L414.5 306.07L415.0 306.07L415.5 306.07L416.0 306.07L416.5 306.07L417.0 306.07L417.5 306.07L418.0 306.07L418.5 306.07L419.0 306.07L419.5 306.07L420.0 306.07L420.5 306.07L421.0 306.07L421.5 306.07L422.0 305.88L422.5 306.07L423.0 306.07L423.5 305.89L424.0 304.87L424.5 305.10L425.0 305.36L425.5 306.04L426.0 306.07L426.5 306.07L427.0 306.07L427.5 306.07L428.0 306.07L428.5 306.07L429.0 306.07L429.5 306.07L430.0 306.07L430.5 306.07L431.0 306.07L431.5 305.99L432.0 306.07L432.5 306.07L433.0 306.07L433.5 305.75L434.0 306.07L434.5 306.07L435.0 306.07L435.5 306.07L436.0 306.07L436.5 306.07L437.0 306.07L437.5 306.07L438.0 306.07L438.5 305.91L439.0 306.07L439.5 306.07L440.0 306.07L440.5 306.07L441.0 306.07L441.5 306.07L442.0 306.07L442.5 306.07L443.0 306.07L443.5 306.07L444.0 306.07L444.5 305.91L445.0 306.07L445.5 306.07L446.0 306.07L446.5 306.07L447.0 306.07L447.5 306.07L448.0 306.07L448.5 306.07L449.0 306.07L449.5 306.07L450.0 306.07L450.5 305.87L451.0 306.07L451.5 305.89L452.0 306.07L452.5 306.07L453.0 306.07L453.5 306.07L454.0 306.07L454.5 306.07L455.0 306.07L455.5 306.07L456.0 306.07L456.5 305.87L457.0 305.88L457.5 305.24L458.0 305.12L458.5 305.38L459.0 306.04L459.5 306.07L460.0 306.07L460.5 306.07L461.0 306.07L461.5 306.07L462.0 306.07L462.5 305.88L463.0 304.98L463.5 299.85L464.0 296.15L464.5 295.57L465.0 295.57L465.5 299.94L466.0 304.33L466.5 300.21L467.0 297.48L467.5 297.27L468.0 296.93L468.5 300.06L469.0 305.20L469.5 306.07L470.0 306.07L470.5 306.07L471.0 306.07L471.5 306.07L472.0 306.07L472.5 306.07L473.0 306.07L473.5 305.83L474.0 306.07L474.5 306.07L475.0 306.07L475.5 306.07L476.0 306.07L476.5 306.07L477.0 306.07L477.5 306.07L478.0 306.07L478.5 306.07L479.0 306.07L479.5 306.07L480.0 306.07L480.5 306.07L481.0 305.96L481.5 306.07L482.0 306.07L482.5 306.07L483.0 306.07L483.5 306.04L484.0 306.07L484.5 306.07L485.0 306.07L485.5 306.07L486.0 306.07L486.5 306.07L487.0 305.98L487.5 306.07L488.0 306.07L488.5 306.07L489.0 306.07L489.5 306.07L490.0 306.07L490.5 306.07L491.0 306.07L491.5 306.07L492.0 306.07L492.5 306.07L493.0 306.07L493.5 306.07L494.0 306.07L494.5 306.07L495.0 305.85L495.5 306.07L496.0 306.07L496.5 306.07L497.0 305.95L497.5 306.04L498.0 306.07L498.5 306.07L499.0 306.07L499.5 306.07L500.0 306.07L500.5 306.07L501.0 306.07L501.5 306.07L502.0 306.07L502.5 306.07L503.0 306.07L503.4 306.1Z" fill="#333333"/>
<text x="337.0" y="316.5" font-size="6.9" text-anchor="end">Peaks</text>
<line x1="341.0" y1="317.5" x2="503.4" y2="317.5" stroke="#eeeeee" stroke-width="0.6"/>
<rect x="364.0" y="309.5" width="8.0" height="3.2" fill="#dcb4bf"/>
<rect x="404.0" y="309.5" width="5.5" height="3.2" fill="#dcb4bf"/>
<rect x="410.5" y="309.5" width="4.5" height="3.2" fill="#dcb4bf"/>
<rect x="417.0" y="309.5" width="1.6" height="3.2" fill="#dcb4bf"/>
<rect x="426.5" y="309.5" width="2.0" height="3.2" fill="#dcb4bf"/>
<rect x="431.0" y="309.5" width="2.0" height="3.2" fill="#dcb4bf"/>
<rect x="462.0" y="309.5" width="9.0" height="3.2" fill="#dcb4bf"/>
<text x="337.0" y="327.3" font-size="6.9" text-anchor="end" textLength="44.7" lengthAdjust="spacingAndGlyphs">Marker peaks</text>
<text x="337.0" y="339.0" font-size="6.9" text-anchor="end" textLength="46.1" lengthAdjust="spacingAndGlyphs">RefSeq genes</text>
<text x="418.9" y="326.6" font-size="6.9" textLength="7.0" lengthAdjust="spacingAndGlyphs">P1</text>
<text x="434.7" y="326.6" font-size="6.9" textLength="7.9" lengthAdjust="spacingAndGlyphs">P2</text>
<rect x="427.0" y="319.2" width="2.2" height="4.4" fill="#e8384f"/>
<rect x="430.6" y="319.2" width="2.2" height="4.4" fill="#e8384f"/>
<line x1="341.0" y1="337.6" x2="366.7" y2="337.6" stroke="#1f2fc0" stroke-width="0.6"/>
<line x1="344.0" y1="337.0" x2="344.0" y2="338.2" stroke="#1f2fc0" stroke-width="0.4"/>
<line x1="348.5" y1="337.0" x2="348.5" y2="338.2" stroke="#1f2fc0" stroke-width="0.4"/>
<rect x="359.7" y="335.3" width="1.2" height="4.8" fill="#1f2fc0"/>
<rect x="361.8" y="335.3" width="1.3" height="4.8" fill="#1f2fc0"/>
<rect x="364.0" y="335.3" width="1.2" height="4.8" fill="#1f2fc0"/>
<rect x="365.6" y="335.3" width="1.1" height="4.8" fill="#1f2fc0"/>
<text x="337.8" y="348.6" font-size="6.9" textLength="24.2" lengthAdjust="spacingAndGlyphs" font-style="italic">Dnase2</text>
<line x1="397.9" y1="337.6" x2="426.8" y2="337.6" stroke="#1f2fc0" stroke-width="0.6"/>
<rect x="397.9" y="336.2" width="6.1" height="2.8" fill="#1f2fc0"/>
<rect x="401.5" y="335.3" width="1.6" height="4.6" fill="#1f2fc0"/>
<rect x="407.5" y="335.3" width="6.0" height="4.8" fill="#1f2fc0"/>
<rect x="413.5" y="336.2" width="2.8" height="2.8" fill="#1f2fc0"/>
<rect x="425.8" y="335.5" width="1.0" height="4.3" fill="#1f2fc0"/>
<text x="405.4" y="348.6" font-size="6.9" textLength="12.3" lengthAdjust="spacingAndGlyphs" font-style="italic">Klf1</text>
<line x1="468.0" y1="337.6" x2="503.9" y2="337.6" stroke="#1f2fc0" stroke-width="0.6"/>
<rect x="468.0" y="335.3" width="1.3" height="4.8" fill="#1f2fc0"/>
<rect x="470.0" y="335.3" width="1.0" height="4.8" fill="#1f2fc0"/>
<rect x="471.6" y="335.3" width="2.2" height="4.8" fill="#1f2fc0"/>
<rect x="474.4" y="335.3" width="1.0" height="4.8" fill="#1f2fc0"/>
<rect x="476.3" y="335.3" width="1.0" height="4.8" fill="#1f2fc0"/>
<rect x="479.2" y="335.3" width="0.9" height="4.8" fill="#1f2fc0"/>
<rect x="489.2" y="335.3" width="1.0" height="4.8" fill="#1f2fc0"/>
<rect x="482.0" y="337.0" width="0.9" height="1.4" fill="#1f2fc0"/>
<rect x="484.5" y="337.0" width="0.9" height="1.4" fill="#1f2fc0"/>
<rect x="487.0" y="337.0" width="0.9" height="1.4" fill="#1f2fc0"/>
<rect x="492.0" y="337.0" width="0.9" height="1.4" fill="#1f2fc0"/>
<rect x="495.0" y="337.0" width="0.9" height="1.4" fill="#1f2fc0"/>
<rect x="498.0" y="337.0" width="0.9" height="1.4" fill="#1f2fc0"/>
<rect x="501.0" y="337.0" width="0.9" height="1.4" fill="#1f2fc0"/>
<text x="475.8" y="348.6" font-size="6.9" textLength="17.6" lengthAdjust="spacingAndGlyphs" font-style="italic">Gcdh</text>
<path d="M430.6 324.9 Q446 333 441.5 342 Q434 353 400 359 Q391 362 390.8 378" fill="none" stroke="#999" stroke-width="0.5" stroke-dasharray="1,1"/>
<path d="M432 325 Q470 340 478 355 Q486 366 484.8 378" fill="none" stroke="#999" stroke-width="0.5" stroke-dasharray="1,1"/>
<text x="448.2" y="355.9" font-size="6.9" text-anchor="middle" textLength="21.9" lengthAdjust="spacingAndGlyphs">GATA1</text>
<line x1="412.1" y1="359.0" x2="412.1" y2="395.2" stroke="#888" stroke-width="0.5"/>
<text x="408.9" y="361.0" font-size="5.7" text-anchor="end">2</text>
<line x1="410.8" y1="359.0" x2="412.1" y2="359.0" stroke="#888" stroke-width="0.5"/>
<text x="408.9" y="379.2" font-size="5.7" text-anchor="end">1</text>
<line x1="410.8" y1="377.2" x2="412.1" y2="377.2" stroke="#888" stroke-width="0.5"/>
<text x="408.9" y="397.2" font-size="5.7" text-anchor="end">0</text>
<line x1="410.8" y1="395.2" x2="412.1" y2="395.2" stroke="#888" stroke-width="0.5"/>
<text x="400.5" y="377.0" font-size="6.6" text-anchor="middle" transform="rotate(-90 400.5 377.0)">Bits</text>
<text transform="translate(413.70 395.20) scale(0.776 0.056)" font-size="10.0" font-weight="bold" fill="#2431c8" stroke="#2431c8" stroke-width="0.55" vector-effect="non-scaling-stroke" x="0" y="0">C</text>
<text transform="translate(413.70 394.80) scale(0.720 0.084)" font-size="10.0" font-weight="bold" fill="#f5a800" stroke="#f5a800" stroke-width="0.55" vector-effect="non-scaling-stroke" x="0" y="0">G</text>
<text transform="translate(413.70 394.20) scale(0.776 0.279)" font-size="10.0" font-weight="bold" fill="#cc1e1e" stroke="#cc1e1e" stroke-width="0.55" vector-effect="non-scaling-stroke" x="0" y="0">A</text>
<text transform="translate(419.70 395.20) scale(0.776 0.084)" font-size="10.0" font-weight="bold" fill="#2431c8" stroke="#2431c8" stroke-width="0.55" vector-effect="non-scaling-stroke" x="0" y="0">C</text>
<text transform="translate(419.70 394.60) scale(0.776 0.056)" font-size="10.0" font-weight="bold" fill="#cc1e1e" stroke="#cc1e1e" stroke-width="0.55" vector-effect="non-scaling-stroke" x="0" y="0">A</text>
<text transform="translate(426.20 395.20) scale(1.015 0.349)" font-size="10.0" font-weight="bold" fill="#128a3c" stroke="#128a3c" stroke-width="0.55" vector-effect="non-scaling-stroke" x="0" y="0">T</text>
<text transform="translate(426.20 392.70) scale(0.859 3.352)" font-size="10.0" font-weight="bold" fill="#cc1e1e" stroke="#cc1e1e" stroke-width="0.55" vector-effect="non-scaling-stroke" x="0" y="0">A</text>
<text transform="translate(432.80 395.20) scale(0.810 5.028)" font-size="10.0" font-weight="bold" fill="#f5a800" stroke="#f5a800" stroke-width="0.55" vector-effect="non-scaling-stroke" x="0" y="0">G</text>
<text transform="translate(439.50 395.20) scale(0.873 4.260)" font-size="10.0" font-weight="bold" fill="#cc1e1e" stroke="#cc1e1e" stroke-width="0.55" vector-effect="non-scaling-stroke" x="0" y="0">A</text>
<text transform="translate(446.20 395.20) scale(0.851 5.028)" font-size="10.0" font-weight="bold" fill="#128a3c" stroke="#128a3c" stroke-width="0.55" vector-effect="non-scaling-stroke" x="0" y="0">T</text>
<text transform="translate(451.80 395.20) scale(0.789 4.399)" font-size="10.0" font-weight="bold" fill="#cc1e1e" stroke="#cc1e1e" stroke-width="0.55" vector-effect="non-scaling-stroke" x="0" y="0">A</text>
<text transform="translate(457.90 395.20) scale(0.859 4.399)" font-size="10.0" font-weight="bold" fill="#cc1e1e" stroke="#cc1e1e" stroke-width="0.55" vector-effect="non-scaling-stroke" x="0" y="0">A</text>
<text transform="translate(464.50 395.20) scale(0.817 0.084)" font-size="10.0" font-weight="bold" fill="#cc1e1e" stroke="#cc1e1e" stroke-width="0.55" vector-effect="non-scaling-stroke" x="0" y="0">A</text>
<text transform="translate(464.50 394.60) scale(0.758 3.003)" font-size="10.0" font-weight="bold" fill="#f5a800" stroke="#f5a800" stroke-width="0.55" vector-effect="non-scaling-stroke" x="0" y="0">G</text>
<text transform="translate(470.80 395.20) scale(0.776 0.056)" font-size="10.0" font-weight="bold" fill="#2431c8" stroke="#2431c8" stroke-width="0.55" vector-effect="non-scaling-stroke" x="0" y="0">C</text>
<text transform="translate(470.80 394.80) scale(0.776 0.182)" font-size="10.0" font-weight="bold" fill="#cc1e1e" stroke="#cc1e1e" stroke-width="0.55" vector-effect="non-scaling-stroke" x="0" y="0">A</text>
<text transform="translate(470.80 393.50) scale(0.720 0.112)" font-size="10.0" font-weight="bold" fill="#f5a800" stroke="#f5a800" stroke-width="0.55" vector-effect="non-scaling-stroke" x="0" y="0">G</text>
<text transform="translate(470.80 392.70) scale(0.776 0.223)" font-size="10.0" font-weight="bold" fill="#cc1e1e" stroke="#cc1e1e" stroke-width="0.55" vector-effect="non-scaling-stroke" x="0" y="0">A</text>
<text transform="translate(476.80 395.20) scale(0.831 0.070)" font-size="10.0" font-weight="bold" fill="#2431c8" stroke="#2431c8" stroke-width="0.55" vector-effect="non-scaling-stroke" x="0" y="0">C</text>
<text transform="translate(476.80 394.70) scale(0.771 0.140)" font-size="10.0" font-weight="bold" fill="#f5a800" stroke="#f5a800" stroke-width="0.55" vector-effect="non-scaling-stroke" x="0" y="0">G</text>
<text transform="translate(476.80 393.70) scale(0.831 0.307)" font-size="10.0" font-weight="bold" fill="#cc1e1e" stroke="#cc1e1e" stroke-width="0.55" vector-effect="non-scaling-stroke" x="0" y="0">A</text>
<text x="416.5" y="397.6" font-size="5.2" fill="#333" transform="rotate(90 416.5 397.6)">1</text>
<text x="422.7" y="397.6" font-size="5.2" fill="#333" transform="rotate(90 422.7 397.6)">2</text>
<text x="428.9" y="397.6" font-size="5.2" fill="#333" transform="rotate(90 428.9 397.6)">3</text>
<text x="435.1" y="397.6" font-size="5.2" fill="#333" transform="rotate(90 435.1 397.6)">4</text>
<text x="441.3" y="397.6" font-size="5.2" fill="#333" transform="rotate(90 441.3 397.6)">5</text>
<text x="447.5" y="397.6" font-size="5.2" fill="#333" transform="rotate(90 447.5 397.6)">6</text>
<text x="453.7" y="397.6" font-size="5.2" fill="#333" transform="rotate(90 453.7 397.6)">7</text>
<text x="459.9" y="397.6" font-size="5.2" fill="#333" transform="rotate(90 459.9 397.6)">8</text>
<text x="466.1" y="397.6" font-size="5.2" fill="#333" transform="rotate(90 466.1 397.6)">9</text>
<text x="472.3" y="397.6" font-size="5.2" fill="#333" transform="rotate(90 472.3 397.6)">10</text>
<text x="478.5" y="397.6" font-size="5.2" fill="#333" transform="rotate(90 478.5 397.6)">11</text>
<line x1="412.4" y1="403.8" x2="412.4" y2="439.7" stroke="#888" stroke-width="0.5"/>
<text x="409.2" y="405.8" font-size="5.7" text-anchor="end">2</text>
<line x1="411.1" y1="403.8" x2="412.4" y2="403.8" stroke="#888" stroke-width="0.5"/>
<text x="409.2" y="423.6" font-size="5.7" text-anchor="end">1</text>
<line x1="411.1" y1="421.6" x2="412.4" y2="421.6" stroke="#888" stroke-width="0.5"/>
<text x="409.2" y="441.7" font-size="5.7" text-anchor="end">0</text>
<line x1="411.1" y1="439.7" x2="412.4" y2="439.7" stroke="#888" stroke-width="0.5"/>
<text x="400.5" y="422.2" font-size="6.6" text-anchor="middle" transform="rotate(-90 400.5 422.2)">Bits</text>
<text transform="translate(432.35 438.40) scale(0.797 3.659)" font-size="10.0" font-weight="bold" fill="#f5a800" stroke="#f5a800" stroke-width="0.55" vector-effect="non-scaling-stroke" x="0" y="0">G</text>
<text transform="translate(438.85 438.40) scale(0.803 3.659)" font-size="10.0" font-weight="bold" fill="#cc1e1e" stroke="#cc1e1e" stroke-width="0.55" vector-effect="non-scaling-stroke" x="0" y="0">A</text>
<text transform="translate(444.95 438.40) scale(0.966 3.659)" font-size="10.0" font-weight="bold" fill="#128a3c" stroke="#128a3c" stroke-width="0.55" vector-effect="non-scaling-stroke" x="0" y="0">T</text>
<text transform="translate(451.15 438.40) scale(0.803 3.659)" font-size="10.0" font-weight="bold" fill="#cc1e1e" stroke="#cc1e1e" stroke-width="0.55" vector-effect="non-scaling-stroke" x="0" y="0">A</text>
<text transform="translate(457.25 438.40) scale(0.803 3.659)" font-size="10.0" font-weight="bold" fill="#cc1e1e" stroke="#cc1e1e" stroke-width="0.55" vector-effect="non-scaling-stroke" x="0" y="0">A</text>
<text transform="translate(463.35 438.40) scale(0.861 3.659)" font-size="10.0" font-weight="bold" fill="#f5a800" stroke="#f5a800" stroke-width="0.55" vector-effect="non-scaling-stroke" x="0" y="0">G</text>
<line x1="432.4" y1="438.9" x2="470.0" y2="438.9" stroke="#8a7fd0" stroke-width="0.8"/>
<text x="434.5" y="441.6" font-size="5.2" fill="#333" transform="rotate(90 434.5 441.6)">1</text>
<text x="440.7" y="441.6" font-size="5.2" fill="#333" transform="rotate(90 440.7 441.6)">2</text>
<text x="446.9" y="441.6" font-size="5.2" fill="#333" transform="rotate(90 446.9 441.6)">3</text>
<text x="453.1" y="441.6" font-size="5.2" fill="#333" transform="rotate(90 453.1 441.6)">4</text>
<text x="459.3" y="441.6" font-size="5.2" fill="#333" transform="rotate(90 459.3 441.6)">5</text>
<text x="465.5" y="441.6" font-size="5.2" fill="#333" transform="rotate(90 465.5 441.6)">6</text>
<text x="545.3" y="158.2" font-size="11" font-weight="bold">f</text>
<text x="609.0" y="172.3" font-size="6.9" text-anchor="middle" textLength="43.9" lengthAdjust="spacingAndGlyphs">Motif: GATA1</text>
<rect x="556.4" y="177.8" width="100.4" height="97.9" fill="#fff" stroke="#8a8a8a" stroke-width="0.7"/>
<path d="M603.4 184.1h0M603.3 186.3h0M605.2 188.2h0M609.1 184.0h0M600.9 185.9h0M600.5 188.4h0M604.3 190.2h0M603.4 186.2h0M602.9 185.1h0M600.9 187.5h0M603.2 184.3h0M604.4 186.5h0M562.9 198.0h0M568.3 195.1h0M564.9 196.7h0M569.8 195.7h0M606.3 220.3h0M599.1 209.1h0M603.7 220.1h0M602.6 210.6h0M600.4 213.7h0M604.0 209.3h0M604.1 218.4h0M596.8 221.4h0M608.7 213.0h0M599.2 210.1h0M606.5 212.5h0M599.1 209.1h0M593.2 219.0h0M594.2 215.2h0M602.7 217.9h0M603.4 208.8h0M602.8 207.7h0M604.3 205.7h0M593.3 216.7h0M607.3 212.5h0M599.9 222.2h0M602.3 207.7h0M593.5 211.9h0M597.4 219.1h0M607.8 210.1h0M601.1 222.2h0M600.1 219.9h0M597.3 225.8h0M612.1 217.2h0M602.0 208.9h0M611.8 220.5h0M594.0 221.8h0M602.4 211.3h0M594.5 223.5h0M618.9 213.1h0M591.0 209.8h0M615.7 220.5h0M615.1 217.7h0M628.0 213.0h0M632.6 212.7h0M589.2 222.3h0M591.9 221.9h0M592.6 222.7h0M585.2 223.3h0M592.8 223.4h0M589.9 223.3h0M641.8 264.3h0M641.1 259.2h0M647.4 258.3h0M643.9 261.6h0M645.7 256.1h0M645.7 260.0h0M637.1 255.9h0" stroke="#387cb7" stroke-width="1.05" stroke-linecap="round"/>
<path d="M606.8 182.4h0M607.1 184.7h0M607.4 185.6h0M601.7 186.1h0M601.3 188.0h0M609.8 183.4h0M600.7 185.1h0M606.3 187.9h0M604.7 185.6h0M604.7 186.1h0M608.6 183.1h0M607.1 189.1h0M603.6 185.8h0M605.7 186.1h0M568.5 196.2h0M561.8 197.1h0M562.9 196.2h0M566.3 197.1h0M609.5 218.0h0M603.5 216.1h0M594.6 212.5h0M596.8 225.0h0M597.3 210.4h0M610.4 215.3h0M601.8 207.1h0M601.8 222.9h0M592.7 216.2h0M602.2 227.4h0M601.5 210.8h0M607.0 215.3h0M599.8 212.1h0M609.3 221.8h0M614.0 218.1h0M594.6 217.4h0M596.2 222.7h0M600.0 218.1h0M609.2 218.2h0M616.4 214.1h0M593.9 211.6h0M621.2 222.0h0M622.4 221.7h0M622.2 223.4h0M617.3 220.9h0M618.5 216.8h0M621.4 222.5h0M614.8 221.5h0" stroke="#1a5899" stroke-width="1.05" stroke-linecap="round"/>
<path d="M605.7 184.8h0M601.6 186.4h0M605.2 189.4h0M601.6 189.1h0M602.2 186.6h0M604.0 186.4h0M607.0 182.3h0M604.1 183.2h0M604.2 184.7h0M601.7 188.7h0M603.0 188.3h0M600.9 190.3h0M609.1 183.6h0M566.9 197.1h0M565.9 197.0h0M567.0 197.7h0M570.9 195.7h0M563.6 197.8h0M601.2 212.3h0M606.2 216.2h0M603.0 207.2h0M612.6 215.0h0M613.8 220.6h0M599.7 227.7h0M614.4 217.1h0M601.3 225.9h0M603.9 208.9h0M600.0 223.1h0M600.0 210.3h0M596.9 218.1h0M607.6 225.0h0M590.3 219.7h0M606.4 225.0h0M606.8 212.9h0M590.5 215.7h0M596.9 212.6h0M601.6 222.2h0M601.3 221.2h0M601.7 215.7h0M612.5 216.5h0M602.7 219.1h0M603.5 216.4h0M618.1 215.5h0M624.0 212.6h0M593.5 211.8h0M615.4 219.2h0M617.4 221.2h0M623.0 218.2h0M621.1 222.5h0M615.6 221.0h0M643.9 208.8h0M587.0 234.9h0M648.4 263.3h0" stroke="#2166ac" stroke-width="1.05" stroke-linecap="round"/>
<path d="M600.9 185.9h0M604.2 188.9h0M563.5 197.6h0M562.3 197.3h0M567.7 195.5h0M567.8 197.1h0M567.7 195.9h0M564.3 196.2h0M567.5 196.3h0M569.2 196.4h0M610.9 219.9h0" stroke="#053061" stroke-width="1.05" stroke-linecap="round"/>
<path d="M604.1 189.5h0M604.1 189.3h0M601.8 186.0h0M605.6 183.7h0M602.7 184.7h0M604.3 184.1h0M602.6 183.9h0M607.4 183.3h0M568.3 197.7h0M571.3 194.7h0M562.0 197.7h0M602.7 212.1h0M599.3 222.3h0M605.1 218.0h0M603.7 213.1h0M604.8 217.4h0M606.7 212.8h0M599.0 225.8h0M596.2 214.0h0M607.4 214.3h0M592.7 218.6h0M603.7 220.1h0M604.6 214.6h0M595.9 218.1h0M599.5 214.0h0M599.9 224.2h0M609.0 215.5h0M597.3 215.0h0M595.6 218.7h0M593.3 214.3h0M606.6 214.0h0M591.8 216.6h0M593.3 216.5h0M612.0 219.1h0M597.9 215.5h0M604.3 222.0h0M605.7 211.2h0M603.4 206.5h0M591.5 217.3h0M624.3 212.3h0M609.2 214.7h0M621.3 220.3h0M617.3 216.7h0M622.7 218.7h0M622.7 220.5h0M620.9 222.5h0M635.4 213.0h0M631.2 213.5h0M628.1 211.7h0M591.1 221.7h0M585.4 222.9h0M585.9 223.0h0M592.7 222.3h0M585.4 224.0h0M587.3 233.9h0M636.5 237.2h0M646.3 265.3h0M648.7 256.3h0M646.9 262.2h0M650.1 262.0h0M642.9 256.5h0M648.3 262.9h0M651.3 260.8h0M643.3 262.0h0M645.2 255.6h0M641.4 258.8h0M640.5 256.7h0M637.3 259.3h0" stroke="#4f92c3" stroke-width="1.05" stroke-linecap="round"/>
<path d="M606.2 186.1h0M602.3 186.9h0M603.3 187.3h0M605.2 184.2h0M601.1 183.9h0M605.9 183.1h0M601.7 186.3h0M603.0 184.3h0M604.5 189.4h0M603.7 189.9h0M569.0 195.0h0M566.9 196.1h0M562.8 197.3h0M566.8 196.5h0M607.5 223.3h0M617.0 216.0h0M607.4 220.1h0M611.6 216.4h0M603.8 210.3h0M609.5 222.0h0M613.4 217.0h0M605.8 212.2h0M591.9 216.3h0M601.1 209.2h0M599.8 223.5h0M607.5 212.7h0M614.5 220.9h0M614.9 220.8h0M620.5 221.2h0M591.9 232.3h0M593.8 230.9h0" stroke="#124b86" stroke-width="1.05" stroke-linecap="round"/>
<path d="M608.7 185.0h0M605.8 182.7h0M607.9 184.7h0M606.5 185.7h0M604.3 189.8h0M601.4 184.8h0M598.6 214.8h0M605.0 214.4h0M594.6 216.4h0M601.4 216.7h0M600.2 211.7h0M604.0 208.3h0M595.9 213.8h0M597.3 221.5h0M614.8 218.5h0M603.4 222.9h0M597.1 222.1h0M600.6 213.9h0M602.1 223.9h0M606.5 218.9h0M597.1 210.1h0M605.9 211.1h0M600.0 210.7h0M601.5 213.3h0M593.8 224.0h0M605.8 221.1h0M595.1 218.8h0M615.2 217.1h0M601.4 226.2h0M602.0 217.0h0M604.6 223.9h0M603.8 217.0h0M622.8 221.1h0M620.7 221.0h0M621.9 217.2h0M620.9 219.3h0M640.9 210.5h0M627.9 212.4h0M591.0 222.6h0M590.2 223.1h0M591.3 223.3h0M591.9 222.3h0M592.7 223.3h0M590.5 232.0h0M586.5 234.6h0M593.8 234.5h0M631.1 245.8h0M629.3 241.8h0M639.2 237.7h0M639.9 242.6h0M644.1 255.0h0M637.1 258.3h0M642.6 257.9h0M651.4 262.7h0M640.5 254.3h0M647.9 257.4h0M645.0 263.2h0M637.7 262.1h0M636.8 255.7h0M635.8 259.7h0M641.6 255.4h0M646.9 261.0h0M639.7 254.8h0M645.6 265.3h0M644.0 257.9h0M642.3 255.0h0M639.1 255.5h0M649.4 258.8h0M636.8 256.9h0M645.0 259.4h0M642.4 256.8h0M641.1 260.5h0M648.5 256.6h0M642.1 264.0h0M649.1 260.9h0M637.9 255.2h0" stroke="#67a9cf" stroke-width="1.05" stroke-linecap="round"/>
<path d="M602.1 187.2h0M602.5 187.6h0M562.4 197.7h0M566.6 197.2h0M605.1 209.8h0M593.9 212.5h0M616.1 217.2h0M616.4 219.3h0M620.5 218.5h0" stroke="#0b3d73" stroke-width="1.05" stroke-linecap="round"/>
<path d="M607.4 183.7h0M608.5 214.7h0M604.1 223.9h0M592.7 213.0h0M599.0 226.5h0M604.2 209.0h0M595.9 211.6h0M617.0 218.8h0M598.3 212.9h0M595.8 215.5h0M609.2 214.4h0M615.7 219.2h0M602.0 209.9h0M610.2 214.6h0M609.6 215.2h0M602.0 219.7h0M615.6 215.9h0M597.9 210.2h0M602.8 208.2h0M608.8 223.4h0M621.8 213.8h0M622.3 213.5h0M623.2 212.1h0M618.5 216.7h0M641.6 209.9h0M631.5 213.1h0M636.5 212.4h0M644.3 210.1h0M627.1 214.2h0M594.2 221.8h0M592.9 223.0h0M588.5 223.0h0M587.0 235.0h0M591.3 233.9h0M591.8 233.2h0M591.2 237.5h0M588.6 235.4h0M587.3 235.4h0M589.8 234.2h0M588.0 235.8h0M591.2 235.4h0M632.3 245.4h0M635.2 247.0h0M641.1 239.5h0M636.3 239.5h0M637.7 261.4h0M642.2 255.6h0M638.4 256.0h0M640.1 260.6h0M648.4 257.3h0M651.6 262.1h0M646.7 264.5h0M648.2 262.3h0M633.9 257.7h0M638.8 259.4h0M648.6 256.1h0M645.7 255.7h0M634.5 255.5h0M646.2 255.6h0M646.7 261.8h0M639.7 260.8h0M633.9 259.2h0M635.9 255.1h0M636.1 256.9h0" stroke="#9cc7df" stroke-width="1.05" stroke-linecap="round"/>
<path d="M606.2 224.3h0M601.5 215.0h0M601.2 209.9h0M611.8 221.4h0M600.5 227.0h0M615.7 216.9h0M592.3 217.1h0M608.7 214.7h0M593.3 219.6h0M622.9 211.9h0M616.8 221.1h0M642.8 210.1h0M627.2 212.8h0M589.1 223.6h0M589.9 222.3h0M591.7 236.8h0M640.1 240.2h0M632.7 241.9h0M635.5 241.3h0M632.7 243.2h0M636.3 240.5h0M633.6 247.3h0M627.3 244.9h0M640.4 238.3h0M628.2 245.2h0M640.9 256.4h0M650.6 264.0h0M640.0 262.9h0M646.0 261.8h0M637.3 254.4h0M648.5 264.8h0M637.8 261.1h0M651.2 259.5h0M633.9 258.8h0M635.6 258.5h0M647.7 264.7h0M631.2 257.2h0M641.0 256.5h0M638.2 263.2h0M632.9 256.9h0M650.4 262.5h0M641.5 262.4h0M645.0 257.1h0M639.6 256.8h0M639.0 262.6h0M641.8 255.4h0M634.0 259.1h0M648.0 261.8h0M634.0 256.9h0M639.0 261.1h0M636.0 255.3h0M637.8 255.7h0M636.0 255.9h0M638.4 259.1h0M637.5 262.2h0M638.1 255.9h0" stroke="#d1e5f0" stroke-width="1.05" stroke-linecap="round"/>
<path d="M596.0 218.0h0M604.5 213.4h0M633.0 211.5h0M588.6 223.6h0M592.5 223.0h0M619.3 241.1h0M614.4 241.0h0M598.9 239.8h0M596.1 238.4h0M620.0 242.1h0M601.5 239.9h0M617.5 241.6h0M615.1 237.9h0M591.0 243.6h0M620.8 244.2h0M617.2 241.2h0M589.9 243.7h0M613.6 242.2h0M637.1 244.6h0M639.9 240.9h0M627.9 244.1h0M633.3 245.3h0M630.6 244.7h0M636.8 239.5h0M640.9 242.0h0M631.2 246.8h0M639.7 238.3h0M636.6 240.5h0M648.0 257.2h0M634.2 258.1h0M645.6 256.9h0M635.8 258.1h0M637.6 254.4h0M637.9 261.6h0M643.8 264.1h0M647.4 262.6h0M640.5 261.1h0M639.9 258.1h0M649.6 260.7h0M633.7 254.6h0M648.7 259.5h0M634.4 258.9h0M649.1 256.0h0M636.7 254.5h0M637.5 254.7h0M639.2 256.1h0M639.2 255.2h0M635.1 254.3h0M636.9 256.7h0M638.1 259.0h0M635.8 257.3h0" stroke="#f8e2d4" stroke-width="1.05" stroke-linecap="round"/>
<path d="M603.8 219.4h0M601.3 216.7h0M596.5 218.6h0M594.5 222.7h0M632.2 212.1h0M630.1 212.5h0M585.3 224.3h0M585.1 223.7h0M592.7 223.2h0M616.8 240.8h0M591.8 242.3h0M599.7 239.7h0M613.9 240.0h0M634.5 241.6h0M633.2 243.9h0M628.1 245.0h0M636.0 245.7h0M632.7 241.9h0M630.1 243.6h0M629.1 245.5h0M634.0 241.9h0M639.2 239.8h0M633.3 246.3h0M638.4 238.7h0M635.0 242.6h0M640.0 243.5h0M636.1 244.3h0M645.7 256.3h0M633.9 255.5h0M648.2 258.3h0M634.6 260.1h0M650.1 262.4h0M636.2 257.4h0M643.3 254.0h0M643.7 264.2h0M635.9 259.7h0M652.8 258.6h0M634.4 256.0h0M638.0 262.4h0M639.6 261.6h0M649.2 262.5h0M651.4 259.5h0M647.6 256.4h0M643.9 259.4h0M642.9 258.6h0M635.7 255.1h0M646.6 264.5h0M645.7 263.0h0M638.2 257.1h0M637.6 258.0h0M637.1 258.8h0M640.5 258.6h0M639.0 259.4h0M637.2 258.2h0" stroke="#f0f0f0" stroke-width="1.05" stroke-linecap="round"/>
<path d="M617.8 244.0h0M596.8 245.0h0M608.1 244.2h0M617.8 244.3h0M606.7 239.7h0M612.3 242.1h0M595.0 247.0h0M590.8 250.7h0M593.1 241.2h0M606.4 243.1h0M611.6 237.3h0M595.7 239.6h0M584.1 249.4h0M594.6 239.8h0M598.2 246.3h0M588.6 248.7h0M601.2 241.7h0M607.2 244.1h0M594.7 246.5h0M601.1 241.4h0M607.3 240.6h0M597.2 239.4h0M587.2 247.0h0M595.5 245.1h0M617.6 247.9h0M603.8 242.4h0M612.5 238.0h0M620.4 242.6h0M605.3 243.3h0M585.3 247.2h0M616.5 238.2h0M607.7 236.8h0M608.6 235.9h0M591.5 245.7h0M596.9 250.4h0M608.4 243.0h0M614.6 243.4h0M616.5 247.1h0M600.9 243.2h0M601.6 242.5h0M603.4 239.9h0M619.8 246.8h0M583.8 246.7h0M601.4 238.2h0M611.0 238.2h0M602.6 236.1h0M593.4 242.7h0M594.1 247.0h0M635.6 242.4h0M635.8 245.4h0M636.6 246.3h0M640.1 239.9h0M627.2 244.1h0M639.7 242.7h0M636.3 239.1h0M640.9 257.3h0M648.9 263.5h0M640.7 257.0h0M636.6 256.7h0M634.9 255.2h0M634.6 258.0h0M600.9 259.6h0" stroke="#f7ba9d" stroke-width="1.05" stroke-linecap="round"/>
<path d="M604.0 252.1h0M612.2 246.7h0M614.3 248.3h0M604.3 250.3h0M605.7 252.3h0M605.2 252.8h0M600.1 262.1h0M599.0 262.7h0M600.1 262.6h0M610.2 270.3h0M611.5 266.6h0M613.3 270.6h0M614.4 269.9h0M611.8 265.6h0" stroke="#980f27" stroke-width="1.05" stroke-linecap="round"/>
<path d="M612.2 249.6h0M607.2 246.7h0M600.6 238.0h0M594.5 249.2h0M611.8 251.6h0M601.6 247.6h0M607.3 241.3h0M610.1 246.8h0M601.0 243.8h0M609.5 250.6h0M598.3 248.2h0M609.7 253.0h0M611.9 251.1h0M594.5 246.9h0M598.7 244.0h0M614.1 247.9h0M607.6 249.6h0M604.2 247.3h0M615.8 250.5h0M613.5 248.9h0M608.4 244.4h0M606.1 243.3h0M600.0 248.8h0M614.0 249.1h0M607.2 246.8h0M612.8 253.1h0M605.4 249.5h0M604.5 258.9h0M598.7 263.1h0M600.1 262.0h0M603.3 260.0h0M603.2 261.4h0M599.2 262.5h0M601.6 261.0h0M601.5 262.1h0M609.0 263.9h0M609.4 266.3h0M610.5 269.8h0M609.0 266.1h0" stroke="#dc6d57" stroke-width="1.05" stroke-linecap="round"/>
<path d="M602.2 243.8h0M597.8 244.8h0M608.9 251.9h0M607.8 252.9h0M600.3 250.0h0M601.1 251.2h0M606.1 248.4h0M608.7 249.1h0M600.4 248.0h0M606.8 251.0h0M603.9 244.7h0M600.8 258.7h0M600.3 264.1h0M599.0 263.6h0M603.2 258.6h0M601.6 258.4h0M601.2 262.4h0M608.1 264.0h0M608.7 263.0h0M611.3 266.5h0M610.3 263.8h0M609.8 262.4h0M609.2 262.5h0" stroke="#cd4e44" stroke-width="1.05" stroke-linecap="round"/>
<path d="M603.9 243.6h0M609.7 242.2h0M599.7 245.6h0M604.7 247.9h0M598.6 247.2h0M602.3 243.5h0M614.5 239.5h0M598.6 246.5h0M601.8 242.1h0M591.4 244.8h0M616.2 242.7h0M605.4 239.3h0M604.8 244.9h0M612.4 244.3h0M599.7 244.3h0M588.8 247.1h0M605.9 241.8h0M603.1 237.4h0M602.6 236.9h0M603.2 237.3h0M608.1 242.7h0M590.4 245.7h0M614.3 244.1h0M610.3 240.5h0M613.5 245.2h0M578.7 250.4h0M603.6 245.2h0M580.7 249.9h0M611.1 242.4h0M584.4 247.4h0M598.9 245.2h0M599.8 247.1h0M614.4 240.3h0M613.7 238.7h0M591.9 242.5h0M594.3 248.3h0M612.0 242.5h0M615.6 244.0h0M608.3 239.4h0M593.3 248.3h0M598.5 245.8h0M615.3 251.0h0M574.7 252.6h0M594.1 246.0h0M618.2 248.9h0M619.1 246.0h0M595.9 251.2h0M601.2 249.1h0M612.2 243.2h0M600.7 252.2h0M634.9 245.6h0M634.7 241.0h0M638.7 245.7h0M641.7 262.4h0M650.0 260.6h0M639.0 258.2h0M600.8 259.1h0M603.5 256.3h0" stroke="#f4a582" stroke-width="1.05" stroke-linecap="round"/>
<path d="M602.2 245.2h0M592.9 247.3h0M616.4 247.7h0M609.5 243.3h0M600.8 242.7h0M600.3 244.7h0M582.1 249.2h0M589.5 243.8h0M620.6 245.1h0M598.7 246.8h0M582.1 250.8h0M614.5 247.0h0M596.6 247.3h0M588.8 250.6h0M620.4 247.3h0M606.0 239.2h0M606.7 243.9h0M581.0 249.4h0M600.5 247.5h0M607.7 241.6h0M609.9 244.1h0M601.9 242.4h0M610.0 244.9h0M615.8 237.4h0M586.2 250.2h0M614.5 243.6h0M606.4 241.1h0M608.9 248.7h0M611.3 249.2h0M600.7 245.9h0M614.7 245.6h0M631.9 244.6h0M627.7 243.9h0M626.8 244.8h0M599.1 260.7h0M604.4 258.5h0M602.7 257.2h0M610.0 263.7h0" stroke="#e8896c" stroke-width="1.05" stroke-linecap="round"/>
<path d="M602.3 243.6h0M605.6 239.8h0M578.9 251.7h0M622.1 244.8h0M582.9 248.0h0M589.3 244.3h0M601.8 243.8h0M585.0 247.3h0M617.2 246.6h0M587.8 246.3h0M612.2 241.6h0M598.6 238.1h0M592.2 240.5h0M584.6 249.3h0M596.3 243.9h0M595.9 245.6h0M616.2 240.7h0M589.8 244.7h0M614.4 241.7h0M607.5 238.9h0M591.6 249.1h0M615.0 247.8h0M615.4 242.0h0M589.4 247.3h0M634.1 242.6h0M634.5 246.7h0M634.0 244.5h0M635.6 242.2h0M636.7 241.5h0M634.8 242.4h0M638.4 243.0h0M636.2 240.7h0M624.5 243.9h0M635.5 244.3h0M636.7 262.1h0M645.2 255.8h0M639.7 258.2h0M640.8 257.9h0M651.5 257.7h0M649.8 262.0h0M635.5 254.9h0M650.8 262.4h0M637.0 255.2h0M643.4 256.7h0M644.6 263.0h0M635.7 255.5h0M635.8 258.8h0M636.0 255.1h0M637.9 260.0h0M638.5 255.3h0M640.4 256.6h0M638.8 259.9h0M639.1 255.2h0M602.2 258.3h0" stroke="#fbd0b9" stroke-width="1.05" stroke-linecap="round"/>
<path d="M599.1 252.4h0M596.7 250.9h0M615.4 250.9h0M610.4 252.2h0M604.2 250.2h0M601.1 248.1h0M608.6 254.6h0M615.9 250.4h0M606.5 252.2h0M602.8 252.6h0M604.4 249.7h0M611.4 251.4h0M603.5 257.3h0M600.0 262.5h0M600.2 260.7h0M603.2 257.5h0M602.7 258.0h0M606.1 257.1h0M605.8 256.7h0M601.8 257.4h0M604.0 260.3h0M602.9 257.6h0M609.7 266.2h0M610.8 269.5h0M611.2 267.9h0M612.5 269.1h0M610.4 268.2h0M608.6 267.4h0M610.2 266.4h0M612.7 268.9h0M610.0 265.6h0M611.3 267.5h0" stroke="#bb2933" stroke-width="1.05" stroke-linecap="round"/>
<path d="M597.6 262.5h0M602.6 260.8h0M604.3 260.4h0M599.6 260.5h0M600.8 262.4h0M609.8 268.1h0M607.9 265.6h0M610.6 268.4h0M610.6 270.0h0M613.1 270.1h0M610.6 269.2h0" stroke="#67001f" stroke-width="1.05" stroke-linecap="round"/>
<defs><linearGradient id="cb177" x1="0" y1="1" x2="0" y2="0"><stop offset="0" stop-color="#053061"/><stop offset="0.1" stop-color="#2166ac"/><stop offset="0.2" stop-color="#9cc7df"/><stop offset="0.32" stop-color="#f0f0f0"/><stop offset="0.45" stop-color="#fddbc7"/><stop offset="0.65" stop-color="#ee9777"/><stop offset="0.85" stop-color="#bb2933"/><stop offset="1" stop-color="#67001f"/></linearGradient></defs>
<rect x="656.6" y="177.8" width="2.4" height="97.9" fill="url(#cb177)"/>
<line x1="659.0" y1="199.0" x2="660.3" y2="199.0" stroke="#555" stroke-width="0.4"/>
<text x="664.7" y="201.1" font-size="6.2">8</text>
<line x1="659.0" y1="223.0" x2="660.3" y2="223.0" stroke="#555" stroke-width="0.4"/>
<text x="664.7" y="225.1" font-size="6.2">4</text>
<line x1="659.0" y1="247.2" x2="660.3" y2="247.2" stroke="#555" stroke-width="0.4"/>
<text x="664.7" y="249.3" font-size="6.2">0</text>
<line x1="659.0" y1="271.3" x2="660.3" y2="271.3" stroke="#555" stroke-width="0.4"/>
<text x="660.0" y="273.4" font-size="5.8">−</text>
<text x="664.7" y="273.4" font-size="6.2">4</text>
<text x="678.3" y="226.8" font-size="6.6" text-anchor="middle" textLength="25.0" lengthAdjust="spacingAndGlyphs" transform="rotate(90 678.3 226.8)">z-score</text>
<text x="551.5" y="226.8" font-size="6.9" text-anchor="middle" textLength="22.0" lengthAdjust="spacingAndGlyphs" transform="rotate(-90 551.5 226.8)">UMAP2</text>
<text x="609.2" y="287.0" font-size="6.9" text-anchor="middle" textLength="22.9" lengthAdjust="spacingAndGlyphs">UMAP1</text>
<g>
<text x="609.0" y="309.1" font-size="6.9" text-anchor="middle" textLength="53.0" lengthAdjust="spacingAndGlyphs">k-mer: GATAAG</text>
<rect x="556.4" y="314.6" width="100.4" height="97.9" fill="#fff" stroke="#8a8a8a" stroke-width="0.7"/>
<path d="M605.2 320.0h0M610.2 321.7h0M607.4 322.9h0M601.2 323.4h0M601.1 324.9h0M606.5 321.2h0M606.6 324.0h0M601.4 325.0h0M607.0 320.4h0M604.9 322.6h0M603.5 322.2h0M601.6 326.7h0M603.4 321.2h0M608.7 321.1h0M608.9 321.5h0M602.5 322.2h0M562.9 334.2h0M566.4 333.5h0M567.9 332.7h0M569.5 332.6h0M567.9 333.5h0M566.6 333.4h0M567.5 332.6h0M561.6 334.6h0M567.2 333.4h0M561.4 334.5h0M568.0 332.9h0M565.2 334.6h0M594.0 349.3h0M611.5 359.3h0M596.0 347.8h0M594.6 359.9h0M607.8 359.0h0M604.8 359.7h0M621.7 357.0h0" stroke="#387cb7" stroke-width="1.05" stroke-linecap="round"/>
<path d="M607.4 319.9h0M605.7 327.0h0M606.8 322.7h0M603.4 325.2h0M608.7 320.9h0M605.8 324.6h0M609.0 320.9h0M604.6 326.4h0M603.8 326.1h0M600.3 323.3h0M603.8 319.6h0M603.7 321.0h0M606.5 319.8h0M606.0 325.8h0M602.5 325.4h0M605.1 326.8h0M602.7 322.6h0M567.8 333.5h0M568.1 333.3h0M570.1 332.2h0M563.1 333.1h0M565.5 334.6h0M566.9 333.6h0M598.5 351.9h0M615.5 353.7h0M606.3 353.8h0M603.8 343.6h0M600.0 350.7h0M598.1 347.2h0M601.1 362.3h0M610.5 358.2h0M595.4 350.5h0M598.1 357.9h0M593.1 352.5h0M597.0 346.5h0M604.0 360.0h0M601.4 354.7h0M596.9 350.1h0M592.1 353.7h0M603.6 362.4h0M604.0 349.4h0M597.4 353.6h0M601.5 346.9h0M596.1 355.0h0M598.0 346.4h0M596.3 355.3h0M608.4 355.6h0M609.0 357.8h0M592.8 354.0h0M607.3 347.8h0M598.9 351.2h0M613.1 355.5h0M599.5 361.0h0M592.7 355.9h0M601.9 350.2h0M601.3 361.8h0M603.8 363.5h0M624.7 348.6h0M618.5 349.7h0M612.9 352.9h0M614.3 351.2h0M588.4 346.6h0M614.8 359.2h0M621.8 358.7h0M621.6 355.0h0M622.0 355.9h0M619.5 355.2h0M620.9 360.2h0M616.2 358.0h0M620.9 360.1h0M594.7 358.7h0M588.5 372.2h0" stroke="#4f92c3" stroke-width="1.05" stroke-linecap="round"/>
<path d="M606.0 322.3h0M602.4 324.2h0M600.4 325.8h0M604.1 322.6h0M562.6 334.0h0M562.8 334.9h0M570.0 332.8h0M565.9 334.2h0M561.9 334.7h0M596.6 346.6h0M602.4 352.5h0M606.7 351.0h0M609.3 357.8h0M625.1 349.6h0M617.6 353.9h0" stroke="#2166ac" stroke-width="1.05" stroke-linecap="round"/>
<path d="M601.3 322.7h0M607.0 322.3h0M601.3 323.3h0M607.3 322.6h0M606.9 319.2h0M601.5 322.0h0M601.2 326.3h0M604.2 324.0h0M568.7 332.8h0M610.3 353.5h0M609.5 356.2h0M593.9 353.3h0M608.2 358.0h0M596.5 361.1h0M598.8 357.4h0M597.4 362.1h0M607.7 356.9h0M605.0 354.6h0M598.6 352.1h0M599.2 349.3h0M599.4 347.3h0M597.0 350.8h0M611.5 358.6h0M606.8 357.3h0M592.1 355.9h0M601.5 360.9h0M607.4 348.3h0M602.6 356.5h0M606.7 350.2h0M597.1 362.0h0M591.6 352.4h0M611.4 351.4h0M599.8 357.2h0M608.1 358.5h0M594.6 350.5h0M592.8 350.1h0M605.6 358.6h0M615.3 352.7h0M601.6 363.3h0M594.0 359.2h0M607.4 348.9h0M620.9 351.7h0M616.4 359.0h0M621.8 356.4h0M617.2 353.5h0M615.9 357.5h0M621.8 359.0h0M619.5 354.8h0M620.3 356.1h0M616.9 359.4h0M615.3 357.3h0M629.6 348.1h0M643.8 346.4h0M642.6 345.7h0M631.8 348.9h0M628.9 350.9h0M589.3 359.5h0M585.4 360.8h0M589.6 360.7h0M592.9 359.4h0M590.0 359.5h0M586.9 359.7h0M593.8 359.3h0M585.2 360.9h0M590.2 372.2h0M591.0 375.0h0M588.5 372.1h0M639.0 375.2h0M626.7 378.8h0M630.0 381.2h0M636.4 376.7h0M627.6 381.6h0M648.3 394.4h0M647.9 395.6h0M645.3 395.3h0M639.1 400.1h0M636.8 391.7h0M638.0 398.2h0M643.8 400.2h0M643.2 400.8h0M640.7 390.8h0M634.4 394.6h0M645.9 393.3h0M650.3 395.3h0M643.8 397.6h0M634.4 392.3h0M651.4 396.6h0M643.9 393.4h0M638.6 393.1h0M637.3 397.7h0M634.3 396.0h0M641.5 391.2h0M652.6 397.3h0M634.7 396.2h0M643.0 399.3h0M649.6 398.7h0M643.9 400.1h0M636.8 392.2h0M633.0 395.7h0M633.3 393.9h0M637.6 395.9h0M636.6 393.1h0" stroke="#9cc7df" stroke-width="1.05" stroke-linecap="round"/>
<path d="M601.0 322.7h0M606.7 319.4h0M604.4 324.6h0M604.6 321.6h0M602.9 325.1h0M604.2 324.7h0M600.4 323.0h0M602.1 323.0h0M603.2 322.1h0M610.3 320.6h0M602.1 319.9h0M604.2 323.5h0M604.2 321.9h0M604.1 320.8h0M603.1 324.0h0M603.6 325.2h0M602.1 321.1h0M604.3 325.9h0M603.6 324.7h0M604.5 321.6h0M564.4 332.9h0M571.5 331.4h0M592.5 358.0h0M599.6 349.7h0M614.9 354.7h0M604.4 351.8h0M601.0 363.6h0M616.3 352.9h0M610.4 352.2h0M611.1 355.7h0M604.0 345.5h0M597.3 346.2h0M602.9 353.3h0M603.6 356.2h0M602.8 346.5h0M603.5 345.3h0M600.4 360.2h0M591.5 354.1h0M597.2 350.7h0M605.3 349.1h0M616.7 355.2h0M598.4 345.5h0M611.2 354.3h0M599.7 363.2h0M600.5 352.5h0M594.1 352.6h0M602.9 341.9h0M602.2 355.2h0M601.9 351.1h0M603.6 362.8h0M602.4 345.3h0M606.6 346.2h0M598.1 363.6h0M609.8 353.7h0M593.1 358.9h0M599.0 348.3h0M596.1 355.0h0M612.8 357.3h0M599.2 355.0h0M593.5 350.6h0M602.0 351.6h0M595.1 356.1h0M613.1 353.6h0M598.0 350.5h0M596.6 358.2h0M602.6 353.4h0M601.0 344.7h0M597.0 359.1h0M605.7 346.4h0M603.0 341.6h0M603.2 344.0h0M602.6 353.2h0M619.7 349.6h0M623.4 349.7h0M616.5 354.3h0M614.7 357.5h0M621.2 356.6h0M614.5 356.1h0M620.8 355.6h0M617.8 356.4h0M618.3 359.8h0M621.3 357.5h0M620.5 356.3h0M617.1 357.3h0M619.4 360.0h0M615.3 355.2h0M632.3 349.6h0M591.7 360.0h0M593.2 358.2h0M584.2 360.2h0M588.0 359.8h0M590.1 359.7h0M585.1 359.7h0M588.1 359.5h0M592.4 359.6h0M590.4 359.6h0M592.4 358.9h0M593.1 369.9h0M591.8 370.5h0M594.2 372.1h0M637.2 384.4h0M636.9 395.7h0M636.8 399.3h0M640.3 399.0h0M638.9 391.4h0M636.8 393.7h0M633.7 392.2h0" stroke="#67a9cf" stroke-width="1.05" stroke-linecap="round"/>
<path d="M609.6 321.2h0M569.2 333.0h0M603.9 346.9h0M612.9 356.2h0M604.0 349.0h0M603.2 356.1h0M598.6 360.5h0M600.6 351.2h0M616.2 355.9h0M607.9 349.9h0M600.9 362.7h0M597.1 358.7h0M607.6 353.4h0M604.5 350.4h0M607.0 361.3h0M593.0 348.8h0M606.2 349.0h0M591.0 353.2h0M611.2 358.4h0M608.8 360.2h0M598.0 357.0h0M607.6 351.1h0M591.8 353.8h0M611.5 355.3h0M605.1 344.2h0M594.6 360.0h0M617.3 352.1h0M624.4 349.2h0M592.7 348.4h0M591.3 347.3h0M620.0 356.7h0M622.2 357.5h0M621.6 355.2h0M619.3 356.5h0M621.4 355.9h0M634.4 350.2h0M641.7 346.2h0M628.5 349.9h0M631.2 349.3h0M629.4 348.9h0M631.9 348.7h0M592.7 358.4h0M594.5 359.7h0M593.1 358.9h0M592.5 358.6h0M586.9 371.0h0M591.4 371.9h0M588.8 372.9h0M632.3 381.0h0M636.6 381.5h0M636.3 382.2h0M632.9 378.8h0M634.4 380.7h0M639.8 377.4h0M638.3 373.7h0M637.6 376.2h0M634.4 380.4h0M640.0 374.7h0M638.3 375.0h0M639.5 373.8h0M635.4 381.3h0M635.0 379.8h0M637.3 382.0h0M640.1 392.1h0M646.5 399.2h0M640.7 391.1h0M649.1 394.0h0M650.1 400.0h0M648.6 393.0h0M650.3 398.9h0M640.2 400.7h0M652.1 398.4h0M641.1 398.5h0M648.7 392.8h0M642.2 398.3h0M647.9 400.2h0M640.2 394.2h0M639.6 397.4h0M647.7 401.4h0M639.8 396.5h0M652.2 397.2h0M639.0 394.5h0M633.9 392.9h0M642.3 401.0h0M640.0 392.8h0M647.6 400.4h0M634.9 397.8h0M650.6 397.2h0M633.8 392.3h0M643.4 401.1h0M641.4 395.8h0M646.5 399.0h0M635.7 392.6h0M645.1 396.5h0M643.9 391.3h0M646.0 402.1h0M636.3 391.6h0M639.3 397.7h0M639.9 393.8h0M641.0 396.4h0M650.8 397.2h0M650.5 397.8h0M642.9 392.8h0M633.6 394.0h0M638.9 392.2h0M634.1 395.5h0M634.4 393.8h0M638.5 393.4h0M636.6 396.4h0M634.8 391.3h0M636.1 395.5h0" stroke="#d1e5f0" stroke-width="1.05" stroke-linecap="round"/>
<path d="M601.4 324.5h0M566.7 332.9h0M568.2 332.5h0M563.0 332.6h0" stroke="#1a5899" stroke-width="1.05" stroke-linecap="round"/>
<path d="M609.1 350.3h0M603.1 348.3h0M607.0 361.8h0M639.9 346.8h0M590.3 358.6h0M592.1 359.9h0M584.9 358.7h0M591.3 374.1h0M591.8 369.9h0M591.3 370.8h0M596.4 375.7h0M617.7 377.4h0M598.3 374.4h0M636.3 378.0h0M638.0 378.2h0M633.5 378.3h0M637.7 377.4h0M634.6 382.9h0M636.7 376.1h0M628.4 381.9h0M638.6 379.9h0M630.4 379.4h0M629.2 381.5h0M640.8 374.3h0M629.1 381.6h0M638.8 373.5h0M637.8 379.2h0M631.9 384.3h0M639.7 376.1h0M630.0 379.2h0M628.5 382.0h0M635.1 393.9h0M642.4 393.9h0M633.1 394.9h0M639.0 395.0h0M633.3 394.6h0M640.3 393.9h0M641.8 398.8h0M637.3 394.6h0M639.1 394.3h0M649.9 399.9h0M649.1 392.5h0M642.9 394.4h0M651.9 398.3h0M648.8 401.4h0M645.3 390.8h0M640.9 397.0h0M644.2 393.0h0M640.8 395.0h0M639.7 393.9h0M634.7 394.2h0M635.7 392.7h0M642.3 394.1h0M638.7 400.0h0M647.0 399.4h0M633.3 391.8h0M651.0 399.7h0M640.5 397.5h0M645.0 394.8h0M649.3 394.6h0M650.3 394.3h0M651.0 398.3h0M645.1 392.4h0M644.1 399.8h0M650.7 398.2h0M641.0 391.6h0M636.5 391.8h0M639.7 393.0h0M636.7 392.7h0M635.4 396.8h0M639.9 395.2h0M633.8 394.7h0M637.3 393.0h0M635.6 393.5h0M635.8 395.8h0M639.2 392.1h0M635.8 392.8h0M639.0 396.1h0M633.9 394.6h0M638.8 397.3h0" stroke="#f0f0f0" stroke-width="1.05" stroke-linecap="round"/>
<path d="M601.6 381.5h0M616.6 381.4h0M595.8 388.1h0M591.0 386.6h0M594.1 383.4h0M614.3 388.7h0M619.3 378.3h0M618.1 381.3h0M605.2 384.8h0M616.3 384.3h0M598.9 383.9h0M602.3 381.3h0M611.8 374.3h0M603.0 379.0h0M595.4 379.7h0M615.2 378.3h0M601.9 374.6h0M615.7 375.6h0M612.7 375.3h0M604.0 376.8h0M608.3 377.5h0M605.3 375.7h0M605.3 376.3h0M609.8 377.9h0M595.0 382.1h0M601.5 376.9h0M582.5 386.1h0M603.5 382.1h0M589.7 383.0h0M592.3 383.7h0M598.4 382.5h0M595.9 375.7h0M590.1 380.7h0M588.2 383.9h0M588.3 386.0h0M618.2 382.5h0M597.5 376.0h0M616.5 385.4h0M602.6 374.3h0M596.6 383.4h0M592.1 377.6h0M595.5 381.6h0M621.5 379.5h0M618.6 377.5h0M603.6 374.6h0M604.3 377.8h0M619.7 384.3h0M600.5 383.9h0M600.8 375.5h0M605.3 379.3h0M581.8 386.3h0M608.2 373.8h0M591.8 382.7h0M620.4 382.8h0M592.3 384.3h0M592.3 385.6h0M611.4 383.9h0M601.9 378.4h0M603.1 375.9h0M615.9 375.4h0M620.9 382.9h0M607.0 373.6h0M599.1 379.0h0M614.9 379.3h0M607.6 374.9h0M583.2 384.1h0M590.5 384.0h0M575.9 388.7h0M593.8 382.5h0M601.1 381.3h0M613.8 379.3h0M589.3 380.9h0M607.7 384.1h0M608.4 373.4h0M590.1 384.6h0M632.8 379.6h0M639.7 377.9h0M637.3 382.3h0M635.7 382.2h0M638.4 374.4h0M634.7 378.9h0M627.7 380.9h0M647.2 398.1h0M634.1 394.2h0" stroke="#fbd0b9" stroke-width="1.05" stroke-linecap="round"/>
<path d="M614.5 383.2h0M612.3 383.8h0M592.1 379.3h0M601.8 382.6h0M599.3 382.3h0M591.7 384.2h0M594.2 383.7h0M599.1 382.8h0M595.6 384.3h0M600.1 380.7h0M579.5 387.1h0M614.4 388.3h0M604.7 381.0h0M583.5 386.0h0M606.8 377.8h0M615.5 387.8h0M587.3 385.4h0M607.5 384.7h0M607.1 381.9h0M600.0 377.9h0M608.9 380.5h0M617.9 383.3h0M607.5 377.7h0M587.3 382.5h0M588.9 386.8h0M610.6 382.7h0M598.0 379.8h0M609.9 383.8h0M605.6 376.5h0M606.9 379.4h0M615.0 381.5h0M610.6 376.7h0M609.2 387.3h0M597.1 385.2h0M612.8 379.1h0M603.2 381.5h0M608.0 373.5h0M602.0 382.8h0M618.5 387.2h0M611.1 379.8h0M606.2 382.9h0M600.0 382.7h0M608.6 381.5h0M605.4 390.1h0M595.8 380.4h0M594.5 384.8h0M617.0 383.4h0M603.3 379.8h0M619.2 383.2h0M588.4 386.1h0M613.8 383.1h0M609.7 381.5h0M607.5 374.6h0M611.0 382.0h0M585.2 387.2h0M598.6 383.3h0M615.3 387.9h0M608.6 381.5h0M592.0 386.1h0M604.3 379.5h0M618.4 383.0h0M607.3 383.7h0M596.5 387.2h0M611.6 378.7h0M614.5 386.3h0M612.3 381.5h0M611.4 377.7h0M614.8 383.4h0M614.2 383.5h0M605.4 386.9h0M630.3 379.3h0M645.0 392.1h0M634.7 395.5h0M596.9 399.4h0M601.4 399.2h0" stroke="#f7ba9d" stroke-width="1.05" stroke-linecap="round"/>
<path d="M609.7 387.3h0M611.9 387.0h0M608.3 383.0h0M598.2 388.5h0M614.9 383.2h0M595.6 386.5h0M617.4 384.6h0M601.6 384.6h0M608.0 389.4h0M601.8 389.4h0M601.8 387.8h0M606.4 379.9h0M617.2 385.2h0M606.0 383.5h0M597.5 387.7h0M610.0 377.9h0M614.0 383.6h0M601.6 387.7h0M602.9 388.9h0M604.3 386.7h0M614.9 387.9h0M615.7 388.2h0M614.5 388.8h0M608.3 387.2h0M608.8 386.6h0M612.5 389.8h0M611.3 382.7h0M611.1 389.8h0M602.3 395.3h0M600.2 400.7h0M610.1 400.6h0" stroke="#f4a582" stroke-width="1.05" stroke-linecap="round"/>
<path d="M599.0 374.2h0M617.9 384.1h0M593.3 385.5h0M621.0 380.8h0M594.4 376.1h0M615.4 378.7h0M600.9 378.6h0M592.9 384.4h0M594.5 384.1h0M581.6 386.8h0M616.1 380.9h0M602.1 378.7h0M612.0 374.0h0M612.5 378.6h0M578.5 387.5h0M584.1 383.6h0M598.3 376.9h0M592.8 380.9h0M614.6 375.2h0M597.0 381.6h0M616.6 377.8h0M614.1 377.0h0M615.5 374.6h0M615.5 374.7h0M585.8 384.2h0M620.2 380.6h0M610.7 375.7h0M602.7 374.1h0M588.0 381.0h0M612.1 380.8h0M627.1 380.9h0M632.8 382.5h0M627.9 379.7h0M638.4 381.0h0M631.6 379.1h0M631.8 377.8h0M628.9 380.7h0M634.8 381.8h0M638.3 374.0h0M637.1 382.2h0M632.1 381.7h0M635.7 375.7h0M635.4 379.9h0M635.3 378.0h0M639.4 377.8h0M627.6 380.9h0M631.4 382.9h0M635.8 379.2h0M635.6 375.9h0M635.4 378.2h0M636.5 382.3h0M635.7 381.7h0M636.0 376.4h0M635.2 377.4h0M635.7 379.0h0M645.3 392.2h0M634.6 397.3h0M650.5 398.1h0M641.1 394.8h0M640.3 394.5h0M646.8 399.2h0M647.4 399.2h0M631.2 394.1h0M648.3 395.7h0M648.1 398.8h0M650.9 398.2h0M641.3 396.4h0M643.9 397.3h0M647.1 393.2h0M647.4 392.4h0M640.0 394.7h0M636.3 394.7h0M638.9 395.9h0M638.5 396.4h0M633.8 394.6h0M640.0 394.8h0" stroke="#f8e2d4" stroke-width="1.05" stroke-linecap="round"/>
<path d="M599.5 389.9h0M607.8 382.6h0M610.9 385.3h0M606.6 388.4h0M601.6 389.0h0M600.5 385.5h0M607.0 390.8h0M606.3 390.0h0M604.2 394.6h0M599.3 399.3h0M599.4 398.8h0M603.9 396.5h0M604.0 395.4h0M601.7 397.3h0M609.8 402.5h0M612.8 403.5h0M608.9 401.8h0M609.5 399.8h0" stroke="#e8896c" stroke-width="1.05" stroke-linecap="round"/>
<path d="M609.0 388.6h0M602.1 395.8h0M600.1 396.7h0M611.1 404.3h0M608.7 401.0h0M612.5 403.8h0M610.3 405.3h0M610.5 403.0h0M609.5 398.4h0M609.4 402.8h0M610.2 399.4h0M608.7 400.8h0" stroke="#dc6d57" stroke-width="1.05" stroke-linecap="round"/>
<path d="M599.7 398.1h0M599.4 399.3h0M600.8 398.2h0M602.8 397.3h0M611.2 403.6h0M613.0 407.5h0M609.6 400.3h0M610.2 405.3h0M613.9 406.2h0M611.7 406.2h0M608.1 401.6h0M610.0 405.7h0" stroke="#67001f" stroke-width="1.05" stroke-linecap="round"/>
<path d="M603.0 393.9h0M601.4 394.4h0M603.6 397.5h0M611.2 402.0h0M610.6 405.8h0M610.3 404.0h0" stroke="#980f27" stroke-width="1.05" stroke-linecap="round"/>
<path d="M606.0 394.5h0M603.4 396.7h0M600.0 398.2h0M602.8 396.7h0M599.0 397.2h0M598.8 397.5h0M603.8 397.0h0M598.5 400.0h0M603.9 393.5h0M602.3 394.5h0M608.3 400.4h0M609.1 402.7h0M608.4 404.1h0M608.9 403.1h0M611.6 402.6h0M608.4 404.5h0" stroke="#bb2933" stroke-width="1.05" stroke-linecap="round"/>
<path d="M604.8 393.6h0M602.3 395.0h0M604.3 398.4h0M608.3 398.4h0M611.8 406.7h0M611.8 405.3h0M611.7 403.6h0" stroke="#cd4e44" stroke-width="1.05" stroke-linecap="round"/>
<defs><linearGradient id="cb314" x1="0" y1="1" x2="0" y2="0"><stop offset="0" stop-color="#053061"/><stop offset="0.1" stop-color="#2166ac"/><stop offset="0.2" stop-color="#9cc7df"/><stop offset="0.32" stop-color="#f0f0f0"/><stop offset="0.45" stop-color="#fddbc7"/><stop offset="0.65" stop-color="#ee9777"/><stop offset="0.85" stop-color="#bb2933"/><stop offset="1" stop-color="#67001f"/></linearGradient></defs>
<rect x="656.6" y="314.6" width="2.4" height="97.9" fill="url(#cb314)"/>
<line x1="659.0" y1="324.2" x2="660.3" y2="324.2" stroke="#555" stroke-width="0.4"/>
<text x="664.7" y="326.3" font-size="6.2">30</text>
<line x1="659.0" y1="343.5" x2="660.3" y2="343.5" stroke="#555" stroke-width="0.4"/>
<text x="664.7" y="345.6" font-size="6.2">20</text>
<line x1="659.0" y1="362.7" x2="660.3" y2="362.7" stroke="#555" stroke-width="0.4"/>
<text x="664.7" y="364.8" font-size="6.2">10</text>
<line x1="659.0" y1="382.0" x2="660.3" y2="382.0" stroke="#555" stroke-width="0.4"/>
<text x="664.7" y="384.1" font-size="6.2">0</text>
<line x1="659.0" y1="401.3" x2="660.3" y2="401.3" stroke="#555" stroke-width="0.4"/>
<text x="660.0" y="403.4" font-size="5.8">−</text>
<text x="664.7" y="403.4" font-size="6.2">10</text>
<text x="678.3" y="363.6" font-size="6.6" text-anchor="middle" textLength="25.0" lengthAdjust="spacingAndGlyphs" transform="rotate(90 678.3 363.6)">z-score</text>
<text x="551.5" y="363.6" font-size="6.9" text-anchor="middle" textLength="22.0" lengthAdjust="spacingAndGlyphs" transform="rotate(-90 551.5 363.6)">UMAP2</text>
<text x="609.2" y="423.8" font-size="6.9" text-anchor="middle" textLength="22.9" lengthAdjust="spacingAndGlyphs">UMAP1</text>
</g>
<text x="299.0" y="453.8" font-size="11" font-weight="bold">g</text>
<rect x="330.0" y="466.6" width="137.2" height="42.7" fill="#fff" stroke="#8a8a8a" stroke-width="0.6"/>
<path d="M335.8 506.0V469.20M336.3 506.0V478.37M336.8 506.0V485.22M337.3 506.0V490.33M337.8 506.0V494.16M338.3 506.0V497.03M339.3 506.0V500.79M339.8 506.0V502.00M340.3 506.0V502.91M340.8 506.0V503.60M341.3 506.0V504.12" stroke="#ec2a3e" stroke-width="0.75"/>
<path d="M338.8 506.0V499.18" stroke="#f0504a" stroke-width="0.75"/>
<path d="M341.8 506.0V504.51M343.3 506.0V505.22M344.8 506.0V505.55M345.8 506.0V505.67M346.8 506.0V505.75" stroke="#f0a050" stroke-width="0.75"/>
<path d="M342.3 506.0V504.82M345.3 506.0V505.62" stroke="#ec6a48" stroke-width="0.75"/>
<path d="M342.8 506.0V505.05M346.3 506.0V505.72" stroke="#e8b860" stroke-width="0.75"/>
<path d="M343.8 506.0V505.36M344.3 506.0V505.47M347.3 506.0V505.78" stroke="#f07a4a" stroke-width="0.75"/>
<line x1="330.5" y1="507.0" x2="466.7" y2="507.0" stroke="#e8603a" stroke-width="0.55" stroke-dasharray="1.6,1"/>
<text x="325.8" y="476.3" font-size="6.6" text-anchor="end">4.0</text>
<text x="325.8" y="492.3" font-size="6.6" text-anchor="end">2.0</text>
<text x="325.8" y="508.3" font-size="6.6" text-anchor="end">0</text>
<text x="336.7" y="517.7" font-size="6.6" text-anchor="middle">0</text>
<text x="401.0" y="517.7" font-size="6.6" text-anchor="middle">1,000</text>
<text x="462.3" y="517.7" font-size="6.6" text-anchor="middle">2,000</text>
<text x="400.4" y="529.4" font-size="7.2" text-anchor="middle" textLength="30.0" lengthAdjust="spacingAndGlyphs">Cell rank</text>
<text x="308.5" y="488.0" font-size="6.8" text-anchor="middle" textLength="35.5" lengthAdjust="spacingAndGlyphs" transform="rotate(-90 308.5 488.0)">Probability</text>
<text x="330" y="463.0" font-size="7.8" textLength="22.8" lengthAdjust="spacingAndGlyphs">1 × 10<tspan dy="-2.9" font-size="5.2">−2</tspan></text>
<text x="377.0" y="462.3" font-size="6.9" textLength="43.5" lengthAdjust="spacingAndGlyphs">Motif: GATA1</text>
<rect x="513.6" y="466.6" width="133.4" height="43.3" fill="#fff" stroke="#8a8a8a" stroke-width="0.6"/>
<path d="M515.7 507.8V469.70M516.2 507.8V473.91M516.7 507.8V477.60M517.2 507.8V480.82M517.7 507.8V483.65M518.2 507.8V486.12M518.7 507.8V488.29M519.2 507.8V490.20M519.7 507.8V491.88M520.2 507.8V493.35M520.7 507.8V494.65M522.2 507.8V497.69M523.2 507.8V499.18M523.7 507.8V499.81M524.2 507.8V500.36M524.7 507.8V500.86M525.2 507.8V501.30M525.7 507.8V501.69M526.2 507.8V502.05M526.7 507.8V502.37M527.2 507.8V502.66M527.7 507.8V502.92M528.2 507.8V503.16M528.7 507.8V503.37M529.2 507.8V503.57M529.7 507.8V503.75M530.7 507.8V504.07M531.2 507.8V504.21" stroke="#ec2a3e" stroke-width="0.75"/>
<path d="M521.2 507.8V495.79M521.7 507.8V496.80M522.7 507.8V498.48M530.2 507.8V503.92" stroke="#f0504a" stroke-width="0.75"/>
<path d="M531.7 507.8V504.34M534.2 507.8V504.88M534.7 507.8V504.96M535.2 507.8V505.05M537.2 507.8V505.34M538.2 507.8V505.47" stroke="#ec6a48" stroke-width="0.75"/>
<path d="M532.2 507.8V504.46M533.2 507.8V504.68M533.7 507.8V504.78M536.7 507.8V505.27M537.7 507.8V505.41" stroke="#f07a4a" stroke-width="0.75"/>
<path d="M532.7 507.8V504.58M535.7 507.8V505.13M539.2 507.8V505.59" stroke="#f0a050" stroke-width="0.75"/>
<path d="M536.2 507.8V505.20M538.7 507.8V505.53M541.7 507.8V505.84M548.2 507.8V506.34M554.2 507.8V506.67M555.7 507.8V506.74M561.7 507.8V506.97M563.2 507.8V507.02M568.7 507.8V507.18M573.7 507.8V507.31M574.2 507.8V507.32M576.2 507.8V507.37M577.7 507.8V507.40M587.2 507.8V507.58" stroke="#e8b860" stroke-width="0.75"/>
<path d="M539.7 507.8V505.64M542.2 507.8V505.89M543.2 507.8V505.97M543.7 507.8V506.02M547.2 507.8V506.28M549.2 507.8V506.40M552.7 507.8V506.60M555.2 507.8V506.72M557.7 507.8V506.82M565.7 507.8V507.10M567.2 507.8V507.14M576.7 507.8V507.38M578.2 507.8V507.41M581.7 507.8V507.48M582.2 507.8V507.49M584.2 507.8V507.53M586.7 507.8V507.57" stroke="#f0b058" stroke-width="0.75"/>
<path d="M540.2 507.8V505.69M546.7 507.8V506.24M547.7 507.8V506.31M548.7 507.8V506.37M549.7 507.8V506.43M551.2 507.8V506.52M553.2 507.8V506.62M556.7 507.8V506.78M559.2 507.8V506.88M565.2 507.8V507.09M566.2 507.8V507.11M568.2 507.8V507.17M569.2 507.8V507.20M570.7 507.8V507.24M571.7 507.8V507.26M577.2 507.8V507.39M580.7 507.8V507.46M584.7 507.8V507.54M585.7 507.8V507.55M587.7 507.8V507.59" stroke="#e6c070" stroke-width="0.75"/>
<path d="M540.7 507.8V505.74M542.7 507.8V505.93M551.7 507.8V506.54M552.2 507.8V506.57M553.7 507.8V506.65M556.2 507.8V506.76M557.2 507.8V506.80M560.2 507.8V506.92M561.2 507.8V506.95M562.2 507.8V506.99M563.7 507.8V507.04M564.2 507.8V507.05M567.7 507.8V507.16M570.2 507.8V507.22M571.2 507.8V507.25M575.7 507.8V507.36M578.7 507.8V507.42M579.2 507.8V507.43M583.2 507.8V507.51M585.2 507.8V507.54M588.2 507.8V507.60" stroke="#5e9a70" stroke-width="0.75"/>
<path d="M541.2 507.8V505.79M550.7 507.8V506.49M554.7 507.8V506.69M558.7 507.8V506.86M566.7 507.8V507.13M573.2 507.8V507.30M575.2 507.8V507.34M586.2 507.8V507.56" stroke="#b8b860" stroke-width="0.75"/>
<path d="M544.2 507.8V506.06M544.7 507.8V506.10M545.7 507.8V506.17M546.2 507.8V506.21M558.2 507.8V506.84M560.7 507.8V506.94M562.7 507.8V507.01M569.7 507.8V507.21M572.7 507.8V507.29M574.7 507.8V507.33M579.7 507.8V507.44M580.2 507.8V507.45M582.7 507.8V507.50" stroke="#7aaa68" stroke-width="0.75"/>
<path d="M545.2 507.8V506.13M550.2 507.8V506.46M559.7 507.8V506.90M564.7 507.8V507.07M572.2 507.8V507.27M581.2 507.8V507.47M583.7 507.8V507.52" stroke="#8cb060" stroke-width="0.75"/>
<line x1="514.1" y1="504.0" x2="646.5" y2="504.0" stroke="#e8603a" stroke-width="0.55" stroke-dasharray="1.6,1"/>
<text x="509.4" y="473.3" font-size="6.6" text-anchor="end">1.0</text>
<text x="509.4" y="491.7" font-size="6.6" text-anchor="end">0.5</text>
<text x="509.4" y="510.1" font-size="6.6" text-anchor="end">0</text>
<text x="516.2" y="517.7" font-size="6.6" text-anchor="middle">0</text>
<text x="580.0" y="517.7" font-size="6.6" text-anchor="middle">1,000</text>
<text x="641.2" y="517.7" font-size="6.6" text-anchor="middle">2,000</text>
<text x="575.0" y="529.4" font-size="7.2" text-anchor="middle" textLength="30.0" lengthAdjust="spacingAndGlyphs">Cell rank</text>
<text x="490.5" y="488.0" font-size="6.8" text-anchor="middle" textLength="35.5" lengthAdjust="spacingAndGlyphs" transform="rotate(-90 490.5 488.0)">Probability</text>
<text x="509.8" y="463.0" font-size="7.8" textLength="22.8" lengthAdjust="spacingAndGlyphs">1 × 10<tspan dy="-2.9" font-size="5.2">−2</tspan></text>
<text x="551.6" y="462.3" font-size="6.9" textLength="53.7" lengthAdjust="spacingAndGlyphs"><tspan font-style="italic">k</tspan>-mer: GATAAG</text>
<rect x="328.0" y="555.7" width="139.2" height="42.0" fill="#fff" stroke="#8a8a8a" stroke-width="0.6"/>
<path d="M334.7 596.6V557.00M340.7 596.6V578.99" stroke="#f0504a" stroke-width="0.75"/>
<path d="M335.2 596.6V559.89M335.7 596.6V562.53M336.2 596.6V564.93M336.7 596.6V567.12M337.2 596.6V569.11M337.7 596.6V570.93M338.2 596.6V572.59M338.7 596.6V574.11M339.2 596.6V575.49M339.7 596.6V576.76M340.2 596.6V577.92M341.2 596.6V579.96M341.7 596.6V580.85M342.2 596.6V581.67M342.7 596.6V582.43M343.2 596.6V583.12M343.7 596.6V583.76M344.2 596.6V584.35M344.7 596.6V584.90M345.2 596.6V585.40M345.7 596.6V585.86M346.2 596.6V586.29M346.7 596.6V586.69M347.2 596.6V587.06" stroke="#ec2a3e" stroke-width="0.75"/>
<path d="M347.7 596.6V587.41M349.2 596.6V588.31M352.7 596.6V589.84M354.7 596.6V590.46M357.2 596.6V591.09M357.7 596.6V591.20M361.7 596.6V591.93M364.7 596.6V592.36M365.2 596.6V592.42M366.7 596.6V592.60M368.7 596.6V592.82M370.2 596.6V592.96M371.2 596.6V593.06M371.7 596.6V593.10M372.7 596.6V593.19M374.7 596.6V593.35M380.2 596.6V593.73M384.7 596.6V593.98M387.7 596.6V594.13M389.7 596.6V594.22M394.2 596.6V594.40M395.7 596.6V594.45M396.2 596.6V594.47M397.7 596.6V594.52M402.7 596.6V594.68M409.2 596.6V594.86M413.2 596.6V594.96M414.2 596.6V594.98M415.2 596.6V595.00M419.2 596.6V595.09M427.7 596.6V595.26M428.7 596.6V595.27M440.2 596.6V595.48M450.7 596.6V595.65M453.7 596.6V595.69M454.2 596.6V595.70M458.7 596.6V595.77" stroke="#e8b860" stroke-width="0.75"/>
<path d="M348.2 596.6V587.73M353.2 596.6V590.01M353.7 596.6V590.17M354.2 596.6V590.32" stroke="#f07a4a" stroke-width="0.75"/>
<path d="M348.7 596.6V588.03M351.7 596.6V589.46" stroke="#ec6a48" stroke-width="0.75"/>
<path d="M349.7 596.6V588.57M350.2 596.6V588.82M350.7 596.6V589.05M351.2 596.6V589.26M352.2 596.6V589.66M355.2 596.6V590.60" stroke="#f0a050" stroke-width="0.75"/>
<path d="M355.7 596.6V590.73M376.7 596.6V593.50M383.2 596.6V593.90M400.7 596.6V594.62M403.2 596.6V594.70M408.2 596.6V594.83M409.7 596.6V594.87M410.2 596.6V594.88M414.7 596.6V594.99M417.7 596.6V595.06M419.7 596.6V595.10M420.7 596.6V595.12M422.7 596.6V595.16M423.2 596.6V595.17M429.2 596.6V595.28M432.2 596.6V595.34M433.2 596.6V595.36M435.7 596.6V595.40M437.2 596.6V595.43M438.7 596.6V595.45M442.2 596.6V595.51M443.7 596.6V595.53M444.2 596.6V595.54M447.7 596.6V595.60M449.7 596.6V595.63M451.7 596.6V595.66M454.7 596.6V595.71M456.7 596.6V595.74M459.2 596.6V595.78" stroke="#7aaa68" stroke-width="0.75"/>
<path d="M356.2 596.6V590.86M358.7 596.6V591.41M359.7 596.6V591.59M361.2 596.6V591.85M362.2 596.6V592.01M367.7 596.6V592.71M368.2 596.6V592.76M383.7 596.6V593.93M385.7 596.6V594.03M390.2 596.6V594.24M392.7 596.6V594.34M400.2 596.6V594.60M405.7 596.6V594.77M406.2 596.6V594.78M417.2 596.6V595.05M444.7 596.6V595.55M449.2 596.6V595.62M453.2 596.6V595.69" stroke="#f0b058" stroke-width="0.75"/>
<path d="M356.7 596.6V590.98M360.2 596.6V591.68M360.7 596.6V591.77M362.7 596.6V592.08M369.7 596.6V592.92M370.7 596.6V593.01M376.2 596.6V593.46M377.2 596.6V593.53M377.7 596.6V593.57M381.2 596.6V593.79M390.7 596.6V594.26M391.2 596.6V594.28M393.7 596.6V594.38M394.7 596.6V594.42M407.7 596.6V594.82M408.7 596.6V594.85M411.7 596.6V594.92M412.2 596.6V594.93M413.7 596.6V594.97M431.2 596.6V595.32M431.7 596.6V595.33" stroke="#e6c070" stroke-width="0.75"/>
<path d="M358.2 596.6V591.31M366.2 596.6V592.54M373.2 596.6V593.23M378.2 596.6V593.60M379.7 596.6V593.70M384.2 596.6V593.96M386.7 596.6V594.08M388.2 596.6V594.15M389.2 596.6V594.20M401.7 596.6V594.65M402.2 596.6V594.67M404.2 596.6V594.72M421.7 596.6V595.14M423.7 596.6V595.18M424.2 596.6V595.19M426.7 596.6V595.24M427.2 596.6V595.25M433.7 596.6V595.37M434.2 596.6V595.37M435.2 596.6V595.39M436.7 596.6V595.42M438.2 596.6V595.44M439.2 596.6V595.46M443.2 596.6V595.53M447.2 596.6V595.59M448.2 596.6V595.61M448.7 596.6V595.62M450.2 596.6V595.64M451.2 596.6V595.65M452.7 596.6V595.68M455.2 596.6V595.72M457.2 596.6V595.75M460.2 596.6V595.79" stroke="#8cb060" stroke-width="0.75"/>
<path d="M359.2 596.6V591.50M363.2 596.6V592.15M363.7 596.6V592.22M364.2 596.6V592.29M374.2 596.6V593.31M379.2 596.6V593.67M380.7 596.6V593.76M381.7 596.6V593.82M382.7 596.6V593.87M386.2 596.6V594.06M391.7 596.6V594.30M392.2 596.6V594.32M393.2 596.6V594.36M396.7 596.6V594.49M397.2 596.6V594.51M398.2 596.6V594.54M399.2 596.6V594.57M399.7 596.6V594.59M403.7 596.6V594.71M405.2 596.6V594.75M406.7 596.6V594.79M410.7 596.6V594.90M412.7 596.6V594.94M416.2 596.6V595.02M418.2 596.6V595.07M420.2 596.6V595.11M422.2 596.6V595.15M424.7 596.6V595.20M425.2 596.6V595.21M426.2 596.6V595.23M429.7 596.6V595.29M430.2 596.6V595.30M432.7 596.6V595.35M436.2 596.6V595.41M437.7 596.6V595.43M439.7 596.6V595.47M440.7 596.6V595.48M441.2 596.6V595.49M442.7 596.6V595.52M445.7 596.6V595.57M446.2 596.6V595.58M446.7 596.6V595.58M452.2 596.6V595.67M455.7 596.6V595.73M458.2 596.6V595.76M459.7 596.6V595.79" stroke="#5e9a70" stroke-width="0.75"/>
<path d="M365.7 596.6V592.48M367.2 596.6V592.65M369.2 596.6V592.87M372.2 596.6V593.15M373.7 596.6V593.27M375.2 596.6V593.39M375.7 596.6V593.43M378.7 596.6V593.63M382.2 596.6V593.85M385.2 596.6V594.01M387.2 596.6V594.11M388.7 596.6V594.17M395.2 596.6V594.44M398.7 596.6V594.56M401.2 596.6V594.64M404.7 596.6V594.74M407.2 596.6V594.81M411.2 596.6V594.91M415.7 596.6V595.01M416.7 596.6V595.03M418.7 596.6V595.08M421.2 596.6V595.13M425.7 596.6V595.22M428.2 596.6V595.27M430.7 596.6V595.31M434.7 596.6V595.38M441.7 596.6V595.50M445.2 596.6V595.56M456.2 596.6V595.73M457.7 596.6V595.76" stroke="#b8b860" stroke-width="0.75"/>
<line x1="328.5" y1="590.4" x2="466.7" y2="590.4" stroke="#e8603a" stroke-width="0.55" stroke-dasharray="1.6,1"/>
<text x="323.8" y="559.5" font-size="6.6" text-anchor="end">6.0</text>
<text x="323.8" y="572.6" font-size="6.6" text-anchor="end">4.0</text>
<text x="323.8" y="585.7" font-size="6.6" text-anchor="end">2.0</text>
<text x="323.8" y="598.9" font-size="6.6" text-anchor="end">0</text>
<text x="336.7" y="605.2" font-size="6.6" text-anchor="middle">0</text>
<text x="401.0" y="605.2" font-size="6.6" text-anchor="middle">1,000</text>
<text x="462.3" y="605.2" font-size="6.6" text-anchor="middle">2,000</text>
<text x="398.0" y="617.6" font-size="7.2" text-anchor="middle" textLength="30.0" lengthAdjust="spacingAndGlyphs">Cell rank</text>
<text x="308.5" y="577.0" font-size="6.8" text-anchor="middle" textLength="35.5" lengthAdjust="spacingAndGlyphs" transform="rotate(-90 308.5 577.0)">Probability</text>
<text x="329.4" y="552.6" font-size="7.8" textLength="22.8" lengthAdjust="spacingAndGlyphs">1 × 10<tspan dy="-2.9" font-size="5.2">−3</tspan></text>
<text x="398.5" y="543.1" font-size="6.9" text-anchor="middle" textLength="69.0" lengthAdjust="spacingAndGlyphs">P1 (chr19:12997999–</text>
<text x="398.0" y="551.9" font-size="6.9" text-anchor="middle" textLength="35.0" lengthAdjust="spacingAndGlyphs">12998154)</text>
<rect x="510.7" y="555.7" width="136.3" height="42.0" fill="#fff" stroke="#8a8a8a" stroke-width="0.6"/>
<path d="M515.7 596.6V557.80M516.2 596.6V562.65M516.7 596.6V565.78M517.2 596.6V567.87M517.7 596.6V569.34M518.7 596.6V571.38M519.2 596.6V572.19M519.7 596.6V572.94M520.2 596.6V573.67M520.7 596.6V574.38M521.7 596.6V575.80M522.2 596.6V576.51M522.7 596.6V577.23M523.2 596.6V577.94M523.7 596.6V578.65M524.2 596.6V579.36M524.7 596.6V580.05M525.2 596.6V580.74M525.7 596.6V581.42M526.2 596.6V582.08M526.7 596.6V582.73M527.2 596.6V583.37M527.7 596.6V583.98M528.2 596.6V584.58M529.2 596.6V585.72M529.7 596.6V586.26M530.2 596.6V586.78" stroke="#ec2a3e" stroke-width="0.75"/>
<path d="M518.2 596.6V570.46M521.2 596.6V575.09M528.7 596.6V585.16" stroke="#f0504a" stroke-width="0.75"/>
<path d="M530.7 596.6V587.28M531.2 596.6V587.75M531.7 596.6V588.21M533.7 596.6V589.83M534.2 596.6V590.19M534.7 596.6V590.52M540.2 596.6V593.15M541.2 596.6V593.45M542.7 596.6V593.83M546.7 596.6V594.50M550.2 596.6V594.82M553.2 596.6V594.98M553.7 596.6V595.00M558.7 596.6V595.13M559.2 596.6V595.14M568.7 596.6V595.26M569.7 596.6V595.27M574.7 596.6V595.31M575.2 596.6V595.32M579.7 596.6V595.36M581.7 596.6V595.37M586.2 596.6V595.41M587.7 596.6V595.43M588.7 596.6V595.43M591.7 596.6V595.46M592.2 596.6V595.46M598.7 596.6V595.52M599.2 596.6V595.53M600.2 596.6V595.53M600.7 596.6V595.54M605.2 596.6V595.58M627.2 596.6V595.77M628.7 596.6V595.78M631.7 596.6V595.81" stroke="#e8b860" stroke-width="0.75"/>
<path d="M532.2 596.6V588.65M532.7 596.6V589.06M537.2 596.6V591.94" stroke="#f0a050" stroke-width="0.75"/>
<path d="M533.2 596.6V589.46M535.7 596.6V591.14M536.7 596.6V591.69M538.2 596.6V592.40" stroke="#f07a4a" stroke-width="0.75"/>
<path d="M535.2 596.6V590.84M536.2 596.6V591.43M537.7 596.6V592.18" stroke="#ec6a48" stroke-width="0.75"/>
<path d="M538.7 596.6V592.60M542.2 596.6V593.71M545.2 596.6V594.30M545.7 596.6V594.37M547.2 596.6V594.56M547.7 596.6V594.61M552.2 596.6V594.93M554.7 596.6V595.03M560.2 596.6V595.16M572.2 596.6V595.29M576.2 596.6V595.33M583.2 596.6V595.39M583.7 596.6V595.39M586.7 596.6V595.42M596.7 596.6V595.50M597.2 596.6V595.51M602.2 596.6V595.55M604.7 596.6V595.57M616.2 596.6V595.67M620.7 596.6V595.71M622.7 596.6V595.73M623.7 596.6V595.74M633.7 596.6V595.83M635.7 596.6V595.84" stroke="#b8b860" stroke-width="0.75"/>
<path d="M539.2 596.6V592.80M541.7 596.6V593.59M549.2 596.6V594.75M550.7 596.6V594.85M551.7 596.6V594.91M552.7 596.6V594.96M555.2 596.6V595.05M555.7 596.6V595.06M558.2 596.6V595.12M562.2 596.6V595.19M562.7 596.6V595.19M570.7 596.6V595.28M572.7 596.6V595.29M573.2 596.6V595.30M575.7 596.6V595.32M578.7 596.6V595.35M592.7 596.6V595.47M593.2 596.6V595.47M594.7 596.6V595.49M595.2 596.6V595.49M596.2 596.6V595.50M597.7 596.6V595.51M607.2 596.6V595.60M607.7 596.6V595.60M611.7 596.6V595.63M612.7 596.6V595.64M621.2 596.6V595.72M624.7 596.6V595.75M626.7 596.6V595.76M634.7 596.6V595.83M635.2 596.6V595.84M638.2 596.6V595.86" stroke="#f0b058" stroke-width="0.75"/>
<path d="M539.7 596.6V592.98M540.7 596.6V593.30M543.7 596.6V594.04M548.2 596.6V594.66M551.2 596.6V594.88M563.2 596.6V595.20M564.2 596.6V595.21M565.7 596.6V595.23M566.7 596.6V595.24M569.2 596.6V595.26M571.7 596.6V595.29M577.7 596.6V595.34M580.2 596.6V595.36M581.2 596.6V595.37M584.2 596.6V595.40M589.2 596.6V595.44M589.7 596.6V595.44M590.7 596.6V595.45M601.7 596.6V595.55M606.7 596.6V595.59M610.2 596.6V595.62M614.7 596.6V595.66M618.2 596.6V595.69M621.7 596.6V595.72M630.2 596.6V595.79M637.7 596.6V595.86" stroke="#e6c070" stroke-width="0.75"/>
<path d="M543.2 596.6V593.94M544.2 596.6V594.13M548.7 596.6V594.70M549.7 596.6V594.78M554.2 596.6V595.02M556.2 596.6V595.08M556.7 596.6V595.09M557.2 596.6V595.10M561.2 596.6V595.17M563.7 596.6V595.20M565.2 596.6V595.22M566.2 596.6V595.23M567.2 596.6V595.24M571.2 596.6V595.28M574.2 596.6V595.31M577.2 596.6V595.33M585.2 596.6V595.40M587.2 596.6V595.42M588.2 596.6V595.43M593.7 596.6V595.48M603.2 596.6V595.56M604.2 596.6V595.57M609.2 596.6V595.61M611.2 596.6V595.63M613.7 596.6V595.65M615.2 596.6V595.66M619.7 596.6V595.70M620.2 596.6V595.71M624.2 596.6V595.74M625.7 596.6V595.76M626.2 596.6V595.76M628.2 596.6V595.78M629.2 596.6V595.79M629.7 596.6V595.79M630.7 596.6V595.80M634.2 596.6V595.83M638.7 596.6V595.87" stroke="#8cb060" stroke-width="0.75"/>
<path d="M544.7 596.6V594.22M546.2 596.6V594.44M557.7 596.6V595.11M559.7 596.6V595.15M570.2 596.6V595.27M578.2 596.6V595.34M582.7 596.6V595.38M594.2 596.6V595.48M599.7 596.6V595.53M603.7 596.6V595.56M606.2 596.6V595.59M608.7 596.6V595.61M609.7 596.6V595.62M613.2 596.6V595.65M614.2 596.6V595.66M617.7 596.6V595.69M618.7 596.6V595.69M619.2 596.6V595.70M622.2 596.6V595.73M623.2 596.6V595.73M631.2 596.6V595.80" stroke="#7aaa68" stroke-width="0.75"/>
<path d="M560.7 596.6V595.16M561.7 596.6V595.18M564.7 596.6V595.22M567.7 596.6V595.25M568.2 596.6V595.25M573.7 596.6V595.30M576.7 596.6V595.33M579.2 596.6V595.35M580.7 596.6V595.36M582.2 596.6V595.38M584.7 596.6V595.40M585.7 596.6V595.41M590.2 596.6V595.45M591.2 596.6V595.46M595.7 596.6V595.50M598.2 596.6V595.52M601.2 596.6V595.54M602.7 596.6V595.56M605.7 596.6V595.58M608.2 596.6V595.60M610.7 596.6V595.63M612.2 596.6V595.64M615.7 596.6V595.67M616.7 596.6V595.68M617.2 596.6V595.68M625.2 596.6V595.75M627.7 596.6V595.77M632.2 596.6V595.81M632.7 596.6V595.82M633.2 596.6V595.82M636.2 596.6V595.85M636.7 596.6V595.85M637.2 596.6V595.86M639.2 596.6V595.87" stroke="#5e9a70" stroke-width="0.75"/>
<line x1="511.2" y1="591.3" x2="646.5" y2="591.3" stroke="#e8603a" stroke-width="0.55" stroke-dasharray="1.6,1"/>
<text x="506.5" y="561.5" font-size="6.6" text-anchor="end">7.5</text>
<text x="506.5" y="574.1" font-size="6.6" text-anchor="end">5.0</text>
<text x="506.5" y="586.3" font-size="6.6" text-anchor="end">2.5</text>
<text x="506.5" y="598.9" font-size="6.6" text-anchor="end">0</text>
<text x="516.2" y="605.2" font-size="6.6" text-anchor="middle">0</text>
<text x="580.0" y="605.2" font-size="6.6" text-anchor="middle">1,000</text>
<text x="641.2" y="605.2" font-size="6.6" text-anchor="middle">2,000</text>
<text x="578.4" y="617.6" font-size="7.2" text-anchor="middle" textLength="30.0" lengthAdjust="spacingAndGlyphs">Cell rank</text>
<text x="490.5" y="577.0" font-size="6.8" text-anchor="middle" textLength="35.5" lengthAdjust="spacingAndGlyphs" transform="rotate(-90 490.5 577.0)">Probability</text>
<text x="509.8" y="552.6" font-size="7.8" textLength="22.8" lengthAdjust="spacingAndGlyphs">1 × 10<tspan dy="-2.9" font-size="5.2">−3</tspan></text>
<text x="578.4" y="543.1" font-size="6.9" text-anchor="middle" textLength="70.0" lengthAdjust="spacingAndGlyphs">P2 (chr19:12998329–</text>
<text x="578.2" y="551.9" font-size="6.9" text-anchor="middle" textLength="35.7" lengthAdjust="spacingAndGlyphs">12998592)</text>
</svg>
</body></html>
